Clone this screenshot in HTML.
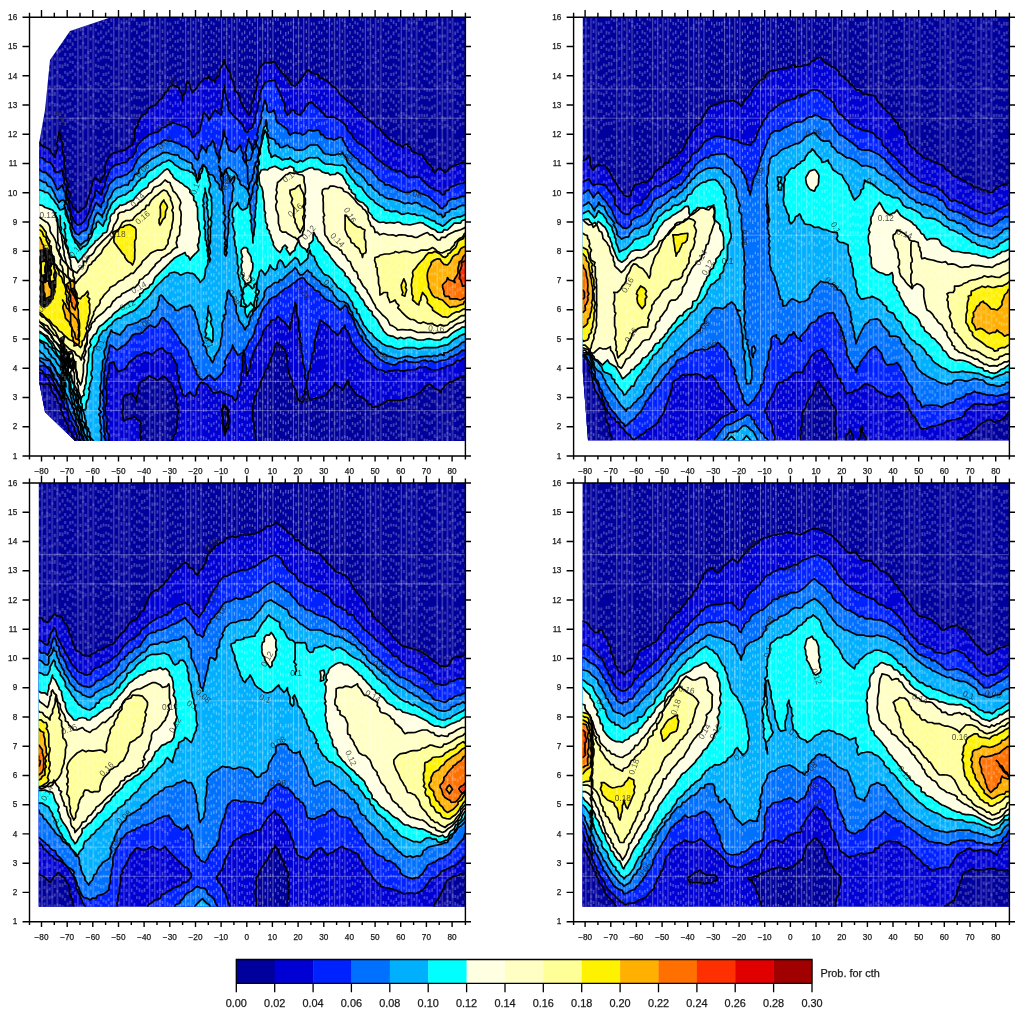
<!DOCTYPE html>
<html lang="en"><head><meta charset="utf-8"><title>Prob. for cth</title>
<style>html,body{margin:0;padding:0;background:#fff}body{width:1024px;height:1017px;overflow:hidden}svg{display:block}text{font-family:"Liberation Sans",sans-serif;fill:#1a1a1a;stroke:#1a1a1a;stroke-width:.25px}.tk text{font-size:8.2px}.cb text{font-size:10.9px}.cl text{font-size:8.3px;fill:#222;stroke:none;opacity:.78}</style></head><body>
<svg width="1024" height="1017" viewBox="0 0 1024 1017">
<defs><pattern id="tex" width="143.696" height="117.0" patternUnits="userSpaceOnUse" x="41.5" y="17"><path d="M0.50 0V117.0M5.63 0V117.0M10.76 0V117.0M15.90 0V117.0M36.42 0V117.0M41.55 0V117.0M46.68 0V117.0M51.82 0V117.0M72.35 0V117.0M77.48 0V117.0M82.61 0V117.0M87.75 0V117.0M108.27 0V117.0M113.40 0V117.0M118.53 0V117.0M123.67 0V117.0" stroke="#fff" stroke-opacity=".34" stroke-width="1"/><path d="M0.50 27.1v2.6M0.50 62.0v2.6M0.50 42.2v2.6M0.50 68.8v2.6M0.50 71.3v2.6M0.50 7.5v2.6M0.50 1.5v2.6M5.63 95.5v2.6M5.63 29.6v2.6M5.63 26.7v2.6M5.63 113.5v2.6M5.63 53.6v2.6M5.63 95.4v2.6M5.63 54.3v2.6M10.76 72.9v2.6M10.76 17.2v2.6M10.76 72.4v2.6M10.76 99.0v2.6M10.76 59.6v2.6M10.76 84.5v2.6M10.76 76.5v2.6M15.90 7.3v2.6M15.90 86.4v2.6M15.90 67.4v2.6M15.90 34.3v2.6M15.90 3.5v2.6M15.90 98.7v2.6M15.90 53.9v2.6M36.42 81.9v2.6M36.42 100.2v2.6M36.42 81.4v2.6M36.42 105.0v2.6M36.42 45.0v2.6M36.42 91.3v2.6M36.42 50.7v2.6M41.55 106.7v2.6M41.55 100.2v2.6M41.55 11.1v2.6M41.55 15.5v2.6M41.55 24.7v2.6M41.55 110.1v2.6M41.55 49.7v2.6M46.68 71.4v2.6M46.68 34.3v2.6M46.68 57.8v2.6M46.68 44.0v2.6M46.68 40.0v2.6M46.68 66.7v2.6M46.68 66.6v2.6M51.82 103.1v2.6M51.82 77.7v2.6M51.82 105.9v2.6M51.82 97.6v2.6M51.82 113.0v2.6M51.82 76.5v2.6M51.82 18.6v2.6M72.35 98.1v2.6M72.35 110.0v2.6M72.35 103.1v2.6M72.35 64.9v2.6M72.35 81.4v2.6M72.35 24.1v2.6M72.35 94.8v2.6M77.48 65.4v2.6M77.48 32.5v2.6M77.48 7.2v2.6M77.48 97.3v2.6M77.48 112.8v2.6M77.48 10.1v2.6M77.48 91.3v2.6M82.61 46.8v2.6M82.61 17.2v2.6M82.61 33.5v2.6M82.61 87.6v2.6M82.61 99.5v2.6M82.61 5.0v2.6M82.61 70.1v2.6M87.75 5.1v2.6M87.75 81.9v2.6M87.75 37.7v2.6M87.75 100.4v2.6M87.75 111.8v2.6M87.75 57.6v2.6M87.75 113.8v2.6M108.27 35.3v2.6M108.27 8.8v2.6M108.27 68.4v2.6M108.27 3.6v2.6M108.27 22.5v2.6M108.27 46.5v2.6M108.27 69.6v2.6M113.40 17.8v2.6M113.40 4.8v2.6M113.40 98.9v2.6M113.40 35.8v2.6M113.40 109.3v2.6M113.40 102.2v2.6M113.40 43.1v2.6M118.53 52.5v2.6M118.53 59.3v2.6M118.53 73.4v2.6M118.53 67.9v2.6M118.53 63.8v2.6M118.53 70.7v2.6M118.53 107.2v2.6M123.67 57.8v2.6M123.67 49.2v2.6M123.67 82.1v2.6M123.67 27.1v2.6M123.67 34.3v2.6M123.67 111.5v2.6M123.67 59.4v2.6" stroke="#fff" stroke-opacity=".2" stroke-width="2"/><path d="M3.07 5.5v2.6M3.07 14.1v3.3M3.07 20.7v3.3M3.07 30.3v2.7M3.07 40.0v3.2M3.07 49.9v3.0M3.07 59.9v3.5M3.07 66.5v2.7M3.07 76.4v3.8M3.07 84.1v3.1M3.07 93.6v3.0M3.07 101.9v3.0M3.07 110.3v3.3M8.20 3.8v3.5M8.20 10.4v3.3M8.20 20.6v3.0M8.20 28.2v3.6M8.20 35.9v2.8M8.20 44.6v3.4M8.20 51.6v3.0M8.20 59.7v3.6M8.20 68.4v3.6M8.20 75.8v3.0M8.20 85.5v3.7M8.20 94.3v2.9M8.20 101.4v3.2M8.20 108.8v3.6M13.33 1.8v2.9M13.33 12.4v3.4M13.33 22.9v3.0M13.33 30.1v3.0M13.33 40.5v2.9M13.33 48.8v3.1M13.33 57.4v3.1M13.33 68.5v2.8M13.33 75.0v3.7M13.33 85.9v3.8M13.33 94.5v3.7M13.33 105.7v2.9M18.46 8.4v3.4M18.46 17.5v2.9M18.46 25.7v2.9M18.46 32.5v3.3M18.46 40.4v3.6M18.46 47.2v3.7M18.46 57.1v3.7M18.46 68.1v3.7M18.46 77.5v2.6M18.46 87.7v2.8M18.46 95.7v3.4M18.46 104.9v3.1M21.03 6.1v3.0M21.03 13.9v3.6M21.03 22.8v3.5M21.03 31.0v2.8M21.03 40.2v3.6M21.03 47.6v3.6M21.03 58.7v3.6M21.03 69.3v2.6M21.03 78.9v3.6M21.03 85.7v2.9M21.03 93.5v3.2M21.03 102.1v3.2M21.03 112.5v2.6M23.60 1.3v2.7M23.60 8.1v3.8M23.60 18.9v2.7M23.60 27.9v3.0M23.60 36.0v3.0M23.60 45.7v3.3M23.60 54.0v2.8M23.60 62.1v2.7M23.60 71.4v3.5M23.60 79.8v2.7M23.60 87.2v3.0M23.60 96.7v3.5M23.60 105.1v3.6M26.16 4.3v3.0M26.16 13.3v3.4M26.16 21.9v3.4M26.16 30.7v2.9M26.16 39.9v3.4M26.16 46.7v3.1M26.16 55.4v3.7M26.16 66.6v3.0M26.16 77.5v3.5M26.16 85.4v3.2M26.16 92.5v3.6M26.16 102.3v3.7M26.16 112.7v3.4M28.73 5.6v2.7M28.73 15.1v2.6M28.73 22.3v3.5M28.73 29.0v2.7M28.73 36.0v3.7M28.73 43.4v2.6M28.73 54.1v2.7M28.73 64.8v3.4M28.73 75.5v3.7M28.73 84.9v3.6M28.73 91.6v3.5M28.73 100.7v3.5M28.73 107.7v3.5M31.30 0.6v3.0M31.30 9.9v3.6M31.30 17.6v2.8M31.30 25.4v3.3M31.30 35.7v3.1M31.30 44.0v3.1M31.30 52.2v3.1M31.30 59.2v3.2M31.30 70.5v3.1M31.30 80.8v2.8M31.30 90.7v3.5M31.30 100.6v3.2M31.30 109.5v3.4M33.86 1.5v2.7M33.86 11.7v3.7M33.86 20.8v3.1M33.86 30.9v2.8M33.86 38.8v2.8M33.86 48.2v3.0M33.86 55.8v3.4M33.86 67.1v3.0M33.86 77.1v3.1M33.86 87.9v3.3M33.86 95.7v2.9M33.86 102.4v3.2M33.86 110.8v2.8M38.99 3.2v3.5M38.99 10.4v3.8M38.99 19.3v3.3M38.99 28.2v3.6M38.99 38.8v3.3M38.99 47.7v3.5M38.99 58.5v3.1M38.99 68.6v3.8M38.99 77.5v2.9M38.99 85.2v3.5M38.99 95.0v3.8M38.99 105.8v2.9M38.99 113.2v2.9M44.12 7.0v3.6M44.12 18.0v2.9M44.12 28.9v3.0M44.12 37.5v3.5M44.12 44.4v2.7M44.12 55.1v3.0M44.12 63.4v3.3M44.12 73.2v2.6M44.12 81.4v3.1M44.12 90.4v2.9M44.12 99.8v3.7M44.12 108.2v3.3M49.25 2.7v3.4M49.25 9.8v3.7M49.25 20.9v2.7M49.25 32.1v3.0M49.25 42.4v3.5M49.25 50.4v3.4M49.25 60.2v3.6M49.25 68.0v3.5M49.25 79.3v3.4M49.25 88.5v2.7M49.25 97.5v3.0M49.25 107.5v3.4M54.38 1.8v3.4M54.38 11.5v2.8M54.38 22.4v3.4M54.38 29.5v3.7M54.38 36.7v3.0M54.38 46.8v3.3M54.38 56.1v3.4M54.38 64.9v3.0M54.38 72.3v2.7M54.38 82.4v3.5M54.38 91.6v3.5M54.38 99.9v2.9M54.38 108.3v3.6M56.95 5.0v2.9M56.95 15.4v3.0M56.95 23.6v3.1M56.95 32.8v3.5M56.95 41.0v3.6M56.95 48.1v2.9M56.95 55.1v2.7M56.95 65.5v3.5M56.95 72.9v2.8M56.95 81.5v3.5M56.95 92.1v3.5M56.95 101.5v2.8M56.95 110.0v2.8M59.52 5.7v2.8M59.52 13.4v3.5M59.52 20.1v3.6M59.52 31.0v3.7M59.52 39.5v3.3M59.52 48.9v3.4M59.52 60.3v3.4M59.52 68.3v3.6M59.52 77.2v3.3M59.52 87.3v2.6M59.52 97.7v3.4M59.52 106.6v3.2M62.08 1.9v3.2M62.08 8.6v3.2M62.08 18.3v3.1M62.08 27.7v3.8M62.08 38.6v2.8M62.08 49.1v3.3M62.08 55.9v3.0M62.08 63.5v2.7M62.08 72.7v3.7M62.08 80.8v3.6M62.08 90.8v2.8M62.08 101.6v3.3M62.08 112.7v3.5M64.65 3.4v3.6M64.65 14.6v3.6M64.65 23.3v3.5M64.65 32.2v2.7M64.65 38.9v2.7M64.65 46.4v2.8M64.65 55.4v3.4M64.65 64.6v3.1M64.65 74.3v3.0M64.65 83.2v3.5M64.65 91.7v2.8M64.65 102.7v3.5M64.65 111.0v3.0M67.22 6.0v2.9M67.22 12.5v2.9M67.22 22.9v2.8M67.22 31.7v2.8M67.22 39.2v2.8M67.22 47.8v2.8M67.22 54.4v2.7M67.22 61.7v3.2M67.22 68.5v2.6M67.22 77.3v3.1M67.22 87.3v2.7M67.22 95.8v3.1M67.22 102.4v3.8M67.22 110.0v2.7M69.78 1.6v3.3M69.78 9.9v2.7M69.78 16.6v3.5M69.78 24.5v3.5M69.78 33.3v3.7M69.78 41.3v2.9M69.78 49.2v3.6M69.78 58.8v3.0M69.78 65.8v3.4M69.78 77.1v3.3M69.78 83.7v2.6M69.78 90.6v2.8M69.78 97.3v2.7M69.78 107.1v3.7M74.92 9.7v3.2M74.92 20.3v3.7M74.92 31.5v2.6M74.92 39.5v3.3M74.92 50.7v2.7M74.92 58.7v3.6M74.92 65.8v3.1M74.92 73.9v3.4M74.92 85.1v2.8M74.92 95.3v3.5M74.92 105.9v3.3M80.05 3.6v3.1M80.05 11.3v3.5M80.05 20.2v2.9M80.05 27.5v3.5M80.05 37.1v3.5M80.05 45.5v3.2M80.05 52.8v3.5M80.05 59.4v3.2M80.05 69.7v3.4M80.05 76.7v2.9M80.05 87.4v3.4M80.05 98.3v3.6M80.05 107.0v3.7M85.18 3.3v3.0M85.18 10.2v3.1M85.18 21.5v2.7M85.18 30.8v2.7M85.18 37.7v3.4M85.18 45.4v2.7M85.18 52.7v3.4M85.18 62.1v2.6M85.18 69.8v3.8M85.18 77.4v3.3M85.18 86.0v3.5M85.18 95.5v3.5M85.18 104.7v2.8M85.18 112.1v2.7M90.31 1.1v2.6M90.31 12.5v2.8M90.31 23.4v2.7M90.31 32.2v2.9M90.31 42.9v3.3M90.31 52.6v3.5M90.31 63.5v3.0M90.31 73.0v3.1M90.31 80.0v3.6M90.31 89.5v3.6M90.31 97.0v3.2M90.31 105.9v3.5M90.31 112.7v3.0M92.88 0.7v3.3M92.88 10.9v3.1M92.88 20.6v3.3M92.88 28.2v3.0M92.88 39.7v3.0M92.88 48.3v2.7M92.88 55.9v2.8M92.88 67.1v3.5M92.88 78.0v3.8M92.88 87.5v3.7M92.88 96.7v3.1M92.88 107.9v3.7M95.45 4.8v3.5M95.45 13.4v3.8M95.45 24.5v3.0M95.45 35.6v2.8M95.45 42.6v3.5M95.45 50.6v3.2M95.45 60.3v2.6M95.45 70.5v2.9M95.45 79.2v3.0M95.45 89.4v3.5M95.45 97.3v2.7M95.45 105.3v3.1M95.45 112.2v2.8M98.01 7.0v3.8M98.01 18.4v3.7M98.01 26.8v2.8M98.01 34.8v3.2M98.01 44.0v3.3M98.01 52.3v3.6M98.01 60.2v3.2M98.01 71.1v3.6M98.01 79.1v2.9M98.01 89.6v2.6M98.01 96.8v3.2M98.01 106.0v2.8M98.01 112.7v2.8M100.58 4.7v3.8M100.58 15.1v3.8M100.58 21.8v2.8M100.58 28.3v3.1M100.58 36.5v2.7M100.58 45.7v2.7M100.58 53.8v2.9M100.58 64.3v3.1M100.58 72.1v2.7M100.58 80.8v3.4M100.58 90.6v3.7M100.58 101.2v2.9M100.58 108.4v3.5M103.15 5.1v3.6M103.15 14.3v2.9M103.15 21.7v2.6M103.15 31.4v3.7M103.15 42.4v3.2M103.15 52.3v3.7M103.15 62.8v3.3M103.15 71.4v3.2M103.15 78.8v2.8M103.15 88.7v3.8M103.15 97.9v3.1M103.15 106.2v3.1M105.71 4.5v3.8M105.71 11.8v3.0M105.71 20.9v3.1M105.71 31.7v3.6M105.71 42.8v3.3M105.71 49.5v3.3M105.71 58.7v3.2M105.71 66.6v3.5M105.71 77.7v2.7M105.71 87.5v3.0M105.71 96.6v3.7M105.71 107.9v3.4M110.84 9.2v2.8M110.84 17.6v3.6M110.84 25.7v2.9M110.84 37.0v3.7M110.84 45.0v3.1M110.84 53.0v2.8M110.84 60.7v3.8M110.84 67.6v2.9M110.84 75.1v2.7M110.84 84.2v3.5M110.84 94.9v3.4M110.84 105.5v2.6M115.97 9.6v2.7M115.97 17.4v3.2M115.97 25.3v3.3M115.97 32.0v2.9M115.97 43.3v2.8M115.97 54.3v2.8M115.97 65.8v3.4M115.97 75.5v2.8M115.97 82.3v3.5M115.97 89.7v2.8M115.97 100.3v3.6M115.97 107.0v3.8M121.10 3.8v2.7M121.10 12.3v3.8M121.10 20.2v2.8M121.10 27.4v2.8M121.10 35.7v3.7M121.10 42.6v2.8M121.10 53.7v3.8M121.10 65.1v2.9M121.10 73.4v3.7M121.10 82.3v3.4M121.10 90.4v2.6M121.10 98.6v3.5M121.10 109.0v3.3M126.23 5.4v3.1M126.23 14.6v3.6M126.23 22.1v3.3M126.23 33.2v3.6M126.23 40.6v3.8M126.23 51.3v2.8M126.23 59.1v2.8M126.23 65.9v3.8M126.23 74.5v3.6M126.23 81.5v2.6M126.23 92.4v3.6M126.23 103.8v3.4M126.23 113.0v3.5M128.80 5.4v3.1M128.80 12.6v3.3M128.80 20.8v3.2M128.80 29.1v3.0M128.80 37.4v3.3M128.80 48.8v3.7M128.80 59.6v3.6M128.80 67.6v3.8M128.80 75.4v2.7M128.80 84.4v3.5M128.80 92.6v3.4M128.80 100.5v3.8M128.80 109.3v3.2M131.37 8.7v3.8M131.37 17.9v3.1M131.37 27.5v2.7M131.37 36.1v3.6M131.37 46.5v2.7M131.37 57.3v3.1M131.37 68.7v3.0M131.37 76.2v3.3M131.37 87.2v3.1M131.37 98.0v3.5M131.37 106.3v3.0M133.93 4.0v3.0M133.93 13.7v3.7M133.93 23.2v2.8M133.93 30.8v3.0M133.93 40.3v2.8M133.93 47.3v3.0M133.93 55.2v2.6M133.93 64.4v3.7M133.93 73.5v3.5M133.93 84.2v3.6M133.93 95.2v3.1M133.93 105.2v2.7M136.50 3.8v3.2M136.50 14.7v2.9M136.50 22.2v3.6M136.50 31.7v2.7M136.50 38.3v3.0M136.50 44.9v3.6M136.50 52.3v2.9M136.50 60.7v3.2M136.50 69.4v3.4M136.50 79.2v3.1M136.50 86.2v3.8M136.50 96.1v2.7M136.50 104.8v3.5M139.07 0.7v2.6M139.07 9.6v3.1M139.07 20.5v3.6M139.07 28.7v3.1M139.07 38.1v3.7M139.07 45.6v3.1M139.07 52.6v3.4M139.07 59.2v3.7M139.07 68.3v3.3M139.07 75.2v2.9M139.07 84.1v3.6M139.07 93.3v2.9M139.07 104.7v3.4M141.63 2.0v3.0M141.63 13.0v2.8M141.63 22.2v3.3M141.63 30.5v3.5M141.63 41.5v3.6M141.63 51.7v2.8M141.63 58.5v3.1M141.63 66.6v2.8M141.63 77.4v2.9M141.63 88.0v3.7M141.63 95.1v3.7M141.63 103.6v2.9M141.63 111.0v2.6" stroke="#fff" stroke-opacity=".38" stroke-width="1.15"/></pattern></defs>
<rect width="1024" height="1017" fill="#fff"/>
<g id="panel1">
<defs><path id="p1_1" d="M25 142.5l3.2-.1 2.6-1.3 3.8 1.3 1.3 0 4.1 .1 1.1 2.5 3.9 2.5 1.2 0 3.8 2.5 1.3 2.7 1.3 1.3 2.4 3.5 .2-2.3 1.3-3.8 1.2-2.6 0-2.5-1.2-2.6 1.2-2.6 0-2.5 1.3-3.9 0-2.6 1-2.1-1 2.1 2.6 3.9-1.3 2.6 1.3 2.5 1.3 3.9-1.3 2.5 .9 2.5 .4 4 1.2 1.2 0 2.6 0 3.9 0 2.5 0 2.6 1.3 2.6 0 2.5 0 2.6 0 2.6 .8 2.9 1.8 3.5 0 2.5-1.3 2.6 2.6 3.8 1.3 1.3-1.3 3.9 0 2.5 1.9 2.4 .6 1.5 1.3 3.8 2.6 1.3 1.8 3.4 2-.8 2.6-2.6 2.9-1.6 1-2.2 1.2-2.6 0-2.6 1.3-2.5 1.3-3.9 0-1.3 1.4-2.4-.1-2.7 1.3-2.5 0-2.6 1.3-2.6 1.3-2.1 3.8 3.4 1.2 1.6 1.4-2.9 1.2-2.5 1.3-1.3 1.3-2.6-.2-3.2 .2-3.2 0-1.3 1.3-3.8 1.3-2.6 1-1.6 1.5-2.3 1.3-1.2 3.4-1.5 3-1.1 2.6 0 4.4-1.4 3.3-2.5 1.3-1.2 2.9-1.3 .9-3.9 1.3-1.3 0-3.8 0-3.9 0-2.5 1.5-2.1 2.4-3-1.3-1.3 2.5-3.9 1.3-2.5 1.4-1.8 2.5-.8 2.5-2.6 0-2.5 2.5-1.6 1.4-1 3.8-1.3 2.3-2.7 1.6-2.4 2.6-1.3 2.5-3.9 .8-2.4 3.1-1.4 0-2.6 2.5-2.5 1.9-1 2 1 4.3 1.5 .8 3.6 1.3 1.3 1.3 3.8 0 2.6 .3 2.4-.3-3.7 1.3-2.6 1.3-1.2 1.2-3.9 0-2.6 0-2.5 1.5-3.5 2.4 3.5 0 2.5 1.3 2.6 1.3 2.7 1.2-1.4 3.9-3.9 0-1.2 2.4-3.5 2.7-1.7 1.3-2.5 3.8 0 1-2.1 1.6 3.3 3.9 1.3 .7 1.7 .5-3 1.3-2.5 2.6-1.3 0-2.6 .6-3.1 .7-2 2.5-3.9 0-2.5 1-1.6 .3 2.9 1.3 2.5 1.3 2.6 1.3 2.6 1.6 1.9 .9 3.2 0 2.6 1.3 1.2 1.3 2.6 0 2.6 1.5 2.8-.2 3.6 2.6 1.3 1.2 2.5 1.4 2.6-.1 2.6 1.3 2.5 1.3 2.4 1.3 2.8 1.3 1.3 2.5 3.8 1.2 2.1 1.4-2.1 1.3-3.8 0-2.6 0-2.6 1.3-2.5 1.2-2.6 0-2.6 1-3.7 1.6-2.7 0-2.6 1.3-3.8-1.3-2.6 0-2.5 1.3-2.6 1.3-2.6 0-2.5 .8-3.1 3-3.4 2-1.6 4.4 .4 1.3 0 4.3-1.7 .8 2.9 2.6 3.9 1.3 1.3 1.5 3.2 2.3 1.9 1.3 1.3 2.6 2.6 1.3 2.5 1.3 1.7 1.2 2.2 3.8 1.5 2.7-2.8 1.2-1.3 2.3-3.3 1.6-1.8 1.3-2.6 1.3-1.3 2.1-3.1 1.7 .6 2.6 2.5 3.2 .7 3.2 .6 1.3 3.9 2.5 0 3 1.7 2.2 .8 2.5 2.6 2.6 2.6 2.7 1.5 2.4 2.3 1.3 2.6 1.3 2.5 2.6 1.3 2.4 2.6 2.7 2.6 1.3 0 2.5 2.5 1.3 1.3 2.2 2.3 1.7 1.6 2.5 2.5 2.6 1.3 1.3 2.6 1.9 2 1.9 .5 2.6 2.6 3.9 2.6 1.6 1.8 .9 2 3.9 1.3 1.3 2.6 2.5 2.5 1.4 1.6 2.5 2.3 2.5 2.5 2.6 1.3 2.4 1.4 2.7 2.5 2.6 0 2.2 2.5 1.6-2.5 3.4-1.2 .5 2.5 2.6 1.2 1.2 3.9 3.2 1.1 3.3 1.5 1.2 0 3 1 .9 2.8 2.6 2.6 1.2 2.5 2.8 2.1 2.4 3.1 0 2.5 2.6 1.9 2.5-3.1 2.5-1.9 1.4 1.9 3.6 3.1 2.8-1.9 1.2-2.5 3.5-1.9 1.7-.7 3.8-1.3 2.6-1.3 3.8 0 3.1 .1 3.4-.1 2.5 0 2.6 1.3 2-1.2-.7 2.5 1.3 2.6 0 2.5-1.3 3.9 1.3 1.3 0 3.8-1.3 1.3 1.3 3.9 0 2.5 0 2.6 0 2.5-1.3 1.3 0 2.6 0 3.8 1.3 2.6 0 2.6 0 1.3 0 3.8 0 2.6 0 1.3 0 2.5-1.3 2.6 1.3 2.6 0 3.8 0 2.6 0 2.5 0 2.6 0 1.3-1.3 3.8 1.3 2.6 0 1.3-1.3 3.8 1.3 2.6 0 2.6 0 2.5 0 2.6 0 2.6 0 3.8-1.3 1.3 1.3 3.8-1.3 1.3 0 3.9 0 1.3 0 2.5 1.3 2.6 0 2.6 0 3.8-1.3 2.6 1.3 1.3-1.3 2.5 0 2.6 0 2.6 0 3.8 0 2.6 1.3 1.3 0 3.8 0 1.3-1.3 3.8 1.3 2.6-1.3 2.6 0 1.3 0 3.8 0 3.8 0 1.3 1.3 2.6-1.3 3.8 1.3 1.3 0 3.9 0 1.3 0 1.2 0 3.9 0 2.6-1.3 2.5 1.3 2.6 0 2.6-1.3 3.8 1.3 1.3 0 2.6 0 2.5-1.3 2.6 0 3.8 1.3 1.3 0 3.9-1.3 1.3 0 2.5 0 2.6 0 2.5 1.3 3.9 0 2.6-1.3 2.5 0 1.3 0 2.6 1.3 2.5 0 3.9 0 1.3-1.3 3.8 0 2.6 1.3 2.6 0 1.2-1.3 3.9 1.3 2.6 0 1.2-1.3 5.2 1.3 2.5 0 1.3-1.3 2.6 1.3 2.6 0 3.8 0 2.6 0 1.2-.6 3-3.3 .9-2.6 0-1.2-1.3-3.9 0-1.3 1.3-3.8-1.3-2.6 0-2.6 0-2.5 0-2.6 0-1.3 1.3-2.5-1.3-3.9 0-1.3 1.3-3.8-1.3-2.6 1.3-2.5-1.3-2.6 1.3-2.6-1.3-2.5 0-2.6 0-2.6 1.3-2.5-1.3-1.3 0-3.9 0-3.8 1.3-2.6 0-1.3-1.3-3.8 0-1.3 1.3-3.9-1.3-2.5 1.3-2.6-1.3-2.6 0-1.2 1.3-2.6 0-2.6-1.3-3.8 1.3-1.3-1.3-2.6 0-3.8 0-2.6 0-2.5 0-1.3 0-2.6 0-3.8 1.3-1.3-1.3-3.9 0-2.5 1.3-2.6-1.3-1.3 0-3.8 1.3-2.6-1.3-3.9 0-3.8 1.3-2.6-1.3-1.3 0-3.8 1.3-2.6-1.3-3.8 1.3-1.3-1.3-2.6 0-3.8 0-1.3 1.3-3.8-1.3-1.3 0-2.6 0-2.6 1.3-2.5 0-2.6-1.3-3.8 0-1.3 0-3.9 1.3-2.5-1.3-2.6 0-2.6 1.3-1.3 0-3.8-1.3-2.6 0-2.5 0-2.6 0-2.6 1.3-2.5 0-2.6-1.3-1.3 0-3.8 0-2.6 0-2.6 0-3.8 1.3-1.3-1.3-2.6 1.3-2.5-1.3-2.6 1.3-2.6-1.3-2.5 1.3-2.6 0-3.8-1.3-2.6 0-1.3 0-2.6 0-2.5 0-3.9 1.3-1.3-1.3-2.5 0-3.9 0-2.5 0-2.6 0-1.3 0-3.8 0-1.3 0-3.9 0-1.2 0-3.9 0-2.6 0-2.5 0-2.6 1.3-2.6-1.3-2.5 1.3-2.6-1.3-2.6 0-1.2 1.3-3.9-1.3-2.6 0-3.8 1.3-1.3 0-2.6 0-2.5-1.3-3.9 0-1.3 1.3-3.8-1.3-1.3 0-3.8 0-1.3 1.3-3.9-1.3-1.2 1.3-3.9-1.3-1.3 1.3-3.8-1.3-1.3 0-2.6 0-2.5 0-2.6 0-3.9 1.3-1.2-1.3-3.9 0-2.6 0-2.5 0-1.3 1.3-3.9-1.3-1.2 0-2.6 0-3.9 0-2.5 0-2.6 0-2.6 1.3-2.5-1.3-3.9 0-1.3 0-2.5 1.3-2.6-1.3-2.5 0-3.9 0-2.6 0-1.2 0-2.6 0-2.6 1.3-2.5-1.3-2.6 0-2.6 0-2.5 1.3-2.6 0-3.9 0-1.9-.9-.6-1.7 1.3-3.8 0-1.3-1.3-3.8 1.3-2.6 0-2.6 0-2.5-1.3-1.3 0-3.9 0-2.5 0-2.6 0-1.3 1.3-2.6-1.3-3.8 0-2.6 1.3-2.5 0-2.6 0-2.6-1.3-2.5 1.3-2.6 0-3.9 0-1.2-1.3-2.6 0-3.9 1.3-2.5 0-2.6 0-1.3 0-2.5-1.3-3.9 0-2.5 1.3-2.6 0-1.3-1.3-3.8 1.3-2.6-1.3-2.6 0-2.5 0-2.6 1.3-2.6 0-2.5-1.3-1.3 0-3.9 0-2.5 1.3-1.3-1.3-3.9 0-2.5 1.3-2.6 0-2.6 0-2.5-1.3-1.3 0-3.9 0-2.5 0-2.6 0-2.6 1.3-3.8-1.3-1.3 0-2.6 1.3-3.8-1.3-2.6 0-1.3 1.3-2.5-1.3-2.6 1.3-2.6 0-2.5-1.3-3.9 0-2.5 0-1.3 1.3-2.6 0-3.8 0-2.6 0-2.6-1.3-1.3 1.3-3.8 0-2.6-1.3-2.5 1.3-1.3 0-3.9 0-2.5-1.3-1.3 1.3-3.9 0-1.2-1.3-2.6 1.3-2.6-1.3-3.8 1.3-2.6-1.3-2.6 0-1.2 0-5.2 0-5.1 0-2.6 1.3-1.3 0-2.5-1.3-2.6 0-2.6 1.3-2.5-1.3-2.6 1.3-2.6-1.3-3.8 0-2.6 1.3-1.3 0-2.5 0-3.9-1.3-2.5 1.3-2.6-1.3-2.6 0-2.5 0-1.3 0-3.9 1.3-2.5 0-2.6-1.3-2.6 0-1.2 0-2.6 1.3-3.9 0-2.5 0-2.6-1.3-2.6 1.3-1.2Z"/><path id="p1_2" d="M25 380l1.9-.2 5.2 1.3 2.9 .1 2.2 1.1 3.9 1.3 2.5 1.3 2.6-1.3 3.8 1.4 1.3 2.5 0 2.5 1.3 2.6 2.6 2.6 1.3 2.5 1 2.3 .2 2.9 2.6 1.2 1.3 2.6-1.3 2.6 2.6 3.8 0 2.6 1.2 1.3 .9 3 1.7 3.4 1.3 1.3 0 2.5 1.3 3.9 2.5 1.3 0 2.5 2.6 2.6 .6 2.5-.6 2.6 1.3 3.9-.7 3.5-3.2 .3-1.2 0-3.9 0-2.6 0-2.5 0-2.6 0-1.3 1.3-5.1 0-2.6-1.3 0 1.3-3.8 0-3.9 0-2.5-1.3-1.3 0-2.6 1.3-2.5 0-2.6 0-3.9 0-1.9 .4-.6-1.7 1.3-3.8 0-2.6-1.3-2.5 1.3-2.6 0-2.6 0-2.5 0-2.6-1.3-2.6 0-3.8 1.3-1.3 0-3.9-1.3-2.5 1.3-2.6 0-1.3-1.3-3.8 1.3-2.6-1.3-1.3 0-3.8 0-2.6 1.3-2.6-1.3-2.5 1.3-2.6 0-2.6 0-3.8-1.3-1.3Z"/><path id="p1_3" d="M122.6 414.5l-.7-2.7 1.3-2.5 0-2.6 0-3.8 0-2.6 0-2.6 1.5-2.5 2.3 0 2.6-1.3 2.6-.8 1.2 3.3 2.6 2.6 .5 2.7-.5-2.7 1.3-3.8 0-1.3 1.3-2.6 0-3.8 0-1.3 1.2-3.9 2.6-1.2 2.6-1.3 2.5-2.6 1.9-1.3 2 1.3 3.8 1.3 1.7 1.7 3.5-1.7 1.3-1.3 2.8-.3 2.3 1.6 1.3 2.6 2.8 1.2 1 2.6 1.3 2.6 1.3 2.5 .7 3.1 .6 2.1 1.3 3.8-1.3 3.9 2.5 2.5-1.2 2.6 1.3 2.2-.1 1.6-1.2 5.2 1.2 1.3-1.2 2.5 0 3.9 .3 2.7-1.6 2.4 0 3.9-2.6 2.5 0 2.6-1.2 1.5-.1 3.6 0 3.9 0 2.5 .1 2.9-2.6 1-2.6 0-2.6-1.3-3.8 0-2.6 0-2.6 0-2.5 0-3.9 1.3-3.8 0-1.3-1.3-2.9 .3 .3-2.9 0-3.8 0-3.9-.3-2.3 .3-2.8-1.3-2.6 1.3-2.5-1.3-2.6 0-3.8 1.3-2.6-1.3-2.4-2.5-1.5-2.9-2.8-3.5 1.6-3 .5-4.3 2.2-.4-2.7Z"/><path id="p1_4" d="M256.2 450l.4-2.2-1.3-5.2 .9-2.6-.9-2.5 0-3.8 0-2.6-1.3-2.6 0-1.3 0-3.8-1.2-3.9-.3-2 .3-3.1 0-2.6-.3-4.3 .3-2.1 1.2-2.5 0-3.9 0-2.6 2.6-1.2 0-2.6 .9-2.6 1.7-2.5 1.2-2.6 0-2.6 1.3-2.5 1.3-2.6 1.3-2.6 .7-2.1 .6-3 2.5-1.3 0-3.8 1.3-1.3 1.3-3.9 0-1.2 1.8-3 .8-2.2 1.3-2.5 0-2.6 1.2-3.9 1.7-1.3 2.2 2.6 2.6 1.3 0 1.3 2.7 2.3 1.1 4.1 1.3 1.3-1.3 2.6 1.3 2.5 0 2.6 0 3.8 1.3 3.9 0 2.6 1.3 1.6 0 2.2 2.5 2.6 0 2.5 0 2.6 2.6 3.8 1.3 3.9 0 2.6 1.1 2.3 1.4 2.8 3.6 2.2 1.6-3.5-1.3-2.6 2.6-3.8-1.3-1.3 1.3-2.6 .8-3.7 .4 2.5 1.3 3.8 0 2.6 1.3 3.8 .8 2.3 3.1-1 3.8-1.3 3.1-.2 2-1.1 3.9-1.2 1.6-2.7 2.2-2.5 1.3-1.3 2.6-2.5 1.4-3.7 1.1 2.4 3.9 2.6 1.3 0 1.2 2.5 1.3-1.3 1.3-3.8 1.3-1.3 1.1-3.6 1.5 2.3 0 2.6 2.5 2.6 2.6 3.8 .9 1.2 1.7 2.7 3.8 1.2 2 1.1 1.9 1.5 2.5 2.6 1.3 2.5 2.6 0 1.7 3.4 2.1-.8 2.6 0 2.8-1.7 3.6-2.1 1.3 0 2.6-2.6 2.5-.3 2.6 .3 5.1 0 2.3-.3 2.9 .3 3.8-2.6 3.3-.2 3.1-1.1 2.6-1.2 1.3-1.3 3-1.4 2.1-2.5 1.3-1.3 2.6-2.5 2.8-2.4 2.3 1.1 1.3 1.3 2.6 2.6 3.8 1.2 2.4 2.5 .2-2.5 2.5-2.5 1.1-2.5 2.8-1.4 2.5-2.5 1.3 1.2 3.4-2.3 3-1.5 2.6-1.3 2.6 0 2.5-1.3 1.8-.9 .8 3.5-1.3 1.3 0 2.5 0 2.6 0 3.8 0 2.6 1.3 1.3 0 3.8-1.3 3.9 0 1.3 1.3 3.8 0 1.3-1.3 2.6 1.3 3.8-1.3 1.3 0 2.6 1.3 3.8 0 1.3 0 3.9 0 3.8-1.3 1.3 1.3 3.8 0 1.3 0 3.9-1.3 1.3 0 2.5 0 2.6 .5 3.5-3.1-1-1.2 0-2.6 0-3.9 1.3-2.5 0-1.3 0-3.9 0-2.5 0-1.3 0-3.8 0-2.6 0-2.6-1.3-2.5 0-2.6 1.3-3.9 0-1.2 0-3.9-1.3-1.3 1.3-3.8 0-2.6 0-2.6 0-2.5 0-1.3-1.3-2.6 0-3.8 0-2.6 1.3-1.3 0-3.8-1.3-1.3 0-2.6 0-2.5 0-2.6 1.3-3.8-1.3-1.3 1.3-3.9 0-1.3-1.3-3.8 0-2.6 1.3-2.5-1.3-3.9 0-1.3 1.3-2.5-1.3-2.6 1.3-2.6 0-3.8-1.3-1.3 1.3-2.6-1.3-2.5 1.3-2.6 0-2.6-1.3-2.5 1.3-2.6-1.3-3.9 1.3-2.5-1.3-2.6 1.3-2.5 0-2.6 0-2.6 0-1.3 0-3.8 0-2.6 0-2.5 0-1.3 0-3.9 0-2.5-1.3-1.3 0-3.9 0-2.5 1.3-3.9-1.3-1.3 0-3.8 1.3-1.3 0-2.6-1.3-2.5 1.3-3.9-1.3-1.3 1.3-2.5-1.3-2.6 0-2.6 1.3-3.8 0Z"/><path id="p1_5" d="M221.4 410.2l1.8-3.5 1.4-1.8 2.5 3.1 1.8 2.2-.5 2.9 0 2.6 0 3.8-.6 1.5-.7 2.4-1.3 2.6 0 3.8-1.2 1.9-.1-1.9 0-2.6-2.5-3.8 .5-2.4 .7-1.5-1.2-3.8 0-2.6Z"/><path id="p1_6" d="M222.5 405l2 1.7 3 3.3-.4 3.1 0 2.6 2.6 3.8 0 2.6-.9 2.9-.4 3.5-1.3 0-1.3 3.9-.8 2.6-.5-3.9-1.3-1.3 0-3.8 0-2.6-1.2-3.4 1.2-3-1.2-2.6 0-3.8 1.2-2.6Z"/><path id="p1_7" d="M25 157.5l1.9 .3 3.9-1.3 2.6 0 3.8 1.3 2.8-.3 2.3 .3 2.7 2.2 1.2 1.7 3.8 .8 2.6 3 1.3 2.6 0 2.5 2.3 1.9 2.8-.6 3.5-1.9 .4 3.2 0 2.6 1.2 2.5 0 3.9 0 1.3 2.6 2.5-.5 4 .5 2.4 0 3.9 1.3 2.6 0 1.2 1.3 3.9 0 2.6 1.3 3.8 0 1.3 .6 3.3 1.9 3.1 0 1.3 2.6 3.8 1.8 1.8 3.3-.5 2.6-2.5 1.6-2 1-1.9 1.2-2.6 1.3-2.5 1.3-3.9 0-2.5 1.3-1.3 .1-2.8 1.2-1.1 1.3-3.8 1.2-1.3 0-3.9 1.3-2.4 2.6 2.4 2.4 2.6 1.4-2.6 0-2.5 1.3-2.6 1.3-1.3 0-3.8 1-2.2 .3-2.9 1.3-1.3 1.3-3.9 .9-1.9 2.9-3.2 2.1-1.8 4.3-.8 2.6-1.3 3.1-.4 2-.8 2.6-3.9 2.9-.3 .9-2.3 1.3-2.5 1.3-1.3 0-3.9 1.5-2.5 2.3-2.6 1.3-1.3 1.3-1.3 2.6-2.3 2.5-1.5 1.3-1.3 3.9-1.3 2.3-.9 2.8-.4 2.6-2.5 2.1-2.1 3-.5 2.6-2.5 2.5 0 1.9-2 2 .7 3.8 1.3 1.7 .5 2.2 .7 3.8 1.3 1.5 .5 2.4 3.4 1.3 1.2 0 2.6 1.3 2.8 2.5-1.5 1.3-2.6 2.6-1.3 1.1-2.1 .1-1.7 1.3-5.1 0-1.3 1.3-3.9 0-2.5 1.1-3 2.8 3 1.2 1.3 1 3.2 1.6-2 1.3-2.5 1.3-2.6 2-2.9 1.8 1.6 1.3 1.3 3.1 2.1 .8-3.4-1.3-2.5 1.3-1.3 0-2.6 0-5.1 1.2-1.3 0-2.6 0-3.8 0-1.3 1.3-3.9-.3-2.2 .3 2.2 0 3.9 1.3 2.6 0 2.5 0 1.3 2.6 5.1-1.3 2.6 1.3 1.3 .4 3.5 2.1 2.9 2.6 2.6 1.5 2 2.4 1.8 2.6 3.2 2.5 2 1.3 3.8 1.3 2.6 2.4 1.6 1.4-2.9 3.6-2.1 .3-3 2.5-2.6 0-2.6 0-2.5 0-2.6 1.3-1.3 .9-2.9 .4-3.5 0-2.6 1.3-3.8 1.2-1.3-1.2-2.6 1.2-3.8 .8-2.4 1.8-2.8 0-1.2 2-3.5 4.4-1.7 2.6 0 3-.8 .8 3.4 0 2.6 1.3 1.2 1.3 2.6 1.3 2.6 .3 2.6 2.3 2.5 0 2.6 1.2 1.3 1.3 2.5 0 3.9 0 2.5 1.3 2.6 1.4 2.1 2.5-2.1 1.2-2.6 2.6-.3 1.3 2.9 2.6 1.3 2.3 .8 1.5-2.1 2.6-2.6 1.3-3.8 2.1-1.5 1.7-2.4 3.3-.1 1.8 2.7 1.3 1.3 3.9 2.6 .5 .9 2 2.9 1.3 0 1.3 2.6 2.9 2 3.5-.7 4 .7 2.4 1.8 2.6 1.3 2.5 1.9 2.6 2 1.3 2.5 1.3 3.9 2.3 1.6 2.8 3.5 0 1.3 2.6 2.5 2.1 2.7 1.7 1.2 2.6 1.3 3.2 2.5 1.9 1.3 2.6 2.6 1.3 1.3 2.6 2.5 1.6 2.3 2.2 1.6 3.9 2.6 1.2 1.2 2.7 2.1 3.7 1.8 2.6 2.6 3.7 .6 1.4 1.9 3.9-1.3 2.2 1.9 2.9 2 2.6 2.6 2 .4 3.1-.4 3.9 0 3 .4 2.1 2.1 2.6 2.6 1.3 1.3 1.5 1.5 2.3 2.3 2.6 1.3 2.6 1.4 3.8 1.2 1.3 1.2 2.4 2.6 2.7-1.3 0-2.5 3.8-1.3 1-2.4 2.9-1.5 1.3 0 2.5-1.2 2.6-1.3 3.9 0 1.2-1.3 3.1-.2 2.1 .2 3.8 0 1.3 0 3.3-.2-.7 2.8 0 2.5 1.3 2.6-1.3 2.5 1.3 2.6 0 3.9-1.3 1.2 0 2.6 0 2.6 0 2.5 0 2.6 0 2.6 0 2.5 0 2.6 1.3 3.9-1.3 2.5 1.3 2.6-1.3 1.3 0 2.5 1.3 2.6 0 3.9 0 2.5 0 1.3-1.3 2.6 0 3.8 1.3 2.6-1.3 2.6 1.3 2.5-1.3 2.6 1.3 2.5-1.3 2.6 1.3 2.6-1.3 2.5 0 3.9 1.3 3.8 0 2.6 0 3.9 0 1.2-1.3 2.6 1.3 2.6 0 2.5-1.3 3.9 0 1.3 0 2.5 1.3 2.6 0 3.9 0 1.2-1.3 3.9 1.3 2.6-1.3 2.5 1.3 2.6 0 1.3-1.3 3.8 1.3 2.6-1.3 1.3 0 3.8 1.3 3.9 0 2.5 0 1.3 0 1.3 0 3.8-1.3 2.6 1.3 2.6 0 2.5-1.3 3.9 .7 1.6-3.3-.3-1.3 0-3.8 0-2.1 .3-3.1 1-2.5 1.2-1.3 1.3-3.9 0-1.7 2-2.1 1.9-3.9 1.3-2.5 0-1.5 1.8-3.6 .7-2.6 1.3-3.8 .5-3.9-.5-2.6-1.3-2.5-1.3-3.5 .6-3-.6-3.8 2.6-2.6 0-3.1 .5-2-.5-2.6 1.3-5.1 0-2.6-1.3-2.7 .5-2.4 .8-3.9 0-3.7 1.7-1.4-1.7-3.8-1.3-2.6 0-2.2-2-2.9-1.8-1.3-2.6-2.6-1.3-3.2-1.8-.6-2-2.6-2.6-2.6-2.6-1.7-2.8-2.1-2.3-1.3-2.6-2.6-2.5-.3-2.6-.9-1.3-1.3-5.1-1.3-1.3 0-1.3-2.6-2.6-.1-3.4-1.2 2.2-2.5 2.5-1.3 2.6-2.5 2.7-2.6-2.7-2.6-1.3-1.3-1.3-1.3-2.5-2.2-2.2-2.9-1.7-1.3-1.3-3.3-2-.5 3.3 0 1.3-1.3 3.8-1.3 3.9 0 1.3-1.3 3.8-.6 2.6-.7 2.6 0 2.5 0 2.6 0 3.8-2.5 2.6 0 3.9 0 1.2-.6 3.3-.7 1.9 0 3.8-1.3 2.6-1.3 2.6 0 1.2 0 5.2-1.3 1.3-.4 2.7 .4-2.7-1.2-2.6-1.3-2.6 1.3-1.3 0-5.1-1.3-1.3 0-2.5-1.3-2.6 0-2.6 0-2.5 0-2.6-1.3-2.6-.3-2.8 .3-2.3 0-3.9-1.3-2.5-1.3-2.6 1.3-1.3 0-3.8-1.3-2.6 0-3.8 0-1.3 0-3.9-.1-2-1.1-3.1-1.3-3.8 0-2.6 0-2.6 0-2.5-1.4-2.9 .1 2.9-1.3 2.5 0 3.9-1.3 2.5 0 2.6-1.3 2.6 1.3 1.3-2.5 2.5 0 3.9 0 2.8-1.3-2.8-2.6-2.6-1.1-2.1-2.7-1.7-2.6-2.6-2.2-2-1.7 3.3-3.3 .5-1.8 .8-1.3 3.8-2.5 1.3-1.5 2.7-2.4 2.4 0 2.6-1.3 2.5-1.3 3.9-1.4 1.5-1.1 2.3-1.3 2.6-1.3 2.6-1.3 2.5-1.2 2.6 0 1.3-1.3 3.3-1.3 1.8 0 3.9 0 2.5-1.3 3.9-1.3 1.3-.4 3.8-.9-3.8 0-2.6 0-1.3 0-2.5-1.2-2.6 0-2.6 0-2.5 0-2.6-1.3-2.6-.3-2.7 .3 4-1.3 1.3 0 3.8 0 3.9 0 2.6 0 2.5 0 2.6-1.3 2.6 0 2.5 0 2.6 0 2.6-.5 3.4-2.1 1.7 1.3 3.8-2.5 1.3 0 3.9 0 2.5-2 2.9-1.9-1.6-1.3-2.6-3.3-1.2-3.1-1.3-3.8-1.3-1.7-1.7-3.5 1.7-2.9 .5-2.2-1.8-1.3-2.6-1.3-1.2-1.7-3-2.1-.9-4.3-1.3-2.1 2.6-1.3 2.6-1.3 2.5 0 3.9-1.8 2.4-2.1-1.1-2.2-3.2-2.9 1.9-1.4 2.4-2.4-1.1-1.8-2.1 .5-3.1-1.3-1.3-1.3-3.8 0-1.3-1.3-2.5 1.3-3.9-1.3-1.3-1.2-2.5 0-2.6 .3-3.5-.3-2.9-1.3-1.3-2.6-5.1-1.3-1.3-1-3.4-4.1-.5-2.6-2.5-1.9-2.4-3.2 1.1-2.6 1.3-2.8 3-3.6 .8-1.3-1.3-3.7-.6-1.4 .6-3.9 2.6-2.5 0-2.6 2.6-2.5 1.8-2.6 2-2.6 3.9-1.3 2.5-2.1 1.2-3 1.4-2.3 .8-1.5-2.1-1.3-2.6-1.3-2.5-.2-2.5-4.3 1.1-.6 1.4 0 3.8 0 2.6-1.3 3.8 0 2.6-1.3 1.3 0 2.6-.1 3.4-1.2 3 1.3 2.5 0 2.6 0 3.8 0 2.6 0 2.6 0 2.5-1.3 2.6 0 3.9 .2 1.8-.2 2 1.3 2.6 1.3 2.5-1.3 5.2 0 1.3 0 2.5 0 2.6 2.6 3.8 0 1.3-.5 4.1 .5 2.3 0 3.9-.5 2.4-3.4 .1-2.6 0-1.2 0-2.6 0-3.9 0-1.2-1.2-2.6 0-3.9 0-1.2 0-3.5-.3-.4-2.3-2.6-2.6-.7-2.6-1.8-1.2 0-3.9-1.3-2.5-1.3-2.6 0-2.6-2.6-2.5 0-2.6-2.5-1.3-.5-3.3-.8-1.8 0-2.6-1.3-3.8-2.6-1.3 0-3.9-1.2-2.5-1.3-1.3 0-2.6-1.6-2.7-1-3.7-1.3 0-1.2-3.8-1.3-2.6-1.3-2.6-1.3-2.5-1.3-2.6-1.3-2.2-3.8-.4-2.6-1.2-2.5 0-3.9-1.3-2.2 .4-2.9-.4-3.9 0-3.2-.1 .7-3.8 0-1.3-1.3-2.5 1.3-2.6-1.3-3.8 0-1.3 1.3-3.9-1.3-1.3 1.3-3.8-1.3-1.3 1.3-3.8 0-1.3-1.3-2.6 0-3.8 1.3-2.6 0-2.6 0-1.3-1.3-3.8 0-2.6 1.3-2.5-1.3-1.3 0-3.9 1.3-1.2 0-3.9-1.3-3.8 1.3-1.3 0-2.6-1.3-3.8 0-1.3 0-3.9 1.3-1.3-1.3-2.5 1.3-2.6-1.3-2.6 0-2.5 1.3-2.6 0-3.8-1.3-2.6 0-1.3 0-3.8 0-2.6 1.3-2.6 0-2.5-1.3-2.6 1.3-1.3 0-3.8-1.3-3.9 1.3-1.3-1.3-2.5 1.3-2.6 0-2.6 0-2.5-1.3-2.6 1.3-2.6 0-2.5-1.3-2.6 0-2.6 1.3-2.5-1.3-2.6 0-2.6 0-3.8 1.3-2.6 0-2.5 0-2.6 0-1.3 0-3.8 0-1.3-1.3-3.9 1.3-2.5 0-2.6-1.3-2.6 1.3-1.2-1.3-3.9 0-1.3 1.3-3.8-1.3-2.6 0-2.6 0-2.5 1.3-2.6 0-3.8 0-1.3Z"/><path id="p1_8" d="M25 170l3.2-.6 3.9 1.2 1.3-1.2 3.8 1.2 2.8-.6 2.3 1.9 3.9 .6 1.3 2 3.7 3 1.4 2.1 1.3 2.6 1.3 2.6 1.3 3.8 1 1.4 2.8-2.7 2.2-2.3 .4 2.3 1.2 3.9 1.3 1.2 0 5.2 1.3 1.3-1.3 2.5 2.1 3.6 .5 4.1 1.3 1.3 1.3 2.6 0 3.8 0 2.6 1.2 1.3 0 3.8 .7 3 1.9 3.4 1.3 2.6 3.1 1.5 2-2.8 2.6-1.3 2.8-.9 1-1.6 1.3-3.9 0-2.5 0-1.3 1.3-2.6 1.4-3.1 1.2-3.3 1.3-2.6 0-1.3 1.2-2.5 1.3-2.8 2.6 2.8 2.4 2.2 .2-3.5 2.5-2.6 0-1.3 0-2.5 1.3-2.6 1-2.5 1.6-2.6 0-2.6 1.3-2.5 2.1-2.3 1.7-1.6 3.3-3.4 3.1-.4 1.3 0 4.4-2.1 2-.5 2.6-2.6 2.9-1.9 .9-1.9 1.3-3.9 1.3-1.3 1.3-3.8 1.5-1.6 2.3-2.3 2.6-2.5 1.3 0 2.5-2.7 2.6-2.5 2.6 0 2.3-1.3 2.8-2.5 2.6 0 2.5-2.6 2.1-1.1 4.4 1.1 2.5 0 3.1 1.4 3.3 1.2 1.3 0 2.6 2.6 2.8-.1 2.3 1.3 2.6 2.6 2.6 2.4 1.2 1.5 1.3 3.8 2.5 2.2 1.4-2.2 0-3.8 1.2-2.6 1.3-2.6-.2-3.8 1.5 2.5 2.6 2.6 .9 2.4 .4-2.4 1.2-3.8 2.6-1.3 1.3-2.6 .8-2.4 1.8 3.7 0 2.6 1.2 2.5 0 2.6 1.3 2.6 1.3 2.5 1.3 3.9-.6 2.1 .6-3.4 1.3-1.3-1.3-2.6 0-3.8 1.3-2.6 0-1.3 1.3-3.8 0-2.6 1.2-2.5 0-2.6 0-3.9 .6-2.1 .7 3.4 0 2.6 2.6 2.6-1.3 2.5 1.3 2.6 1.3 3.8 .4 2.5 3.4 1.4 2.8 1.1 1.1-2.4 2.5-2.6 1.4-2.5 1.2 2.5 0 2.6 1.3 2.6 1.3 2.5-1.3 2.6 1.3 2.6 1.2 2.1 1.3-2.1 3.7-.4 1.5-2.2 0-2.6 1.3-2.5 0-2.6 2.5-2.6 1.3-2.5-.4-2.5 1.7-3.9 0-2.6-1.3-1.3 1.3-2.6 0-3.8 1.3-2.6 1.2-2.5 0-1.3 1.3-3.9-.5-3 .5-3.4 1.3-1.3 0-3.8 1.3-3.9 .7-2.6 .6 2.6 1.3 2.6 0 2.6 0 2.5 1.9 2.2 3.2-.9 1.8-1.6 .8 2.9 1.2 2.6 0 1.3 0 2.5 1.7 3.2 3.5 2 1.3 1.2 2.7 1.8 2.4 2.1 1.3 3.8 1.3 1.6 2.5-1.6 2.5-.9 2.7 .9 2.5 0 2.3 1.6 2.9-1.6 1.2-1.3 2.2-2.1 3 .9 2.5 0 3.2-.9 2 .9 1.3 3.8 2.5 0 1.7 2.8 2.2 1.1 3.8 0 2.8 1.4 3.6-1.4 1.3-1.3 3.8 .2 .1 2.3 2.5 3.9 0 1.3 2.6 2.5-.2 2.5 1.5 1.4 1.3 1.3 2.5 2.5 2.2 2.3 3 1.6 1.2 2.6 2.6 2.5 3.2 .8 1.9 3.1 1.3 0 3.9 2.5 1.3 2.6 1.6 1.8 2.2 2.1 1.3 2.5 2.6 1.3 2.5 1.3 1.4 2.8 3.7-.2 3.9 2.5 2.4 .2 2.7 2.4 1.3 0 2.6 1.3 3.4 1.3 4.3-.1 2.5-1.2 3.2-1.2 2 1.2 3.8 2.5 1.3 0 2.9 1.3 3.5 1.3 2.6 2.6 1.3 1.2 2.6 2.4 2.5 1.5 2.6 3.8 2.4 1 1.4-2.2 2.6-1.3 1.3-3.9 2.2-1.4 1.6-1.1 3.9 0 2.5-1.3 1.3 0 2.6-1.3 3.8 0 1.8-1.8 2.1 .5 3.8 0 2.6 0 2-.5 .6 3.1 0 2.5-1.3 2.6 1.3 2.6-1.3 1.3 1.3 3.8-1.3 1.3 0 2.6 1.3 5.1 0 1.3 0 1.3 0 3.8-1.3 2.6 0 2.5 0 2.6 1.3 3.9-1.3 2.5 0 1.3 1.3 2.6-1.3 2.5 0 3.9 0 2.6 1.3 2.5-1.3 2.6 0 2.5 0 1.3 1.3 3.9 0 2.5 0 2.6-1.3 2.6 1.3 2.5 0 2.6 0 1.3 0 2.6-1.3 3.8 1.3 2.6-1.3 2.5 0 2.6 0 2.6 1.3 2.5-1.3 2.6 0 2.6 1.3 3.8 0 2.6 0 2.6 0 2.5-1.3 1.3 0 3.9 1.3 2.5-1.3 1.3 0 3.8 1.3 1.3-1.3 2.6 0 3.8 1.3 2.6-1.3 1.3 0 3.8 1.3 2.6-.6 2.4-2 .2-3.9 0-2.5-1.3-2.1 1.1-1.8 1.5-3.8 0-2.6 2.5-1.3 1.3-3 .9-2.1 1.7-2.6 0-2.5 2.5-2.8 .8-3.6 .5-3.9 1.3-2.5 .7-3.9-2-2.6 1.3-3.5-1.8-2.9 .5-2.6 1.3-4.5 .7-4.4-.7-2.6 0-3-1.8-2.1 1.8-3.9 0-1.3 1.3-2.7 1.9-3.7-.6-3.8-1.3-2.5-.6-2.7-2-2.5-1.3-2.6-2.5-2.2-1.7-1.6-3.5-1.3-1.2-1.3-1.3-2.6-2.6-1.3-1.3-1.9-2.6-1.9-1.2-1.3-5.2-1.3 0-2.5-3.8-.5-2.3-.8-1.6-1.3-2.5-1.3-3.9 0-1.2-2.6-3.9-.3-1.9-2.2-1.9-1.3-2.6 0-2.6-2.7-2.9-1.2 1.6-3.8 3.4-2.6-3.4-2.4-1.6-1.4-2.2-2.6-1.3-3.5-1.5-2.9-1.1-1.3-2.5-2.5-1.3-.8-2.6-1.8-1.3-3.9-1.2-1.2-2.6-3.1-2.4-2.1-1.5-1.3-1.2-2.5-3.9-1.6-.9-2.3 .9-2.5 1.3-2.7 2.8-2.5 1-2.5 2.6-2.5 1.4-2.7 1.2-2.5 2.5-2.6 1.3-2.2 2.5-1.7 1.4-3.8 1.3-3.2 2.3-.7 2.8-1.2 1.3-2.6 2.5-1.8 3.4-.8 1.8-1.3 3.8 0 1.3-2.5 2.6 0 3.8-1.3 1.3-1.3 2.6-.3 2.8-1 3.6-1.2 2.5-1.3 2.6-1.5 1.3-1.1 1.3-1.3 3.8-1.3 2.6-1.3 2.3-2.5 2.8-2.6 1.3-2.4 .9-1.4-3.5-1.3-1.2-1.3-2.6-1-2.7-.3 2.7-1.3 2.6-1.2 2.5-2.2 2.2-.4 1.7-1.3 2.5-1.3 2.6 1.3 3.9-2.6 2.5 0 2.6-.7 1.7-1.8 2.1-2.6 2.6-1.3 1.3-1.8 1.5-3.3-2.8-1.7-2.2-2.2 .9-2.5 2.6-2.8 1.5-2.4-1.5-2.6-3.5-1.2-1.6 0-2.6-2.6-3.9 0-1.2-1.2-3.2-1.3-3.3 0-1.2-2.6-2.6 0-2.6-1.1-2.8-1.5-2.3-2.5-2.6-2.6-2.5-.9-2.6-1.7-2.6-1.2-2.5-2.1-2.4-1.8-2.8-1.3-1.3-1.9-3.4-1.9-3-2.6-1.2-1.3-2.6-1.7-.7-2.1 2-1.3 3.8-2.6 2.6-1.5 1.6-3.6-1.6-1.4-.9-2.5 2.2-1.2 1.2-1.3 1.3-2.5 2.8-2.7 1.1-3.8 0-3.5 1.4-1.6 2.4-1.3 2.6-2.6 2.6-2 2.4-3.1 1.4-1.3 1.3-3.1 2.3-2-1-2.6-2.6-2.9-1.4-.9 2.7 0 3.8-1.6 3.5 .3 3-1.3 2.5-1.3 3.9 0 2.5 0 2.6-1.3 2.6 .6 2.9-.6 2.2 0 2.6 0 3.8 0 2.6 0 2.5-1.3 2.6 0 2.6 1.3 3.8-.9 2.3 .9 1.6 0 5.1-1.3 1.3 1.3 2.6 0 3.8-1.3 2.6 1.2 3 .1 2.1 0 3.9 0 1.2 0 3.9 1.3 3.8-1.3 1.3 1.6 3.8-.3 3.9-.2 3.6-2.4 .3-2.5-1.3-2.6 1.3-5.1-1.3-1.3 0-3.6 1-1.5-2.3 0-2.6-2.2-2.6-.4-3.8-2.6-1.3-1.3-2.5-1.2-2.6 0-2.6-2.6-2.5 0-2.6-2.6-2.6-.6-2-.7-1.8-1.2-2.6-1.3-2.5-1.3-2.6 0-2.6-1.3-2.5 0-3.9-2.6-1.3 0-3.8-1.6-1.4-2.2-3.8 0-1.2-2.6-2.6 0-1.3-1.2-3.8-2.6-1.3 0-3.9-1.3-1.2-1.3-2.6-1.3-3.3-2.5-.6-2.6-1.2-2.6 0-5.1 1.2-2.2-1.9-4.2-.6-2.6 1.3-3.2-.7-.6-3.2 0-1.3 0-2.5 0-3.9 1.3-1.3-1.3-3.8 0-1.3 0-3.9 1.3-2.5 0-2.6-1.3-2.6 1.3-2.5-1.3-1.3 1.3-2.6 0-3.8 0-2.6-1.3-1.3 0-5.1 0-1.3 1.3-2.5-1.3-2.6 1.3-2.6 0-2.5-1.3-3.9 1.3-1.3 0-2.5 0-3.9-1.3-1.3 1.3-3.8 0-2.6-1.3-2.6 1.3-1.2-1.3-2.6 1.3-2.6 0-2.5-1.3-2.6 1.3-2.6 0-3.8 0-1.3-1.3-3.9 1.3-2.5-1.3-1.3 1.3-3.8 0-2.6 0-1.3-1.3-3.8 0-2.6 0-2.6 0-2.5 0-2.6 1.3-2.6-1.3-2.5 0-2.6 0-3.9 1.3-1.2-1.3-1.3 1.3-3.9 0-2.5 0-1.3-1.3-3.9 0-2.5 1.3-2.6 0-2.6 0-3.8-1.3-1.3 1.3-3.9-1.3-2.5 0-1.3 0-3.8 0-1.3 1.3-3.9-1.3-1.3 1.3-3.8-1.3-1.3Z"/><path id="p1_9" d="M25 180l3.2-.4 2.6 0 2.6 0 2.5 0 4.1 .4 3.6 2.2 2.6 .3 1.3 3.5 3.8 1.3 1.2 2.7 1.4 2.4 1.3 2.6 0 1.3 2.5 3.8 1.1 2.4 2.8-2.4 2.2-.1 1.6 4-1.3 1.3 1.3 3.8 1.3 2.6 0 1.3 1.3 3.8 .8 3.2 .5 2 1.3 2.5 0 2.6 0 2.6 1.2 3.8 0 1.3 2 2.7 1.9 2.4 2.6 2.6 1.7 2.5 2.1-1.2 2.6-2.6 2.8-1.2 1-2.6 0-2.6 2.6-1.3 0-2.6 1.3-3.8 .1-2.1 1.2-1.8 0-2.5 1.2-3.9 1.3-2.5 1.3-1.8 3.9 3 1.1 2 .1-3.2 1.3-1.3 1.3-3.9 1.3-1.3 1.3-3.8-.3-1.5 .3-2.4 2.5-2.5 1.3-2.6 .9-2.5 1.7-2.6 3.3-2.4 3.1-.2 1.3-1.3 3.1-1 3.3-.2 1.3-3.9 2.9-.9 .9-1.7 1.3-3.8 3.9-1.3 .2-3.2 1-1.9 3.9-2.6 1.3-1.3 2.5-1.7 2.6-2.1 1.3-1.3 3.6-1.6 1.5-1 2.6-1.3 3.8-2.5 2.1-.2 3.1 .2 2.5 1.3 4.4 1 3.3 .2 1.3 2.6 2.6 1.3 2.8 .9 2.3 1.7 3.9 1.2 1.3 2.1-.1 3.1 2.6 2.5 0 2.6 1.3 1.3 0 3.8 1.2 1.7 1.4-2.9 0-1.3 0-2.6 1.2-3.8 1.3-1.3 1.1-3.1 2.8 1.8 1.3 2.6 .9 3.1 1.6 2 3.4 .5 1.8 2.1 1.2 3.8 2 1.6 1.9 2.3 0 3.8 1.8 1.4 .8-2.7 1.2-3.8 0-1.3 0-3.9 0-2.5 1.3-3.9 .5-1.9 3.8-2.5 2.1 1.9 1.3 1.2 2.8 1.9 2.4 3.3 0 2.5 2.5 2.6 0 2.6 1.3 1.5 2.6 1 2.5 2.6 1.2 1.4 1.4-2.7 0-2.5 1.3-2.6 1.3-1.3 1.3-3.8-.3-2.1 1.5-1.8 0-2.6 0-2.5 1.3-2.6 0-2.6 2.6-2.5-.4-2.9 .4-2.3 1.3-3.8 0-2.6 1.2-1.3 .8-2.5 .5-3.9 1.3-2.5 0-2.6 1.3-2.6 .7-3.4 .6 2.1 2.5 2.6 .7 2.8 3.2 1.1 3 1.4 .8 3.7 2.6 0 1.6 3.8 2.3 0 2.5-1.2 2.7-1.3 2.5 2.5 2.5 0 2.5 2.5 3.9 .1 3.6-.1 2.9-1.2 1.2-1.3 3.4-2.5 3.1 0 4.4 0 2 2.5 1.3 1.3 2.5 3.9 1.7 1.1 3.4 .2 2.6 1.2 4-.2 2.4-1 3.9 0 1.2-1.5 1.3 2.7 2.6 2.6 0 1.3 1.3 3.8 2.3 2.1 1.5 1.8 2.6 2.6 1.3 2.5 2.1 .6 3 2 1.3 1.3 2.6 2.5 .6 1.7 1.9 2.2 1.3 2.6 2.6 0 2.6 3.8 1.6 1.4 3.5 2.4 1.3 2.6 2.5 0 2.7 2.5 3.7 1.4 2.6 0 3.7 1.1 1.4 .1 3.9 1.3 2.6 1.3 2.1 1.1 3-1.1 3.8 1.3 3.2-1.5 2 .2 2.5 1.3 2.6 2.6 2.9-.4 2.2 1.6 2.6 1.3 2.6 1.3 2.6 .8 2.5 3.1 3.9 0 1.1 3.2 2.7-2 0-2.5 3.8-1.3 1-1.7 1.6-.9 3.9 0 1.2-1.3 2.6-1.2 2.6-1.3 3.8 0 1.8-.8 2.1-.5 2.5 0 2.6 0 3.3 .5-.7 2.1 0 3.8 1.3 2.6 0 1.3 0 2.5-1.3 2.6 1.3 3.8-1.3 2.6 0 2.6 1.3 2.5-1.3 3.9 1.3 0 0 5.1-1.3 1.3 1.3 2.6-1.3 2.5 1.3 3.9 0 2.6-1.3 1.2 1.3 3.9 0 2.5-1.3 2.6 1.3 2.6-1.3 1.3 1.3 3.8-1.3 2.6 1.3 2.5-1.3 3.9 0 1.3 1.3 2.5 0 2.6-1.3 3.9 1.3 1.2-1.3 2.6 0 3.9 1.3 1.2-1.3 3.9 0 2.6 0 1.2 0 3.9 0 2.6 0 2.5 1.3 2.6 0 3.8 0 2.6-1.3 2.6 0 1.2 1.3 3.9-1.3 1.3 1.3 3.8-.6 2.1-2 .5-3.9-1.3-2.5 0-2.1 .8-1.8 1.8-3.8 1.3-2.6 2.5-1.3 1.3-3 1.1-3.4 2.8-1.3 0-2.8 2.2-3.6 .3 0 2.6-3.8-1.3-2.6 2.1-3.8-.8-2.6 1.3-3.6-.5-4.1 .5-2.6 0-3.3 .8-3.1 .5-3.8-1.3-3.1-.5-2.1 .5-5.1 1.3-2.8 .8-2.3-.8-3.9-1.3-3.8-.5-2.6-2.1-2.6 0-3.8-2.6-1-1.5-1.6-2.3-3.8-1.3-1.3-2.6-1.3-1.2-2-2.6-1.8-1.3 0-2.6-2.6-3.8-1.3-2.6-1.8-2.2-.8-1.6-1.2-2.6-1.3-2.5-2.6-2.6-1.3-2.6-.3-3.1-2.2-2-1.3-3.9-1.3-2.5-2.7-1.6-1.2-1-3.8 0-2.5-1.5-1.4-2.3-2.5-2.6-1.3-3.9-2.3-1.2-1.6-2.6-3.8-1.3-2.1-1.1-1.7-1.5-1.3-2.5-2.6-1.3-1.9-2.2-3.2-1.7 0-2.5-2.6-1.3-1.7-2-2.1 2-2.6 2.6-2.8 .4-2.3-3 0-1.3-2.7-3.2-2.5 3.2-2.5 1.8-2.6 2.1-1.3 1.2-1.3 1.3-2.3 2.9-2.8-.3-1.3 2.6-3.4 .2-1.7 1-2.6 2.6-3.2 1.4-1.9 2.5-1.3 2.5 0 2.6 0 1.3-1.8 3.6-2.1 2.8-1.2 2.6-2.6 2.5-1.6 2.1-2.2 1.8 0 2.5-2.6 2.6-.2 3.1-1.1 2 0 2.6-2.6 2.6-1.3 2.8-1.2-2.8-1.3-2.6-1.3-1.3-2.4-3.3-.2-3.1-1.2-2.6-1.3-2.5 0-2.6 0-3.8-1.3-1.3-1-4.1-.3-2.3-2.6-2.6-1.2-2.6-.9-2.5-1.7 2.5 0 3.9 0 2.5-1.3 2.6 0 2.6-.8 3.4 .8 3 0 3.8-2.6 1.3 1.3 2.6-1.3 2.6-1.2 2.5 0 3.9 .5 2.8-.5 3.6 0 2.5-1.3 3.9 0 1.3 0 3.8-1.3 2.6-.6 2.3-2 2.8-1.3 2.6-1.2 1.3 0 2.5-1.8 3.3-2.1-3.3 0-1.2-2.9-3-.9-2.2 0-2.5-1.3-3.9-2.6-1.3 1.3-2.5-1.5-2.6-1.1-3.9 0-1.2-1.3-2.6-1.2-3.9 0-2.5-1.3-2.6-.1-3.3-1.2-1.8-1.3-3.9 0-2.5-2.6-2.6 0-1.3-2.4-2.9-2.7 1.6-2.5 0-2.3 .9-2.9 1.7-1.3 1.3-3.3-.5-.5-2.1-2.6-2.5-2.5-1.3-1.9-1.6-2-2.3-2.6-3.8-1.7-1.4-2.1 1.4 0 3.8-1.3 2.6 0 2.6-1.3 2.5-1.5 2.1-2.3 .5-1.3 2.6-1.3 2.5-2.6 1.9-2.5 .7-3.9 1.3-1.3 1.3-2.3 1.7-2.8 .8-3.8 1.3-3.4 .4-1.8 2.2-1.2 2.5-2.6 2.6-1.9 2.7-3.2-1.4-3.9-1.3-1.7-2.3-.9 2.3-1.2 3.8-1.3 1.3-.3 2.6-1 2.6 0 3.8-1.3 2.6-1.3 2.5 .6 3.5 .7 3-2.6 2.5 0 2.6 0 2.6 0 3.8-1.2 2.6-.2 2.9 .2 2.2 0 2.6 0 2.5-1.3 3.9 0 2.5 1.3 3.9-1.3 1.3 0 2.5-.1 3.6 .1 2.9 0 2.5-1.3 3.9 2.6 2.5-2.6 2.6 1.3 2.6-.1 3 .1 3.4 1.3 2.6 0 2.5-1.3 2.6 1.3 2.6 0 3.8-.2 2.5 .2 5.2-.2 2.3-3.7 .3-1.3-1.3-3.8 0-2.4 1-.2-2.3-1.3-2.6-1-3.8-1.5-2.6-1.3-1.3-1.3-3.8-1.3-1.3 0-2.6-2.6-2.5 0-3.9-2.5-1.3-1.3-2.5-.7-2-1.9-1.9 1.3-3.8-1.3-1.3-1.3-2.6-1.2-2.5-1.3-2.6-1.3-2.6-1.3-2.5-1.3-2.6-.4-2.6-.9-2.5-2.5-2.6 0-2.6-1.3-2.5-1.3-2.6-1.3-1.3-1.2-3.8-1.3-1.3-1.3-3.9-1.3-2.5-1.3-1.3-1.3-3.1-2.5 .5-3.9-1.3-2.5-1.2-3.9 0-2.2-.5-2.9-.8-3.9 1.3-3.2-1 .7-2.9 0-2.6-1.3-2.5 0-3.9 1.3-1.3 0-1.2 0-3.9-1.3-3.8 1.3-1.3-1.3-2.6 0-2.6 1.3-2.5 0-2.6-1.3-2.5 0-2.6 0-3.9 0-1.2 1.3-3.9 0-1.3-1.3-3.8 1.3-2.6-1.3-1.3 0-3.8 1.3-2.6-1.3-2.6 0-2.5 0-1.3 0-2.6 1.3-3.8-1.3-1.3 1.3-3.9-1.3-1.2 1.3-3.9 0-2.6-1.3-2.5 0-2.6 1.3-2.6-1.3-2.5 0-2.6 0-1.3 0-2.5 0-2.6 0-3.8 0-3.9 1.3-1.3-1.3-2.5 0-1.3 0-3.9 0-2.5 1.3-2.6 0-2.6 0-3.8-1.3-1.3 0-2.6 0-2.5 0-3.9 0-2.6 0-2.5 0-2.6 1.3-1.3 0-3.8 0-2.6-1.3-1.3 0-2.5 0-3.9 1.3-2.5-1.3-2.6Z"/><path id="p1_10" d="M35 191.2l5-1.2 3.6 1.2 1.3 1.2 2.6 .1 2.5 2.5 1.3 2.6 2.5 2.4 1.4 2.7 2.5 2.6 0 1.3 2.3 3.4 2.9-.9 2.1-1.6 .4 2.9 0 3.9 1.3 2.5 1.3 2.6 0 1.3 2.6 3.8-.6 3 .6 2.2 1.2 2.5 0 2.6 1.3 2.6 1.3 2.5 .6 2.6 2 1.3 1.3 2.5 2.2 3.2 2.9-3.2 1.3 0 2.8-2.5 1-2.6 1.3-2.6 1.3-1.2 1.3-3.9 .6-2.3 .7-1.5 2.5-2.6 0-3.9 1.8-2 3.4 3.3 1.6 1.7 .9-3 1.3-2.5 1.3-1.3 0-3.9 1.3-2.5 .2-1.8 2.3-3.4 0-1.2 2.2-4.1 3-2.4 2-2.6 3.1-1.2 2.6-1.3 1.8 0 3.3-2.6 1.3-1.2 2.9-1.2 .9-2.7 2.6-2.5 1.3-2.6 2.7-2.2 1.1-1.7 3.9-1.2 1.3-2.6 1.2-2 2.6-1.9 2.6-1.2 2.3-1.9 2.8-2 1.3 0 3.4-3 3-.8 3.3-1.7 3.1 1.7 1.3 1.2 1.8 2.1 3.3 1.8 1.3 1.3 2.6 1.3 2.8 .6 3.6 .6 1.3 1.3 2.6 .6 1.2 2 2.6 2.6 0 2.5 1.2 2.9 .1-1.6 2.5-2.6 0-3.8 1.3-1.3 1.3-3.8 0-2.6 1.1-1.8 2.8 3.1 0 2.5 2.2 1.9-1 3.3 1.3 2.5 0 2.6 1.3 2.6 0 2.5-1.3 2.6 0 3.8 1.3 2.6 1.3 2.6-.5 2.4 .5 2.7 0 2.6 0 3.8 0 2.6 0 2.6 0 1.2-1.3 3.9 1.3 2.6-.5 3-.8 3.4 0 1.3 0 3.8 0 2.6 0 2.5 0 3.9-1.3 2.6 0 1.2 .9 3.7 .4 2.8-1.3 2.5 0 2.6-1.3 2.5 0 3.9-1.2 2.6-1.3 2.5 0 2.6-.3 3-1 3.4-2.6 2.6-1.4 1.5-1.1-2.8-2.6-2.6-1.3-2.1-2.6-1.7-2.5 0-2.4-.8-2.7 .8-2.6 1.3-2.2 .4-1.7-1.7-3.8-1.3-2 .5-3.1 .8-1.3 2.5-3.1 1.7-.8 .9-3.8 3.9-1.3 1.2-1.6 1.5-2.3 2.4-2.5 3.8-1.3 1.3-1.4 2.5-2.5 2.7-1.2 1.2-2.6 1.3-1.2 2.3-1.4 1.6-2.5 2.5-1.3 1.3-2.3 2.1-2.9 1.8-1.2 0-3.9 2.5-2 .7-1.8 .6-2.6 2.6-2.6 0-3 1.8-2.1 2-1.3 2.6-2.5 1.3-1.6 1.6-1 2.2-3.9 1.3-1.2 2.6-1.4 1.4-1.2 2.4 0 2.6-1.3 2.6-1.3 2.5-2.5 2.6 .1 2.3-1.4 4.1 0 1.3 0 2.6 0 2.5 0 2.6 0 3.8 0 2.6-1.3 2.6 .1 2.9 1.2 2.2-1.3 3.9-1.3 2.5 0 2.6-1.3 2.5 1.3 2.6-1 3.7-.3 4-1.3 1.3-1.2 3.8 0 3.9-1 2-4.2-.7-2-1.8-.5-3.4-1.3-1.2-1.3-2.6 0-3.9-1.3-2.5-1.3-1.3-.6-2.6-1.9-2.5 0-2.6-1.3-2.6-1.3-2.5-1.3-2.6 0-2.6-.5-2.1-.8-3-2.5-2.6 0-2.5-1.3-2.6-1.6-1.8-1-2-2.5-2.6-2.6-3.9-1.4-1.5-1.2-2.3-2.5-1.3-1.3-2.6-2.5-1.3-2.7-1.2-2.5-1.3-2.6-1.3-2.2-1.2-.4-2.6 0-2.6 0-2.6 0-2.5 0-2.6 1.3-2.6 0-2.5 0-2.6-1.3-2.6 0-3.8 1.3-1.3 0-2.6-1.3-2.5 0-3.9 0-2.5 0-1.3 0-2.6 0-3.8 0-1.3 0-3.9 1.3-2.5-1.3-2.6 1.3-1.3-1.3-3.8 0-2.6 0-1.3 1.3-3.8 0-2.6 0-2.6 0-2.5 0-2.6 0-2.6 0-2.5-1.3-2.6 1.3-2.6 0-2.5-1.3-3.9 0-2.5 0-2.6 0-1.3 0-2.6 0-2.5 0-3.9 0-2.5 0-2.6 0-1.3 0-3.8 1.3-2.6-1.3-2.6 0-1.3 0-3.8 0-2.6 1.3-2.5 0-1.3-1.3-2.6Z"/><path id="p1_11" d="M232.5 210l1-2.2 2.6-2.5 1.4-2.8 1.1 2.8 1.3 2.5 2.6 2.2 2.6-.9 2.4-1.6 .1-2.2 1.3-2.6 1.3-2.6 1.3-2.5 0-2.6 1.3-2.6-.3-2.4 .3-2.7 1.2-2.5 1.3-2.6 1.3-2.6 0-3.8 1.3-3.9-.4-1.9-.9-3.2 2.6-2.6 0-2.5-1.3-3.9 1.3-2.6 1.2-1.2-.4-4 .4-2.5 1.3-3.8 0-2.6 0-2.5 0-2.6 1.3-2.6 0-2.5 .8-3.4 1.8-1.8 0-3.8 .6-1.9 .7 3.2 0 2.5 0 2.6 1.2 2.6-1.2 1.2 0 3.9 1.2 3.8 0 2.6 1.3 2.6-1.3 1.3 .7 3.7 .6 2.7 1.3 1.3 .5 3.5 3.8-2.5 2.1 1.5 2.6 1.3 2.8 2.2 2.3-.9 3.9 0 1.3-1.6 1.2 1.6 3.9 2.6 2.4 .8 2.7-2.1 2.6 1.3 2.2-1.7 1.6-.9 3.4-1.6 4.3 .3 3.2-.3 2 1.6 2.5 2.6 3 2.1 3.4 .4 2.6 0 4 .8 5 .5 2.5-.5 2.6 1.8 1.3 1.3 0 3.8 2.6 2.6 1 1.7 1.5 2.1 2.6 2.6 1.3 2.6 2.1 1.5 .5 1 3.8 1.3 1.3 2.6 1.9 2.6 1.9 2.5 1.3 1.3 2.6 2.6 2.6 1.2 1.6 2.4 2.2 1.5 3.9 2.6 2.5 1.2 1.4 2.2 3.7 .4 2.6 1.3 3.7-.5 2.7 .5 3.9 2.6 3.4-.5 3-.8 3.8 1.3 3.2-.5 2 1.7 2.5 0 3.9 0 1.6 2 2.2 .6 2.6 1.3 2.6 1.3 2.6 .5 1.2 2 3.9 1.3 2.4 1.7 2.7-1.7 1.3-1.3 3.5-3.2 2.9-1.9 1.3 0 3.8-1.3 2.6 0 2.6-1.3 2.5-1.2 1.8-1.3 3.4 1.3 1.2-1.3 3.9 1.3 2-1.3 .6 2.5-1.3 2.6 0 3.9 1.3 1.2 0 3.9-1.3 2.6 1.3 1.2-1.3 2.6 1.3 2.6 0 2.5-1.3 2.6 1.3 2.6-1.3 3.8 0 2.6 0 1.3 1.3 3.8-1.3 2.6 0 2.5 0 2.6 1.3 2.6 0 2.5-1.3 2.6 0 2.6 1.3 2.5-1.3 2.6 1.3 2.6 0 2.5 0 3.9-1.3 2.6 1.3 1.2-1.3 2.6 1.3 3.9-1.3 2.5 1.3 2.6-1.3 2.6 1.3 2.5-1.3 2.6 1.3 2.6 0 2.5 0 2.6-1.3 2.6 1.3 3.8 0 1.3 0 2.5-.6 2.8-2-.2-2.6 0-2.5 0-3.4 .2-1.8 2.4-3.8 1.3-2.6 1.2-1.3 1.3-3 1.4-3.4 2.5-1.3 1.3-2.8 2.4-2.3 .1-5.1 1.3-2.6 1.1-2.6 .2-3.8 0-3.6-.2-4.1 .2-3.9 1.3-2-.2-3.1-1.1-2.6 0-4.3-.2-3.4 .2-3.8 1.3-2.8-.2-3.6-1.1-2.6-1.3-3.8-.2-2.6-1.1-2.6-1.3-2.5-2.5-2.3-1.3-2.9-2.6-1.2-1.3-1.3-2.5-2.6-1.3-2-2.3-1.8-2.8-2.6-2.6 0-1.3-1.3-2.5-1.8-3.3-.8-3.2-2.5-1.2 0-3.9-2.6-1.3-1.3-2.5-.3-2.9-2.2-2.3-1.3-2.5-2.6-3.9-1.4-1.3-2.4-1.3-2.6-2.5-2.5-1.2-1.4-2.7-2.5-2.5-1.3-2.6-2.3-2.2-1.6-1.7-3.8-1.2-2.1-2.1-1.7-3.1-1.3-1.3-2.6-3.8 0-1.3-1.9-3-.7-3.4-2.5-1.3-1.3-2.5-.5-2.8-.8 2.8-1.3 2.5 0 2.6-1.7 2.1-.8 .4-2.6 2.6-2.8 2-1.1-3.3-1.2-2.5-2.7-1.7-2.5 2.9-2.5 2.1-2.6 3.1-2.4 1.9-1.5-3.2-1.2-2.6-2.3-1.7-1.6 1.7-1.3 3.9 0 2.5-2.1 1.9-3-1.9-2-3.1-.6 1.9-1.3 3.8-1.2 1.3-1.9 3-2-3-1.8-2-2 2 0 2.6-1.3 3.8-.4 1.6-.9 3.5 0 1.3 0 3.9-1.3 3.8 1.3 1.3-1.3 3.9-.3 2.3-1 2.8 0 5.1-1.5 2.1-2.3 1.8-1.3 2.5-1.4 3.2-1.2-1.9-1.2-2.5 0-5.2 1.2-2.5-2.5-2.6 0-2.6-1.3-2.5 0-2.7 0-2.5-1.3-2.5 0-2.6-1.3-2.6 0-3.8-1.3-3.9 .2-2.1-1.4-1.7 1.2-5.2 0-1.2-1.2-2.6 0-2.6 0-3.8 0-2.6-1.3-2.5 .1-2.8-.1-2.4-1.3-2.5 0-3.9-1.3-3.8 1.3-2.6 0-2.6-1-2.2-.3-1.6-1.3-5.2 1.3-1.2 0-3.9-1.3-1.3 0-2.5 .3-4.3Z"/><path id="p1_12" d="M205.1 337.3l1.5-3.7-1.3-1.3 0-2.6 1.3-2.5 0-3.9 1.2-2.5-1.2-2.3 1.2-2.9 0-2.5 0-3.9 .7-3.3-.7 3.3 1.3 2.6 1.3 2.5 .6 2.6 .7 2.6-1.3 2.5 1.3 3.9 1.3 2.5-.1 2.6 .1 3.9 0 1.2 0 3.9-.9 2.1-1.7-2.1-2.6-1.3Z"/><path id="p1_13" d="M240.5 305.9l.7-1.8 0-3.9 1.3-2.5-1.3-2.6 2.6-1.3-1-3.7 1-2.7 2.5-1.3 1.2-2.3 2.7 2.3 2.1 2.5 1.7-1.2 0-2.6 3-2.5-.4 3.8 0 2.6 2.6 2.5-.6 2.1-2 3.1 1.3 2.5-1.3 2.6 0 1.3 0 3.8-1.2 2.4-1.4-2.4-1.2-1.2-2.1-2.7-1.8 2.7-2.9 2-2.2-.8Z"/><path id="p1_14" d="M35 205l3.8 0 3.5 .3 2.7 2.2 1.2 .3 3.8 1.3 2.5 .9 1.4 1.7 1.3 3.8 1.3 2.6 0 2.6 1 1.8 .2 3.3 1.3 1.3 1.3 3.8 0 1.3 2.2 2.8 1.6 3.6 1.3 1.3-1.3 1.3 1.3 3.9 .8 2.4 1.8 2.7 0 2.6 1.3 2.5 .7 2.2 5-.5 2 3.4 1 2.1 1.5-2.1 2.6-2.5 1.3-2.6 1.6-1.5 2.2-2.3 1.3-2.6 2.6-2.6 1.4-1.3 2.4-2.5 0-1.3 2.6-1.3 2.5-2.4 2.6-2.7 0-1.3 3.9-1.3 1-2.2 .3-2.9 1.3-3.9 1.2-2.5-.3-3.2 1.6-3.2 2.6-1.3 .8-3 3-2.2 2-2.8 1.9 .3 3.8-1.3 1.8-1.5 2.1-1.1 3.8-1.3 1.6-2.6 2.3-2.5 1.3-1.3 1.2-1.3 2.7-2.4 2.5-1.4 2.5-1.3 1.3-3.8 1.2-1 2.7-1.6 1.3-1.3 3.5-2.1 2.9-3 2.1-2 1.7-1.9 3.3-1.8 1.9 1.8 1.2 2.6 1.9 1.8 .7 2.1 2.6 2.5 2.5 1.3 1.7 1.6 2.2 1 2.6 2.5 2.7 1.5 2.4 2.4 0 2.5 2.6 2.6 1.2 1.3 0 3.8 2.6 2.6 0 2.6 1.2 2.2 .1 2.9 0 2.6 0 3.8 0 2.6 1.2 3.1 .1 2 0 3.9 1.2 3.8-.1 2.8-1.1 3.6 0 3.9-1.4 2.5 1.3 5-2.5 2.8-1.3 1-2.6 2.8-1.2 1.3-1.2 2.1-1.4-3.4-2.6-1.3-1-2.8-2.8 1.5-2.2 1-2.9 1.6-2.6 1.3-2 2.1-1.9 1.7-1.2 1.3-2.6 2.6-1.8 1.9-2.1 1.9-2.5 2.6-1.3 1.3-1.6 1.7-2.3 2.1-1.2 2.6-1.3 3.8-2.7 1.5-1.2 2.4-2.5 1.3-2.6 1.3-1.2 2.5-2.7 1.3 0 2.6-2.5 1.3-2.3 2.3-1.6 1.5-3.8 0-1.3 1.3-3.3 2.2-1.8 1.6-2.6 1.3-2.6 2.6-3 2-2.1 1.8-1.3 2.6-2.5 1.3-1.6 1.8-2.3 2-2.6 2.6-2.5 1.3-1.3 1.3-1.3 2.8-1.3 3.6-2.5 1.3-1.3 2.5-1.9 2.6-.7 2.6 1.3 2.5-2.6 3.9 0 2.5 .3 3.5-.3 3 0 2.5-1.3 3.9 0 1.3 0 3.8 0 2.6-.4 2.9-.8 3.5 0 1.3 0 3.8-1.3 2.6 0 2.5-1.3 2.6 .8 3.7-2.1 1.4-1.6 3.6-1-2.3-1.2-2.5-1.3-3.9-2-1.3-.6-1.3 0-2.5-1.3-3.9-1.3-2.5-1.2-2.6-.6-2.2-2-1.6 0-3.9 0-2.6-1.3-1.2 0-2.6-1.7-3.1-2.1-3.3-1.3-1.3-1.6-2.9-2.3-2.2-2.5-2.6-1.3-2.6-1.4-2.6-2.5-2.5-1.2-1.3-1.3-2.6-2.5-1.1-2.7-1.4-1.2 0-3.9-2.6-2.2-1-.4-1.6 1.3-3.8-1.3-2.6 1.3-3.8 0-1.3-1.3-2.6 0-2.5 0-1.3 0-5.1 1.3-1.3 0-2.6 0-3.8-1.3-2.6 1.3-2.6-1.3-1.3 0-2.5 1.3-2.6-1.3-2.6 0-2.5 1.3-2.6-1.3-2.6 0-2.5 0-2.6 1.3-3.8-1.3-1.3 0-2.6 0-2.6 1.3-3.8 0-2.6-1.3-1.2 1.3-3.9 0-2.6-1.3-2.5 0-2.6 0-2.6 0-2.5 1.3-1.3-1.3-3.9 0-2.5 0-1.3 1.3-3.9 0-3.8-1.3-1.3 0-2.6 1.3-2.5 0-3.9-1.3-2.5Z"/><path id="p1_15" d="M263.8 200l-.8-3.7 0-3.9-.5-2.4-.8-2.7-1.7-2.3-.8-4.1 0-2.6-.4-3.3 1.6-3.1 .8-1.9 3.1-.6 3.2 .6 1.9-1.9 3.9-1.3 1.7-.6 3.4 1.9 2.6 1.3 1.5 .6 2.3-1.9 2.6 0 2.6-1.9 3.8 1.9 0 2.5 3.7 1.9 2.7-.6 1.3 0 3.5-1.9 1.6-.6 2.6-1.3 3.3-.6 1.8 1.9 3.9 0 1.8 .6 2 1.9 3.9 1.3 2.5 0 1.6 1.8 2.3-.5 2.6 0 2.6-2 1.2 .7 3.9 2.6 1.2 2.5 1.2 1.7 1.4 3.5 2.6 2.5 0 2.6 2.2 1.4 .3 2.4 3.9 2.6 0 2.6 2.1 2.4 1.7 1.4 3.9 1.3 1.9 2.3 1.9 1.6 1.3 2.5 0 2.6 3.9 3.8 .4 2 2.1 1.9 3.9 2.6 1.5 .5 3.6-.5 2.6 1.2 3.8-.7 3.9 .7 3.8-1.2 2.3 .5 2.9 2 3.8 0 3.3 .5 1.8-.5 5.2-1.3 3-.7 3.4 .7 1.3 1.3 2.5 1.3 2.8 1.7 1.1 .9 3.8 1.3 2.6 2.5 2.5 .3 2.6-.3 1.3-2.5 3.6 .3 2.8-2.9 2.2-2.1 1.7-1.8 2.5 0 3.9 0 1.3-2.5 3.8-1.3 1.8 .1 2.1-.1 3.8 0 1.3 0 3.3 .1-.7 2.5 1.3 2.5 0 2.6-1.3 2.6 0 3.8 0 2.6 1.3 1.3-1.3 3.8 1.3 2.6 0 2.5 0 2.6-1.3 2.6 1.3 2.5 0 2.6-1.3 2.6 1.3 2.5-1.3 2.6 1.3 2.6 0 2.5 0 3.9-1.3 1.3 1.3 2.5-1.3 2.6 1.3 3.8 0 2.6-1.3 1.3 0 2.6 0 3.8 1.3 1.3 0 3.8 0 2.6 0 2.6-1.3 2.5 0 2.6 0 3.9 1.3 0-1.3 3.8 1.3 2.6 0 2.5-.6 3-2-.4-3.9 1.3-1.2 0-3.4-.9-1.8 2.2-3.8 0-1.3 1.2-2.6 1.3-3 1.5-3.4 2.4-1.3 1.3-2.8 2.6-3.6-.1-3.8 2.6-2.6 0-2.6 0-5.1-1.3-2.3 .1-4.1 1.2-2.6 0-3.3 0-3.1-1.3-3.8-1.3-3.1 .1-3.4 1.2-3.8-1.3-2.8 1.4-2.3-1.4-2.6-1.3-1.3 0-3.8-1.1-1.3-1.4-2.6-2.6-1.3-2.6-2.3-3.4-1.5-3-1.3-2.5-2.6-2.6-2.1-1.9-.4-3.2-3.9-2.6 0-1.3-3.2-2.9-.6-2.2-1.3-2.6-2.6-2.5-1.3-2.6-1.7-2.6-2.1-1.3 0-3.8-2.6-2.6-2.5-2.5-.3-2.3-2.3-2.9-2.6-1.3 0-2.5-2.6-3.3-2.5-1.9-1.3-1.2-2.6-2.6-1.1-1.8-2.7-3.3-1.3-1.3-1.3-2.6-2.2-2.8-2.9-2.3-1.3-3.9-1.3-1.2-2-2.6-1.8-1.3-1.3-3.8-1.3-1.3-1.8-3.6-.7 2.3 0 5.1-1.9 2.6-2 1.3 0 3.8-1.3 1.3-.4 3.6-2.1-3.6-2.9-1.4-2.3-2.4-1.3-3.9-.1-1.2-1.1 2.5-1.3 2.6-1.3 2.5-.1 2.4-3.8 2.8-1.2 2.2-1.3-2.2-2.6-3.9 1.3-1.3-2.4-2.6-2.7 2.6 0 1.3-2.3 3.6-2.9-2.3-2.1-2.7-1.7-2.4 0-2.6-1.3-2.6-.8-2.4-.5-2.7-1.3-1.3 0-2.6-2.5-2.5 .6-3.4-1.9-3 0-2.6-.6-4.4 .6-2-1.3-2.6 0-3.8 0-3.9Z"/><path id="p1_16" d="M241.2 250l2.6-2.4 2.4-.1 1.4 1.4 0 2.6 2.6 3.8 1 2.2 .3 4.2 1.3 1.3 0 3.9-.3 3.1-1 2-1.3 3.8 1.3 3.9-1.5 2.8-3.7 1-1.3 1.5 .1-2.7-2.6-3.9 1.3-2.6-2.6-2.5 .8-3.3-.8-3.1 0-2.6 1.3-2.6-1.3-2.5 1.3-2.6-1.3-3.8Z"/><path id="p1_17" d="M35 217.5l5 0 2.3 1.9 3.9 2.6 1.3 .5 1.3 2 1.2 2.6 0 3.8 1.3 2.6 1.2 1.5 1.4 2.4 1.3 2.5 1.3 3.9 0 1.3 0 2.5 1 2.4 1.5 2.8 1.3 1.2 1.3 3.9 .9 2.1 1.6 1.7 2.6 2.6 2.1 3.2 1.8 1.9 3.2 1.8 3.2 1.8 1.3-2.3 2.9-3.2 2.2-1.9 0-3.9 2.6 0 1.5-2.9 1-2.2 2.6-1.3 2.6-2.5 1.3-2.8 1.2-2.4 2.6-2.5 1.3-1.3 2.4-2.6 2.7-2.6 1.3-1.2 2.6-2.6 2.1-2.3 1.7-2.8 0-1.3 1.3-3.9 1.3-1.3 1.3-2.5 1.2-2.6 0-3.8 2-1.8 4.5-.8 1.2-1.3 4.3-.4 3.4-2.2 1.3-1.2 2.8-1.6 1.1-2.3 2.5-1.3 2.6-2.5 1.3-1.4 2.5-2.5 1.3-1.3 2.6-1.3 1.1-2.4 1.5-2.7 3.8-1.3 2.2-1 1.7-1.5 3.3-3.5 3.1 2.2 1.9 .3 .6 2.3 1.3 2.5 1.3 3.9 1.8 1.3 2.1 2.5 1.2 2.6 1.7 2.4 .9 2.7-1.3 3.9 0 2.5 1.3 2.6 .3 3.3-.3 3.1 0 2.6 0 3.8-1.3 2.6 .4 2.9-.4 3.5 0 1.3-2.5 2.6 0 2.5-.9 2.6 1.3 5-1.7 .1-3.3 2.4-1.9 2.8-2.5 1.2-3.1 2.2-3.3 1.7-1.3 2.5-2.9 2.1-2.3 1.8 0 1.3-2.5 2.5-2.7 3.1-1.2 2.1-1.3 1.3-2.5 1.2-2.5 3-2.7 .9-1.2 3.8-1.3 1.3-2.3 2.7-1.6-.1-3.8 2.6-2.6 1.2-2 1.3-3.1 1.3-1.3 2.6-3.8 1.3-1.8 2.3-2.1 1.5-1.3 2.6-1.3 2.5-2.8 .9-2.3 3-1.3 1.3-1.3 1.3-2.6 1.9-2.5 1.9-2.6 2.6 0 1.3-2.4 1.7-1.4 2.1 0 2.6-2.6 3.8-1.3 2.6 .3 1.4-.3 2.4 0 2.6 0 3.8-1.2 2.6-1.3 2.6 1.3 2.5-1 3.5-1.6 3 1.3 2.5-1.3 3.9 0 1.3 0 3.8 0 2.6-.4 2.9-.9 4.8 0 1.3-1.6 3.9-1-2.7-1.2-2.5-1.3-2.6 0-2.6-.8-2.1-.5-3-1.3-2.6-1.3-1.2-1.3-3.9-.6-1.8-1.9-2-2.6-3.9-1.7-1.6-.9-2.2-2.5-3.9-2.8-1.4-2.3-2.4-2.6-1.3-1.4-3.8-1.2-2.6-2.5-1.3-2.6-2.6-1.2-1-1.4-1.6-3.8-2.5-2.6-1.3-2.2-.8-.4-3 0-1.3 0-2.6 0-3.8 0-2.6 1.3-2.6-1.3-2.5 0-2.6 0-2.6 1.3-2.5-1.3-3.9 1.3-1.3-1.3-3.8 0-2.6 1.3-2.6-1.3-2.5 1.3-2.6-1.3-2.6 1.3-1.2-1.3-3.9 0-2.6 1.3-2.5-1.3-2.6 1.3-3.8-1.3-1.3 1.3-2.6 0-3.8-1.3-2.6 0-2.6 0-2.5 0-2.6 1.3-2.6-1.3-1.2 0-2.6 0-5.1 1.3-2.6 0-1.3 0-2.6-1.3-2.5Z"/><path id="p1_18" d="M276.2 190l.9-4 .4-3.5 2.2-1.6 2.6-2.6 1.2-1.2 2.6-2.6 1.3 0 2.6-2 2.5 .7 3.9 0 2.5 1.3 3.6 .5 1.6 2.1 0 5.1 .9 2.8 .4 3.6 0 1.3 0 2.5-1.3 3.9 1.3 2.6 0 2.5 0 2.6-1.3 2.6 .9 3.4-.9 4.3 1.3 1.2-1.3 3.9 0 2.6 0 2.5 0 1.3 0 3.9-1.3 2.5-.3 2.8-3.6 2.4-1.4 2.6-2.4-2.6-1.3 0-3.8-2.4-2.6-1.5-1.3-1.3-3.8 0-2.3-2.2-.3-2.9-1.3-3.9 0-2.5 0-1.3 0-3.9-1.3-3.8-.9-1.7-.4-3.4 0-1.3 1.3-3.9-1.3-2.5 0-2.6 1.3-3.9Z"/><path id="p1_19" d="M323 200l.3-3.7-1.3-2.6 .5-3.7 2.1-1.4 3.8 0 1.6-2.4 3.6-.2 3.8 1.3 2.6 .2 2.6 1.1 1.2 2.6 3.7 1.3 1.5 1.2 2.5 2.6 1.3 1.3 2.2 2.4 1.7 2.7 1.3 1.3 3.8 2.6 1.3 2.5 1.9 .9 1.9 3 1.3 2.5 0 2.6 0 1.3 1.8 3.1 .8 3.3 2.6 1.3 1.2 2.6 .4 2.8 2.2-.3 2.6 2.6 3.8-1.3 3.9 1.3 2.5 .2 2.6-.2 3.8 1.3 2.6-1.3 2.6 0 3.4 .2 3 1.1 3.8 0 3.2 1.4 2-.1 2.5-1.3 2.6-1.3 2.6-1.3 2.8-1 2.3 2.3 2.6 0 2.5 2.6 2.6 2.5 2.5 .1 1.4-2.6 3.8 0 2.6-2.6 2.5-1.3 2.2-1 3-1.6 1.2 0 3.9-1.2 2.6-1.3 2.5-1.3 1.8-.1 2.1 .1 3.8 0 1.3-1.3 3.3 1.2-.7 2.7 0 2.5 1.3 2.6 0 2.6-1.3 2.5 0 3.9 1.3 1.3 0 3.8-1.3 2.6 1.3 2.5-1.3 2.6 1.3 2.6 0 1.2 0 3.9-1.3 2.6 1.3 2.5-1.3 2.6 1.3 2.6 0 3.8 0 2.6 0 1.3-1.3 3.8 1.3 2.6 0 2.5-1.3 1.3 1.3 2.6-1.3 3.8 1.3 2.6-1.3 2.6 0 3.8 0 1.3 1.3 2.6-1.3 2.5 1.3 3.9-.6 1.8-3.3-.5-2.6 1.3-2.5 0-2.1-.8-3.1 .8-1.2 1.2-3.9 1.3-1.3 0-3 1.7-2.1 2.2-2.6 1.2-2.8 2.8-2.3 1.1-5.1 0-2.6 .2-3.8 1.1-2.6-1.3-3.6 .2-2.8-.2-3.9 0-3.3 .2-3.1-1.5-3.8-1.3-3.1 .3-4.6-.3-1.3 0-4.1 .3-1.1-1.6-3.8-2.5-2.6-.9-1.3-3-1.2-2.5-2.6-2.6-2.4-1.9-2.7-3.2-1.3-1.3-2.6-2.6-.9-2.9-1.6-2.2-1.3-2.6-1.3-2.5-1.3-2.6-2-2.6-.6-2.5-2.5-2.6-1.3-1.3-1.3-2.6-1.8-3.5-2-1.6 0-2.6-1.3-3.8-2.6-1.3-1.6-3.2-1-1.9-1.2-3.9-2.6-1.3-1.3-2.5-1.4-2.9-2.4-1-1.3-3.8-1.3 0-2.5-2.7-2.6-1.2-2.6-1.2-2.3-2.6-1.6-2.6-1.2-2.5-2.2-2.4-.4-4.1 0-1.2 0-3.9-1.3-3.8 .5-2-.5-3.2 1.3-1.3-1.3-3.8 0-2.6 0-3.8 0-2.6Z"/><path id="p1_20" d="M35 230l5 0 2.3 2.2 1.3 3.9 2.6 1.4 0 2.4 1.3 2.6 1.3 2.6 1.2 2.5 0 2.4 0 2.8 1.3 2.5 2.6 1.3-1.3 2.6 1.3 3.8 1.1 2 1.5 .6 1.2 2.5 2.6 2.6 2.2 1.8 2.9 2.1 1.3 2.5 3.3 1.7 1.8 2.2 4.2 1.5 2.3-2.8 1.2-1.3 1.7-2.2 2.2-1.6 2.6-2.6 1.5-3.2 1-3.2 2.6-1.3 1.3-2.6 2.6-1.7 1.2-2.1 2.6-2.6 2.6-2.5 1.1-2.8 1.4-2.4 2.6-2.5 2.3-2.6 1.5-2.6 2.2-2.4 1.7-1.4 1.3-3.9 2.5-1.3 1.3-2.5 1.3-2.6 1.9-3.3 3.2-1.8 3.9 0 2.9-.7 2.2-3.2 1.3-1.3 1.3-1.2 2.5-1.3 2.7-3 2.5-.9 1.3-3.8 2.5 0 1.2-2.8 1.4-2.4 1.3-1.2 2.5-2.6 2.3-1.3 2.9-2.6 1.3-1.2 2.1-1.2 3 1.2 2 3.8 1.8 2.6 0 2.5 1.3 2.6 .6 2.3 .7 2.8-1.3 2.6 1.3 2.6 0 3.8 0 2.6-.7 3.1-.6 3.3 0 2.6-1.3 2.5-.6 4.1-.6 2.4-1.3 2.5 0 3.9-1.9 2.4-1.2 2.6-3.3 1.4-4.2-.2-3.5 1.5-2.6 1.3-1.4 1-1.2 1.5-2.5 2.6-1.3 1.3-2.5 2-1.4 3.1-2.5 2.6-1.3 1.2-2.3 3.1-1.6 2.1-2.5 0-2.6 2.5-3.3 1.7-1.8 2.2-3.9 1.3-1.8 1.5-2 2.3-2.6 1.3-2.9 1.4-.9 2.5-2.6 2.5-2.6 2.6-1.4 2.4-2.4 2.7 0 2.6-1.3 2.6-2.6 2.1-1.3 3-1.2 1.3 0 2.5-1.3 2.6-1.2 3.1-1.4 3.3-1.3 3.9 1.3 2.5-2.6 2.6 .3 2.7-.3 2.4 0 3.9-1.2 2.5-1.3 2.6-.2 3.6-1.1 2.8-1.3 2.6 0 1.3-.9 3.3-1.7-3.3-3.3-1.7-1.8-3.5-3.2-1.5-1.9-1-2.6-2.6-1.7-1.4-2.1-2.4-2.6-1.3-1.5-2.5-2.3-2.7-2.6-1.2-1.4-2.4-2.5-2.8-1.2-1.3-1.3-2.5-2.5-.9-2.7-1.7-2.5-1.3-1.3-2.5-3.5-1.5-.4-2.4 0-2.5 0-2.6 0-2.6 1.3-2.5-1.3-2.6 1.3-3.9 0-2.5-1.3-1.3 1.3-3.9-1.3-2.5 0-2.6 0-2.6 0-2.5 1.3-3.9-1.3-2.5 0-1.3 1.3-3.9-1.3-1.3 1.3-2.5 0-3.9-1.3-2.5 0-3.9 0-1.3 1.3-3.8-1.3-1.3 0-3.8 0-1.3 1.3-3.9 0-1.3-1.3-3.8 1.3-2.6Z"/><path id="p1_21" d="M290 190l1.2-.1 3.9-1.3 2.6-2.6 2.3-1 .2 2.3 1.3 2.6 1.3 2.5 1 2.6 .3 2.6 0 2.5 0 3.9-1.3 2.6 1.3 2.5 0 2.6 0 2.6-1.3 2.5 0 1.3 1.3 5.1-.3 1.8-1 2.1-1.3 2.6-1.5 2.8-1.1-2.8-1.2-1.3-1.3-3.9-1.4-2 .1-3.1-1.3-2.6 0-3.8 0-2.6 0-2.6-1.3-2.8-1.3-2.3 1.3-3.8-1.3-2.6-1.2-2.6Z"/><path id="p1_22" d="M345 215l2.7 1.8 1.3 2.6 1.3 1.3 2.5 2.5 2.2 1.8 3 2.1 2.5 0 1.3 1.3 3.2 1.6-.6 2.2 0 3.9 0 2.5 1.3 2.6 0 2.6 0 3.8 .5 2.4-.5 2.8-2.6 1.2-.6 3.5-.7-3.5-1.3-1.2-1.3-3.9-1.7-1.4-2.1-1.2-1.3-2.5-2.9-1.3-.9-3.9-1.3-1.2-1.3-1.3-1.5-3.6-1.1-2.8 0-2.6 0-3.9 0-1.2 0-3.9Z"/><path id="p1_23" d="M375 257.5l3.5-.9 1.3-1.3 5.1-1.3 2.6 0 2.5-.2 3.9-1 1.3-1.3 3.8 1.3 3.9-1.3 2.1-.3 3 .3 3.8 1.3 3.2-.3 3.3-1 2.5-1.3 4.2-.2 2.2 .2 2.6-1.3 2.7-1.4 2.4 1.4 2.6 2.6 2.5 1 2.6 .3 5.2-2.6 2.2-.2 1.6-2.4 2.6-2.5 .8-2.6 1.7-1.3 2.6-2.6 2.6-1.2 1.3-1.3 1.2-2.6 3.1-1 .8 3.6-1.3 2.5 0 1.3 1.3 3.9-1.3 1.3 1.3 3.8 0 1.3-1.3 3.8 0 2.6 1.3 2.6-1.3 2.5 0 2.6 0 2.6 0 1.2 1.3 3.9 0 2.6-1.3 2.5 1.3 3.9-1.3 1.3 0 2.5 0 2.6 0 2.6 1.3 2.5-1.3 3.9 0 2.5 1.3 1.3-1.3 2.6 0 2.6 1.3 3.8-1.3 2.6 .5 2-3.1 1.8-2.5 0-2.6 1.3-1.3 1.3-3 1.8-3.4 2-1.3 0-2.8 3-3.6 .9-3.8-1.3-2.6 1.6-3.8-1.6-1.3-1.3-4.9 .5-4.1-1.8-2.6 1.3-3.3-.8-1.8-1.7-2.6-1.3-2.5 0-3.1-2-2.1-1.9-1.3-1.3-2.5-2.5-1.6-1.8-2.3-2.1 1.3-2.5-2.6-2.6-1.4-2.8-2.4 1.5-2.6 1-1.3-3.6-1.2-2.5 0-3.9-3.9 0-1.3 1.3-2.3 1.2-.2-3.8 0-2.5 0-1.3-1.3-3.9 0-2.5 0-3.9-1-2.1-.3-3 0-3.9-1.3-1.2 0-2.6-1.3-3.9Z"/><path id="p1_24" d="M112.5 232.5l3-1.6 2.5-1.2 2-2.2 3.2-.4 1.3-1.3 3-.8 2.1-.5 2.5 1.3 2.9 1.7 1 2.2 0 3.8 0 2.6 0 2.5-1.3 2.6 0 3.9 0 2.5 .3 2.4-.3 2.8 0 3.8 0 2.6-1.3 3.8-.9 2-1.6-2-2.6-1.3-1.3-1.3-2-2.9-.5-2.2-2.6-2.5-1.9-2.8-2-2.4-1.8-2.6-2-2.5-.4-2.5 .4-3.9Z"/><path id="p1_25" d="M160 207.5l.4-2.2 1.3-2.6 2.1-2.7 .4 1.4 2.6 3.9 .7 2.2-2 4.2 0 2.6-.5 3.2-2.1 1.9-1.2 2.6-1.7 3-.9-1.8 0-3.8 1.3-2.6 0-3.8 0-3.9Z"/><path id="p1_26" d="M35 227.5l2.2-1.7 2.8-.8 2.3 2.1 2.6 3.8 1.3 1.6 0 2.3 1.3 2.6 1.3 2.5 1.2 1.3-1.2 3.9 2.5 1.2-.1 3.7 .1 2.8 1.3 2.5 0 1.3 1.3 3.8 0 2.6 2.6 2.6-.3 1.9 1.5 1.9 1.3 2.6 0 2.6 2.6 2.5 .9 2.9 .4 2.3 2.5 2.5 2.6 1.3 .8 2.7 3 2.4 0 1.3 3.2 2.5 2 2.7 3.5 1.1 1.6-2.4 2.4-1.4 3-3.8 1 2.6-1.3 2.6 2.6 2.5-1.3 2.6 1.3 2.6-.3 3.4 .3 3 0 2.6-1.3 3.8 0 2.6-1.3 3.8 .3 1.7-1.5 3.4 1.2 2.6-1.2 2.6-1.3 3.8-.9 2.6-1.7 1.3 0 3.8-1.6 2.4-2.2-2.4-2.1-1.3-3.1-2.5-3.1-1.3-2-1.3-1.3-1.3-2.9-2.4-2.2-2.7-2.6-1.3-1.5-2.2-1-1.6-3.9-2.6-1.4-2.1-2.4-3-1.3 0-2.5-2-2.7-.6-2.5-2.6-1.3 0-3.5-1.3-.4-2.5 0-3.9 0-1.2 0-3.9 0-1.3 1.3-2.5-1.3-2.6 0-3.9 0-2.5 0-2.6 0-3.8 1.3-5.2-1.3-1.3 0-2.5 0-2.6 1.3-2.6-1.3-2.5 0-2.6 1.3-2.6 0-3.8-1.3-1.3 0-3.8 0-2.6 0-2.6 1.3-2.5 0-2.6-1.3-2.6 0-2.5 0-3.9 0-1.3Z"/><path id="p1_27" d="M412.5 272.5l.6-1.8 2.6-2.6 2.6-3.8 1.7-1.8 2.1-2.1 1.3-1.2 2.6-3.9 1.5-1.5 1-1 3.9 0 2.6-1.6 2.5 1.6 2.6 1.2 2.5 2.6 2.4 .9 2.8-2.2 0-1.3 2.5-1.2 2.2-2.8 3-2.4 1.2-2.5 1.3-3.9 2-1.2 3.2-1.4 1.2-2.5 3.1-1.1-.5 2.4 1.3 3.8-1.3 1.3 1.3 2.6-1.3 3.8 0 2.6 1.3 1.3-1.3 2.5 0 3.9 1.3 3.8-1.3 1.3 0 2.6 0 2.5 0 3.9 1.3 2.5-1.3 2.6 0 2.6 1.3 2.5-1.3 1.3 1.3 3.9 0 2.5 0 2.6 0 3.9-1.3 1.2 1.3 3.9 0 1.3-.8 3.4-3.1 1.7-1.2 0-3.9 2.6-2.6 0-1.7 .7-3.4 1.8-1.3 1.3-2.8 1.9-2.3-.6-2.6 0-2.6-1.9-1.2-.7-3.9-2.5-2.4-1.8-.1-2.1-2.6-2.5-2.6-2.6 .3-2.8-1.5-3.6-1.3-1.3-2.2-2.6-.4 1.3-1.3 3.9 0 2.5-1.3 1.3-.7 3.5-1.8-.9-2.6-2.6-1.9-1.5 .6-3.6-1.3-2.6 0-2.6 0-2.5-.6-3.7 .6-2.7 0-2.6 1.3-3.9Z"/><path id="p1_28" d="M401.2 285l1.7-4 .9-2.2 1.6 3.5 .8 2.7-.8 2.4 1.3 2.6-1.3 3.8-.4 2.4-3-1.2 .9-2.5-1.3-3.8Z"/><path id="p1_29" d="M35 237.5l5 0 1.1 2.4 1.2 3.9 1.3 1.3 0 2.5 1.4 2.4-.1 2.8 1.3 3.8 0 3.8 1.3 1.3 0 3.3 0 3.1 0 2.6-1.3 2.6 0 2.5 0 3.9-1.2 2.8-2.7-.2-3.8-2.6-3.5 .3 .9-2.9-1.3-1.3 1.3-3.8 0-2.6 0-2.5-1.3-2.6 0-2.6 0-2.5 0-2.6 1.3-2.6-1.3-3.8 1.3-1.3-1.3-3.8 0-2.6 1.3-2.6Z"/><path id="p1_30" d="M62.5 300l1.6 2.8 1.3 1.3 1.3 3.8 2.1 2.1 1.8 3.1 2.5 1.2 1.9 3.2 2 2 1.3 3.8 .5 1.7-.5 2.2 1.2 3.8-1.2 3.9 0 2.5 .5 2.6-3.1-1.3-.7-3.7-.6-2.7-1.3-1.3-1.3-3.8-1.8-2.2-.7-3-1.3-1.2-2.6-2.6-.4-3.2-.9-3.2-1.2-3.9 0-1.3 1.2-3.8Z"/><path id="p1_31" d="M427.5 272.5l1-3.1 1.3-2.5 1.3-2.6 .1-1.8 2.5-2.1 3.8-1.6 2.6 .4 1.3 2.5 2.5 2.6 3.6 .7 2.8-3.3 1.3-2.5 1.3-2.6 2.1-1.6 3-1 1.3-2.5 1.3-2.6 1.9-1.4 3.2-1.2 1.8-1.3-.5 2.6 0 2.6 1.3 3.8-1.3 1.3 0 2.6 0 3.8 0 1.3 0 2.6 1.3 2.5-1.3 2.6 1.3 3.9-1.3 1.2 0 2.6 1.3 3.9 0 1.2-1.3 2.6 0 3.9 0 2.5 0 2.6 0 2.6 .5 2.3-3.1 1.5-1.2 2.6-3.2 .9-3.3 1.6-3.8 0-2.9 .9-2.2-2.1-1.3-1.3-2.6-2.6-1.4-1.5-3.7-1.1-1.3-1.2-2.5-.2-2.6-2.4-1.3-2.6-1.1-2.5-1.5-2.6 0-3.9-1-3.5-.3-4.2Z"/><path id="p1_32" d="M442.5 285l1.4-1.5 2.6-2.5 1-3.5 1.5 2.2 3.9 1.3 2.1 1.5-.8-2.8 2.5-3.9 1.3-2.5 0-2.6 0-2.6 .8-3.1 .5-3.3 2.6-1.3 1.3-3.8 1.8-1.6 2.5-2.5-.5 1.5 0 3.9 0 2.5 0 2.6 0 2.6 0 2.5 0 3.9 0 2.6 1.3 2.5-1.3 3.9 0 1.3 1.3 2.5 0 2.6 0 3.8 0 2.6-.8 2.4-3.1 1.5-1.2 1.2-3.2 1.1-3.3-1.1-3.8 0-2.9-.1-1-2.4-3.8 0-1.4-2.6 .1-2.6-1.3-3.8Z"/><path id="p1_33" d="M461.2 262.5l2-.8 2.5-1.3 1.8-2.9-.5 1.7 1.3 2.5 0 3.9-1.3 3.8 0 2.6 0 2.6 1.3 2.5 0 2.6 0 1.3-.8 4-5 1.2-.6-2.7-1.3-3.8-1.3-1.3 .7-3.4-.7-3 1.3-2.6 1.3-3.8Z"/><path id="p1_34" d="M67 284l2.3-1.7 3.7-2.3 1.4 3.5 0 1.3 0 3.9 1.3 2.5 1.3 2.6 0 2.2 0 2.9 0 2.6 1.3 1.3-1.3 3.8 1.3 3.9 0 1.3 0 3.8 0 2.6 .7 1.8 .5 3.3 0 2.6 0 2.5-1.2 1.3 1.2 2.6 0 3.8-1.2 2.6 1.2 2.6-.5 2.7-2 1.1-3 .9 .4-2.2-1.3-3.8 0-2.6-1.3-1.3 0-2.5 0-3.9 0-1.3-.8-3.4-.4-1.7 0-3.8 0-2.6 0-3.8-1.3-2.6 0-3.9-.3-1.6 .3-3.5-1.3-2.6 1.3-2.5 0-2.6-1.3-1.3-1.3-2.5 0-2.6Z"/><path id="p1_35" d="M70 290l4-2 .4 3.2 1.3 2.6-1.3 2.6 1.6 3.6 1 2.8-1.3 3.8-.7 3.4-3-4-.2-3.2-1.2-1.3 0-3.8 0-2.6-1.3-1.3Z"/><path id="p1_36" d="M41 262l4-1 1.2 2-1.3 3.9 0 2.5 0 2.6 1.1 2-4 2-.9-2.7 0-3.9 0-1.3 0-3.8Z"/><path id="p1_37" d="M43 283l4.5-2 1.5 0-.2 2.5 1.2 3.9 1.3 1.3 0 5.1-.3 2.2-3.5 1.7-2.5 1.3-.1-1.3 0-3.9-1.3-2.6 0-2.5 0-2.6Z"/><path id="p1_38" d="M50 263l4 2-.1 3.1 1.3 2.6-1.3 3.9 0 2.5 1.1 2.9-4 2-1-2.3 0-3.9 1.3-1.2 0-3.9-1.3-2.6 1.3-2.5Z"/><path id="p1_39" d="M68 355l4-2 1.1 2.4 0 2.6 .9 4-.9 2.4-3.1 1.6 .6-2.9-1.3-2.6 0-2.5Z"/><path id="p1_40" d="M218.7 166l.7 2.1 1.3 3.8 0 2.6 0 3.8 .3 1.7 1 2.2 0 2.6 0 2.5 0 2.6 1.2 3.8 .4 2.3-.4 2.9 0 2.5 0 2.6 1.3 1.3 0 3.8 0 2.6-1.3 1.3 2.6 3.8-1.3 3.9-1.3 1.3 1.3 2.5 1.3 3.9-.8 1.6-.5 2.2 0 2.6 0 3.8 1.3 1.3-1.3 3.9 1.3 1.3-1.3 2.5 0 3.9 0 2.5 1.3 2 1.3-3.2-1.3-2.6 1.3-2.6 0-2.5 0-2.6 0-2.6 .4-3.9 .9-2.5 0-2.6 0-2.5 0-2.6 0-2.6 1.3-2.5-1.3-3.9 .6-1.8-.6-3.3 1.3-2.6 0-2.5 1.2-3.9 1.3-1.3-.2-3.4 .2-3 0-2.6 1.3-2.5 0-2.6-1.3-3.8 1.3-1.3 1.3-3.9-.4-2.3-2.2 2.3-2.2 3.7-.3-2.4-1.3-3.8-1.3-2.6-1.1-3.2-1.5 3.2-2.5 2.8 0-2.8-2.6-2.6 1.3-1.2Z"/><path id="p1_41" d="M246.2 150l-1.1 2.7 1.2 2.5 0 3.9 0 1.3 0 3.8 1.3 2.6 0 2.6 0 1.2 0 3.9 0 2.6 .4 2.9-.4 3.5 1.3 1.3 0 3.8-1.3 2.6 1.3 2.5 1.3 3.9-1.3 1.3 0 2.5 1.3 3.9 0 2.5-.2 2.2 .2 3 1.3 2.5 0 3.9-1.3 1.3 1.3 2.5 0 2.6 0 3.9 .5 2.3 .8 2.8 0 2.6 0 2.5 .2 3.1-.2-3.1 0-2.5 1.2-2.6 0-3.9 .5-2.9 .8-2.2 0-2.6-1.3-3.8 1.3-2.6 0-2.5 0-3.9 .7-2.4-.7-2.7 1.3-2.6 0-2.6 0-3.8 0-1.3 0-3.8 1.3-2.6 0-2.6-1.3-2.5 .9-3.5 .4-1.7 0-5.1 0-2.6 0-1.2 0-3.9 1.3-1.3-1.3-2.5 0-2.6 0-2.6 1.3-2.5-.7-4-.6-2.5-1.3-2.5-1.3-2.6-.3-2.4 .3 3.7-1.3 1.3-1.2 2.5-.8 2.5-.5-2.5 0-2.5-2.6-3.9 .1-3.1-1.4 3.1 0 2.6-1.3 3.8Z"/><path id="p1_42" d="M203 200l1-3.7 0-1.3 1.3-3.8-.3-3.2 .3 3.2 1.3 3.8 0 1.3 1.2 3.8-1.2 2.6 .9 2.3-.9 2.8 1.2 2.6 0 2.6 0 2.5 1.3 3.9-1.3 2.6 0 2.5 1.3 2.6-1.3 2.6 0 3.8 .7 2.5-.7 2.6 1.3 2.6 0 2.6-1.3 2.5 1.3 2.6-1.3 2.6 1.3 2.5 0 2.6 1.3 2.6-.9 2.8-.4-4.1-1.3-1.3 0-3.8-.8-2.8 .8-2.4-1.2-2.5 0-3.9-1.3-1.3 0-3.8 0-3.9 0-2.5-1.3-1.3 1-3.4 .3-3-1.3-2.6 0-1.3 0-5.1 0-1.3 0-3.9-1.3-2.5 1.3-1.3Z"/></defs>
<clipPath id="c1"><path d="M111 17.3l354.4 0 0 423.7-390.4 0-30-29-5.7-29 0-241 5.7-32 5-50 20-29Z"/></clipPath>
<g clip-path="url(#c1)">
<path d="M25 5l453 0 0 447-453 0Z" fill="#00009c"/>
<use href="#p1_1" fill="#0000d4"/>
<use href="#p1_2" fill="#00009c"/>
<use href="#p1_3" fill="#00009c"/>
<use href="#p1_4" fill="#00009c"/>
<use href="#p1_5" fill="#00009c"/>
<use href="#p1_6" fill="#00009c"/>
<use href="#p1_7" fill="#0022ff"/>
<use href="#p1_8" fill="#0070ff"/>
<use href="#p1_9" fill="#00b0ff"/>
<use href="#p1_10" fill="#00ffff"/>
<use href="#p1_11" fill="#00ffff"/>
<use href="#p1_12" fill="#00ffff"/>
<use href="#p1_13" fill="#00ffff"/>
<use href="#p1_14" fill="#ffffe2"/>
<use href="#p1_15" fill="#ffffe2"/>
<use href="#p1_16" fill="#ffffe2"/>
<use href="#p1_17" fill="#ffffc4"/>
<use href="#p1_18" fill="#ffffc4"/>
<use href="#p1_19" fill="#ffffc4"/>
<use href="#p1_20" fill="#ffff98"/>
<use href="#p1_21" fill="#ffff98"/>
<use href="#p1_22" fill="#ffff98"/>
<use href="#p1_23" fill="#ffff98"/>
<use href="#p1_24" fill="#fff200"/>
<use href="#p1_25" fill="#fff200"/>
<use href="#p1_26" fill="#fff200"/>
<use href="#p1_27" fill="#fff200"/>
<use href="#p1_28" fill="#fff200"/>
<use href="#p1_29" fill="#ffb000"/>
<use href="#p1_30" fill="#ffb000"/>
<use href="#p1_31" fill="#ffb000"/>
<use href="#p1_32" fill="#ff7000"/>
<use href="#p1_33" fill="#ff3000"/>
<use href="#p1_34" fill="#ffb000"/>
<use href="#p1_35" fill="#ff7000"/>
<path d="M39 250l3.3-1.1 2.6-1.3 3.1 .4 2 2.2 1.3 2.6 2.6 3.8 1.1 1.4 .2 2.4 0 3.9 0 3.8 0 1.3 2.5 3.9-.7 2.7-.5 2.4 0 2.6 0 3.8 0 2.6-1.3 1.3 .8 3.3-.8 1.8-1.3 2.6 0 2.5-2.6 2.6-1.3 2.5-2.5 2.6-3.5 1.4-2.9-1.4-2.1-2.6-.5-2.5 1.3-2.6-1.3-2.5 1.3-2.6 0-2.6-1.3-2.5 1.3-3.9 0-2.5 0-2.6 0-2.6 0-2.5-1.3-2.6 1.3-3.9 0-2.5-1.3-2.6 0-2.6 0-2.5 1.3-2.6 0-2.5Z" fill="#000"/>
<path d="M59.5 338l3.4-1.9 2.1-.1 .4 1.4-1.3 5.2 0 1.2 1.3 2.6 1.3 3.9 0 2.5-1.3 2.6 1.3 1.3-1.3 3.8 1.3 1.3 0 3.9-.2 2.3 .2 2.8 0 2.6 0 2.5 0 3.9-1.3 1.3 1.3 2.5 0 3.9-1.3 1.2 0 3.9 0 1.3 .6 4.1-1.9 3.6-1.6 2.4 .4-3.7-1.3-1.3 0-3.8 0-1.3-1.3-3.9 1.3-2.5-1.3-2.6 0-2.6 .2-2.3-.2-2.8 0-2.6 1.3-3.8 0-2.6-1.3-1.3 0-2.5 0-2.6-1.3-3.8 1.3-1.3 0-2.6-1.3-2.6 1.3-2.5-1.3-3.9 1.3-1.3-1.3-2.5Z" fill="#000"/>
<path d="M66 352l2-.5 4-1.5 1.1 2.8 0 2.6 1.3 3.8 1.6 2.8-.3 3.7-1.3 2.5-.4 3.8-2.2-2.5-3.8-1.5 0-2.3-1.3-3.9 0-1.3 0-2.5 0-3.9Z" fill="#000"/>
<use href="#p1_36" fill="#fff200"/>
<use href="#p1_37" fill="#ffb000"/>
<use href="#p1_38" fill="#fff200"/>
<use href="#p1_39" fill="#ffffc4"/>
<use href="#p1_40" fill="#0070ff"/>
<use href="#p1_41" fill="#0070ff"/>
<use href="#p1_42" fill="#00b0ff"/>
<rect x="29.5" y="17.3" width="435.9" height="438.7" fill="url(#tex)"/>
<path d="M29.5 89H465.4M29.5 118.2H465.4M29.5 235.2H465.4M29.5 381.4H465.4M29.5 410.6H465.4" stroke="#fff" stroke-opacity=".3" stroke-width="1" fill="none"/>
<g fill="none" stroke="#000" stroke-width="1.7" stroke-linejoin="round"><use href="#p1_1"/><use href="#p1_2"/><use href="#p1_3"/><use href="#p1_4"/><use href="#p1_5"/><use href="#p1_6"/><use href="#p1_7"/><use href="#p1_8"/><use href="#p1_9"/><use href="#p1_10"/><use href="#p1_11"/><use href="#p1_12"/><use href="#p1_13"/><use href="#p1_14"/><use href="#p1_15"/><use href="#p1_16"/><use href="#p1_17"/><use href="#p1_18"/><use href="#p1_19"/><use href="#p1_20"/><use href="#p1_21"/><use href="#p1_22"/><use href="#p1_23"/><use href="#p1_24"/><use href="#p1_25"/><use href="#p1_26"/><use href="#p1_27"/><use href="#p1_28"/><use href="#p1_29"/><use href="#p1_30"/><use href="#p1_31"/><use href="#p1_32"/><use href="#p1_33"/><use href="#p1_34"/><use href="#p1_35"/><use href="#p1_36"/><use href="#p1_37"/><use href="#p1_38"/><use href="#p1_39"/><use href="#p1_40"/><use href="#p1_41"/><use href="#p1_42"/><path d="M39 312l3.3 2.3 1.3 1.3 2.6 3.9 1.8 1.5 2 2.3 1.3 2.6 1.3 2.5 2.6 2.6 .8 2 1.7 3.1 1.3 3.9 2 2M39 321.5l3.3 3.1 1.3 1.3 1.3 2.5 3.1 2.1 2 3.1 1.3 2.5 0 1.3 2.6 2.6 2.1 2.5 1.7 2.6 2.6 3.9 .7 2.5M39 331l2.1 1.3 2.5 2.6 2.6 2.5 1.8 2.6 .8 1.3 2.5 2.5 1.3 3.9 2.6 1.3 .8 3 1.7 3.4 2.6 1.3 .7 4.3M39 340.5l2.1 2.1 2.5 1.2 1.3 3.9 3.1 1.8 .8 3.3 2.5 2.6 0 1.3 3.9 2.5 .8 2.3 1.7 2.9 2.6 2.5 .7 3.6M39 350l2.1 2.8 2.5 1.3 2.6 3.9 1.8 1 2 1.5 1.3 3.9 1.3 1.3 2.6 2.5 .8 2.8 1.7 2.4 2.6 2.5 .7 4.1M39 359.5l2.1 2.3 2.5 1.3 2.6 3.8 1.8 1.6 2 2.3 1.3 2.6 1.3 2.5 1.3 2.6 2.1 2 1.7 3.1 2.6 2.6 .7 3.3M39 369l3.3 1.8 1.3 2.6 1.3 2.5 3.1 2.1 .8 1.8 1.2 3.8 2.6 1.3 1.3 1.3 2.1 3.8 1.7 2.6 2.6 3.8 .7 2.6M63 345l1.1 2.7 0 3.8 0 1.3-1.2 3.9 2.5 2.5 0 1.3 0 2.6-1.3 3.8 2.6 2.6-.7 2.5 2 2.6-1.3 2.6 1.3 2.6 1.3 2.5 0 2.6 0 3.8 0 2.6 1.3 2.6 0 2.5 1.2 3.9 .2 1.7 1.1 2.1-1.3 2.6 2.6 2.6 0 3.8 1.3 1.3 0 2.6 0 3.8 0 1.3 1.3 3.9 1.3 1.2-.3 2.8 .3 2.4 1.2 2.5 0 3.9 1.5 2.2M66.2 349l.5 2.5 1.3 2.6-1.3 3.9 0 2.5 1.3 2.6 0 2.6 0 3.8 0 1.3 1.3 2.6-.1 3.6 .1 2.8 1.3 2.5 0 1.3 0 3.9 0 3.8 1.2 2.6 1.3 1.3 0 2.5 1.3 2.6 0 3.8 .8 1.9 .5 2 1.3 2.6 0 2.5 1.3 3.9 0 2.5 0 2.6 1.2 1.3 1.3 2.6 0 2.5 .4 3.5 .9 2.9 0 3.9 2.1 2.2M69.4 353l-.1 2.4 0 2.6 1.3 2.5-1.3 2.6 1.3 2.6 1.2 3.8-1.2 2.6 0 2.5 1.2 1.3 0 2.6 .6 3.5 2 2.9 0 2.6-1.3 2.5 1.3 2.6 1.3 2.6 0 1.2 1.3 3.9 0 2.6 1.3 1.2-1.3 2.6 1.4 3.3 1.1 1.8 0 3.9 0 2.6 1.3 2.5 0 2.6 1.3 1.3 1.3 3.8 0 3.9 1 1.6 1.6 3.5 1.4 3.5M72.6 357l-.8 2.2 2.6 3.9 0 2.6-1.3 1.2 0 3.9 1.3 2.6 0 2.5 0 2.6 0 3.8 0 2.6 1.2 2.1 1.4 3 0 1.3 0 3.9 1.3 2.5 0 2.6 0 3.8 1.2 1.3 1.3 2.6 0 2.6 .8 3.4 .5 3 0 3.8 2.6 2.6 0 1.3 0 2.5 2.5 2.6 0 3.9 .4 2.3 2.2 1.5 .8 3.5M75.8 361l-.1 3.4 0 1.3 0 3.8 1.3 2.6 0 3.8 0 2.6 1.3 2.6-1.3 2.5 1.3 2.6 0 2.5 .5 3.3 .7 1.9 1.3 3.8 0 2.6 0 2.6 1.3 1.2 0 3.9 0 1.3 1.3 2.5 1.3 3.9 .1 2.3 1.2 2.8 0 2.6 0 2.6 2.5 2.5 0 2.6 1.3 1.3 0 3.8 1 1.8 3 3M60 215l.3 3.1 0 3.9 0 3.8 1.3 2.6-1.3 3.8 1.3 2.6 0 1.3 .4 3.9 .9 3.8 0 2.5 0 1.3 1.2 3.9 0 2.5 0 1.3 1.3 3.9 .6 2.8 .7 2.3 1.3 2.6 0 3.8 0 3.9 0 1.2 1.3 3.9 .7 2.3 .6 2.8 0 2.6 1.2 2.6 1.3 1.2 0 3.9 2.6 1.3 .3 3.6M56 212l-.8 2.3 1.3 2.5 1.2 2.6 0 2.6 0 5.1 0 2.6 0 2.5 0 1.3 0 3.9 .3 2.6-.3 2.5 1.3 2.6 1.3 2.5-1.3 2.6 0 3.8 1.3 2.6 1.3 1.3-1.3 2.5 0 3.9 1.7 1.7 .9 3.4 0 2.6 0 1.3 1.2 3.8 0 1.3 0 2.6 0 2.5 1.3 3.9 .6 2.6-.6 3.8 1.3 1.3 0 3.8 0 2.6 1.3 2.6 1.3 2.5 0 3.9 .7 1.5M64 222l1.4 3.8 0 2.6-1.3 1.3 1.3 3.8 0 1.3 0 3.8 1.3 1.3-1.3 3.9 1.6 2.2 1 1.6 0 3.9 1.3 2.5 0 3.9 1.3 2.5 0 2.6 .4 3 .8 3.4 1.3 1.3 0 2.6 0 2.5 1.3 2.6 0 2.6 1.6 3"/></g>
<g class="cl"><text transform="translate(171 85) rotate(-50)" text-anchor="middle" dy="2.9">0.02</text><text transform="translate(163.8 125) rotate(-40)" text-anchor="middle" dy="2.9">0.04</text><text transform="translate(165 142.5) rotate(-40)" text-anchor="middle" dy="2.9">0.06</text><text transform="translate(142.5 170) rotate(-45)" text-anchor="middle" dy="2.9">0.08</text><text transform="translate(137.5 200) rotate(-45)" text-anchor="middle" dy="2.9">0.14</text><text transform="translate(142.5 217.5) rotate(-40)" text-anchor="middle" dy="2.9">0.16</text><text transform="translate(117.5 234) rotate(0)" text-anchor="middle" dy="2.9">0.18</text><text transform="translate(47.5 215) rotate(0)" text-anchor="middle" dy="2.9">0.12</text><text transform="translate(60 118.8) rotate(70)" text-anchor="middle" dy="2.9">0.02</text><text transform="translate(195 188.8) rotate(-70)" text-anchor="middle" dy="2.9">0.1</text><text transform="translate(227.5 182.5) rotate(-60)" text-anchor="middle" dy="2.9">0.08</text><text transform="translate(287.5 77.5) rotate(50)" text-anchor="middle" dy="2.9">0.02</text><text transform="translate(345 156) rotate(25)" text-anchor="middle" dy="2.9">0.08</text><text transform="translate(382.5 165) rotate(25)" text-anchor="middle" dy="2.9">0.04</text><text transform="translate(413.8 193.8) rotate(15)" text-anchor="middle" dy="2.9">0.06</text><text transform="translate(290 176) rotate(-35)" text-anchor="middle" dy="2.9">0.14</text><text transform="translate(295 210) rotate(-40)" text-anchor="middle" dy="2.9">0.16</text><text transform="translate(350 215) rotate(60)" text-anchor="middle" dy="2.9">0.16</text><text transform="translate(308.8 232.5) rotate(-50)" text-anchor="middle" dy="2.9">0.12</text><text transform="translate(337.5 240) rotate(45)" text-anchor="middle" dy="2.9">0.14</text><text transform="translate(225 182.5) rotate(-60)" text-anchor="middle" dy="2.9">0.08</text><text transform="translate(328.8 285) rotate(50)" text-anchor="middle" dy="2.9">0.1</text><text transform="translate(303.8 292.5) rotate(60)" text-anchor="middle" dy="2.9">0.06</text><text transform="translate(301.3 345) rotate(80)" text-anchor="middle" dy="2.9">0.04</text><text transform="translate(381.3 353.8) rotate(30)" text-anchor="middle" dy="2.9">0.08</text><text transform="translate(436.3 328.5) rotate(5)" text-anchor="middle" dy="2.9">0.16</text><text transform="translate(301 398) rotate(0)" text-anchor="middle" dy="2.9">0.02</text><text transform="translate(127.5 305) rotate(-25)" text-anchor="middle" dy="2.9">0.12</text><text transform="translate(138.8 287.5) rotate(-30)" text-anchor="middle" dy="2.9">0.14</text><text transform="translate(143.8 325) rotate(-45)" text-anchor="middle" dy="2.9">0.08</text><text transform="translate(100 345) rotate(-70)" text-anchor="middle" dy="2.9">0.1</text><text transform="translate(208.8 342.5) rotate(70)" text-anchor="middle" dy="2.9">0.1</text><text transform="translate(197.5 372.5) rotate(70)" text-anchor="middle" dy="2.9">0.06</text><text transform="translate(221.3 390) rotate(20)" text-anchor="middle" dy="2.9">0.04</text><text transform="translate(233.8 297.5) rotate(60)" text-anchor="middle" dy="2.9">0.08</text><text transform="translate(247.5 277.5) rotate(30)" text-anchor="middle" dy="2.9">0.12</text><text transform="translate(76 250) rotate(-50)" text-anchor="middle" dy="2.9">0.14</text><text transform="translate(84 262) rotate(-60)" text-anchor="middle" dy="2.9">0.16</text><text transform="translate(45 305) rotate(-45)" text-anchor="middle" dy="2.9">0.18</text><text transform="translate(48 250) rotate(60)" text-anchor="middle" dy="2.9">0.2</text></g>

</g>
<path d="M29.5 17.3H465.4V456H29.5ZM29.5 17.3v-4.6M29.5 456v3.4M41.5 17.3v-7.3M41.5 456v5.4M54.3 17.3v-4.6M54.3 456v3.4M67.2 17.3v-7.3M67.2 456v5.4M80 17.3v-4.6M80 456v3.4M92.8 17.3v-7.3M92.8 456v5.4M105.6 17.3v-4.6M105.6 456v3.4M118.5 17.3v-7.3M118.5 456v5.4M131.3 17.3v-4.6M131.3 456v3.4M144.1 17.3v-7.3M144.1 456v5.4M157 17.3v-4.6M157 456v3.4M169.8 17.3v-7.3M169.8 456v5.4M182.6 17.3v-4.6M182.6 456v3.4M195.5 17.3v-7.3M195.5 456v5.4M208.3 17.3v-4.6M208.3 456v3.4M221.1 17.3v-7.3M221.1 456v5.4M233.9 17.3v-4.6M233.9 456v3.4M246.8 17.3v-7.3M246.8 456v5.4M259.6 17.3v-4.6M259.6 456v3.4M272.4 17.3v-7.3M272.4 456v5.4M285.3 17.3v-4.6M285.3 456v3.4M298.1 17.3v-7.3M298.1 456v5.4M310.9 17.3v-4.6M310.9 456v3.4M323.8 17.3v-7.3M323.8 456v5.4M336.6 17.3v-4.6M336.6 456v3.4M349.4 17.3v-7.3M349.4 456v5.4M362.2 17.3v-4.6M362.2 456v3.4M375.1 17.3v-7.3M375.1 456v5.4M387.9 17.3v-4.6M387.9 456v3.4M400.7 17.3v-7.3M400.7 456v5.4M413.6 17.3v-4.6M413.6 456v3.4M426.4 17.3v-7.3M426.4 456v5.4M439.2 17.3v-4.6M439.2 456v3.4M452.1 17.3v-7.3M452.1 456v5.4M465.4 17.3v-4.6M465.4 456v3.4M29.5 456h-7M465.4 456h5.6M29.5 426.7h-7M465.4 426.7h5.6M29.5 397.5h-7M465.4 397.5h5.6M29.5 368.2h-7M465.4 368.2h5.6M29.5 339h-7M465.4 339h5.6M29.5 309.8h-7M465.4 309.8h5.6M29.5 280.5h-7M465.4 280.5h5.6M29.5 251.3h-7M465.4 251.3h5.6M29.5 222h-7M465.4 222h5.6M29.5 192.8h-7M465.4 192.8h5.6M29.5 163.5h-7M465.4 163.5h5.6M29.5 134.3h-7M465.4 134.3h5.6M29.5 105h-7M465.4 105h5.6M29.5 75.8h-7M465.4 75.8h5.6M29.5 46.5h-7M465.4 46.5h5.6M29.5 17.3h-7M465.4 17.3h5.6" fill="none" stroke="#000" stroke-width="1.4"/>
<g class="tk"><text x="17.2" y="458.7" text-anchor="end">1</text><text x="17.2" y="429.4" text-anchor="end">2</text><text x="17.2" y="400.2" text-anchor="end">3</text><text x="17.2" y="370.9" text-anchor="end">4</text><text x="17.2" y="341.7" text-anchor="end">5</text><text x="17.2" y="312.4" text-anchor="end">6</text><text x="17.2" y="283.2" text-anchor="end">7</text><text x="17.2" y="254" text-anchor="end">8</text><text x="17.2" y="224.7" text-anchor="end">9</text><text x="17.2" y="195.5" text-anchor="end">10</text><text x="17.2" y="166.2" text-anchor="end">11</text><text x="17.2" y="137" text-anchor="end">12</text><text x="17.2" y="107.7" text-anchor="end">13</text><text x="17.2" y="78.5" text-anchor="end">14</text><text x="17.2" y="49.2" text-anchor="end">15</text><text x="17.2" y="20" text-anchor="end">16</text><text x="41.5" y="474" text-anchor="middle">−80</text><text x="67.2" y="474" text-anchor="middle">−70</text><text x="92.8" y="474" text-anchor="middle">−60</text><text x="118.5" y="474" text-anchor="middle">−50</text><text x="144.1" y="474" text-anchor="middle">−40</text><text x="169.8" y="474" text-anchor="middle">−30</text><text x="195.5" y="474" text-anchor="middle">−20</text><text x="221.1" y="474" text-anchor="middle">−10</text><text x="246.8" y="474" text-anchor="middle">0</text><text x="272.4" y="474" text-anchor="middle">10</text><text x="298.1" y="474" text-anchor="middle">20</text><text x="323.8" y="474" text-anchor="middle">30</text><text x="349.4" y="474" text-anchor="middle">40</text><text x="375.1" y="474" text-anchor="middle">50</text><text x="400.7" y="474" text-anchor="middle">60</text><text x="426.4" y="474" text-anchor="middle">70</text><text x="452.1" y="474" text-anchor="middle">80</text></g>
</g>
<g id="panel2">
<defs><path id="p2_1" d="M570 160.7l2.2-.3 3.9 0 3.8 0 2.8 .3 3.6-1.6 2.3-3.2 1.6 1.9 0 3.9 0 2.5 1.3 3.9 1.8 2 2-3.3 2.8-2 3.6 .7 3.4-.1 1.8 2.7 1.2 1.3 1.3 2.5 1.6 2.3 1 2.9 1.3 2.5 1.3 1.3 2.5 3.9 1 2.4 1.6 2.7 2.6 2.5 1.7 3.1 4.7 1.2 2.5-1.7 0-3.8 1.3-1.3 1-2.7 1.6-2.4 4.3-1.1 3.4-1.5 3.8 0 2.2-2.1 3-1.8 1.2-2.5 1.7-3.9 2.2-1.3 2.6-2.5 3.5-1.5 1.6-3.7 3.8 0 1.3-3.8 2.7-1.4 2.6-.2 2.4-2.3 0-1.2 3.9-2.6 1.2-1.4 1.3-2.5 1.3-2.5 1.3-2.6 0-2.6 2.6-2.5 1-2.3 1.5-2.9 2.6-2.5 1.3-2.6 1.3-1.3 3.3-1.9 1.8-1.9 0-2.6 1.3-2.5 1.3-2.6 1.2-1.3 1.3-2.6 1.9-2.8 2-1 2.5-1.3 3.9-1.3 2.8-1.4 3.6-1.1 2.6 0 2.5 0 3.8-.9 2.7 .9 2.5 1.2 1.3 1.3 2.2 2.3 1.7-2.3 1.2-2.5 1.3-2.6 2.1-1.3 1.8-2.6 1.3-1.2 1.2-2.6 1.3-2.6 2.6-2.5 1.8-2.2 2-3 2.6-1.3 2.6-1.2 1.3-3.9 1.2-1.3 2.8-1.9 2.4-.6 2.5 0 3.9-1.3 3.7-.5 2.7-.8 2.6 0 2.5-1.3 1.3-1.3 3.4-.4-.5 2.5 2.2-.8 3.9 0 2.6-1.3 3.8-.4 2.6-.9 1.3-2.5 3.8-1.3 1.3-1.3 2.2-1.5 2.9 .2 2.6 3.9 3.3 2.2 3.1 1.6 1.3 1.3 3.1 .8 2 1.8 2.6 2.5 0 2.6 2.9 1.8 2.2 .8 1.3 2.5 2.6 1.3 2.5 3.9 1.4 .3 1.2 1 2.6 3.8 2.5 0 2.6 1.3 1.1 2.7 2.7-.1 3.9 1.2 3.4 .1 3 1.2 1.3 2.6 1.3 2.6 2.5 2.5 1.9 1.1 .7 2.8 2.6 1.3 1.3 2.5 2.5 1.3 2.6 2.6 .3 2 2.3 1.8 1.2 2.6 2.6 1.3 0 3.8 1.3 1.3 2.6 1.7 2.5 2.1 0 2.6 2.6 2.6 0 2.5 1.3 3.9 2.5 2.6 1.1 1.2 2.8 1.3 1.3 2.6 1.2 1.3 2.6 1.3 2.1 2.2 1.8 1.6 2.5 1.3 2.6 0 3.1 2.1 2 .5 2.6 1.2 2.6 1.3 2.8 .8 2.3 1.8 1.3 2.6 2.5 1.2 2.6 1.3 1.3 3.1 1.3 .8 3.8 1.3 2.6 1.2 2.3 1.7 2.8 .9 2.6 2.6 2.5 0 2.1 1.5 1.8 2.3 3.8 0 2.6 1.3 1.8 1.4 3.3-.1 3.9 2.5 2.8 .1 2.3-2.6 1.3-1.3 3.9-2.4 3.8-1.4 1.3 0 2.6-1.3 2.5-1.3 2.3-1 2.9-.3 2.5 1.3 2.6-1 0 3.6 0 1.2 0 3.9-1.3 1.3 1.3 2.5 0 3.9 0 1.3 1.3 3.8 0 2.6-1.3 2.5 0 2.6-1.3 1.3 1.3 3.8 0 1.3 0 3.9 0 1.3 0 2.5 0 2.6 1.3 3.8-1.3 2.6 0 2.6-1.3 2.5 1.3 1.3 0 5.2 1.3 1.2 0 3.9 0 1.3-1.3 2.5 0 2.6 1.3 2.6 0 3.8-1.3 2.6 0 1.3 0 3.8 0 2.6 0 2.5 0 2.6 1.3 2.6-1.3 2.5 0 2.6 0 1.3 1.3 3.8-2.6 1.3 1.3 3.9 0 2.5 0 1.3 1.3 2.6-1.3 2.6 0 2.5 0 2.6 1.3 3.8-1.3 1.3 1.3 3.9 0 2.5-2.6 2.6 1.3 1.3 1.3 3.8-1.3 1.3 0 2.6 0 2.5 0 3.9 0 3.8 0 2.6 0 1.3 0 2.6 0 3.8 0 1.3-1.3 2.6 2.6 2.5-1.3 2.6-1.3 3.8 1.3 1.3-1.3 3.9 1.3 2.5 0 2.6 0 1.3 1.3 3.8-1.3 2.6 0 2.6-1.3 1.2 1.3 2.6 0 2.6 0 2.5 0 3.9 0 2.6 1.3 1.2-1.3 3.9 0 2.6 0 2.5 0 2.6 0 2.6 0 2.5 0 2.6 0 2.6 0 2.5 0 2.6 0 1.3 0 3.8 0 3.9 0 1.3 0 2.5 0 2.6-1.3 2.5 1.3 3-2.6 .9-2.5 0-2.6 0-2.6-1.3-2.5 0-3.9 0-2.6 0-1.2 0-2.6 0-2.6 1.3-3.8-1.3-2.6 0-2.6 0-2.5 0-1.3 1.3-2.6-1.3-3.8 1.3-2.6-1.3-1.3 0-3.8 0-2.6 1.3-1.3-1.3-3.8 0-2.6 0-2.5 0-2.6 0-1.3 0-3.8 1.3-2.6-1.3-1.3 1.3-2.6-1.3-3.8 0-1.3 0-3.8 0-1.3 0-3.9 0-2.5 0-1.3 0-3.9 0-2.5 0-2.6 0-2.6 1.3-2.5 0-2.6-1.3-2.6 0-3.8 0-2.6 0-1.3 0-2.5 0-3.9 1.3-1.3 0-2.5-1.3-2.6 1.3-2.6-1.3-2.5 0-3.9 1.3-2.5-1.3-2.6 1.3-1.3 0-2.6-1.3-3.8 0-2.6 0-1.3 0-3.8 0-1.3 0-2.6 0-3.8 0-2.6 0-2.5 1.3-2.6-1.3-2.6 0-2.5 0-2.6 0-2.6 0-2.5 0-2.6 0-2.6 0-2.5 0-2.6 1.3-2.6 0-3.8-1.3-2.6 0-2.5 0-1.3 0-2.6 0-2.6 0-2.5 0-3.9 1.3-1.3 0-2.5 0-2.6 0-2.6-1.3-3.8 1.3-1.3 0-3.8-1.3-1.3 0-3.9 0-2.5 0-2.6 0-2.6 0-2.5 0-2.6 1.3-2.6 0-1.2-1.3-5.2 0-1.3 1.3-2.5-1.3-2.6 0-2.6 0-2.5 0-2.6 1.3-3.8 0-1.3-1.3-2.6 1.3-2.6-1.3-2.5 0-3.9 0-1.3 0-3.8 0-1.3 0-2.6 0-2.5 1.3-3.9-1.3-2.5 1.3-1.3-1.3-3.9 0-1.2 0-2.6 0-3.9 0-1.2 1.3-3.9-1.3-2.6 0-2.5 0-2.6 1.3-2.6-1.3-2.5 0-2.6 0-2.6 1.3-2.5-1.3-1.3 0-3.9 0-2.5 0-3.9 0-1.3 0-2.5 0-2.6 0-2.5 1.3-2.6 0-2.6-1.3-3.8 0-1.3 0-2.6 0-3.8 1.3-1.3 0-2.6-1.3-3.8 1.3-2.6-1.3-1.3 0-2.5 1.3-2.6 0-2.6-1.3-3.8 0-1.3 0-2.6 1.3-3.8 0-2.6-1.3-2.6 1.3-1.2-1.3-3.9 1.3-1.3 0-3.8-1.3-2.6 1.3-2.2-.9-.3-1.7 0-3.8 1.2-2.6 0-1.3-1.2-3.8 1.2-2.6-1.2-1.3 1.2-2.5-1.2-3.9 0-1.3 0-3.8 0-2.6 1.2-3.8-1.2-2.6 0-1.3 0-3.8 0-1.3 0-3.9 0-2.5 1.2-1.3 0-2.6-1.2-3.8 1.2-1.3 0-3.9-1.2-2.5 0-2.6 1.2-1.3-1.2-3.8 0-2.6 0-1.3 0-3.8 0-1.3 0-2.6 0-3.8 1.2-2.6-1.2-1.3 0-3.8 0-1.3 0-3.8 0-2.6 0-2.6 1.2-2.5-1.2-2.6 1.2-2.6 0-2.5 0-2.6 0-2.6-1.2-2.5 1.2-2.6-1.2-1.3 1.2-3.8-1.2-2.6 0-3.8 0-1.3 0-2.6 0-2.6 0-2.5 0-3.9 0-1.3 1.2-2.5-1.2-2.6 1.2-3.8-1.2-2.6 0-1.3 1.2-2.6-1.2-2.5 1.2-3.9-1.2-1.3 1.2-3.8-1.2-1.3 0-3.8 0-2.6 0-2.6 1.2-2.5-1.2-2.6 0-2.6 0-1.2 0-3.9 0-2.6 1.2-1.2-1.2-2.6 0-3.9 0-1.2 0-3.9 0-2.6 0-1.2 0-3.9 0-3.8 0-1.3 0-2.6 1.2-2.6 0-2.5-1.2-2.6 0-2.6 0-2.5 0-3.9 0-2.5 0-1.3 1.2-3.9-1.2-2.5 0-2.6 0-2.6 1.2-1.2 0-3.9-1.2-2.6 0-1.2 0-3.9 0-2.6 0-2.5 0-1.3 1.2-3.9Z"/><path id="p2_2" d="M570 345l2.2 .1 3.9 1.3 2.5 0 2.6 1.3 1.3 0 3.8 1.3 2.5 1 .1 1.5 1.3 3.9 0 2.6 1.3 3.8 1.2 1.3 0 3.8 1.3 2.6 1.3 2.6-.3 2.9 .3 3.5 1.3 1.3 1.3 1.3 1.3 3.8 0 2.6 0 2.5 0 1.3 2.5 2.6 0 2.5 .8 3.6 1.8 2.9 0 2.5 0 2.6 1.3 2.6 0 2.5 0 3.9 0 1.3 1.3 3.8 1.2 1.3 1.3 2.6 0 3.8 0 2.6 1.3 2.5 1.3 2.6-.8 2.5 .8 2.6 0 3.9 1.3 2.5-.8 3.5-3.1 .4-2.5 0-2.6-1.3-2.6 0-1.3 0-3.8 1.3-3.9 0-1.2 0-3.9-1.3-2.6 0-2.5 0-2.6 1.3-2.6-1.3-2.5 1.3-2.6-1.3-2.2 .4-.3-3 0-1.2 0-3.9 1.2-2.5-1.2-1.3 1.2-3.9-1.2-2.5 0-2.6 1.2-2.6-1.2-2.5 1.2-3.9 0-2.6 0-1.2-1.2-2.6 0-3.9 0-2.5 0-1.3 0-3.9 0-1.2 0-2.6 0-2.6 0-3.8 0-2.6 0-2.6 0-2.5 1.2-2.6-1.2-2.5 0-2.6 0-2.6 0-2.5 1.2-2.6-1.2-2.6 0-2.5 0-2.6 0-2.6 0-2.5 0-2.6 0-3.9 1.2-1.2 0-1.3Z"/><path id="p2_3" d="M800.8 450l-.2-3.5 0-2.6 .2-3.9-.2-2.5 0-2.6 1.3-2.5-1.3-3.9 1.3-2.5 0-1.3 0-3.9 0-2.5 0-2.6 .1-3.2 1.2-1.9 2.5-2.6 0-2.6 1.3-2.5 1.3-2.6 1.3-2.6 2.5-2.5 1.3-2.6 0-1.3 1.3-2.6 1.3-3.8 1.3-2.6 1.7-1.1 .8 2.4 1.3 2.6 2.6 2.5 1.3 1.3 1.3 2.6 1.2 2.6 2.6 2.5 1.3 3.9 0 2.5 1.3 1.3 2.5 2.6 .6 2 .7 3.1-1.3 2.6 0 1.3 0 3.8 0 2.6 0 2.6 1.3 2.5-1.3 2.6 1.3 2.6 0 3.8-.7 2.5 .7 2.6 0 3.9-.7 3.5-1.9 .3-3.8-1.3-2.6 1.3-1.2 0-3.9 0-3.8 0-1.3-1.3-2.6 1.3-2.6 0-2.5-1.3-3.9 1.3-2.5 0Z"/><path id="p2_4" d="M845.8 450l-.3-3.5 0-3.9 .3-2.6-.3-3.8 1.3-1.3 2.5-2.5 .2-3.6 1.1 2.3 1.3 2.6 1.3 2.5 0 3.8 0 3.9 0 2.6 0 3.5-3.9 .3Z"/><path id="p2_5" d="M858.2 450l1.4-3.5-1.3-2.6-.1-3.9 1.4-2.5 1.3-2.6 0-3.8 0-2.6 1.1-2.3 .2 2.3 0 2.6 1.3 2.6 2.5 3.8-.2 2.5-1.1 3.9 1.3 2.6-.2 3.5-3.6 .3Z"/><path id="p2_6" d="M957 450l.1-3.5-1.3-2.6 1.2-3.9 2.7-1.2 2.5 0 2.6-2.6 2.6-1.3 2.1-1.1 1.7-1.4 2.6-2.6 2.6-1.3 1.2-2.5 1.9-1 2-1.6 2.6-1.3 2.9-2.1 3.5-.5 3.8 2.6 2.7-.9 2.5-.4 2.5-1.3 2.5-2 2.7-3.1 1-1.9 2.8-1.9 3.5-.6 .4 3.1 0 2.6 0 2.6 0 1.2 0 3.9 0 2.6 0 3.8-1.3 1.3 1.3 2.6-1.3 3.8 1.3 1.3 0 2.6-1.3 2.5 1.3 3.9-.4 2.2-3.5-1-1.3 1.3-3.8 0-1.3 0-3.9 0-2.5 0-2.6 0-2.6 0-2.5 0-1.3 0-3.9 0-2.5-1.3-2.6 0-2.6 1.3-3.8 0-1.3-1.3-2.6 0-2.5 0-1.3 0-5.1 0-1.3 0Z"/><path id="p2_7" d="M570 181.9l2.2 .3 3.9 0 3.8-1.3 2.8 1 2.3-1 3.6-2 1.6 2 1.3 2.6 1.8 1.9 4.8-1.7 4.9 1.1 2.1 .6 1.8 1.9 1.2 2.6 2.9 3.2 1 1.9 2.6 2.6 0 3.8 0 2.6 2.3 2.1 2.8 3 0 1.3 3.1 2.8 3.3 1.1 2.6 .1 1.3-1.4 1.2-3.9 2.3-1.8 2.9-2 3.8 0 1.5-1.6 1.1-3.6 2.5-1.2 2.3-2.2 1.6-3 1.3-2.5 3-2.8 2.1-2.4 2.6 0 2.5 0 2.3-2.3 2.9-1.5 2.5-1.3 1.3-1.3 2.7-1.8 2.6-1.6 2.4-1.7 2.6-1.3 1.3-2.6 1.3-3.8 2.4-1.8 1.4-2.1 2.6-1.2 1.3-2.6 1.2-3.9 1.3-1.2 2.2-1.5 3-1.1 1.2-2.6 2.6-2.5 1.3-2.6 1.9-2.5 3.2-1.4 2.6-1.2 2.5-1.3 1.7-1.1 3.5-.2 3.8 1.3 2.7-.3 2.5 1.6 3.8 0 1.3 1.2 2.4 .2 2.7-.2 1.3 2.6 3.9 1.3 2.1 .1 3 1.2 3.2 0 .6-2.6 2.6-1.3 1.8-3.6 .8-2.8 0-1.3 1.3-2.5 1.7-3.4 2.1-3 0-1.3 1.3-2.6 1.3-1.3 2.5-2.5 .3-3 2.3-2.2 2.6-1.3 2.5-2.5 2.6-1.6 2.6-2.3 2.5-1.3 2.6-1.2 2.6-1.3 2.2-.1 2.9-1.2 2.6 0 1.2-2.6 2.6-1.3 3.2-1.1-3 3.7 2.4-1.3 1.3-1.3 3.8-1.2 2.6-2.6 2.4-1.1 4-.2 3.5 1.4 2.9 1.2 1.3 2.5 3.3 2.6 3.1 1.3 1.3 2.6 2.5 1.2 .6 3.6 2 2.9 1.3 2.5 1.3 2.6 2.9 .8 2.2 3 1.3 1.3 2.6 1.3 1.2 2.6 2.7 1.8 2.5 2 3.8 1.3 1.3 0 2.4 1.7 4 .9 1.3 0 4.7 1.6 1.7 .9 2.6 3.9 2.6 1.3 2.5 1.2 .6 2.7 .7 2.5 2.6 2.5 2.5 1.3 0 2.6 2.6 1.3 1.6 2.3 2.3 1.5 2.5 2.6 1.3 1.3 1.3 2.5 2.6 2.1 2.5 1.8 2.6 2.6 0 1.2 2.5 2.6 2.4 1.8 2.8 2.1 2.5 1.2 1.3 2.6 3.4 1.6 3 1 2.6 1.3 2.6 0 1.8 1.4 2-.2 3.9 1.3 1.3 2.6 2.8 .1 1 2.4 2.6 2.6 2.5 2.6 1.4 2.4 2.5 1.4 2.6-1.3 5.1 2.6 2.3-.2 2.8 2.8 2.6 0 2.5 2.5 2.1 1 3.1 1.6 1.3 0 2.5 1.3 3.1 .8 3.3 1.8 3.9-1.3 2.8 .8 2.3-2.1 2.6-1.3 2.6-1.6 2.5-1 1.3-1.2 3.9-1.3 1.2-1.3 3.6-1.5 2.9 .2 2.5 0 2.6-.2 0 2.8 0 2.5 0 2.6 0 2.6 0 2.5 0 2.6 0 3.9 0 1.2-1.3 2.6 1.3 3.9 0 2.5 0 1.3 0 3.9 0 2.5 0 1.3-1.3 2.6 1.3 3.8-1.3 1.3 2.6 2.6-1.3 3.8 1.3 2.6-2.6 2.5 1.3 1.3 1.3 3.9-1.3 2.5 0 2.6-1.3 3.9 1.3 1.2 0 2.6 0 3.9 0 1.2 0 3.9 0 1.3 0 2.5-1.3 3.9 0 1.3 1.3 3.8-1.3 2.6 1.3 1.3-1.3 2.5 1.3 5.2-1.3 1.3 0 2.5 1.3 2.6 0 2.6 0 2.5 0 2.6 0 3.8 0 1.3 0 3.9 0 1.2 0 3.9 0 1.3 0 2.5 0 3.9 1.3 2.6-1.3 2.5 0 2.6-1.3 3.8 1.3 0 0 2.6 1.3 3.9-1.3 3.8 0 1.3 0 2.6 0 2.5 0 2.6 0 3.8 0 1.3 0 2.6-1.3 2.5 1.3 3.9 0 2.6 0 1.2 0 3.6-2.6 .3-2.5 0-2.9-.3-3.6 1.6-3.8 0-2.6 0-2.5 1.3-2.5 .9-4 1.6-2.5-1.3-3.5 .9-4.2-.9-1.3 0-2.6 0-4.4-.3-2 1.6-2.6 2.6-2.9 2-2.2 1.8 0 2.6-2.8 3.1-3.6 .8-2.6 1.2-3.8 .5-2.6 .8-2.5 0-2.6 2.6-2.3 .4-2.8 .9-3.9 1.3-3.3 .2-3.1 1-2.6 1.3-4.3 .3-2.1-1.6-1.3-3.8-1.3-1.3-1.2-2.6-1.3-2.5-2.8-2-1.1-3.2-1.3-1.2-1.2-2.6 0-2.6-2.6-3.8-1.3-1.6-1.3-2.3-2.5-2.5-2.5-2.7-1.4 1.4-3.8 2.5-1 1.1-1.6-1.1-3.8 0-2.1-1.4-3.1-2.4-1.3 0-3.8-2.6-1.8-2.5-2.1-1.3-3.8-1.3-1.3-1.3-2.8 .2-2.3 2.4-2.6 2.5-2.6 1.3-2.5 0-2.6 2.6-2.6 0-2.3 1.2-1.5-2.5-1.3-1.3 0-2.5-1.3-3.9-2.5-1.3 0-3.8-2.6 0-.8-3.5-1.8-2.9 0-2.6-1.3-1.3-1.2-3.8-1.3-1.3-1.9-3.1-2-2-1.2-3.9-1.3-1.3-1.3-1.3-1.7-2.7-2.2 1.5-3.8 1.2-1.3 1.3-2.7 2.2-1.1 1.7-1.3 2.5-1.3 2.6-2.6 3.9-1.3 1.2-1.2 3.9-1.2 1.7-4-.4-3.5 .4-1.6 .9-2.6 3.8-1.3 0-2 2.8-3.1-.2-1.3 2.5-3.8 0-1.8 1.5-.8 2.4-1.3 3.8-1.3 2.6-1.6 2.4-.9 2.7-1.3 2.6-2.6 2.6 0 3.8-1.2 1.3-1.5 3.2 1.5 1.9 1.2 1.3 0 3.9 2.6 2.5 1.3 2.6 .9 1.6 .4 2.2 0 3.9 1.2 2.6 1.3 2.5-.4 3.8-.9 2.6 1.3 3.9-.4 3.5-3.4 .3-2.6 0-2.5 0-2.6-1.3-1.3 1.3-2.6 0-3.8 0-2.6 0-2.5 0-2.6-1.3-2.6 1.3-3.8 0-1.3 0-2.6 1.3-3.8-1.3-1.3 0-2.6 0-3.8 0-2.6 0-2.6 0-1.2 1.3-3.9 0-1.3-1.3-3.8 1.3-2.6-1.3-2.6 1.3-1.2 0-2.6 0-3.8-1.3-2.6 1 0-3.5 0-3.9 .8-2.8 1.8-2.3 2.5-1.3 1.3-2.6 3.8-2.5 1.6-1.5 2.3-2.4 1.3 0 3.8-3.8 1.3-1.3 2.6-2.6 1.3-.9 1.2-1.6 3.9-2.6 1.3 0 3-2.1 2.1-1.8 3.9 0 1.9-1.4-3.2-1.1 0-2.6-3.1-2.6-.8-2.5-2.5-3.9-1.3-1.3-1.3-2.5-2-2.4-1.9-1.5-2.5-3.8 0-2.6-2.6-1.3 0-2.5-2.6-2.6-1.4-2.2-2.4 .9-3.9 3.1-2.5-1.8-1.3-1.3-2.6-1.3-3-1.1-2.1 1.1-2.6 0-3.8 0-2.6 1.3-1.3-1.3-3.3 1.2-1.8 2.7-2.6 1.3-3.5 2.3-.3 2.8 0 2.6-1.3 2.5 0 1.3-1 3.7-1.6 2.7 0 1.3-1.2 3.9-1.3 2.5-1.3 2.6 0 2.6-1.3 2.5-.8 1.9-1.8 2-2.5 2.5 0 2.6-3.2 2.9-3.2 2.2-1.3 1.3-3.9 1.3-1.6 2.7-3.5 2.4-1.3 0-2.5 2.6-2.6 1.3-1.3 1.2-2.6-2.5-1.2-2.6-2.6-1.2-2.6-2.6-1.3-2.6-2.5-1.3-1-2.2-1.6-2.9-2.6 0-1.2-3.8-3.9-1.3 0-2.6-3.2-1.9-.6-3.2-2.6-2.6-1.3-2.6-1.3-1.2 0-2.6-2.5-2.6-1.3-3.8-1.3-1.3-1.6-2.6-1-2.5 0-2.6-1.3-2.6 0-3.8-1.2-2.6 0-2.5-2.6-2.6 1.3-2.6 0-2.5-2.6-2.6-.1-3.1-1.2-.8-2.5-2.5-3.9 0-1.3-2.6-2.5-1.3-2.6-1.3-3.5-1.5 .9-2.3-1.2-2.6 1.2-2.5-1.2-3.9 0-1.3 0-2.5 0-3.9 0-2.6 1.2-1.2-1.2-3.9 1.2-2.5 0-1.3-1.2-3.9 0-2.5 0-1.3 1.2-3.9 0-1.3-1.2-3.8 1.2-2.6-1.2-2.5 1.2-2.6-1.2-3.9 0-1.2 0-2.6 0-2.6 0-3.8 1.2-2.6-1.2-2.6 0-1.2 1.2-3.9-1.2-2.6 0-2.5 0-1.3 0-3.9 1.2-1.2-1.2-3.9 0-2.5 0-2.6 1.2-2.6-1.2-2.5 0-2.6 0-2.6 1.2-3.8-1.2-1.3 0-3.9 0-2.5 0-2.6 1.2-1.3-1.2-2.5 0-3.9 0-1.3 0-2.5 0-3.9 1.2-2.6-1.2-2.5 0-2.6 0-1.3 0-5.1 0-5.1 0-1.3 0-2.6 1.2-2.5Z"/><path id="p2_8" d="M570 193.7l2.2-1.3 5.1 2.6 2.6-1.3 2.8 0 3.6-2.5 2.3-1.6 1.6 2.8 2.5 3.9 .6 1.5 2-2.8 2.8-3.1 2.3 3.1 1.3 1.3 1.3 2.6 2.1 1.3 1.8 2.5 1.2 2.6 2.6 2.5 1.5 3 1.1 3.5 1.3 2.5 1.2 2.6 1.1 3.2 2.8 1.9 1.3 1.3 1.8 2.1 3.3 .5 2.6-1.1 2.5-2.8 0-3.8 2.3-1.6 1.6-1 2.6-1.3 4-1.3 2.4-2.5 3.5-2.2 .3-1.7 3.9-3.8 0-1.3 1.2-2.6 1.7-2.4 3.5-1.4 2.5-1.3 2.3-.8 2.9-1.8 2.5-2.5 2.6-1.3 1.4-2.7 2.6 1.6 2.4-1.5 1.3-2.5 2.6 0 2.5-3.9 1.2-.9 1.4-2.9 2.6-1.3 0-2.6 2.5-2.6 2.6-2.5 .9-3.1 3-2.1 2.5-2.5 1.3 0 3.2-2.9 3.2 .3 2.6-2.6 2.5 0 1.7-.7 4.8-.5 2.7-.2 3.7 .2 1.3 2.5 2.5 1.3 2.5 1 1.4 2.9 1.3 2.5 2.5 1.3 2.3 2 1.6 1.9 0 2.5 2.5 2.6 .9 3 1.7 2.1 0 3.9 1.3 2.7 0 3.7 1.3 1.3 .7 3.8 .6-2.6 1.2-3.8 0-2.6 1.2-3.5 .1-2.9 1.3-2.5 1.3-2.6 1.3-2.6 .5-1.9 .8-3.2 1.2-1.3 0-2.6 1.3-2.5 0-2.6 1.7-2.8 .9-2.3 0-2.6 1.3-1.3 1.3-3.8 1.2-2.6 .3-2.4 2.3-2.7 0-2.6 2.7-2.2 2.4-1.6 3.9 0 1.3 0 2.4-2.1 2.7-1.8 1.3 0 2.5-1.3 3.9-2.5 2.1-.7 3-.6 3.9 0 2.6-1.9 2.5-2 2.6-1.2 2.5 0 2.4-1.8 2.8 .5 2.5 1.3 2.2 2 3 .5 4.5 .7 .6 1.9 2.6 3.8 1.2 1.3 1.9 3 2 2.1 1.3 2.6 3.8 1.3 1.6 1.5 3.6 2.3 1.2 1.3 2.6 1.3 2.6 2.6 2.5 1.3 1.3 2.5 3.7 1.2 4 .1 2.6 0 3.4 1.1 3 1.5 2.6 1.3 2.5 1.2 1.9 2.3 3.3 1.6 0 1.3 2.5 2.5 2.6 2.6 1.6 2 1 1.9 2.5 1.2 2.6 2.6 1.3 1.3 2.6 3 2.5 2.1 1.3 1.3 1.3 1.3 2.5 2.6 2.4 1.4 2.8 1.1 1.3 1.3 3.8 2.6 2.1 1.3 4.3-.1 1.3 1.3 4.4 1.3 3.3 1.3 2.6 1.3 1.3 2.5 2.8-.1 2.3 2.7 1.3 2.6 1.3 2.5 2.6 2.2 2.5 .4 1.3 1.3 3.8 0 2.6 1.3 2.3 .8 2.8 1.7 2.6 1.3 2.5 1.3 2.1 1.9 1.8 .7 3.8 1.3 1.3 1.2 3.1 .6 3.3 .7 2.6 1.3 4.1 .4 2.3-1.7 2.6-1.3 2.6-3.2 2.5-.6 2.6-2.6 2.6 0 1.2 0 3.6-1.8 1.6-.7 2.5 1.2 3.9-.5 1.3 1.8-1.3 3.9 0 1.3 1.3 3.8-1.3 2.6 0 2.5-1.3 2.6 1.3 3.9 0 1.2 0 2.6-1.3 3.9 2.6 1.2-2.6 2.6 1.3 3.9 1.3 1.2 0 2.6-1.3 2.6 0 2.5 1.3 3.9-1.3 1.3 0 2.5 0 3.9 1.3 1.3-1.3 3.8 1.3 2.6-1.3 2.5 0 2.6 0 2.6 1.3 2.5 0 2.6 0 2.6-1.3 3.8-1.3 1.3 1.3 3.9 0 2.5-1.3 1.3 1.3 3.9 0 2.5 0 1.3 0 2.6 1.3 2.5-1.3 2.6 0 3.8 0 1.3 0 3.9 1.3 2.5 0 1.3 0 3.9 0 1.3-1.3 5.1 0 1.3 0 2.5 1.3 3.9-1.3 1.3 0 2.5 0 3.9-1.3 2.6 1.3 1.2 1.3 3.9-1.3 1.3 0 3.8-1.3 1.3 1.3 3.9 0 2.5-1.3 2.6 1.3 2.5 0 2.5-2.6 .1-2.5 0-2.9-.1-2.3 .1-2.5 2.6-2.6 0-2.6 1.3-2.5 0-2.5 1-4-1-2.5 0-3.5-.2-2.9-1.1-1.3 0-3.9-1.3-2.5 0-1.9-1.4-2 1.4-2.6 1.3-3.8 0-1.3 2.5-2.8 1.1-3.6 1.5-2.6 0-1.2 2.6-2.6 .9-1.3 .4-3.8 1.2-2.6 1.3-2.3 2.1-4.1-2.1-2.6 0-3.3-.4-3.1 .4-3.9 0-3 2.1-.8-2.1-1.3-3.8-2.6-1.3-1.2-2.6-1.3-3.8-1.3 0-1.5-3.9 .2-2.5-2.6-2.6-2.5-3.8-1.3-3.9-1.3-2.2-1.3-2.9-2.5-2.6 0-2.6-1.3-1.2-2.4-3.2-4 1.9-2.6 0-3.4 .6-1.7-1.9-1.3-2.6-1.3-2.5-.7-3-.6-2.2-2.5-2.5-1.3-1.3-1.8-2.8-3.4 1.5-2.9 2.3-2.2 2.8-1.3 2.6-2.5 2.6-1.5 2-2.4 3.1 0 2.6-2.6 1.2 0 3.9-1.2 1.7 0-3-2.6-2.6-1.3-2.5-1.3-1.3-1.1-3.1-1.4-3.3-1.3-1.3 0-3.9 0-2.5-1.3-3.9 0-2.5-1-2.6-.3-2.6-1.3-2.5 0-2.6-2.5-2.6 1.2-1.3-2.1-3.4-1.7-3-1.3-2.5-1.3-1.3 0-2.6-2-3.1-1.8 .6-3.9 0-3 .7-2.1 1.8-3.8 1.3-1.3 2.6-2.6 2.5-2.7 .5-2.4 2.1-1.3 2.6-1.3 2.5-2.6 2.6-2.5 2.6-1.3 1.2-1.1 2.7 2.1 2.4-2.3-2.5-2.6-1.3-1.2-2.5-1.8-3.1-2.1 3.1-2.6 0-1.2 2.5-1.9 2.2-2 3-2.8 1.7-1-1.7-1.3-3.9-2.6-1.3 .2-2.5-3.9 1.6-1.4 2.2 0 2.6 0 2.5 0 2.6-1.3 3.9-1.3 1.2 0 3.9 .1 1.5-.1 2.3-1.3 2.6 0 3.9-1.2 1.2-1.3 3.9 0 1.3-1.3 2.5 1.3 2.6-1.3 3.9 0 2.5-2.6 1.3-.1 3.5-1.2 2.9-1.2 1.3-2.6 3.8-1.3 3-2.6 2.2-1.2 1.3-2.5 2.8-3.1-3.1-2.1-3.6 0-2.6 0-1.2-2.6-3.9 0-1.3-1.3-2.5 0-2.6-1.9-2.8-.7-2.3 0-3.9-2.5-2.5 1.3-2.6-1.3-2.6-2.6-2.5 0-2.6-.5-3-2.1-2.1-1.2-2.6 0-2.6-2.5-2.8-1.4-2.3-2.6-1.3-1.2-2.6-2.3-1.3-1.6 2.6-2.6 1.3-3.8 1.3-1.3 1.3-3.2 1-3.2-1-3.8 1.3-3-.3-2.2 2.8-2.5 0-3.9 3.9-1.4 .8-2.4 .5-2.6 1.2-2.5 .8-1.4 1.8-1.2 3.9-3.9 2.5-1 1.8-1.6 3.4-2.5 1.2-1.3 2.6-2.1 2.8-1.8 2.3-2.5 3.9-2.6 1.3-.6 2.5-2 2.6-2.5 2.6-1.3 2.5-1.7 2.3-2.2 1.6 0 2.5-2.5 3.9-1.3 2.6-1.5 1.9-2.3 1.9-1.3 1.3-1.3 2.6-2.6 1.7-2.5 2.1-2.6 2.6-2.4 1.5-1.5-2.8-2.5-1.3-1.3-2.6-2.2-2-1.7-3.1-2.5-2.6-1.3-1.2-2-3.1-1.9-2.1 0-2.5-2.5-2.6 0-1.3-2.6-3.8-.5-2.7-.8-2.5-1.3-1.3-2.5-3.8-1.3-2.6-1.6-2.3-1-1.5 0-3.9-1.3-1.2-1.2-2.6 0-2.6 0-3.8-1.5-1.9-2.4-3.3-1.4-3-3.7-.8-1.3-1.3-2.6 0-3.8 0-2.6-2.6-2.2 .5-.3-3 0-2.6 0-2.6 1.2-2.5-1.2-2.6 1.2-3.8 0-1.3-1.2-2.6 0-2.6 1.2-2.5 0-2.6 0-3.8-1.2-1.3 0-3.9 0-2.5 0-2.6 1.2-2.6 0-1.2-1.2-2.6 0-2.6 0-2.5 1.2-5.2 0-2.5-1.2-2.6 1.2-1.3-1.2-2.6 0-2.5 0-2.6 0-2.6 0-2.5 0-3.9 0-2.5 0-1.3 0-3.9 1.2-1.3-1.2-2.5 1.2-3.9 0-2.5-1.2-3.9 0-1.3 0-1.2 0-5.2 0-1.3 1.2-2.5-1.2-2.6 0-3.8 0-2.6 0-2.6 0-1.3 0-2.5 0-3.9 0-2.5 0-2.6 1.2-2.6 0-2.5-1.2-2.6 1.2-1.3-1.2-2.6 0-3.8Z"/><path id="p2_9" d="M714.3 451.3l.3-2.3 0-3.8-.3-4.1 .3-2.3 2.6-2.6 1.3-2.5 1.3-1.3 2.5-3.9 2.6-2.5 1.2-1.4 2.6 .1 3.9-1.3 2.9-2 3.5-1.9 1.3 0 3.8-2.5 2.4-1.9 4.1 .6 1.2 3.8 2.6 .4 0 3.5 2.6 2.6 0 1.2 2.5 2.6 1.2 2.7 2.7 1.2 1.3 3.8 2.5 1.3 1.4 2.3-.1 2.8 0 5.1 .1 2.3-2.6 .3-2.6-1.3-3.9 1.3-2.5 0-2.6 0-2.6 0-2.5 0-2.6 0-2.6-1.3-1.2 0-5.2 0-2.5 1.3-2.6 0-1.3 0-2.6-1.3-3.8 1.3-2.6 0-2.5 0-2.6 0Z"/><path id="p2_10" d="M570 206.1l2.2 .5 5.1-1.3 1.3 0 4.1 .8 3.6-2.1 2.3-2 1.6 2 1.3 1.3 1.2 2.5 1.8 3 .8-3 2.6-2.5 .8-3.3 1.7 3.3 3.9 1.3 .8 3 1.8 3.4 1.2 2.5 2.6 2.6 1.5 2.2 2.4 2.9-1.3 1.3 2.5 3.9 1.3 3.8-.2 2.2 1.5 1.7 3.3 3 3.1-1.7 3.9-.6 1.3-3.3 1.2-1.3 2.3-2.5 1.6-1.3 3.8 0 2.8-2.2 2.4-.4 2.5-1.3 2.2-1.9 1.7-1.9 1.3-3.9 1.2-2.5 1.7-2.3 2.2-2.9 1.3-1.3 2.5 0 2.3-2.9 1.6-.9 3.8-2.6 1.3-2.5 2.7-2.2 2.6 .8 2.4-2.5 2.6-2.6 2.5-1.2 1.3-2.6 2.6-1.3 1.3-3.8 2.3-1 1.5-2.9 2.6-1.3 1.3-2.5 2.1-2 3-1.9 2.6-1.3 3.1-1.8 2-.7 3.9 0 2.9-.6 2.2 .6 2.6 0 2.7 1.9 1.1 3.2 2.6 1.3 1.3 1.3 2.5 1.7 1.3 2.1 0 2.6 2.6 2.6 1.1 2.7 1.4 2.4 0 2.5 0 3.9 1.3 2.6 1.1 3.6 1.5 2.8-1.3 2.5 0 3.9 2.6 2.6 0 3.8-.4 1.9 .4 3.2 0 2.6 0 3.9 1.3 2.5-.4 2.8 .4 2.4 0 3.8 0 2.6 0 2.5 .9 3.7 .3 2.8 0 2.5 0 3.9 0 1.2 1.3 3.9-1.3 2.6 0 2.5 .4 3.1-.4 3.3 0 1.3 0 3.9 0 1.3 1.3 3.8 0 2.6-1.3 2.5 0 2.6 0 3.9 0 1.2 0 3.9 0 1.3 0 3.8 .4 2.1 .9 1.8-1.3 3.8 0 2.6 0 2.6 1.3 2.5-1.3 3.9 1.3 3.8 .3 2.3-.3 2.8 0 2.6 2.6 1.3-1.3 3.8 1.3 1.3 .1 4 1.2 2.4 0 2.6 0 2.6 1.3 2.5 0 2.6 0 2.6 1.2 2.5 .2 2.6-.2 2.6 0 2.5 0 3.9-1.2 2.6-.1 2.6-4.3 0 .5-3.9-1.3-1.3 0-2.6 0-3.8 0-1.3 0-3.9 0-2.5-.4-2.7-.9-2.5 0-2.5 1.3-5.2-1.3-1.2-1.2-2.6 0-3.9-.3-2.6 .3-2.5 0-3.8-1.3-2.6 0-2.6 0-3.8-.6-2-.7-1.9 0-3.8-1.3-2.6-1.3-2.5-.6-3.4 3.2 .9-2.9 0-1-1.4-1.2-3.8-1.3-1.3-2.4-2.3-2.8 2.3-1.2 0-1.3 2.5-3.6 2.1-2.8-.8-1.3 0-3.8-.2-2.6 1.5-1.3 2.6-1.3 1.3-2.6 2.4-1.3 2.7-1.2 1.3 0 3.8-2.6 1.3-1.3 3.8-.5 1.6-3.3 2.3-1.3 1.3-2.9 2.6-3.5 2.5-1.3 1.3-2.7 2.5-1.2 1.3-2.5 2.6-1.3 1.3-2.5 2.3-2.6 1.5 0 2.6-3.9 2.6-1 .8-1.6 1.7-1.2 2.6-2.6 1.3-2.1 1.9-3 3.2-1.3 2.6-1.3 2.6-1.9 1.6-2 3.5-1.2 2.6-1.3 2.5-3 1.4-2.2 3.7-1.2 1.3 0 2.6-1.3 2.6-2.8 2.3-2.3 1.5-1.3 2.6-2.6 1.3-1.3 2.1-2.5 3-2.6 0-1.2 3.2-1.4-1.9-2.5-2.6-1.3-1.3-2.6-3.8-.9-1.6-1.7-2.3-1.2-2.5-2.6-2.6-2-2.6-.6-1.3-2.5-3.8-1.3-1.3 0-2.5-2.6-3.9-.5-2.2-2.1-2.9-2.5-1.3-1.3-1.3-1.6-2-1-1.8 0-2.6-1.3-2.6-1.2-3.8-1.5-1.7-2.4-2.2-2.6-2.8-2.5 .3-3.9 1.2-1.3 1.3-3.8 0-3.5 1.2-.3-2.5 0-2.5 0-2.6 0-2.6 0-3.8 0-1.3 0-2.6 0-2.5 0-3.9 0-2.5 0-2.6 0-2.6 1.2-2.5-1.2-2.6 0-2.6 1.2-2.5 0-2.6-1.2-2.6 0-2.5 0-2.6 0-2.6 1.2-3.8-1.2-1.3 1.2-3.8-1.2-1.3 0-3.9 0-2.5 1.2-2.6-1.2-2.6 1.2-1.3-1.2-3.8 0-2.6 1.2-2.5 0-2.6 0-2.6 0-3.8 0-2.6-1.2-2.5 1.2-1.3-1.2-2.6 0-2.6 0-2.5 1.2-3.9-1.2-2.5 0-1.3 0-3.9 1.2-1.3-1.2-3.8 1.2-2.6 0-3.8 0-1.3-1.2-2.6 1.2-2.5-1.2-3.9 0-2.6Z"/><path id="p2_11" d="M783.2 306.2l-.6-2.1 0-3.9-2.5-1.3 0-2.5-1.3-2.6 0-2.6-1.3-3.8-.5-2.4-.8-2.7-1.3-2.6 0-2.6-1.3-2.5-1.2-2.6-1.6-2 .3-1.9-1.3-2.5 0-3.9 0-3.8 0-2.6-1.3-2.5 1-2.8 .3-2.4-1.3-2.5 1.3-3.9-1.3-2.6 1.3-2.5-1.3-2.6 0-2.6-1.3-2.5 1-3.4-1-3 0-1.3 1.3-3.9-1.3-3.8 0-1.3 0-3.9 1.3-1.2-1.3-5.2-.2-1.4 .2 2.7-1.2 2.6 1.2 2.5 1.3 3.9-1.3 1.3 1.3 3.8 0 2.6 .3 3.1 1-3.1-1.3-2.6 0-3.8 0-2.6 0-2.6 0-1.2-1.3-5.2 .3-1.4-.3-3.7 0-1.3 0-2.6 0-5.1-1.2-1.3 1.2-3.8-.2-2.2 .2-2.9 1.3-3.9 0-2.6 0-3.8 .3-1.8 1-2.1 0-3.8 2.7-2.9 3.7-1 1.3-1.2 2.5-2.8 1.3-1.1 2.6-1.3 3.9-1.3 2.2-1.3 2.9-1.2 2.6-1.3 2.5 0 2-1.2 3.2-2.7 1.3-2.3 2.5-1.5 2.6-1.3 2.5-1.3 2.4-.9 2.8 3.5 1.3 1.3 2.2 2.7 2.9 1.1 3.8 0 2 .1 1.9 2.5 0 2.6 2.5 1.2 1.9 2.5 2 2.7 1.3 0 2.5 1.3 2.9 2.2 2.3 1.6 2.5 0 2.6 1.3 2.6 .9 2.5 1.7 2.6 2.5 2.4 2 4-.7 3.9 1.3 2.1 .7 3 .6 2.6 3.8 1.3 1.3 3.1 1.8 3.3 .8 1.3 2.5 2.5 1.3 2.9 1.6 2.3 2.3 2.5 1.3 1.3 1.2 1.3 2.6 2.6 1.4 1.2 2.4 2.6 1.3 1.3 1.3 2.5 2.6 2.4 1.2 2.8 1.3 1.3 2.6 3.8 0 2.1 2.3 3-1 5.2 2.6 1.8-.4 2 1.6 3.9 2.6 2.5 1.3 1.6 .8 1 1.8 2.6 1.2 1.3 2.6 2.6 1.9 3.8 .7 1.3 0 2.5 2.5 2.6 0 2.3 .6 2.8 2 1.3 0 1.3 2.6 2.5 2.5 2.1 1.6 1.8 1 3.8 1.3 1.3 1.3 3.1 .1 3.3 1.2 2.6 0 4.1 1.4 2.3-1.4 2.6-1.3 2.6-2.3 2.5-1.6 1.3-2.5 3.9-1.3 2.5 0 2.3-2.2 1.6-.4 3.8 0 2.6 .4 0 3.5 1.3 1.2-1.3 3.9 0 1.3 0 2.5-1.3 2.6 1.3 2.6 0 2.5 0 3.9 0 2.6 0 2.5 0 1.3 0 2.6 0 3.8 1.3 2.6-1.3 3.8 0 1.3 1.3 3.9-1.3 1.2 0 3.9 0 2.6 0 2.5 0 1.3 0 3.9 0 1.2 0 3.9 0 1.3 0 2.5 0 2.6 1.3 3.9-1.3 2.5-1.3 2.6 2.6 1.3-1.3 3.8 0 3.9 1.3 2.5-1.3 2.6 1.3 1.3 0 2.5-1.3 2.6 0 3.9 0 1.2 0 2.6 0 2.6 0 3.8 0 2.6 0 2.6 0 2.5 1.3 2.6-1.3 1.3 0 3.8 0 2.6 1.3 2.6-1.3 1.2 0 3.9 0 3.8 0 2.6 1.3 2.6-1.3 1.4-1.3 1.1-5.1-1.2-1.6 .1-2.3 1.1-3.8 0-1.3 2.6-2.6 0-1.3 1.3-3.7 0-4-1.3-2.5 0-3.5-1.1-1.7-1.5-2.5-2.5-3.9 0-1.9-1-3.2-.3-2.6 1.3-4.2 1.4-2.2-.1-3.8-1.3-4 .2-3.7 1.1-1.3 2.5-3.9 0-1.1 1.4-2.7-1.4-1.3 0-3.8-1.3-2.2-1.1-1.7-1.4-3.8-1.3-2.6-1.3-1.9-1-2-1.6-2.5-1.2-2.6-2.6-1.3-1.3-1.6-2-.9-1.8-1.3-3.9-2.6-1.3 0-3.8-1.3-1.3-1.3-2.6-2.6-2.8-2.5-2.3 0-2.6-2.6-1.3-1.2-3.8-1.2-2.5-4-1.4-2.5 0-3.5 .1-.4-3.9-2.5-2.6-2.1-2.2-1.8-1.6-1.3-2.6-1.3-2.5-3.1-2-4.6 .7-2.9 .5-.9 2-3.9 2.6-1.2 2.6-1.5 2.8-1.1 2.3-1.3 2.6-1.3 2.5-1.3 3.9-1.2 2.5 0-3.8-1.3-2.6 0-2.5 0-2.6-1.3-2.3 0-2.8-1.3-3.9-1.3-1.3 1.3-2.5-1.3-3.9 0-3.8-1.3-1.3 .2-3-1.4-2.1-1.3-2.6-1.3-3.9 0-1.2-1.3-2.6-2.2-2.6-1.6-2.5-2.6 0-1.3-2.6-2.6-2.6-1.9-1-3.2-.3-1.3-1.2-3.8 0-2.9-1.1-2.2 2.3-2.6 2.6-1.5 1.4-2.4 2.5 0 2.5-2.5 2.6 0 2.6-2.6 2.3-2.6 1.5-2.5 0-2.4 1-1.5-1-2.5-1.3-3.5-1.4-1.7 1.4-2.5 2.6-1.3 2.6Z"/><path id="p2_12" d="M722.9 451.3l.7-3.5-1.3-3.9 .6-2.8 2-2.3 2.6-2.6 0-1.3 1.7-2.4 3.4-.1 2.6-1.3 1.9 .6 1.9-1.9 2.6-2.6 1.3-1.2 2.8-.6 2.3 1.8 2.6 2.6 2.2 1.1 1.6 2.8 1.3 2.5 1.3 2.6 1.3 2.3 0 4.1 0 2.6 0 3.5-2.6 .3-3.9 0-2.5-1.3-1.3 1.3-3.9 0-2.5-1.3-2.6 0-2.6 1.3-2.5 0-2.6 0-2.6 0-2.5 0Z"/><path id="p2_13" d="M752 347.5l2.1-1.6 1.6 4.4-1 1.9-1.6 1.9 0 3.6-1.4-3.9 .1-3.5Z"/><path id="p2_14" d="M570 213.8l3.5 .5 2.6-1.3 3.8 1.3 2.8-.5 3.6-2.1 2.3-.9 1.6 2.2 2.5 2.5 1.8 2.4 2.1-2.4 0-1.2 2.1-3.5 1.7 2.2 2.6 1.3 1.3 2.5 2 2.3 .6 2.9 2.5 2.5 2.6 2.6 .2 2.6 1.1 2.5 1.3 2.6 0 2.6 1.2 1.2 0 4.1 1.3 2.4 1.3 3.8 .9 3.2 3-1.9 3.8-1.3 1.5-1.5 1.1-1.1 3.8-3.8 1-2.2 2.9-1.7 2.5 0 2.8-1.8 3.6-.7 3.5-1.7 .4-2.2 1.3-2.5 2.5-2.6 0-2.6 1.7-1.9 2.2-1.9 1.3-3.9 2.5-1.3 2.3-2.3 2.9-2.8 2.5 0 2.6-1.3 1.4-3 2.6-1.1 2.4 .3 2.6-1.3 2.6-2.6 2.4-.2 1.4-2.3 1.3-3.9 3.8-1.3 1-2.5 1.6-2.6 1.3-1.3 3.8-2.5 .8-1 3.1-1.6 2.5 0 1.9-1.7 4.6-.9 2.9-.1 3.5 2.7 1.5 2.8 1 1 2.6 3.9 0 3.8 1.4 1.3 1.2 2.6-1.3 3.8 1.3 2.6 0 3.8 1.3 2.2 0 1.7 0 5.1 1.2 1.3 1.3 5.1 0 1.8 0 2.1 0 3.8 1.3 3.9-.1 2.7-1.2 2.4-1.3 3.9-1.2 1.2 0 2.6 0 2.6 0 2.6 0 3.8 0 2.2-1.3 2.9-1.3 2.6-1.3 2.6 0 3.8-1.1 1.8-2.7 2.1 0 3.8-3.9 2.6-.9 1.5-1.7 1-2.5 1.3-1.3 2.6-2 2.6-.6 3.8-1.3 1.3-1.2 2.6-1.9 2.3-2 2.8-2.5 1.3-1.3 3.8-1.7 2.1-2.2 1.8-2.5 1.3-1.3 2.5-1.5 1.9-1.1 2-2.6 1.3-1.2 2.5-2.6 1.7-1.3 .9-2.6 2.5-1.2 2.6-2.4 1.5-2.8 3.6-1.3 1.3-1.2 2.6-2.2 2.5-1.7 1.3-1.3 3.9-2.5 1.3-2 3.5-1.9 1.6-2.6 1.3-1.2 3.8-1.8 .8-.8 3.1-2.6 2.6-1.3 2.5-2.8 1.8-1 3.4-2.6 2.5-1.2 1.3-1.3 2.6-1.4 2.7-1.2 3.7-2.6 0-1.2 2.5-2.5 2.5-1.4 2.7-2.3 1.1-1.5-3.7-1.3-1.3-2.6-2.5-.9-2.5-2.9-2.7 0-2.5-2.6-1.3-.8-3.5-3.1-1.6-3.1-.9-2-1.7-1.3-3.9-1.7-1.9-2.1-3.2-2.9-1.8-1-3.3-1.3-1.3-2.5-3.9-.2-1.5-2.4-2.3-2.6-2.7-2.5 .1-2.6 1.3-3.8 0-1.3 1.3-2.6 1.3-2.2 1-.3-2.3 1.2-2.6 0-2.5 0-2.6-1.2-3.9 0-1.2 0-3.9 0-1.3 0-3.8 0-2.6 0-1.3 0-3.8 1.2-2.6 0-1.3-1.2-2.5 0-3.9 1.2-2.5-1.2-2.6 0-2.6 0-2.5 0-2.6 0-2.6 0-2.5 1.2-3.9-1.2-1.3 1.2-2.5-1.2-2.6 0-2.6 0-2.5 1.2-3.9-1.2-2.6 0-1.2 0-3.9 0-1.3 1.2-3.8-1.2-2.6 0-2.5 0-1.3 0-3.9 0-2.5 0-2.6 0-2.6 0-2.5 0-2.6 0-3.9 0-1.2 0-2.6 0-2.6 1.2-3.8-1.2-1.3 1.2-3.9Z"/><path id="p2_15" d="M784 195l-.1-3.8 0-1.3 0-3.9 0-2.5 1.3-3.9-.7-2.1 .7-1.7 2.6-2.6 1.7-3.2 2.1-1.9 2.6 0 2.8-3.1 3.6-2.1 0-1.2 3.9-1.7 1.2-3.5 1.3-1.3 1.3-2.5 2.6-1.3 1.1-2.6 2.7 2.6 1.3 2.6 2.2 2.2 2.9 2.9 .9 3.4 3-.8 3.2-1.7 .6 2.9 2.6 2.6 0 1.3 1.8 3.2 3.3 1.9 1.3 1.3 4.2 1.8 .9 2.1 1.3 2.5 2.6 3.9 1.4 1.5 1.1 3.6 0 1.3 1.3 1.3 1.3 3.8 1.3 2.6 1.3 2.4 2.5-2.4 2.6-2.6 1.2-2.5 .1-2.6 2.6-1.3 0-3.8 1.2-2.6-.2-2.2 2.8 2.2 1.3 0 3.4 1.6 3 2.2 1.3 1.3 3.2 2.7 3.2 2.4 1.3 1.3 3 1.3 2.1 0 3.9 2.6 4-.1 2.4 1.4 2.5 3.8 1.3 2.6 1.3 .9 2.6 1.6 3.8 0 1.3 1.3 2.3 .9 2.8 1.7 2.6 1.3 2.6 3.8 2 .7 3.1 .6 2.6 0 4.3 .7 3.4 1.9 2.5 1.3 1.6 1.8 2.3 2 3.8 1.3 1.3 2.6 2.6 .3 2.6 .9 2.5 1.3 1.3 1.3 3.6 .3 1.5 2.3 2.6 1.3 1.3 1.2 2.5 1.3 2.1 2.6 3.1 0 2.5 2.6 1.3 0 3.1 1.1 3.3 .1 2.6 1.3 4.1 1.2 3.6-1.2 2.6-1.3 1.3-2.5 2.5-1.3 2.6-1.3 1.3-1.3 3.8-1.3 2.3-2.4 4.1-.1 1.3 1.3 2.6-1.2 0 3.7 1.3 1.3 0 2.6-1.3 2.5 0 3.9 0 2.6 0 1.2 0 3.9 0 2.5-1.3 2.6 2.6 1.3-2.6 3.8 1.3 2.6 1.3 2.6-1.3 1.3 1.3 5.1-1.3 2.6 0 2.5 0 2.6-1.3 1.3 1.3 3.8 0 2.6 0 2.6 0 1.2 1.3 3.9-1.3 1.3 0 3.8 0 2.6 0 2.6 0 1.2 1.3 3.9-1.3 3.8 0 1.3 0 3.9 0 2.5-1.3 1.3 1.3 3.9 0 2.5 0 1.3 0 2.6 0 3.8 0 1.3 0 3.9 0 1.2 0 2.6 0 3.9 0 3.8 1.3 1.3-1.3 3.8 0 2.6 0 1.7-2.6 .9-2.5-1.3-2.9 .4-2.3 .9-3.8 0-1.3 1.3-2.6 1.2-2.5 .4-1.3 .9-3.9 1.3-2.3 1.6-2.8-1.6-2.6 0-2.5-1.3-2.1-.9-3.1-1.6-2.5 0-4.4-.9-4.6-.4-1.3 0-4.1-.9-3.6 .9-2.6 0-3.8 .4-3.9-1.7-1.2-1.3-2.6-1.3-2.3-.7-2.8-1.8-1.3-1.3-2.6-1.3-3.3-3.1-.5-2-2.6-2.6-2.6-1.3 0-1.3-2.5-3.8-1.8-1.5-2.1-2.4-3.8-1.3-1.3-2.5-2.8-1.3-2.4-2.6-1.2-2.5-2.6-2.6-1.3-2.6-1.3-1.3-1.2-3.4-1.3-3-2.6-1.2-2.6-2.6-1-3.2-1.5-1.9-3.9-1.3-2.1-1.8-.4-3.4-3.9-2.5 0-1.3-3.2-2.8-1.9-1.1-2.6-1.2-3-1.5-2.1 1.5-2.6 0-3.8 1.2-2.7-.1-2.5-3.7-1.3-2.6 0-3.8-1.2-2.6 0-2.6 0-2.5-1.3-2.6-1.3-2.6 0-3.3 0-3.1-1.3-3.8 0-2.6-1.3-1.3 .2-4.2-1.5-2.2-1.2-3.8 0-2.6 0-3.8-2.3-1.3-2.9-1.3-2.5 0-2.2-1.3-1.7-2.6 1.3-2.5-.8-3.6-4.3-.3-3.2-1-3.2-1.5-2.6 0-2.6-1.3-2.5-1.3-4.1 .4-2.4-1.7-2.5-1.3-2.6 0-2.5-.7-1.3-3.1-1.3-1.3-1.3-3.9-1.1-1.7-1.5 1.7-2.5 1.3-1 3.2-1.6 2-2.1 1.8-1.8-3.1 0-2.6 0-2.6-2-3-.5-2.1-1.3-3.8-1.3-1.3 0-2.6-.7-2.7Z"/><path id="p2_16" d="M777.5 177l4 0-.2 2.6-1.2 2.6 2.5 2.6-1.3 2.5 .2 2.7-3.3 0 .6-2.7-1.3-1.3 1.3-2.5-1.3-3.9Z"/><path id="p2_17" d="M727.7 451.3l-.2-2.3 0-3.8 .2-4.1 1-2.3 2.9-2.4 2.3 2.4 1.6 2.3-.3 2.8 1.2 3.9-.9 3.5-2.9 .3-2.6 0Z"/><path id="p2_18" d="M741.8 451.3l-.2-2.3 0-3.8 .2-4.1 2.3-2.3 2.4-3.2 2.8 3.2 2 2.3-.7 2.8 0 3.9 .7 3.5-2 .3-5.2 0Z"/><path id="p2_19" d="M570 220.3l3.5 .4 2.6-1.3 2.5 1.3 4.1-.4 2.3-.9 3.6-.3 1.6 2.9 1.3 1.2 1.8 4.1 3.3-2.8 1.5-3.1 2.3 1.8 2.6 2.6 2.1 1.5 1.8 3.6 1.2 2.6 0 2.6 1.8 1.9 .8 3.2 1.3 2.6 0 2.5 1.3 2.6 1.3 3.2 1.2 3.2 1.3 2.6 1 2.1 3.6 2.2 3.5-2.2 2.2-2.1 0-1.3 2.5-3.3 1.3-1.8 3.9-1.3 1.9-.4 3.2 .4 3.9-1 2.5-1.6 2.6-2.5 2-1.2 1.8-2.7 1.3-2.6 0-2.5 1.3-1.3 1.5-2.7 1.1-2.4 1.3-2.6 2.5-2.6 1-1.9 1.6-1.9 2.6-1.3 2.5-1.3 2.7-2.6 2.5-1.2 3.8-2.6 2-.9 1.9-1.7 2.5-2.5 2.9-.5 1 3 0 3.9 1 2 1.5-.7 2.6-3.9 1.3 0 2.1-2.9 3 .3 2.6 0 3.1 1 2-2.2 2.6 0 3-1.6-.5 2.8 1.3 2.6 0 2.6-1.3 3.8 1.2 3.2 4 3.2 1.5 1.8-.2 3.4 1.2 2.5 1.3 1.3 .7 2.8 .6 2.4 0 3.8 0 3.9 .2 2.4-.2 1.4-2.6 2.6-1 3.5-1.5 1.6-2.6 2.6 0 2.5-2.1 3.3-.5 3.1-2.5 1.3-1.3 2.6 0 2.6-2.6 2.5-.7 2.9-1.8 2.3-1.3 3.8-1.3 1.3-1.3 3.8-.5 1.3-.8 2.6-1.2 2.6-1.3 2.5-3.9 1.3-.3 3.5-1 2.9-3.8 1.3-1.3 1.3-2.6 2-1.2 3.1-2.6 0-2.6 2.6-1.3 2.6-1.1 1.7-2.7 2.1-1.3 2.6-2.6 2.5-.9 2.8-2.9 2.4 0 1.2-2.6 2.6-2 1.3-.5 2.6-3.9 1.2-2.6 3.9-.5 2.3-2 1.5-1.3 1.3-1.3 2.6-2.9 2.1-2.2 .5-1.3 2.5-1.3 2.6-2.7 1.9-2.4 1.9-1.3 2.6-2.6 0-1.2 3-2.6 2.1-2.6 2.6-2.3 1.6-1.5-2.9-1.3-2.5-2.2-3.4-1.7-3.1-3.3-1.9-3.1-1.9-1.9-3.1-3.2 3.1-1.8 1.9-3.3-3.2-1.7-1.8-3.5-.8-1.5-1.7-2.3-3.4-2.7-1.6-3.7 .3-1.3-1.3-3.9 0-2.5 0-3.9 0-2.2-1.5 .9-2.3-1.2-3.9 0-1.2 0-3.9 0-1.3 1.2-3.8-1.2-2.6 0-2.6 1.2-1.2-1.2-2.6 0-3.8 0-2.6 0-2.6 0-2.5 0-2.6 0-2.6 0-2.5 1.2-2.6 0-3.9 0-2.5-1.2-2.6 1.2-1.3-1.2-3.8 0-1.3 0-2.6 0-3.8 1.2-2.6 0-1.3-1.2-3.8 1.2-2.6-1.2-2.6 0-2.5 1.2-2.6-1.2-2.6 0-3.8 0-2.6 1.2-2.5-1.2-1.3 0-2.6 1.2-3.8-1.2-2.6 1.2-2.6-1.2-2.5 0-2.6 1.2-1.3-1.2-3.8 1.2-2.6-1.2-2.6Z"/><path id="p2_20" d="M879.5 202.5l1.9 2.8 1.3 2.5 1.8 3.4 2.1 1.8 2.9 2 3.5-2 1.3 0 2.7-3 1.1 1.7 2.6 3.8 1.3 .7 2.5 1.9 2.6 1.3 2.5 1.3 2.4 1.8 1.5 2 2.6 1.3 1.2 2.6 2.2 1.6 1.7 3.5 2.6 1.3 1.2 2.6 2 2.6 3.2-1.4 3.8 0 3 .2 2.2 1.1 1.2 2.6 1.6 2.5 2.3 1.3 2.6 1.3 2.5 1.3 2.6 2.3 2.6 .3 3.8 0 3.6 1 2.8 .3 3.9 0 3.3 1 4.4 .2 2.5 1.3 3.1 .9 3.3 .4 2.6 1.3 4.1-.4 2.3-.9 3.9-2.6 1.3-.2 2.5-2.3 2.6 0 2.6-1.3 2.5-1.3 2.3-1.4 2.9 .1 2.5 0 2.6-.1 0 2.7-1.3 2.6 0 2.5 1.3 2.6 1.3 2.5-1.3 2.6 0 3.9 0 1.2 0 3.9 0 2.6 0 2.5 0 1.3 0 2.6 0 3.8 0 1.3 1.3 3.9-1.3 1.2 0 3.9-1.3 2.6 1.3 3.8 0 2.6 0 1.3 0 2.5 1.3 3.9-2.6 1.3 1.3 3.8 0 2.6 0 1.3 0 3.8 0 2.6 0 2.5 0 2.6 1.3 2.6-1.3 3.8 1.3 2.6-1.3 1.3 0 2.5 0 3.9 0 1.3 0 2.5 0 2.6 0 2.6 0 3.8 0 2-2.6-.7-3.8 0-1.6 .7-2.3 .6-3.8 2.5-1.3 1.3-3.9 1.3-1.2 1.3-2.5 1.7-2.7 .9-4.8-.9-1.6-1.7-3.8 0-1.3-2.6-3.3-.7-3.1-.6-1.3-1.2-2.6-1.3-3-1.9-2.1-.7-3.9-1.3-4-.5-3.7 .5-2.5-1.3-3.8-1.7-1.4-2.1-2.5-3.9-2.6-1.2-1-2.8-1.6-2.4-2.5-2.5-1.3-1.3-2.1-2.5-3-1.4-1.3-2.5-1.3-1.3-3.9-2.6-.5-1-.7-2.8-2.6-1.3-1.3-3.9-1.3-2.5-1.6-2-2.2-1.9-3.9-2.5-1.4-.6-1.1-2-1.3-2.6-2.6-2.5-1.3-3.9-1.2-1.5-1.3-2.3-1.3-2.6 0-2.6-2.6-2.5 0-2.6-2.3-2.4-1.5-2.7 0-2.6 0-3.9-1-3.3-2.9 2.1-3.3 .4-3.1-1.7-3.2-.8-3.2-1.8-1.3-1.3-3-1.9-.8-4.5 0-2.6 0-2.5-1.7-2.9 .4-2.2 0-3.9 0-2.6-1.3-3.8 0-1.3-.4-3.7 .4-2.7 1.3-2.6-1.3-2.5 1.3-3.9 1.3-2.6-.4-3.2 .4-3.2 1.2-1.3 1.3-3.8 0-1.3 2.1-2.9 1.8-2.2Z"/><path id="p2_21" d="M805.8 177.5l2.5-4.3 1.2-2 1.4-.6 3.6-1.1 1.5 1.1 2.6 3.9 .4 1.7-.4 3.4 0 2.6-.4 2.8-2.2 2.3-1.5 3.9-3.6-1.3-1.4-1.1-1.2-1.5-1.8-3.5-.8-4.2Z"/><path id="p2_22" d="M577.5 220l2.4 .7 3.1-.7 2 2 3.8 3 2.7-.5 3.5-2 1.6 2 1.3 2.6 1.3 3.8 2.5 1.3 .8 2.8 .5 3.6 1.3 1.3 2.6 2.6 1.2 2.6 1.3 1.2 .6 3.7 .7 2.8 1.3 2.5 1.3 1.3 0 3.8 1.3 2.6 0 2.6 1.6 1.9 2.2 1.9 2.8 3.1 2.3-1.8 1.3-1.3 1.3-2.5 2.6-2.6 1.3-1.8 2.5-2.1 1.3 0 3.7-2.9 4 .4 3.5-1.7 2.9-2.2 1.3-2.5 3.3-1.5 3.1-2.4 1.3-1.3 1.3-2.5 1.3-2.6 3-1.2 2.1-1.4 1.3-2.5 2.5-1.3 1.6-2.3 2.3-2.8 2.6-2.6 0-2.6 2.6-2 2.5-.5 2.6 0 2.5-2.6 2.4-.6 2.8-3.3 2.5-1.2 2.2-1.8 3-2.1 2.5-2.6 2-.3 3.1 1.6 3.2 .9 2-2.2 2.2-1.6 1.6 1.6 0 3.9 0 3.8 0 1.3-.1 3.2 .1 3.2-1.3 2.6-1.2 3.9-.9 2.8-1.7 3.6 0 1.3 0 1.2-1.3 5.2-2 1.2-.6 3.9-1.2 2.6 0 2.5-2.6 1.3-.6 3.5-2 1.6-2.8 2-1 1.9-1.3 1.3-2.4 3.1-1.4 3.3-1.3 2.6-1.3 1.2-.7 3.9-.6 2.6-2.6 3.8-1.2 1.3-.3 3.3-1 3.1-2.6 2.6-1.2 2.2-2.6 1.6-3.6-.1-1.6 1.4-1.3 2.6-1.2 3.8-.7 1.7-1.9 2.2-2.6 3.8-1.8 1.8-.7 3.4-2.6 1.2-1.4 3.3 .1 3.1-1.3 2.6-1.9 2.2-1.9 4.2-1.3 2.1-3.9 .5-2.4 1-1.4 1.6-1.3 2.5-2 2.2-3.1 2.7 0-.1-1.3 2.9-2.6 2.6-1.3 2.1-3.8 1.7-1.6 3.7-2.2 4-1.1 1.4-3.2-2.1-.9-3.1-1.3-2.6-1.2-3.8-.9-2.4-1.7-2.8-1.3-1.2-.3-3.6-4.3 2.2-3.1 .1-3.4-1.2-3 2.5-2.6 2.5-3 .4-3.4-.4-1.3 1.3-4 .2-3.7-.2-1.3-1.3-2.5-1.3-2.6-1.2-2.2-.3-.3-2.3 1.2-2.6-1.2-2.5 1.2-2.6-1.2-2.6 1.2-3.8 0-2.6 1.3-1.3 0-2.5-1.3-2.6 1.3-2.6 0-3.8 0-1.3 0-3.8 0-2.6 0-1.3 0-3.8 1.3-2.6-1.3-2.6 1.3-2.5 0-1.3-1.3-2.6 1.3-3.8 1.3-2.6-1.3-1.3 0-3.8 1.3-2.6-1.3-2.6 0-1.3 1.3-3.8-1.3-2.6 1.3-2.5 0-2.6 0-2.6 1.3-3.8 0-1.3 0-2.6 0-2.5-1.3-2.6 1.3-3.8 0-1.3 0-2.6 0-3.8 1.2-2.6 0-2.6 0-2.5 0-1.3 0-2.6 0-3.8Z"/><path id="p2_23" d="M893.2 235l2.3-1.5 1.5-3.5 2.4 .9 2.5 1.3 2.6 1.6 2.6 2.3 1.3 1.3 1.2 2.5 2.4 1.3 2.8 0 3.4 1.3 .4 3.8 1.3 1.3 0 2.6 1.3 2.6 0 3.8 .8 2.2 3-.9 2.6 1.3 4.4 .8 2 .4 3.9 1.3 4.1 .8 3.6-.8 2.5 2.6 3.9-.5 2.6 .5 2.5 1.3 2.6 1.3 2.3 .6 2.8-.6 3.9 0 3.3-1.9 4.4 .6 2.5 0 3.1 .6 3.3 .7 3.9 0 2.8 .6 1-.6 3.9-2.6 2.6-.5 3.8-2.1 1.3 0 3.8-2.5 1.3-1.3 2.3-.4 2.9-.9 2.5 1.3 2.6-.4-1.3 2.9 1.3 2.6 1.3 2.6-1.3 2.5 0 2.6-1.3 3.9 2.6 2.5-1.3 2.6 0 1.3 0 3.8 0 2.6 0 1.3 0 2.5 0 3.9 0 2.6 0 2.5 0 2.6 0 3.8-1.3 1.3 1.3 3.9 0 1.3 0 3.8 0 1.3 0 3.8 1.3 2.6-1.3 2.6 0 2.5 0 1.3 0 3.9 0 1.2 0 3.9 0 3.8 1.3 1.3-1.3 2.6-1.3 2.6 1.3 3.8-1.3 1.3 1.3 3.4-2.6 .4-2.5 0-2.9-.4-2.3 1.7-2.5 1.3-2.6 0-3.9 2.6-1.2 0-2.5 1.8-2.7-.5-4.8 .5-2.9-1.8-2.5 0-1.3-1.3-3.3-1.9-1.9-2-2.5 0-3.9-2.5-1.7-.5-2.1-.8-2.6-1.3-2.6-1.3-2.7-.3-2.4-2.2-2.5-1.3 0-2.6-2.6-1.4 0-2.4-2.6-3.9-1.3-1.3-1.1-2.4-.1-2.7-2.6-2.6-1.3-2.5-1-2.2-2.8-1.7-1.3-1.3-1.3-2.5-2.1-2-1.8-3.2-1.2-1.2-1.3-1.3-3.2-1.8-.7-2.1-1.3-5.1-.5-2.8-.7-3.6 0-2.6 0-2.6 0-2.5-1.8-2.5-2.1-1.4-2.9-1-3.5 2.3-1.5 2.7-2.4-2.7-1.4-1.1-2.4-2.7-1.3-2.3-2.6-2.9-1.2-1.3-1.2-3.3-.1-3.1-1.3-2.5 1.3-2.6 0-3.9-1.3-2.5 .1-2.9-.1-2.2-1.3-3.9-1.3-1.3-1-2.6-.2-3.8-1.3-2.6Z"/><path id="p2_24" d="M613.8 292.3l3.3 .2 2.2-1.8 1.7-2 1.3-2.6 1.8-1.7 2-3.4 0-2.6 1.1-3.4 1.5-1.7 1.3-2.6 1.2-3.8 2.3-3 2.9 .4 2.5 2.6 2.6 1.2 1.4 .6 2.4 3.3 1.3 1.3 1.3 2.5 1.3 2.3 1.3-3.5 0-2.6 .3-3.3 1-3.1 1.2-2.6 .9-3.8 1.7-3.9 1.3-1.3 1.8-2.6 .8-2.5 1.2-2.6 1.3-3.8 1.3-2.6 1.7-2.7 2.2-2.4 2.5-3.9 1.6-1.6 2.3-2.2 1.3-1.3 3.8-1.3 2-1.5 3.1-1 1.3-1.3 3.5-2.4 4.7 1.6 2.1 2.1-1.3 3.8 1.3 2.6 1 2.5-1 3.9 0 1.3-1.3 2.5 .8 3.3-.8 3.2-1.3 3.8-1.3 1.3-1.2 2.6-.2 3.3-1.1 1.8 0 5.1-2 2.5-.6 2.6-2.6 2.6-1.2 2.6 0 2.5-1.9 2.3-3.3 1.6-2.5 0-3.6 1.6-1.6 3.5-1.6 2.7-2.2 1.2-2.6 1.3-1.5 2.3-1.1 1.5-1.2 2.6-2.6 2.5-2.6 2.6-.4 1.8-2.1 2.1 0 3.8-1.3 2.6-1.3 2.5-1.3 3.9 1.3 1.3-1.3 3.8-.2 3.6-3.6 .3-2.6 0-3.3 1.3-3.1 2.5-1.6 .6-1 2-1.3 3.8-1.2 2.6-1.2 1-1.4 4.1-1.3 2.6-.5 2.3-.1-.1-2 2.9-2.3 1.5-3.2 3.6-.9-3.8 0-2.6-1.3-1.2 .7-3.6-.7-2.9 0-2.5-1.2-2.6 1.2-3.8 0-2.6 0-2.6-.6-2.4-.6-1.4 0-3.9 0-2.5 0-2.6 1.2-3.8-1.2-1.3 0-2.6-.3-3.6-1-1.5 1.3-3.9 0-2.5 0-3.9Z"/><path id="p2_25" d="M570 232l2.2 .2 3.9 1.3 3.8 0 2.8-.3 2.3 1.6 2.4 .8 .2 3 1.3 1.3 .9 4-.9 2.4 2.6 3.9-1.3 2.6 0 1.2 0 2.6 .8 3.4 4 2.5-1 3.1 1.3 1.3 0 3.8 0 2.6 0 3.8 1.3 2.6-.4 2.8 .4 2.3 0 2.6 0 3.8 0 1.3 0 3.9 0 3.8 0 2.6 .4 2.2-.4 2.9 0 2.6 0 3.8 0 2.6-.4 3.1 .4 3.3 0 2.6-1.3 3.8 0 2.6-1.5 2.7 .2 3.7-1.3 2.6-1.2 3.8-.3 2.4-1 1.5-1.3 3.8-.1 2.2-2.5-.9-2.5 1.3-2.6 0-2.6 0-2.5 0-3.9 1.3-2.2-.7-.3-3.2 0-2.5 0-1.3 1.2-3.9-1.2-2.5 0-1.3 0-3.9 0-2.5 0-2.6 1.2-2.6 0-2.5-1.2-3.9 1.2-1.3 0-2.5-1.2-3.9 0-2.5 0-1.3 0-2.6 1.2-2.6 0-3.8 0-2.6-1.2-2.5 0-1.3 1.2-2.6 0-5.1-1.2-1.3 1.2-2.6-1.2-2.5 0-2.6 0-2.6 0-3.8 0-1.3 0-2.6 0-2.5 0-2.6 0-2.6 0-3.8 0-2.6 0-2.5 1.2-2.6-1.2-2.6 0-1.3 1.2-3.8 0-2.6-1.2-3.8 1.2-1.3Z"/><path id="p2_26" d="M1012 271.2l-2.3 .8-2.5 1.3-2.6 1.3-2.6 1.2-2.5 1.7-3.9-.4-3.6-.9-4.1 .9-3.8-1.3-2.1 1.7-3.1 .9-3.8 1.3-3.1 .3-3.3 1-1.3 1.3-3.9 1.2-1.5 1.5-3.6 1.1-3.9 .1 .1 3.8-1.4 2.5-3.8 0-2.4 1.3 1.1 2.6-1.2 3.8 1.2 1.3 0 3.9 .1 2.1 1.2 3 1.3 2.6-1.3 3.8 1.4 3.1 1.2 3.3 0 1.3 0 2.6 2.6 2.5-.1 2.8 2.6 1.1 1.3 2.5 2.6 2.6 1 1.3 1.5 2.6 2.6 2.5 .9 2.4 2.9 1.5 1.3 1.3 3.9 0 1.9 .9 3.2 1.6 1.3 1.3 2.6 1.3 2.9 2.1 3.5 .5 2.5 1.2 1.5 .8 3.7-.8 1.3-2.5 2.5-.5 1.3-.8 2.6-1.3 2.5 0 3.6-1.6 .3-3.5 0-1.3-1.3-3.9 1.3-1.2 0-2.6 0-2.6 0-2.5-1.3-2.6 1.3-3.9 0-2.5 0-2.6 0-2.5-1.3-2.6 1.3-2.6 0-1.3 0-3.8 0-3.9-1.3-2.5 1.3-1.3 0-2.6 0-3.8 0-1.3-1.3-2.6 0-2.5 0-3.9 0-1.3 1.3-3.8 0-2.6 0-2.6 0-1.2Z"/><path id="p2_27" d="M672.8 234.8l2.1 0 3.8 0 2-.7 4.4-.6 2.7-.2-.1 2.8-.7 4.2-1.9 2.2-2.8 1-1 2.8-1.3 2.6-.9 2.5-1.7 1.4-1.4 3.3 .1-2.1-1.2-3.8 0-1.3-.5-3.8-.8-3.9 0-2.6Z"/><path id="p2_28" d="M637.4 290.7l1.5-2 1.7-2.7 3.9 2.3 2.1 2.9-1.3 2.6 1.6 3.2-1.6 1.9 0 2.6 0 3.4-3.2 3.9-3.1-3.9-1.3-2.1-.7-4.2 .7-3.5-1.3-1.3Z"/><path id="p2_29" d="M570 246l3.5 .3 2.6 0 1.2 1.3 2.6-1.3 3.1 1.2 4.5 2.5 .1 1.5 1.3 3.8 0 2.6 1.3 2.5 1 2.1 1.5 1.8-1.2 2.6 1.2 5.1-1.2 1.3 1.2 3.8 1.3 2.6-.2 2.8 .2 3.6 1.3 1.3-2.6 3.8 1.3 2.6 0 3.9 0 2.5 1.3 2.6-.3 2.2-1 2.9 1.3 2.6-1.3 2.6 0 3.8-.2 3.1-1.1 3.3 0 3.9-1.5 2.8 .3 2.3-2.6 2.6 0 2.5-1.4 2.6-3.7 1.3-1.3-1.3-2.6 0-5.1 1.3-1.3 1.3-3.5-.6 .9-2-1.2-2.6 0-3.8 0-2.6 0-2.6 0-2.5 1.2-2.6 0-2.5-1.2-2.6 0-2.6 1.2-2.5-1.2-3.9 0-2.6 0-2.5 0-1.3 0-2.6 1.2-3.8 0-2.6-1.2-2.6 0-1.2 0-3.9 1.2-2.6-1.2-2.5 1.2-2.6-1.2-3.8 0-1.3 1.2-3.9-1.2-2.5 0-1.3 0-3.9 1.2-2.5-1.2-2.6 1.2-2.6-1.2-2.5 1.2-2.6Z"/><path id="p2_30" d="M1012 280l-2.3 1-2.5 2.5-2.6 1.3-2.6 1.4-3.8-.1-3.9 1.3-2.3 .1-4.1-1.4-2.6 1.3-3.3-1.2-1.8 1.2-3.8 1.3-1.9 1.3-3.3 1.2 0 3.9-3 1.1 .5 2.7-1.3 3.9 0 1.3-.4 3.4 .4 3-1.3 3.8 0 2.6 0 2.6-.3 3 1.6 2.1 1.3 2.6 .8 2.8 3 2.3 0 2.6 2 2.6 1.9 1.2 3.8 2.6 1.8 1.2 3.3 2.6 1.3 1.3 2.9 1.1 3.5 1.5 1.5 2.2 3.7-.9 0-1.3 3.8-1.5 2.6 .2 3.8-2.6 1.3 0 2.3-1.3-1-2.5 1.3-2.6 0-2.6 0-3.8 0-2.6 0-2.5-1.3-1.3 1.3-3.9 0-1.2 0-3.9 0-1.3 0-3.8-1.3-2.6 1.3-2.6 0-3.8 0-2.6 0-1.3 0-3.8 0-2.6-1.3-2.5 1.3-2.6 0-2.6-1.3-2.5Z"/><path id="p2_31" d="M570 252l2.2 .8 2.6 0 2.5 0 2.6 1.2 3.1-.2 3.2 3.7 .1 2.9 2.6 2.6 0 3.9 .6 3.1 .7 3.3 0 2.5 1.3 3.9 0 2.6 .5 2.7 .7 2.4 0 3.8 0 1.3 0 5.2 0 1.2-1.2 3.9 1 2.2-1 2.9 0 2.6-1.3 3.8-.2 3.2-2.4 2 0 3.8-1.4 1.7-3.2 2.5-3.1-.3-2.6 1.2-2.5-1.2-2.6 0-2.2 .8-.3-2.1 0-3.9 1.2-2.5-1.2-2.6 0-2.6 1.2-2.5-1.2-1.3 1.2-3.9-1.2-2.5 0-2.6 0-1.3 1.2-3.8-1.2-2.6 1.2-2.6 0-2.5-1.2-2.6 0-3.8 1.2-1.3-1.2-2.6 1.2-2.6-1.2-2.5 1.2-3.9-1.2-1.3 1.2-2.5-1.2-3.9 1.2-2.5-1.2-1.3 0-3.9Z"/><path id="p2_32" d="M1012 287.5l-3.8 2.5-1 2.5-2.7 2.5-1.2 3.9-1.3 2.6 0 3.5-2.5 2.9-2.5 2.1-2.7-.8-3.5-.4-1.6-2.2-2.6-2.5-2.5-1.3-.9-1.6-3 1.6-1.3 2.6-1.9 .8-1.9 4.3-1.9 2 .6 4.4-1.3 1.3-.5 4.3 1.8 2.1 1.3 2.6 .7 2.8 4.4-1.6 1.8 .4 3.3 2.2 1.3 1.3 2.9 1.5 3.5-1.5 2.6 0 1.4-2.3 2.5 2.3 2.5 1.3 2.5 2.6 2.7-1.3 1.2 0 3.6-1.1-1-2.8 1.3-2.6 0-3.8 0-1.3 0-2.5 0-3.9-1.3-2.6 0-1.2 0-3.9 1.3-2.6 0-3.8 0-1.3 0-2.6 0-2.5 0-3.9 0-2.5Z"/><path id="p2_33" d="M570 264l2.2 1.6 3.9-1.3 2.5 0 1.3 1.3 3.1-.6 .8 3.1 1.7 1.9 .8 3.3 0 2.5 1.3 3.9 0 2.6 .4 2.7-.4 3.7 0 2.5 1.3 2.6-1.3 2.6 .4 3.6-1.7 4.1-1.3 1.3 .5 4.6-2.5 2.5-3.1-.7-2.6 1.3-2.5-1.3-2.6 2.5-2.2-1.3 .9-3.8 0-2.6 0-2.5-1.2-1.3 0-3.9 0-2.5 1.2-2.6-1.2-2.6 0-3.8 0-2.6 1.2-1.3-1.2-3.8 0-1.3 0-3.8 1.2-2.6 0-2.6-1.2-2.5Z"/><path id="p2_34" d="M570 289l3.5 1 1.3 0 2.5 0 3.9 0 1.8 0 1.5 2.5 0 5-1.5 1.3-3.1 .1-2.6 0-1.2 0-3.9 1.3-2.2-1.2-.3-3.9 1.2-3.9Z"/></defs>
<clipPath id="c2"><path d="M582.8 17.3l426.6 0 0 423-421.4 0-5.2-68.3Z"/></clipPath>
<g clip-path="url(#c2)">
<path d="M570 5l450 0 0 447-450 0Z" fill="#00009c"/>
<use href="#p2_1" fill="#0000d4"/>
<use href="#p2_2" fill="#00009c"/>
<use href="#p2_3" fill="#00009c"/>
<use href="#p2_4" fill="#00009c"/>
<use href="#p2_5" fill="#00009c"/>
<use href="#p2_6" fill="#00009c"/>
<use href="#p2_7" fill="#0022ff"/>
<use href="#p2_8" fill="#0070ff"/>
<use href="#p2_9" fill="#0070ff"/>
<use href="#p2_10" fill="#00b0ff"/>
<use href="#p2_11" fill="#00b0ff"/>
<use href="#p2_12" fill="#00b0ff"/>
<use href="#p2_13" fill="#00b0ff"/>
<use href="#p2_14" fill="#00ffff"/>
<use href="#p2_15" fill="#00ffff"/>
<use href="#p2_16" fill="#00ffff"/>
<use href="#p2_17" fill="#00ffff"/>
<use href="#p2_18" fill="#00ffff"/>
<use href="#p2_19" fill="#ffffe2"/>
<use href="#p2_20" fill="#ffffe2"/>
<use href="#p2_21" fill="#ffffe2"/>
<use href="#p2_22" fill="#ffffc4"/>
<use href="#p2_23" fill="#ffffc4"/>
<use href="#p2_24" fill="#ffff98"/>
<use href="#p2_25" fill="#ffff98"/>
<use href="#p2_26" fill="#ffff98"/>
<use href="#p2_27" fill="#fff200"/>
<use href="#p2_28" fill="#fff200"/>
<use href="#p2_29" fill="#fff200"/>
<use href="#p2_30" fill="#fff200"/>
<use href="#p2_31" fill="#ffb000"/>
<use href="#p2_32" fill="#ffb000"/>
<use href="#p2_33" fill="#ff7000"/>
<use href="#p2_34" fill="#ff3000"/>
<rect x="573.6" y="17.3" width="435.8" height="438.7" fill="url(#tex)"/>
<path d="M573.6 89H1009.4M573.6 118.2H1009.4M573.6 235.2H1009.4M573.6 381.4H1009.4M573.6 410.6H1009.4" stroke="#fff" stroke-opacity=".3" stroke-width="1" fill="none"/>
<g fill="none" stroke="#000" stroke-width="1.7" stroke-linejoin="round"><use href="#p2_1"/><use href="#p2_2"/><use href="#p2_3"/><use href="#p2_4"/><use href="#p2_5"/><use href="#p2_6"/><use href="#p2_7"/><use href="#p2_8"/><use href="#p2_9"/><use href="#p2_10"/><use href="#p2_11"/><use href="#p2_12"/><use href="#p2_13"/><use href="#p2_14"/><use href="#p2_15"/><use href="#p2_16"/><use href="#p2_17"/><use href="#p2_18"/><use href="#p2_19"/><use href="#p2_20"/><use href="#p2_21"/><use href="#p2_22"/><use href="#p2_23"/><use href="#p2_24"/><use href="#p2_25"/><use href="#p2_26"/><use href="#p2_27"/><use href="#p2_28"/><use href="#p2_29"/><use href="#p2_30"/><use href="#p2_31"/><use href="#p2_32"/><use href="#p2_33"/><use href="#p2_34"/><path d="M911.2 242l-.3 3.1 0 2.5 0 2.6 0 2.6 0 2.5 1.3 3.9 0 2.5-1.3 1.3 0 2.6 0 2.5 1.3 3.9-1.3 2.6 0 2.5 0 3.9 0 1.3 1.3 2.5-1 3.2"/></g>
<g class="cl"><text transform="translate(763.8 77.5) rotate(-50)" text-anchor="middle" dy="2.9">0.02</text><text transform="translate(778.8 103.8) rotate(-20)" text-anchor="middle" dy="2.9">0.04</text><text transform="translate(813.8 132.5) rotate(-10)" text-anchor="middle" dy="2.9">0.06</text><text transform="translate(758.8 175) rotate(-75)" text-anchor="middle" dy="2.9">0.06</text><text transform="translate(743.8 237.5) rotate(90)" text-anchor="middle" dy="2.9">0.08</text><text transform="translate(727.5 261) rotate(0)" text-anchor="middle" dy="2.9">0.1</text><text transform="translate(701 257.5) rotate(-60)" text-anchor="middle" dy="2.9">0.14</text><text transform="translate(707.5 267.5) rotate(-60)" text-anchor="middle" dy="2.9">0.12</text><text transform="translate(627.5 285) rotate(-60)" text-anchor="middle" dy="2.9">0.16</text><text transform="translate(631 335) rotate(-55)" text-anchor="middle" dy="2.9">0.16</text><text transform="translate(702.5 327.5) rotate(-45)" text-anchor="middle" dy="2.9">0.08</text><text transform="translate(708.8 346) rotate(-30)" text-anchor="middle" dy="2.9">0.06</text><text transform="translate(872 182.5) rotate(30)" text-anchor="middle" dy="2.9">0.1</text><text transform="translate(885.8 218) rotate(0)" text-anchor="middle" dy="2.9">0.12</text><text transform="translate(904.5 233.8) rotate(20)" text-anchor="middle" dy="2.9">0.14</text><text transform="translate(835.8 227.5) rotate(60)" text-anchor="middle" dy="2.9">0.1</text><text transform="translate(979.5 190) rotate(25)" text-anchor="middle" dy="2.9">0.02</text><text transform="translate(969.5 217.5) rotate(25)" text-anchor="middle" dy="2.9">0.06</text><text transform="translate(832 283.8) rotate(45)" text-anchor="middle" dy="2.9">0.08</text><text transform="translate(842 336) rotate(70)" text-anchor="middle" dy="2.9">0.06</text><text transform="translate(912 415) rotate(55)" text-anchor="middle" dy="2.9">0.04</text></g>

</g>
<path d="M573.6 17.3H1009.4V456H573.6ZM573.6 17.3v-4.6M573.6 456v3.4M585.1 17.3v-7.3M585.1 456v5.4M597.9 17.3v-4.6M597.9 456v3.4M610.8 17.3v-7.3M610.8 456v5.4M623.6 17.3v-4.6M623.6 456v3.4M636.4 17.3v-7.3M636.4 456v5.4M649.2 17.3v-4.6M649.2 456v3.4M662.1 17.3v-7.3M662.1 456v5.4M674.9 17.3v-4.6M674.9 456v3.4M687.7 17.3v-7.3M687.7 456v5.4M700.6 17.3v-4.6M700.6 456v3.4M713.4 17.3v-7.3M713.4 456v5.4M726.2 17.3v-4.6M726.2 456v3.4M739.1 17.3v-7.3M739.1 456v5.4M751.9 17.3v-4.6M751.9 456v3.4M764.7 17.3v-7.3M764.7 456v5.4M777.5 17.3v-4.6M777.5 456v3.4M790.4 17.3v-7.3M790.4 456v5.4M803.2 17.3v-4.6M803.2 456v3.4M816 17.3v-7.3M816 456v5.4M828.9 17.3v-4.6M828.9 456v3.4M841.7 17.3v-7.3M841.7 456v5.4M854.5 17.3v-4.6M854.5 456v3.4M867.4 17.3v-7.3M867.4 456v5.4M880.2 17.3v-4.6M880.2 456v3.4M893 17.3v-7.3M893 456v5.4M905.9 17.3v-4.6M905.9 456v3.4M918.7 17.3v-7.3M918.7 456v5.4M931.5 17.3v-4.6M931.5 456v3.4M944.3 17.3v-7.3M944.3 456v5.4M957.2 17.3v-4.6M957.2 456v3.4M970 17.3v-7.3M970 456v5.4M982.8 17.3v-4.6M982.8 456v3.4M995.7 17.3v-7.3M995.7 456v5.4M1009.4 17.3v-4.6M1009.4 456v3.4M573.6 456h-7M1009.4 456h5.6M573.6 426.7h-7M1009.4 426.7h5.6M573.6 397.5h-7M1009.4 397.5h5.6M573.6 368.2h-7M1009.4 368.2h5.6M573.6 339h-7M1009.4 339h5.6M573.6 309.8h-7M1009.4 309.8h5.6M573.6 280.5h-7M1009.4 280.5h5.6M573.6 251.3h-7M1009.4 251.3h5.6M573.6 222h-7M1009.4 222h5.6M573.6 192.8h-7M1009.4 192.8h5.6M573.6 163.5h-7M1009.4 163.5h5.6M573.6 134.3h-7M1009.4 134.3h5.6M573.6 105h-7M1009.4 105h5.6M573.6 75.8h-7M1009.4 75.8h5.6M573.6 46.5h-7M1009.4 46.5h5.6M573.6 17.3h-7M1009.4 17.3h5.6" fill="none" stroke="#000" stroke-width="1.4"/>
<g class="tk"><text x="561.3" y="458.7" text-anchor="end">1</text><text x="561.3" y="429.4" text-anchor="end">2</text><text x="561.3" y="400.2" text-anchor="end">3</text><text x="561.3" y="370.9" text-anchor="end">4</text><text x="561.3" y="341.7" text-anchor="end">5</text><text x="561.3" y="312.4" text-anchor="end">6</text><text x="561.3" y="283.2" text-anchor="end">7</text><text x="561.3" y="254" text-anchor="end">8</text><text x="561.3" y="224.7" text-anchor="end">9</text><text x="561.3" y="195.5" text-anchor="end">10</text><text x="561.3" y="166.2" text-anchor="end">11</text><text x="561.3" y="137" text-anchor="end">12</text><text x="561.3" y="107.7" text-anchor="end">13</text><text x="561.3" y="78.5" text-anchor="end">14</text><text x="561.3" y="49.2" text-anchor="end">15</text><text x="561.3" y="20" text-anchor="end">16</text><text x="585.1" y="474" text-anchor="middle">−80</text><text x="610.8" y="474" text-anchor="middle">−70</text><text x="636.4" y="474" text-anchor="middle">−60</text><text x="662.1" y="474" text-anchor="middle">−50</text><text x="687.7" y="474" text-anchor="middle">−40</text><text x="713.4" y="474" text-anchor="middle">−30</text><text x="739.1" y="474" text-anchor="middle">−20</text><text x="764.7" y="474" text-anchor="middle">−10</text><text x="790.4" y="474" text-anchor="middle">0</text><text x="816" y="474" text-anchor="middle">10</text><text x="841.7" y="474" text-anchor="middle">20</text><text x="867.4" y="474" text-anchor="middle">30</text><text x="893" y="474" text-anchor="middle">40</text><text x="918.7" y="474" text-anchor="middle">50</text><text x="944.3" y="474" text-anchor="middle">60</text><text x="970" y="474" text-anchor="middle">70</text><text x="995.7" y="474" text-anchor="middle">80</text></g>
</g>
<g id="panel3">
<defs><path id="p3_1" d="M25 617.5l3.2-.4 1.3 1.3 3.9-1.3 2.5 1.3 2.9-.9 3.5 .9 1.3 2.6 3.9 1.5 2.5-2.8 1.3-1.3 1.3-2.6 2.4-2 1.5 2 3.8 0 2.2 1.7 .4 2.2 1.2 2.6 2.6 2.5 1.3 2.6 .8 2.6 .5 3.8 1.3 1.3 1.2 2.6 0 2.5 1.3 2.6 0 1.3 1.9 3.4 .7 3 3.8 1.3 1.3 1.2 1.7 2 3.5 .6 4 .6 1.1-1.9 3.8-1.3 2.6-2.5 2.5-.5 2.6-.8 1.3-1.3 2.6-1.3 3.5-1.6 2.9-.9 2.6-2.6 0-2.6 2.5-1.2 2-2.7 .6-1.2 3.9-2.6 1.2-2.5 1.3-1.3 1.3-2.6 1.7-2.3 2.1-1.5 3.9-1.3 1.5-2.2 2.3-2.9 0-2.6 3.9-1.3 1.3-3.2 0-1.9 1.3-2.6 1.2-2.6 1.3-2.5 1.2-2.9 1.4-2.3 3.8-2.5 2.6 0 2.2-2.7 1.7-1.2 2.5-2.5 1.3-2.6 2-1.2 1.9-2.7 1.2-2.5 2.6-2.6 1.8-2.2 3.3-1.6 1.3-1.3 2.6-2.6 2.8-2 3.6 2 0 2.6 3.9 1.7 1.2 .9 1.3 3.8 2.5 1.5 1.4-2.8 1.2-2.5 2.6-1.3 1.1-3.4 1.5-1.8 1.3-3.8 0-1.3 1.2-3.8 2.2-1.8 1.7-2.1 2.6-2.6 1.2-2.5 2.6 0 1.9-2.8 3.2 .2 1.3-2.6 2.6-2.5 2.9-.1 2.2-1.2 3.9 1.3 3.8-2.6 2.6 0 3.8 0 1.3 0 3.9-1.3 3.5 .1 2.5-1.3 2.9-1.3 2.6-1.3 2.6-2.6 1.9-1.1 3.2-.2 2.6-1.3 2.9-2.7 2.2 2.7 4.1 1.5 1 2.4 2.6 1.3 1.3 2.5 2.6 1.4 2.5 1.2 1.3 2.6 1.3 2.5 3.8 0 1.1 2.4 1.5 1.5 2.6 1.3 2.5 2.5 3.4 2.2 3.1 .4 1.2 1.3 2.6 1.3 3.1 .8 2 3 2.6 2.6 1.3 1.3 1.6 3.1 2.2 .7 2.6 3.9 1.3 0 1.4 2.8 2.4 1 3.9 1.3 1.3 1.3 2.4 .2 1.4 2.3 2.6 1.3 1.3 3.9 1.2 1.3 1 2.4 1.6 2.7 1.3 1.3 2.6 3.8 2 2.2 1.8 1.7 1.3 2.5 1.3 1.3 1.3 2.6 1.8 3.2 2 3.2 2.6 1.3 0 3.8 2.9 1.7 .9 2.2 2.6 1.3 2.6 2.5 1.2 1.3 2.7 2.7 2.5 2.5 1.2 1.2 2.6 2.6 1.3 2.6 2.4 2.4 1.4 1.4 2.6 2.6 1.3 1.3 2.2 2.1 2.9 .4 3.9 1.3 3.2 .9 1.9 .4 3.9 1.3 2.5 1.3 1.7 .7 2.2 1.8 2.5 1.3 2.6 2.6 2.7 1.8 2.4 2 2.6 1.3 2.5 2.9 3.9-.3 3.6 .3 1.5-1.6 1.3-2.6 2.6-3.8 2.1-.7 1.7-.6 3.9 0 2.6-1.3 2.5-1.3 1.8-.5 2.1 .5 3.8 0 1.3-1.3 3.3 .8 .6 1.8-1.3 2.6 1.3 3.8 0 2.6 0 2.6-1.3 2.5 0 1.3 1.3 3.9-1.3 2.5 1.3 1.3 0 2.6 0 3.8 0 2.6-1.3 2.6 1.3 2.5 0 2.6 0 2.6 0 2.5-1.3 2.6 0 2.5 1.3 3.9 0 2.6 0 1.2-1.3 3.9 0 2.6 0 1.2 1.3 3.9-1.3 2.6 0 2.5 1.3 1.3 0 3.9-1.3 2.5 1.3 2.6-1.3 2.6 0 3.8 1.3 1.3-1.3 2.6 0 2.5 1.3 2.6 0 2.6-1.3 3.8 1.3 1.3-1.3 3.8 0 1.3 1.3 2.6-1.3 2.5 1.3 3.9 0 2.6-1.3 2.5 0 1.3 1.3 3.9 0 2.5-1.3 2.6 0 2.6 0 1.2 0 2.6 1.3 3.9 0 2.5-1.3 1.3 1.3 5.1 0 2.6 0 5.1-1.3 1.3 0 2.6 0 2.6 0 3.8 0 1.3 1.3 2.5-1.3 2.6 0 2.6 1.3 3.8 0 2.6-1.3 2.6 1.3 1.2-1.3 3.9 1.3 2.6 0 1.2-1.3 3.9 1.3 1.3-1.3 3.8 1.3 1.3-1.3 3.9 0 2.5 0 2.6 1.3 1.3-1.3 5.1 1.3 1.3 0 2.6-1.3 1.2 1.3 2.6-1.3 3.9 1.3 2.5 0 2.6 0 3.8 0 1.3-1.3 2.6 1.3 3.8 0 2.6-1.3 2.6 .7 1.9-2 .6-3.9-1.3-2.5 0-2.6 1.3-2.6-1.3-2.5 1.3-2.6 0-2.6 0-1.2 0-3.9-1.3-2.6 1.3-1.2-1.3-2.6 0-3.8 1.3-1.3 0-2.6 0-3.8 0-2.6 0-2.6-1.3-2.5 1.3-2.6-1.3-2.6 1.3-2.5 0-1.3-1.3-5.2 1.3-1.2-1.3-2.6 1.3-2.6 0-2.5 0-2.6-1.3-3.9 0-1.2 1.3-2.6 0-2.6-1.3-2.5 1.3-2.6 0-3.8 0-1.3 0-3.9 0-1.3-1.3-3.8 1.3-1.3-1.3-2.6 1.3-3.8-1.3-2.6 0-2.5 1.3-2.6-1.3-2.6 0-2.5 0-2.6 0-2.6 0-1.3 0-3.8 1.3-2.6-1.3-2.5 1.3-2.6 0-2.6-1.3-3.8 1.3-1.3-1.3-2.6 1.3-3.8-1.3-1.3 0-3.8 1.3-2.6 0-1.3-1.3-3.8 0-1.3 1.3-2.6-1.3-3.8 1.3-1.3-1.3-2.6 1.3-2.6-1.3-2.5 0-2.6 0-3.8 1.3-2.6-1.3-1.3 1.3-3.8 0-2.6 0-2.6 0-2.5 0-2.6-1.3-2.6 1.3-2.5-1.3-2.6 1.3-2.6-1.3-2.5 0-3.9 0-1.3 1.3-2.5 0-2.6-1.3-1.3 1.3-5.1-1.3-1.3 0-3.8 0-1.3 1.3-2.6 0-2.6 0-3.8-1.3-1.3 1.3-2.6 0-2.5-1.3-2.6 1.3-2.6-1.3-3.8 0-2.6 1.3-2.5 0-2.6 0-1.3-1.3-2.6 1.3-2.5 0-3.9-1.3-2.5 0-2.6 1.3-2.6 0-2.5 0-1.3-1.3-3.9 0-1.2 0-3.9 0-2.6 0-3.8 1.3-2.6-1.3-1.3 1.3-2.5 0-2.6 0-3.8-1.3-1.3 0-2.6 1.3-2.6-1.3-2.5 0-2.6 1.3-3.8 0-1.3-1.3-2.6 0-2.5 0-3.9 1.3-2.6 0-1.2-1.3-3.9 1.3-1.3-1.3-3.8 0-2.6 0-2.6 1.3-1.2-1.3-3.9 0-2.6 0-2.5 0-1.3 1.3-2.6-1.3-3.8 1.3-2.6 0-2.6-1.3-2.5 1.3-2.6-1.3-2.6 1.3-2.5 0-2.6-1.3-3.8 0-1.3 0-2.6 1.3-2.5-1.3-2.6 0-3.9 0-2.5 1.3-1.3-1.3-2.6 0-3.8 0-1.3 0-3.9 0-1.2 1.3-2.6-1.3-2.6 0-3.2 .7 .7-1.9-1.3-2.6 0-2.6 0-2.5 1.3-3.9-1.3-1.3 1.3-3.8-1.3-2.6 0-2.5 1.3-1.3 0-3.9 0-1.3-1.3-3.8 1.3-3.9-1.3 0 1.3-3.8-1.3-1.3 0-3.8 0-2.6 1.3-2.6-1.3-2.5 1.3-2.6 0-3.9-1.3-2.5 0-2.6 1.3-1.3-1.3-2.5 1.3-3.9 0-2.6-1.3-2.5 0-1.3 1.3-3.9 0-1.2 0-3.9-1.3-1.3 1.3-3.8-1.3-2.6 1.3-2.5-1.3-2.6 0-2.6 1.3-1.3-1.3-3.8 0-2.6 0-2.5 0-2.6 1.3-2.6 0-3.8 0-1.3-1.3-2.6 0-3.8 0-2.6 0-1.3 1.3-2.5-1.3-3.9 1.3-2.6 0-1.2-1.3-3.9 1.3-2.5 0-2.6 0-1.3-1.3-3.8 0-2.6 0-2.6 0-2.5 0-3.9 1.3-1.3-1.3-2.5 0-2.6 1.3-2.6 0-2.5 0-2.6 0-2.6-1.3-2.5 1.3-2.6-1.3-3.9 0-1.2 0-2.6 1.3-2.6-1.3-3.8 0-1.3 1.3-3.9 0-1.2 0-3.9-1.3-1.3 0-2.5 1.3-2.6-1.3-3.8 1.3-2.6 0-1.3 0-3.8-1.3-2.6 1.3-2.6-1.3-2.5 1.3-2.6 0-2.6-1.3-2.5 0-2.6 1.3-2.6-1.3-2.5 1.3-3.9-1.3-1.3 1.3-3.8-1.3-2.6 1.3-1.3-1.3-3.8 0-1.3 0-2.6 1.3-2.5 0-3.9 0-2.5 0-2.6-1.3-2.6 0-1.3 0-3.8Z"/><path id="p3_2" d="M25 870l3.2-.1 2.6 0 4.2 .1 2.2 2.4 2.8 2.6 3.6 1.3 2.6 2.6 1.3 1.2 2.5 2.4 2.6-3.6 1.3-2.6 2.6-1.3 1-2.5 2.8 1.2 1.3 2.6 3.4 1.2 .4 2.6 1.3 2.6 1.3 1.3 1.3 2.6 .7 3.4-.7 1.7 1.3 3.8 1.2 2.6 1.3 2.6 0 3.8 .7 1.7-.7 3.4 0 2.6 0 2.6 1.3 3.8-.6 1.4-2-.1-3.8 0-1.3 0-3.8-1.3-2.6 1.3-3.8 0-2.6 0-2.6-1.3-1.3 1.3-3.8-1.3-2.6 1.3-2.5-1.3-2.6 0-2.6 0-2.5 0-3.9-1.3-1.3 1.3-3.2-.6-.6-3.2 1.3-2.6-1.3-2.6 0-2.5 1.3-3.9-1.3-1.3 0-3.8 1.3-1.3-1.3-2.5 1.3-2.6-1.3-2.6 1.3-2.5-1.3-3.9 0-1.3 0-3.8 1.3-2.6-1.3-1.3Z"/><path id="p3_3" d="M256.2 920l.4-2.7 0-2.5 0-2.6 0-2.6-.4-3.4 .4-1.7 0-3.8 0-2.6-1.3-1.3 0-3.8 0-2.6 1.3-2.6 0-2.5-1.3-2.6 1.3-2.6-.4-2.6 1.7-1.2 1.3-5.1 1.2-1.3 1.3-2.6 1.3-1.3 2-3.5 1.9-1.6 1.2-2.6 1.3-3.8 2.6-2.6 0-2.6 2.6-1.2 .4-3.1 .8 1.8 2.6 2.5 0 2.6 1.3 2.6 1.3 2.5 1.5 3 2.3 2.2-1.3 2.5 2.6 2.6 0 3.9 1.3 0 1.4 3.8-1.4 2.6 0 2.5 1.3 2.6 0 3.9-1.3 1.2 1.3 2.6 0 2.6-1.3 2.5 1.3 2.6-1.3 2.6 0 2.5 .1 3-.1 3.4 0 2.6 0 1.3 0 3.8 .1 2.7-2.7 1.2-3.8-1.3-1.3 0-3.9 0-3.8 1.3-2.6-1.3-2.5 0-2.6 0-3.9 0-1.2 1.3Z"/><path id="p3_4" d="M433.8 920l-.1-2.7 0-3.8 0-2.6 0-2.5 .1-2.2 1.1-3 2.6-3.8 1.3-1.3 1.2-3.1 1.4-2 1.2-2.6 1.3-2.6 1.3-3.8 1.3-2.6 1-1.4 2.8-1.1 2.6-2.6 2.1-.1 4.3-1.2 1.3-1.3 3.8 0 3.1-.7-.5 2 0 2.6 0 3.8 0 2.6 1.3 1.3 0 3.8 0 1.3-1.3 3.9 1.3 2.5-1.3 2.6 0 1.3 0 3.8 0 2.6 1.3 2.5-1.3 1.3 0 3.9 0 2.5 .5 2.7-3.1-.1-2.5 0-2.6 1.3-3.8-1.3-1.3-1.3-3.9 1.3-2.5-1.3-3.9 1.3-1.3 1.3-2.5-1.3-3.9 0Z"/><path id="p3_5" d="M25 640l3.2-1.1 2.6 1.3 2.6 0 2.5 0 2.9-.2 3.5 1.5 2.6 2.6 2.6 .9 1.3-2.2 0-3.9 1.2-1.2 0-2.6 1.3-2.6 1.3-1.3 1.2-3.7 1.4 1.2 1.3 3.8 0 2.6 1.2 2.6 1.1 2.3 1.5 2.8 1.3 2.5 1.3 2.6 1.2 1.3 .9 3.3 1.7 1.8 1.3 2.6 1.3 2.6 1.3 2.5 1.9 3 1.9 2.2 2.6 2.5 0 1.3 3 1.5 3.4 1.1 1.3 1.3 2.8 .1 3.6-1.4 0-1.3 3.8-3.9 2.6-.9 2.6-.3 2.5-2.6 2.6-1.3 2.3-.8 2.8-1.8 2.6-2.5 1.3-1.3 3.3-1.9 1.8-2 1.3-2.5 1.3-1.3 1.3-2.6 2.5-2.5 1.8-1.6 2.1-2.3 3.8-1.3 1.3-1.2 2.8-2.7 2.3-1.2 1.3-3.8 1.3-1.3 2.6-1.3 2.5-2.4 1.3-1.5 3.9-2.5 2.5-1.3 2.3-2.2 4.2-.4 2.5-2.5 3.3 .4 .6-3 2.5 0 2.6-3.9 1.8-.6 3.3-1.9 2.6-1.3 1.3 0 2.8-1.8 2.3 1.8 2.6 1.3 0 2.5 2.6 1.9 1.2 3.3 2.6 1.3 2.5 2.9 1.3-1.7 2.6-3.8 1.3-1.3 1-3.2 .3-1.9 2.5-2.6 1.3-2.6 0-2.5 2.6-3.9 .8-1.5 1.8-3.6 2.5-2.6 1.3-2.5 0-1.3 2.6-2.6 1.8-2.4 2-1.4 2.6 0 2.6-1.3 2.8-2.3 3.6-.3 2.5-1.3 3.9-1.2 2.5 .3 2.6-.3 2.6-1.3 2.6-1.3 1.2 0 3.5-2.1 1.7-1.8 3.8-2.5 2-.7 1.9-.6 2.5-2.6 3.9-1.3 1.7-.5 3.4 1.8 2.8 2 1.1 1.9 1.2 3.8 2.6 2.6 1.3 2.6 2.6 1.5 2.5 2.3 2.6 1.3 1.3 2.5 1.1 1.5 1.4 2.4 3.9 1.3 1.3 1.3 3.4 2.4 1.7 .1 2.6 1.3 2.5 2.6 3.2 1 3.3 .3 2.5 2.5 1.3 0 2.9 2.2 2.2 1.7 1.3 2.5 1.3 2.6 2.7 2 2.4 1.9 2.6 0 2.6 2.5 2.4 .6 1.4 .7 1.3 3.9 3.8 0 2.6 1.2 .9 3 1.7 2.2 2.5 2.5 2.6 2.6 1.3 2.6 1.9 1.3 1.9 1.2 2.6 2.6 1.3 1.3 2.6 1.3 1.6 2.4 2.2 2.7 2.6 0 1.3 2.6 2.5 1.2 1.4 2.2 1.2 .4 2.5 2.6 2.6 2.5 1.3 2.6 2.4 .6 2.7 .7 2.6 3.8 1.3 1.3 3.4 1.8 1.7 2.1 3.9 1.3 1.2 0 3.2 2.8 2 1 2.5 1.3 3.9 1.3 1.6 1.4 2.2 1.1 2.6 3.9 1.3 0 2.6 2.6 1.3 1.2 3.8 0 2.6 1.3 3.6-.1 2.8-1.2 1.2-2.5 3.9 0 2.1-1.3 3-1.3 1.3 0 3.9 0 2.5-1.3 1.8-1.2 2.1 1.2 2.5 0 2.6-1.3 3.3 .1 .6 2.5-1.3 1.3 0 3.8 0 2.6 0 2.6 1.3 2.5 0 2.6 0 3.9 0 1.2-1.3 2.6 1.3 2.6-1.3 3.8 0 1.3 0 3.8 1.3 2.6 0 1.3-1.3 3.8 1.3 2.6 0 2.6-1.3 1.3 1.3 2.5 0 3.9 0 2.5-1.3 1.3 1.3 3.9-1.3 2.5 0 2.6 1.3 3.9-1.3 1.2 1.3 3.9 0 2.6-1.3 2.5 1.3 1.3-1.3 2.6 0 2.5 0 2.6 0 2.6 0 2.5 1.3 2.6-1.3 3.8 1.3 1.3 0 3.9 0 1.3 0 2.5-1.3 2.6 1.3 3.8-1.3 1.3 1.3 3.9 0 2.5-1.3 2.6 1.3 2.6-1.3 2.5 0 2.6 1.3 2.6-1.3 2.5 0 2.6 0 2.6 1.3 2.5 0 3.9 0 1.3-1.3 2.5 1.3 3.9-1.3 1.3 0 2.5 1.3 2.6 0 2.6 0 3.8-.6 1.9-2 .7-2.6 0-2.5 0-3.4-.7-1.8 2-2.5 1.2-1.3 2.6-3.9 2.6-.5 1.6-3.3 2.2-1.3 0-2.9 1.5-2.2 1.1-2.6 1.3-3.8 1.3-1.4 2.6-2.5 2.5-2.6 1.3-2.5 0-2.4 2.4-1.5 2.7-2.5 2.6-1.3 2.5-2.2 2.2-3 1.7-2.5 1.3-2 .8-3.2-.8-3.8 0-3 .8-3.4-.8-1.3-1.3-1.3 0-4-1.7-2.4-.9-5.1-1.3-2.5-.3-3.9-.9-1.3-2.6-2.6-1.3-2.2-2.7-1.6-1.1-1.3-2.6-2.6-3.9-1.3-1.2-1.3-1.3-1.9-2.4-.6-1.5-2.6-3.8 0-1.3-2.6-2.6-.4-3.3-2.1-1.8-3.9-1.3-2.8-1.9-2.3-.7-3.9-1.2-1.3-1.9-3.8 1.9-1.3 1.2-2.4 .7-1.4 1.9-3.9 1.3-2.2 1.8-1.6-1.8-2.6-2.6-2.1-3.1-4.3 1.8-1.9 1.9-1.9 .7-1.3 2.6-2.6 2.5-1.7 1.8-2.1-.5-2.6-1.3-1.3 0-4-2-1.1-3.1 0-2.6-2.6-1.2 0-3.9 0-1.3-1.3-3.8-1.3-1.3-1.2-2.8 0-2.3-2.6-2.6 0-2.6-2.6-3.8-1.3-1.3-1-2.4-1.5-2.7-2.6-2.6-2.6-1.3-.8-3.4-1.7 2.1-1.3 1.3-2.6 2.6-1.9 1.5-1.9 3.6-1.3 1.3-1.3 2.6-1.3 2.5-1.7 2.5-3.4 .1-2.6 1.3-1.5 1.1-3.6 1.4-2.6 0-3.8 1.1-2.6 2.8-1.3 0-3.8 2.6-2.3 2.1-.3 3-2.5 1.3 0 3.8-1.3 2.6-.9 1.8-1.7 3.3-1.3 1.3 0 3.9-1.3 1.2-.7 2.8-.5 2.4-2.6 2.5-1.3 2.6-1.9 2.5 1.9 3.9 1.3 1.3 1.3 1.3 1.8 3.5 .7 2.9 2.6 2.6 0 2.5 1.3 2.6 .4 1.9 .9 3.2 1.6 3-.3 3.4 0 2.6 0 2.6 1.2 2.5-.9 2.7-2.9 1.2-1.3-1.3-3.8 0-2.6-1.3-2.6 1.3-2.5 0-3.9 0-2.6 0-1.2 0-3.9 0-2.6-1.3-1.2 0-3.9 2.6-2.6 0-2.5 0-2.6-1.3-2.5 0-3.9 0-1.3-1.3-2.5 1.3-2.6 0-3.9 0-2.5 0-1.3 1.3-3.9-1.3-2.5 0-2.6-1.3-2.6 2.6-2.5-1.3-1.3 0-3.9 .1 1.3-2.7-1.3-2.5 0-2.6 0-2.6 0-3.4 1.3-1.7 3.9-2.6 2.3-1.9 2.8-.6 2.6-1.3 1.3-3.8 3.3-.5 1.8-2.1 3.8-1.3 2.6-2.6 1.8-.3 2.1-.9 3.8-1.3 1.3-2.6 2.8-.2 2.3-1.1 1.3-1.3 2.6-2.6 0-3.8-1.3-1.3-1.1-2.4-1.5-2.7-2.5 0-3.9-3.8-.9-1-1.7-1.6-1.2-1.3-2.6-2.6-2-2-1.9-1.8-2.5-2.6-1.3-1.3-1.8-3.1-2.1 1.9-2.9 1.9-2.2-.7-2.6-1.2-2.7-1.9-3.7 1.9-1.3 1.2-2.5 .7-3.9-.7-3.6-1.8-2.8 1.8-1.3 2.6-1.3 1.3-2.1 1.8-.4 2-1.3 2.6-1.3 2.6-1.3 2.5-1.9 2.8-1.9 3.7 1.3 1.2-2.6 2.6 0 3.9 0 3.8-.6 2.3-.7 2.8 0 3.9 0 1.3-1.3 2.5 0 2.6 0 2.6-1.2 2.5 .7 3 .5 3.4 0 2.6 0 2.6-1.2 3.8 .7 1.4-3.3-1.4-1.3 1.3-2.6 0-3.8 0-2.6 0-1.3 0-2.5 1.3-2.6-2.6-3.8 1.3-2.6 0-2.6 0-2.3 .1 1-2.7-2.5-2.5 0-2.6 1.3-2.6-1-3.4-2.5-3.7-.4-1.8-1.3-2.6-1.3-3.8-1.2-1.3-.8-3-1.8-2.2 0-3.8 0-2.6-1.3-2.5-1.3-3.9 1.3-2.6-1.9-2.4-1.9-1.4-2.6-1.3-3.9-3.8-1.6-1-2.2-1.6-3.8-1.3-2.6-1.3-1.3-2.5-2.6-.8-1.2-1.8-3.9-3.9-1.3 0-1.3-3.8-1.2-1.3-2.3-1.7-3.8-2.5-.4-3.5 0-1.3 0-2.5 0-2.6 0-2.6-1.2-2.5 0-2.6 0-2.6 1.2-2.5-1.2-3.9 0-2.5 0-2.6 0-2.6-1.3-2.5 0-1.3 1.3-2.6-1.3-3.8 0-1.3 0-3.9 1.3-2.5-1.3-2.6 0-2.6 1.3-1.3-2.6-3.8 1.3-2.6-1.3-2.5 0-2.6 0-2.6 1.3-2.5 0-2.6-1.3-2.6-1.3-2.5 0-2.6 0-2.6 0-2.5 1.3-2.6 0-2.6 0-3.8-1.3-2.6 0-1.3 1.3-3.8-1.3-2.6-1.3-2.5 1.3-1.3 0-3.9 0-1.3-1.3-2.5 0-2.6 0-2.6 0-2.5 0-3.9 0-2.5 1.3-1.3-2.6-3.9 1.3-1.2 0-3.9 0-2.6-1.3-2.5 0-1.3 1.3-3.9 0-1.2-1.3-3.9 0-2.6-1.2-2.5 1.2-2.6-1.2-2.6 0-3.8 0-1.3 1.2-2.6-1.2-1.2 0-3.9 0-2.6 0-2.5 0-3.9 0-1.3 0-2.5Z"/><path id="p3_6" d="M25 650l3.2-.8 2.6 0 2.6 1.3 1.2-1.3 4.2 .8 2.3 3 3.8 0 2.6 2 1.3-2 1.2-3.8 1.3-1.3 0-3.8 1.3-2.6 0-1.3 1.2-2.7 1.4 1.4 1.3 3.9 0 2.5 2.5 1.3 0 3.9 1 2 .3 3.1 2.6 1.3 1.2 3.8 1.3 1.3 .8 3 .5 2.2 1.3 2.5 2.6 2.6 1.2 3.8 2 1.4 1.9 2.5 1.3 1.3 1.3 2.5 2.9 1.2 2.2 1.4 2.6 0 2.8 1.1 2.3-1.1 2.6-1.3 2.5-3.8 2.6-1.3 2.6 0 2.5-2.6 1.3-1.3 3.6-1.1 1.5-1.4 2.6-2.6 2.6-1.3 1.3-2.5 2-2.2 .5-3 2.6-2.5 2.6 0 0-2.6 2.5-1.3 1.8-3.1 3.3-.7 2.6-3.9 2.8-.4 2.3-.9 1.3-2.5 1.3-2.6 2.6-2.6 1.3-2.5 1.2-1.4 1.3-1.2 3.9-1.3 2.5 0 2.3-2.5 4.2 0 2.5-1.3 3.3-1.2 1.9-1.4 2.5-1.3 3.9-1.3 1.7-1 2.1-1.5 2.6-1.3 2.8-2.2 2.3 3.5 2.6 2.5 1.3 1.5 2.5 3.7 1.3 1.3 0 2.5 2.5 2.5 2.6 .1 2.4 2.4 1.5-2.4 0-2.6 1.3-2.5 1.3-2.6 .9-2.4 2.9-2.7 0-2.6 3.9-2.6 .7-2.1 1.8-1.7 2.6-2.6 1.3-2.6 1.8-3.1 2-2 2.6-1.3 2.6 0 2.8-1.7 3.6-2.1 2.5 1.3 3.9 0 2.5-1.7 2.6-.9 2.6 0 2.6-2.6 1.2-1.3 3.5-.2 2.9-2.3 1.3-1.3 3.3-2.7 3.1-2.4 2.6-1.3 3.1-1.3 2 2.6 2.6 0 1.6 2.4 2.3 1.4 2.5 2.6 2.6 1.3 2.6 1 1.2 2.8 2.6 2.6 2.6 2.5 1.1 2.1 2.7 3.1 2.6 0 2.6 3.8 2.1 .6 3 .7 2.6 1.3 1.2 1.3 3.2 1.7 3.3 .8 3.8 1.3 2.9 .4 2.2 2.2 2.6 1.3 3.8 2.5 1.4 1.5 1.2 1.1 2.6 2.6 3.8 0 2.4 1.3 2.8 2.5 2.5 1.3 0 1.3 3.9 2.6 .8 1.1 1.7 2.7 1.3 1.3 3.9 2.5 2.5 2.6 .6 2.1 3.3 1.8 1.3 2.5 3.8 2.6 1.6 .6 2.3 3.2 1.3 0 1.2 2.6 3.9 2.6 1.3 1.6 2.5 .9 2.6 2.6 2.6 2.6 2.3 1.4 2.8 2.4 2.6 0 2.5 1.3 2.1 1.3 3.1 1.3 1.2 1.3 2.6 2.5 3.1 1.1 2 1.5 3.9 1.3 1.3 2.5 2.8 1 1 1.6 2.6 1.3 1.3 2.6 2.6 2 3.8 .5 3.8 1.3 2.4 .7 2.8-2 1.2-1.3 2.6 0 3.4-3 3-.8 2.6 0 1.3-1.3 3.8-1.3 1.8-.8 2.1-.5 3.8 0 2.6 1.3 2-.8 .6 3.4 0 2.6-1.3 2.5 1.3 1.3 0 3.8-1.3 2.6 0 2.6 1.3 2.5-1.3 1.3 1.3 3.9-1.3 2.5 1.3 2.6 0 2.6 0 2.5 0 2.6-1.3 3.9 1.3 1.2-1.3 2.6 1.3 2.6-1.3 2.5 0 2.6 0 2.6 0 2.5 1.3 3.9-1.3 2.6 1.3 2.5 0 1.3-1.3 3.9 1.3 2.5-1.3 2.6 0 1.3 1.3 3.8 0 1.3 0 2.6-1.3 2.5 0 3.9 1.3 3.8 0 2.6-1.3 1.3 0 3.8 0 2.6 1.3 2.6 0 1.2 0 3.9 0 2.6 0 1.2 0 3.9-1.3 2.6 0 2.5 0 1.3 1.3 3.9-1.3 2.5 .7 2.4-3.3 .2-2.6 0-1.2 0-3.4-.2-1.8 1.5-1.3 2.5-1.2 3.9-1.3 1.3-2.6 2.5-1.8 2.1-2 3.1-2.6 1.2-1.3 1.3-1.3 2.6-2.8 1.8-3.6 2-1.3 1.3-2.5 0-2.6 1.7-2.6 2.2-1.2 0-2.6 1.3-3.6 1.5-1.5 3.6-1.3 1.3-2.2 3.9-1.7 1.2-2.5 2.6-2.6 0-3.2 1.2-3.2-1.2-1.3 0-2.6-1.3-2.9-1.3-2.2-2.6 0-2.5-2.6-2.6-1.3-1.3-1.4-2.2-1.1-.3-3.9-2.6-2.5 0-2.5-.9-1.4-3-3.8-1.2-2.6-1.3-2.2-2-1.6-3.2-1.3-1.2-2.6-1.3-1.3-2.6-2.5-1.3-.7-2.9-1.9-2.2-1.3-3.9-2.6-1.2-1.7-2.7-.8-2.5-2.6-1.2-1.3-2.6-1.3-2.6-1.5-2.3-3.6-1.5-2.6 0-3.8-1.1-2.6-1.5-1.3-2.6-1.2-1.2-2.4-2.1-2.8 2.1-2.5 1.2-1.3 2.6-3.4 .3-1.7 1-3.9 1.3-1.9 1.5-4.5-.2-3-1.1-.9-2.8 0-1.3-1.2-3.8 0-2.6-1.3-1.3-1.6-3.2-2.3-.6-1.3-2.6-3.9-1.8-1.2-3.3-2.6-2.6-2.5-2.6-1.2-1.5-2.7 .3-2.5-1.3-2.6-2.6-2.2-.1-1.7 1.4-2.5 2.6-3.3 2.2-1.9 2.9 0 2.6-2.5 1.2 0 3.9-1.3 0-1.8 3.2-3.3-.6-4.2-.7-3.5-.6-2.6 0-3.9-.7-3.8 .7-2.6-1.3-3.6-.6-2.8 .6-1.3 1.3-3.4 3.1-.4 2-1.3 2.6 0 3.8-1.3 1.3 0 2.6-2 2.7-.5 2.4-1.3 3.9 0 1.2-1.3 3.9 0 3.8 0 2.6-.6 2.2-2 2.9 0 2.6-3.8 2.6-.5 1.9-2.1 1.9-1.3 2.6-1.3 3.8-1.2 1.3-1.6 2.9-3.6-1.6-1.4-.9-1.1-3-2.6-1.2-1.3-3.3-1.3-3.2 0-3.8 0-2.6 0-2.5-2.5-2.6 1.2-2.6-1.2-2.7-1.3-2.4-1.3-2.6-1.1-2.5-1.5 2.5-3.5 2.5-2.9-2.5-2.5-1.2-2.1-1.3-1.8-2.6-1.3-2.6-2.5-2.5-.6-2.3-2 1-2.6 0-3 1.5-3.4 1.1-3.8 2.5-1.5 1.4-3.7 1.2-2.5 1.3-3.8 0-2.7 2.5-2.5 0-2.6 2.6-2.2-.1-1.6 1.4-3.9 1.3-2 2.3-1.8 2.8-2.6 1.3 0 2.5-1.8 3.4-2 3.1-1.3 1.2 0 2.6-1.7 3.1-.9 3.3 0 2.6 0 2.6 0 2.5-1.7 4 .4 3.7-1.3 2.6 0 1.3 0 5.1-1.2 2.6 0 1.3-.3 3.4-3.6 3-2.6 1.3-2.6 .7-2.5 .5-1.3 2.6-3.8 0-2.4 1.9-2.8-1.9-3.4-.6-1.7-2-1.3-2.5-1.3-2.6-.7-2.9-1.8-2.2 0-2.6-1.3-2.6-.7-2.6-1.9-2.5-1.3-1.3-2.5-3.8-1.8-2.4-2.1-2.8-2.5-2.5 0-1.3-2.9-3.4-2.3-1.7-1.2-1.3-1.3-3.9-2.7-.6-2.5-1.9-1.2-2.6-2.6-1.3-1.2-1.7-1.4-.9-2.5-2.5-2.3-1.6-3.8-2.5-.4-2.3 1.3-2.6-1.3-2.6-1.2-3.8 0-1.3 0-3.8 0-1.3 0-3.9 1.2-2.5-1.2-2.6 0-2.6-1.3-2.5 1.3-2.6 0-1.3 0-3.8-1.3-1.3 0-3.9 1.3-2.5-1.3-2.6 1.3-2.6-1.3-2.5 0-2.6 0-2.6-1.3-2.5 1.3-2.6 0-2.6-1.3-2.5 0-3.9 0-1.3 0-1.2 0-5.2 0-1.3 0-2.5 0-2.6 0-2.6-1.3-2.5 1.3-3.9-1.3-2.5 0-1.3-1.3-3.9 1.3-1.3-1.3-3.8 0-2.6 1.3-2.5-1.3-2.6 1.3-1.3-1.3-3.8 0-1.3-1.3-3.9 0-2.5 1.3-2.6 0-2.6 0-2.5-1.3-2.6 0-2.6 0-2.5 0-1.3-1.2-3.9 1.2-2.5-1.2-3.9 1.2-1.3 0-2.5-1.2-3.9 0-1.3 1.2-2.5-1.2-2.6 0-2.6 0-2.5 0-2.6 0-2.6Z"/><path id="p3_7" d="M175 920l.8-2.7-1.3-2.5 0-2.6 0-3.8 .5-2.2 .8-1.7 3.8-1.3 1.3-2.5 2.6-2.6 1.5-3.1 2.3-2 2.6-1.3 2.5-1.3 2.6-2.6 2.5-1.6 2.6 1.6 2.6 0 2.3 1 1.6 1.6 1.2 3.9 2.6 1.2 2.1 2 1.8 1.9 1.2 3.8 2 3-.7 2.2 1.3 2.5-1.3 3.9 0 2.5 .7 2.7-3.2-.1-2.6 0-1.3 0-3.8-1.3-2.6 2.6-1.3-1.3-2.6 0-3.8 0-2.6 0-3.8 0-1.3 0-2.6 0-3.8 0-2.6 0-2.5 0Z"/><path id="p3_8" d="M25 660l3.2-.5 2.6 0 2.6 0 1.2 1.2 4.2-.7 2.3 .7 3.8 3.9 2.6 .4 1.3-1.7 0-3.8 0-2.6 2.5-2.6 1.3-2.5 0-1.3 1.2-3 .1 3 2.6 1.3 0 2.5 1.2 3.9 1.3 1.3 0 2.5 2.2 3 .4 2.2 2.5 3.8 0 2.6 1.3 1.3 2.1 2.6 1.8 3.8 0 1.3 2.5 2.5 2.6 2.6 .6 2.3 3.3 1.5 2.5 1.3 1.7 2.2 2.2 .4 2.5 1.3 2.8 .8 3.7-2.1 1.2-2.6 2.6-1.3 2.5-1.5 2.6-1 1.3-1.3 3.9-1.3 2.2-1.4 2.9-1.2 1.3-2.5 1.3-1.3 1.3-2.6 3.2-2.4 .6-1.4 3.9-2.6 1.2-1.3 1.3-2.5 1.3-2.6 1.7-2.1 2.1-.5 3.9-3.8 1.3-1.3 2.7-1.9 1.1-2 3.9-1.2 1.3-1.3 1.2-2.6 2.5-2.9 4-.9 3.8 0 2.2-1.6 2.9-1 3.9 1.3 3.2-1.6 3.2-1 4.3-.2 3.4-1.1 2.9-2.7 2.2 1.5 1.3 2.5 1.5 2.3-.2 4.1 2.6 2.6 0 2.6 0 3.8 0 2.6 1.3 1.8 1.2 2 1.3 3.9 1.3 2.5 0 1.3 1.2 2.8 1.4 2.4 0 2.5 0 2.6 1.2 3.8 0 2.6 2.6 2.6 .3 2.2-.3-2.2 1.3-3.9 0-1.3 1.3-3.8 0-2.6 .9-2.4 .4-2.7 1.2-2.6 0-2.5 1.3-5.2 0-1.3 .9-3.2 3 .7 2 1.8 1.8-3.1 0-2.6 0-2.5 0-2.6 2.6-2.6 0-3.8 .6-2.8 2-2.3 1.2-2.6-1.2-1.3 2.5-3.8 .5-2.5 2.1-1.4 2.6-2.6 2.8-1 3.6-.2 2.5-1.3 3.9-1 3.8-.3 3.7 .3 1.5-1.6 2.5-1.3 1.3-2.5 2.6-2.6 2.1-2 1.7-3.1 1.3-1.3 2-3.1 4.4-2.1 1.8-.4 2.1 1.7 2.5 1.3 3 2 3.5 1.9 1.2 1.2 4 1.9 1.2 3.3 1.3 2.5 2.5 1.7 2.6 .9 2.6 2.6 2.3 2.8 2.8 1 1.3 1.3 3.8 2.6 2.1 1.3 3.1 0 2.5 0 4.4 0 3.3 1.2 1.3 1.3 2.6 1.3 2.8 0 2.3 1.3 2.6 1.3 3.8 0 1.3 1.1 2.6 .2 2.5 2.5 2.6 1.3 2.3 1 1.5 1.6 3.9 1.2 2.6 3.9 2 .8 1.8 1.8 1.3 2.5 2.6 1.3 1.2 3.9 1.3 1.2 1.8 1.8 3.4 2.1 2.5 1.3 1.3 2.5 2.8 1.6 2.3 2.3 1.3 1.3 1.3 1.3 3.8 1.2 1.3 2.7 1.3 1.2 3.9 2.6 2.5 2.5 2.3 1.1 2.9 1.5 2.5 1.3 2.6 2.5 2 1 1.8 .3 2.6 2.6 3.9 1.3 1.7 2.1 2.1 1.7 2.6 1.3 2.5 1.3 2.8 .7 2.4 1.8 2.5 2.6 2.6 1.8 3.9 .8 3.6 .4 1.5-.4 3.8-1.3 1.3-2.6 3.4-.7 1.7-1.8 2.6 0 3.9-2.6 1.2 1.3 3.1-2.3 2.1 1 3.8-2.6 1.3 2.6 3.3-1-.7 3.6 1.3 1.2-1.3 2.6 0 3.9 1.3 1.2 0 2.6 0 3.9-1.3 1.2 0 2.6 1.3 3.9-1.3 2.5 1.3 2.6 0 2.6 0 1.2-1.3 3.9 1.3 1.3 0 3.8-1.3 2.6 1.3 1.3 0 3.8 0 2.6-1.3 2.6 1.3 2.5-1.3 2.6 0 2.6 0 2.5 1.3 2.6 0 2.5-1.3 3.9 0 1.3 0 3.8 1.3 1.3-1.3 3.9 1.3 2.5-1.3 2.6 1.3 2.6 0 2.5-1.3 3.9 1.3 2.5 0 1.3 0 2.6-1.3 2.6 0 2.5 1.3 2.6-.6 2.8-3.3 1-2.6 0-2.5 0-2.1-1-1.8 2.3-2.5 2.6-1.3 1.3-1.3 1.3-2.6 1.2-1.3 2.6-1.7 2.4-2.1 1.4-1.3 3.9-2.6 1.3-1.5 3.4-3.6 .4-2.5 1.3-3.9 .8-2.6 .5-5.1 1.3-2.3 .7-1.5 1.8-2.6 1.3-1.3 3.9-2.1 1.7-3-.4-4.5 1.7-1.9-1.7-3.9 1.2-4.2-2-2.2-3.1-1.3 0-2.6-2.6-2.5-2.5-1.4-1.8-2.5-2.1-1.3-2.5-2.5-1.3-2.6 0-1.1-2.9-2.7-3.5-1.3-1.3-2.6-2.6-1.3-2.5-2.1-1.3-1.7-1.3-2.6-2.6-2.5-2.5 0-2.6-3.2-1-2-1.6-1.3-3.8-1.2-2.6 0-2.6-3-1.9-.9-3.2-2.6 0-2.5-2.6-1.5-2.9-2.4-.9-1.3-2.6-3.8 0-2.5-2.8-2.6-2.3-2.6-1.3-2.3-2.7-4.1 .1-3.4 1.2-3 1.4-2.6 1.3-1.9 1-1.9-2.3 0-2.6-1.3-2.5-2.6-2.6-1.3-3.8-.4-2.4-.9-2.8-1.2-2.5-1.3-2.6-1.3-3.8-1.3-1.3-1.3-2.6-.2-3.2-3.6 1.9-3.9-.6-1.3-1.9-2.5-1.3-1.3-3.9-2.4-1.6-4 .3-3.5 .9-1.7 1.7 0 3.9 0 2.5-2.5 2.6-.8 1.8-1.8 3.3-1.3 1.3-1.3 3.9 0 2.5-1.2 2.6-1.9 1.4-3.3 1.1-1.3 2.6-2.9 1.3-2.2-1.3-2.5-3.8-1.3-1.3-1.5-1.1-2.4-1.5-2.5 0-2.6-1-3.9-.3-2.5 1.3-3.6 .3-2.8-1.6-3.9 0-3.3-1-3.1 2.3-1.3 1.3-2.6 1.3-3 1.4-2.1 2.4-2.9 2.6-.9 3.8 1.2 2.6-1.2 2.6 0 2.5 0 2.6-.4 3.4-.9 3 0 2.6 0 3.8 0 1.3 0 3.9 0 1.3-1.3 2.5-.2 4.1-2.4 2.3-1.4 2.7-1.1-3.9 0-1.3 0-3.9-1.4-3.4 .1-3 0-3.8-1.3-1.3 0-3.9-.1-3-1.2-2.1 0-2.6-1.3-2.5-1.2-2.8-1.3-2.4-3.9 0-2.3-2.6-2.8 1.3-2.6 1.3-2.5 0-2.1 2.4-3.1 1.5-2.5 0-4.4 1-2.1 2.8-3.8 1.3-1.3 2.6-2.8 .8-2.3 1.7-1.3 1.3-2.6 2.6-1.3 1.9-2.5 .7-3.9 2.5 0 2.6-3.6 1.7-2.8 2.1-2.6 1.3-2.1 1.6-3 1-1.3 3.8-1.2 1.3-2 1.4-1.9 2.5-1.3 3.8-1.8 1.2-.7 2.7-1.3 2.5-1.3 2.6 0 2.6-1.7 2.1-.9 3-1.3 2.6 1.3 3.8-1.3 2.6-.3 3-2.2 2.1-2.6 1.3-2.7 1.6-1.1 2.2-2.6 2.6-1.3 2.7-1.3 3.7-2.5 1.3 0 1.3-1.2 3.7-2.7 2.7-1 2.3-1.6-2.3-2.2-2.7-.3-3.7-1.3-1.3-1.3-2.6-.9-2.4-.4-4-1.3-1.3 0-3.8-.7-3.4-1.8-1.7-1.3-2.6-3.2-3.2-1.9-1.9-1.3-2.6-2.6-1.3-1.7-1.7-2.1-.9-1.3-2.5-1.3-2.6-2.8-1.5-2.3-2.3-1.3-2.6-2.6-2.6-1.3-2.5-2.5-2.6-1.3-2.6-2.6-1.2-1.1-3.6-2.7-1.6-1-3.4-3.8-2.5-.4-3.1 0-2.5 0-2.6 0-2.6-1.2-1.2 0-3.9 0-2.6 1.2-2.5-1.2-2.6 0-3.8 0-2.6 0-1.3-1.3-3.8 0-2.6 0-1.3-1.3-3.8 0-1.3 0-3.9 1.3-2.5 0-1.3 0-3.9 0-2.5-1.3-2.6 0-3.8 0-1.3 0-2.6 0-2.6 0-3.8 0-1.3 0-3.8-2.6-2.6 1.3-2.6 0-2.5-1.3-1.3 1.3-2.6-1.3-2.6 1.3-3.8 0-1.3-1.3-3.8 0-2.6-1.3-2.6 1.3-2.5-1.3-1.3 0-3.9-1.2-1.2 1.2-3.9 0-2.6 0-2.5 0-2.6-1.2-2.6 0-2.5 0-2.6 0-2.6 0-2.5 0-3.9Z"/><path id="p3_9" d="M195 920l0-2.7-1.3-3.8 1.3-1.3 0-2.6 0-3.4 1.3-1.7 2.6-2.6 2.5-2.5 1.1-.6 1.5 1.9 2.6 2.5 2.5 1.3 .9 1.7 .4 3.4 0 1.3 0 2.6 0 3.8-.4 2.7-3.4 1.2-2.6-1.3-3.9 0-2.5 0Z"/><path id="p3_10" d="M35 672.5l3.8 0 3.5 1.1 1.3 1.3 3.9 .1 1.3-2.7 1.2-2.6 0-2.5 1.3-2.6 1.3-2.6 1.2-2 1.4 2 0 3.9 1.3 1.3 1.2 2.5 2.6 2.6 0 2.6 2.2 2.6 1.6 2.5 1.3 2.6 0 3.8 1.3 1.3 2.1 2.3 1.8 2.8 1.2 2.6 2.6 2.6 .6 2 2 1.8 1.3 2.6 2.5 1.2 1.7 1.9 2.2 .7 2.5 1.3 2.8 .5 2.4-1.8 2.5-1.3 1.3-3.8 2.6 0 1.2-3.1 2.6-2 2.6-1.3 2.6-1.3 2.2-.4 1.6-.9 2.6-2.6 2.6-3.8 2.5 0 .7-2.7 .6-1.2 2.6-2.5 1.3-1.3 2.5-3.9 0-2.5 3-1.1 3.4-2.8 1.3-1.3 1.3-2.5 2.6-2.6 1.4-.8 2.4-1.8 2.6-1.2 1.3-2.6 3.7-1.9 2.7-.7 3.8 0 3.5-.5 4.2-.8 2.6 1.3 2 .7 1.8 3.2 1.3 2.5 1.3 2.6 1.8 1.7 3.3-1.7 1.3-2.6 2.9-.7 2.3 2 1.2 2.6 1.5 2.9-.2 3.5 1.3 2.6 0 2.5 0 3.9 1.4 2.5 1.2 2.6 0 2.6 0 2.6 1.2 5.1 0 1.3 1.4 3.3-.1 3.1 1.3 2.5 0 3.9 1.3 2.6 0 2.5-.1 2.9 .1 3.5 1.3 3.9-1.4 2.6 .1 2.5-1.3 2.6-1.3 2.6 0 1.2-1.3 3.9-1.2 2.2-2.6-2.2-1.3-1.3-2.3-1.5-1.5 2.8-2.6 1.3-2.1 .9-.5 2.9 0 2.6-2.5 1.3-.8 3.2-.5 1.9-1.3 3.9-.7 4.2-1.9-1.7-3.1-3.3-2 2-1.3 3.9-1.7 1.6-2.1 2.2-2.6 1.3-1.3 2.6-1.5 1.4-2.3 1.1-1.3 2.6-1.3 1.3-2.6 2.5-2.5 1.3-2.6 2.6-1.3 1.3-1.1 2.3-1.4 1.5-1.3 2.6-2.6 1.3-2.2 2.1-1.6 1.7-1.3 2.6-3.9 1.3-.7 1.9-.5 1.9-3.9 2.6-2.6 1.3-.5 1.7-2 2.1-2.6 1.3-1.3 2.6-1.6 1.5-2.2 2.3-2.6 1.3-1.3 1.3-1.4 2.6-2.4 2.5-1.3 1.3-2.6 1.3-1.2 2.4-1.3 1.4-2.6 1.3-1.3 2.6-2.3 2.2-2.8 1.6-1.3 3.9 0 2.6-2.2 1.9-1.7 1.9-1.2 2.6-2.1 1.7-1.8-3-1.9-3.2-1.9-1.9-1.3-3.9-3.1-1.7-.8-2.1-2.5-2.6-1.3-3.9-1.6-1.4-1-2.4-1.3-2.6-1.2-2.5 0-2.6-1.5-2.4-1.1-2.7-1.3-1.3 0-2.6-2.6-3.4-1.2-3-3.8-2-2.7-1.8-3.8 0-3.5-.7-.4-3.2 0-1.3 1.3-3.8-1.3-2.6 0-2.6 0-2.5 1.3-2.6-1.3-2.6 1.3-2.5-1.3-2.6 0-2.6 1.3-2.5 0-2.6 0-2.5-1.3-1.3 1.3-3.9-1.3-2.5 0-1.3 1.3-3.9 0-3.8-1.3-1.3 0-2.6 1.3-3.8-1.3-2.6 0-2.6 1.3-1.2-1.3-2.6 1.3-3.9-1.3-1.2 0-2.6 0-2.6 0-2.5 0-3.9 0-1.3 0-3.8 0-1.3 1.3-3.9 0-2.5 0-2.6-1.3-2.5 0-1.3 0-3.9 0-2.5 0-2.6 1.3-2.6-1.3-2.5 1.3-2.6-1.3-2.6 1.3-2.5Z"/><path id="p3_11" d="M231.2 643.8l3.6-1 1.3-2.6 3.9-.2 3.8-1.1 0-1.2 3.7-.2 4-1.1 3.5-.2 .3-2.4 2.6-2.6 1.3-2.5 2-3.7 1.8-2.7 2.6-2.6 1.3-2.6 1.9-2.1 1.9 2.1 2.6 1.3 1.3 1.3 2.9 1.5 2.2 1.1 0 3.8 1.3 2.6 2.5 1.3 1.5 2.5 1.1 2.6 1.3 2.6 2.6 2.3 2.5 .2 2.6 2.6 2.4-.3 4 .3 3.5-.3 1.6 2.8 0 2.6 1.3 2.6 2.1 2 3.1-.7 1.2-3.9 3.2-.4 2-.9 2.5 0 3-1.6 2.2 1.6 2.5 1.3 2.8 2.1 2.4-.8 1.2-1.3 3.9-.4 2.6 1.7 2.5 1.3 2.6 2.5 2.3 2 2.8 1.9 2.6 1.3 2.6 1.3 2 .5 1.8 2 2.6 1.3 1.3 2.6 2.5 1.3 1.8 2.8 2.1 1 1.3 2.6 2.5 2.5 1.3 2.6 2.8 1.3 2.3 2.6 2.6 1.2 1.3 1.3 2.5 3.9 1.3 1 1.3 1.5 2.6 2.6 2.5 1.3 1.3 1.3 2.3 2.1 2.9 1.7 2.5 1.3 2.6 0 2 2 3.1 1.8 1.3-1.2 3.9 2.5 1.7 .6 2.1 2 2.6 1.3 2.5 1.3 2.8 1.7 3.7 2.1 1.2 0 2.6 2.9 3.9 1 3.6 .2 2.8-1.5 2.5 0 2.6-2.6 2.1-.9 3-1.7 2.6-1.2 2.6-1.3 1.2-1.3 3.1 0 3.4 0 2.5 0 2.6-1.3 2 1.3-.7 2.6 1.3 2.5 0 2.6 0 2.6-1.3 2.5 1.3 2.6-1.3 3.8 0 1.3 0 2.6 1.3 3.8 0 1.3 0 3.9 0 1.3-1.3 2.5 0 3.9 0 1.3 0 3.8 1.3 1.3-1.3 3.8 1.3 2.6 0 1.3-1.3 3.8 1.3 1.3 0 2.6 0 3.8 0 2.6-1.3 2.6 0 2.5 0 1.3 0 5.1 0 2.6 0 1.3 0 1.3 1.3 3.8-1.3 2.6 1.3 2.6 0 2.5-1.3 2.6 0 3.8 .7 1.7-3.3 .9-2.6 0-1.2 0-3.4-.9-1.8 .9-1.3 3.9-2.5 2.5-2.6 2.6-1.3 1.3-1.3 3.8-1.7 1.2-.8 2.7-3.9 2.5-1.3 2.6-1.5 2.2-2.3 .4-2.6 1.2-2.6 .9-2.5-.9-1.3-2.5-3.8 0-2.4-1.6-2.8 .3-2.5 1.3-1.3 1.3-3.4 2.1-3-.9-3.9 0-3.1-1.6-2-.9-2.6-1.3-3.8-1.3-1.6-1.5-2.3-2.3-1.3-2.6-2.5 0-1.3-2.6-2.6-2.5-1.3-2.6-2.5-1.3-1.3-2.5-2.6-1.3-2.3-2.3-2.8-1.6-1.3-2.5-1.3-1.3-1.2-3.9-2.6-1.3-.8-1.9-.5-3.2-3.8-1.3-1.3-2.5-1.9-3-2-2.2-1.3-1.3-1.2-3.8-3.9-1.3-.3-1.4-2.3-1.2-1.2-3.8-1.3-1.3-1.3-1.3-2.7-2.4-2.4-2.7-2.6-2.6-2.5-1-2.6-1.5-2.6-2.6-2.6 0-2.2-2.1-1.6-3-2.6-1.3-2.5-3.9-.8-1.8-1.8-2 0-3.9-2.6-1.2 1.3-2.6-1.9-2.8-.7-2.3-1.2-2.6-3.9-2.6 0-2.5-1.7-2.5-.9-2.7 0-2.5-2.5-2.6 0-2.6-1.6-2.1-1-3-1.3-1.3-2.5-2.6-.2-3.1-1.1-3.3-1.3-2.5-.6-1.7-2 3 1.3 1.2 0 5.2-1.3 1.8-2.5-3.1 0-3.1 0-3.3-1.3-2.6-1.3-3.8 .1-2.8-1.4 2.8-2.3 2.2-1.5-2.2-2.6-2.6-.9-2.7-3 2.7-1.2 1.3-2.1 2.2-4.4 1.6-3.1-.3-2-1-2.6-2.5-2.5-1.3-2.9-2.7-1-2.4-1.2-2.6-1.3-2.6-1.5-2.4-1.1 2.4-2.6 2.6-1.3 2.5-2.5-2.5 0-1.3-2.5-3.7-.1-2.7-1.3-2.6-1.2-2.5 0-1.3-1.3-3.9-1.1-2-.2-3.1 0-1.3-2.6-5.1 0-1.3-1.3-3.9Z"/><path id="p3_12" d="M35 691.2l3.8 0 2.3 1.6 3.8 0 2.6 2.2 0-2.2 1.3-3.8 0-3.9 1.2-1.3 1.3-3.8 0-1.3 1.2-3.7 .1 2.4 2.6 2.6 1.3 2.6 1 2.4 1.5 2.7 0 1.3 2.6 2.5 0 2.6 .9 3.4 .4 3 2.5 2.6 0 1.3 0 2.5 1.3 3.9 .8 1.7 1.8 2.1 2.5 2.6 2 2.8 3.2-.2 1.3-1.3 4.2-1 3.5 1 1.2 1.3 2.8 .2 2.4-2.8 3.8-1.3 1.3-1.3 2.5-2.1 2.6-1.7 1.3-1.3 2.6-1.3 3.5-.7 1.6-3.1 1.3-1.3 1.3-2.6 2.6-1.3 1.2-2.5 2-1.7 .6-.9 2.6-2.6 1.3-2.5 2.5-2.6 1.3-2.6 1.7-1.3 2.1-1.2 2.6-2.6 2.6-1.3 2.7-2.4 2.4-.1 2.6-1.3 2.5-2.6 2.5 .2 2.7-1.5 2.5 0 1.3 0 3.5-2.2 2.9 2.2 2.6-1.3 2 1.6 1.9 2.3 0 2.6 2.5 2.5 .6 2.6 .7 2.6 0 2.5 0 2.6 1.3 3.8-1.3 3.9 1.8 2.1 .8 3 0 2.6-1.3 2.5 1.3 3.9 0 2.6 .4 2.9 .9 2.2-1.3 3.8-1.3 2.6 1.3 3.9-.8 2.5-.5 2.6-.7 4.9-1.9 2.8-1.3 1.3-3.1 .9-2 1.6-3.8 1.3-1.7 2.1-2.2 3.1-2.6 1.2-1.2 3.9-1.5 1.8-1.1 3.3-2.6 1.3-1.3 2.6-2.5 2.8-1.3 2.3-2.6 1.3-1.3 2.5-2.3 1.4-2.8 1.2-2.6 2.6-2.1 1.2-3 1.3-1.3 1.3-2.5 2.6-.7 2.3-1.9 1.5-2.6 2.6-2.5 1.3-.5 2.1-2.1 1.7-1.3 1.3-1.3 2.6-2.8 1.9-2.3 1.9-1.3 2.6-1.3 2.6-2.6 2.9-2.5 .9-1.3 2.6-1.3 1.3-2.4 2.7-1.4 2.4-2.6 1.3-2.5 2.6-1 1.2-2.9 1.3 0 3.9-1.3 2.5-2 2.3-1.8 4.1-2 2.2-1.9-3.4-1.3-1.3-1.8-4.1-.7-2.3-1.3-2.6-1.3-2.6-1.7-2.5-2.1-2.6-1.3-2.6-1.3-2.5-.3-2.3-1-2.9-1.3-1.2 1.3-3.9-1.3-2.6-1.5-1.9-1-1.9-1.3-3.9 0-1.2-1.4-3-2.5-.9-1.2 0-3.8-1.6-3.9 .3-3.9 0-2.2-.3-.4-2.2 1.3-3.9-1.3-2.6 1.3-2.5 0-1.3-1.3-3.9 1.3-2.5-1.3-2.6 0-1.3 0-3.8 1.3-3.9 0-1.2 0-2.6-1.3-3.9 1.3-2.5-1.3-2.6 0-2.6 1.3-2.5 0-2.6 0-2.6 0-2.5-1.3-2.6 1.3-2.6-1.3-3.8 0-1.3 0-3.8 1.3-2.6-1.3-1.3 0-3.8 0-1.3 0-3.9 0-2.5 1.3-3.9-1.3-2.5 1.3-1.3 0-2.6Z"/><path id="p3_13" d="M337.5 754l-.1-3.4-1.3-2.6-2.5-1.3-1.3-3.8 .2-2.9-1.5-2.3-1.3-2.5 0-2.6-2.2-2.6-.3-2.5 0-3.9-1.3-2.6 0-3.8-.9-2.2 .9-2.9 0-3.9 0-2.6-1.3-2.5 1.3-1.3-1.3-3.8 .4-3 .9-3.5 0-2.5 0-2.6-1.3-2.6 2.6-3.8-1.3-1.3 .3-3.7 2.2-2.7 0-1.3 1.3-2.6 2.8-2.2 2.4-1.6 2.5-1.3 2.6-.8 2.6 .8 1.2 1.3 3.9 0 2.3 1.6 2.8 2.2 2.6 2.6 2.1 1.5 1.7 2.4 2.6 1.2 1.3 2.6 1.9 1.3 1.9 2.6 1.3 1.2 2.6 2.6 1.3 2.6 2.9 1 .9 2.8 3.9 1.3 0 1.3 3.8 2.6 1.4 2 2.5 3.1 2.5 1.3 2.6 1.2 2.4 1.9 1.4 2 3.9 0 2.6 2.6 2.1 .4 3 .8 3.8 1.3 3.2 .4 2 .9 2.5 1.3 2.6 1.3 2.9 1.5 2.2 1 2.6 2.6 2.6 1.3 2.6 1.3 3.8 0 2.6 1.3 3.6 0 1.5-1.3 2.5-1.3 2.6-1.3 3.4-1.1 3-1.5 1.3 0 2.6-2.5 2.5-1.3 3.1-.2 2.1 .2 3.8-1.3 1.3 1.3 3.3-.2-.7 2.8 1.3 2.5-1.3 2.6 0 2.6 1.3 1.2-1.3 5.2 0 1.3 1.3 2.5 0 2.6 0 2.6 0 3.8-1.3 1.3 0 3.8 0 1.3 0 2.6 1.3 3.8-1.3 2.6 1.3 1.3-1.3 2.6 0 2.5 1.3 3.9 0 2.5 0 2.6-1.3 2.6 0 2.5 1.3 2.6 0 2.6-1.3 2.5 1.3 3.9-1.3 2.5 0 2.6 1.3 1.3 0 2.6 0 3.8-.6 1.8-3.3 .8-2.6-1.3-2.5 0-2.1 .5-1.8 2.1-1.3 1.2-2.5 3.9 0 1.3-1.3 2.5-2.6 1.3 0 2.6-2.5 1.3-1.3 3.8-1.7 1.2-2.2 1.4-1.3 2.5-1.2 2.6-2.8 1-2.4-2.3-3.8 1.3-3.8-1.5-3.9-1.1 0-1.2-3.9-1.3-2.2-1.4-2.9-1.2-3.8 0-3.3-1.3-3.2 0-3.8-2.5-3 0-2.1-1.3-2.6-2.6-2.6-2.5-2.7-1.1-2.4-1.5-2.6-2.6-2.5-2.5-2.5-.9-1.4-1.7-2.5-1.3-2.6-2.6-1.3-2.5-2.2-1.9-2.9-2 0-2.5-1.3-2.6-2.6-2.6-.7-2.8-1.8-2.3-1.3-3.9-2.6-2.5-1.8-1.3-2-2.6-1.3 0-2.6-3.8-1.6-1.1-2.2-1.5-2.6-2.5-1.3-1.3-1.4-2.2-2.4-1.7-2.6-3.8-1.3-1.3Z"/><path id="p3_14" d="M262.5 642.5l1.8-1 0-3.8 1.9-2.7 3.2 .1 1.8-2.6 2.1 2.6 1.3 2.6 1.6 2.3-.4 2.8 0 3.8 1.2 3.4-1.2 1.8 0 3.8-1.2 2.6-.8 1.8-1.8 2 0 3.9-2 1.6-1.9-2.9-1.2-1.3-1.9-3.3-.7-3.1-1.3-1.3-1.3-3.8 .3-1.8-.3-3.4Z"/><path id="p3_15" d="M320 671.2l3.8-1.2 .8 3.6-1.3 3.8 .5 2.6-3.3 1.2 .3-3.8 0-2.5Z"/><path id="p3_16" d="M35 700l3.8 0 1 1.8 3.8 2.6 1.3 1.2 2.6 1.9 1.3-3.1 0-1.3 1.2-3.9 0-2.5 1.3-1.3 0-3.9 1.2-1.5 1.4 2.8 2.6 2.6 0 2.6 1 2 .2 1.8 2.6 2.6 0 3.8 1.3 2.6 .9 1.7 1.6 2.1 1.3 3.9 0 2.5 2.6 1.3 .8 2.7 1.8 1.2 3.2 3.8 3.2 0 2.5-1.3 3-1.2 2.2 2.5 2.5 1.3 2.8 1.2 2.4-2.5 3.8-1.3 1.3-1.2 2.5-2.5 2.6-2.7 2.6 0 2.6-2.5 2.2-2.3 2.9-1.6 1.3-2.6 2.6-2.5 2.5-1.3 .7-2 1.9-1.9 1.3-3.8 2.5-2.6 1.8-1.7 2.1-2.1 1.3-2.6 1.2-1.3 2.9-1.5 2.3-1 2.5 0 2.6-1.3 2.6-1.5 2.5-1.1 2.6-1.3 2.6-1.2 2.3-.1 2.8 1.3 2.6 1.3 2.1 2.4 4.3-1.1 2-2.6 .6 2.6 0 2.6 0 3.8 0 2.6 0 2.6 .6 2 .6 3.1-2.5 2.5 1.3 3.9-1.3 2.6-.6 2.9-2 3.5 0 1.3-2.6 2.5-1.7 2.7-2.1 2.5-2.6 2.5-1.3 0-2.7 2.5-1.1 2.7 0 3.8-1.4 3.5-1.2 4.2 0 2.6-2.5 2.5-1.3 2.2-1.3 3 1.3 2.5-2.6 1.3 1.3 3.9-1.2 2.8-3.9 1-1.3 2.6-2.3 1.4-2.9 1.1-2.5 2.6-2.6 0-2 1.3-.5 2.6-3.9 1.2-1.3 3.9-1.8 2.3-2 1.5-2.6 2.6-1.3 2.6-1.6 .8-2.2 1.7-2.6 2.6-1.3 1.3-1.4 1.9-2.4 1.9-1.3 1.3-2.6 1.3-1.2 3-1.3 .9-2.6 3.8-2.6 1.3-1 1.5-1.5 3.6-3.9 1.3-.9 2.6-1.7 2.5-2.5 2.6-2 2.4-.6-3.7-2.6-2.5-.6-1.3-.6-2.6 0-3.8-1.3-1.3-1.3-2.6-.5-2.2-.8-2.9 0-2.6-2.6-1.3 0-2.5-1.6-3.2-.9-3.3-1.3-2.5 1.3-2.6-2.6-1.3-.2-2.8-2.3-2.3-1.3-2.6-1.4-2.6-1.2 2.6-2.6 0-2.5 2.6-2.5 2.3-3.9 1.5-2.6-1.2-3.5 1-.4-2.3 0-3.9 0-1.3 0-3.8 0-1.3 0-2.6 1.3-2.5-1.3-2.6 1.3-2.5-1.3-3.9 0-2.6 0-2.5 0-2.6 0-1.3 0-3.8 1.3-2.6-1.3-1.3 0-3.8 1.3-1.3 0-5.1-1.3-1.3 1.3-2.6-1.3-2.6 1.3-2.5-1.3-2.6 0-2.6 0-3.8 1.3-1.3 0-2.6-1.3-2.5 0-2.6 0-2.6 1.3-3.8Z"/><path id="p3_17" d="M357.5 750l-.8-2-2.6-3.9 0-1.2-1.6-2.9-2.2-2.3 0-2.5-2.6-1.3-.2-3.9 .2-3.8 0-2.6-1.3-2.6-1.4-3.5-2.4-1.6-2.6-1.3 0-3.8-2.5-.8-.1-3.1-2.5-2.5 .1-4.4 1.1-3.3 0-1.3 0-3.9 .1-2.7 2.5-1.1 3.9 0 2.4-1.5 2.7 .2 3.5 1.1 4.2-2.4 2.1-1.3 .5 2.6 2.5 2.6 2 3.5 1.9 2.9 2.5 0 3.1 2.1 2.1 1.7 2.5 1.3 2.9 2-.3 3.1 2.6 2.6 0 2.6 1.4 1.7 3.7 .8 2.6 1.3 2.5 1.6 1.3 2.3 2.6 1.3 1.3 3.8 2.3 1.4 2.8 2.5 1.3 1.2 1.3 2.6 2.1 2.5 3-1.2 3.8 0 3.2-.1 3.3-1.2 3.8-1.3 2.9 0 2.2 0 3.9 2.6 2.6 0 1.3 2.4 3.8 1.4 2.6-1.2 3.6 1 2.8 .2 1.2-2.5 3.9-1.3 2.1-1.4 1.7-1.2 2.6-1.3 2.6-1.2 3.8 0 1.8-2 3.4-.6 1.2 0 3.9 1.3 2-.7-.7 2 1.3 2.5 0 2.6 0 2.6 0 3.8 0 2.6 0 2.5 0 2.6-1.3 2.6 1.3 2.5 0 1.3 0 3.9-1.3 3.8 1.3 1.3 0 2.6-1.3 2.5 0 2.6 1.3 3.8 0 2.6 0 2.6-1.3 2.5 0 1.3 1.3 3.9-1.3 2.5 1.3 3.9-1.3 2.6 1.3 1.2 0 3.9 0 2.6-.6 1.8-3.3-.6-1.3 1.3-3.8-1.3-2.1 .6-1.8 3.3-2.5 1.3-1.3 2.5-1.3 2.6-1.3 2.6-1.8 2.7-2 2.4-1.3 1.3-2.6 2.6-1.6 1.2-2.2 1.3-2.6 2.6-2.7 1.1-2.4-1.1-3.9-1.3-1.3-2.6-2.4 0-2.7-1.2-2.6-2.6-1.2-1.3-3.5-2.4-3-.2-3.8-1.2-3.2-1.1-1.9-.2-3.9-2.6-1.7-2.2-2.1-1.6-1.3-2.6-2.6-1.3-1.3-2.6-2.7-1.9-2.4-1.9-1.3-2.6-1.3-3.8-2.5-1.7-1.3-2.2-1.3-3.8-1.3-1.3-2.5-2.6-1.1-2.6-1.5-3.8-1.3-1.3 0-2.5-2.2-2.4-1.6-1.5-1.3-2.5-1.3-3.9-.8-2.1-1.8-1.7-2.5-2.6-3.2-.7-3.3-1.9Z"/><path id="p3_18" d="M67.5 765l.5-1.6 2.6-3.9 1.9-2 1.9-1.8 2.6-2.6 2.5-1.3 3-1.8 3.5 1.8 2.5-1.2 4 .6 3.7-.6 3.8-.6 2.6 .6 2.4 1.9 1.5-1.9 0-3.9 0-2.6 1.3-3.8 0-1.3 1.3-3.8 1.2-2.6-.3-2.6 1.6-2.5 2.6-2.6 0-2.6 1.3-2.5 2-2.3 .5-2.9 1.3-2.5 2.6-2.6 0-2.6 0-2.5 2.6-2.6 .5-1.8 2-.8 3.9-1.2 1.6-3 3.5 .4 2.6 0 3.9 .8 2.5 3 1.3 1.3 1.2 2 0 3.1-1.2 3.9-1.3 2.6 1.3 2.5-1.3 2.9 0 3.5-1.3 2.6 0 2.6-1.3 2.5 .1 3.8-1.4 2.7-1.3 1.2-2.5 1.3-2.3 2.3-2.9 1.6-2.1 .9-.4 1.6-1.3 3.9 0 2.6-1.3 2.5-1.3 2.6-.7 1.8-1.8 3.3-2.6 1.3-1.3 1.3-1.8 2.8-3.3 1-1.3 1.3-2.9 1.5-.9 2.4-2.6 2.5-2.6 2.6-1.4 2.5-1.1 2.6-1.3 3.9-.1 3.5-1.2 1.6-5.1 0-1.2 .9-2.7-.9-1.3-1.3-3.5-.3-1.6 2.9 0 2.6-2.2 2-1.7 3.1 0 1.3-1.2 2.5 0 3.9-.8 1.7-1.8 3.4 0 1.3 0 2.6-1.9 2.7-.7-1.4-1.3-2.6-1.2-2.6-.6-3.4 .6-1.7-1.3-3.9 0-2.5 0-3.9-1.3-2.5-1.3-1.3 .8-4.2 .5-3.5-1.3-2.6 1.3-1.3 0-3.8-1.3-2.6 1.3-3.8 0-1.3-1.3-2.6Z"/><path id="p3_19" d="M35 710l3.5 .8 1.3 1.3 2.7 .4 1.1 2.1 2.6 2.6 1.3 0 2.5 2.8 0-2.8 1.3-2.6 1.3-1.3 0-3.8 1.2-2 1.4-4.4 0-1.3 0-2.6 1-4.2 .3 3 0 2.5 1.2 2.6 0 2.5 1.3 3.9-.2 3 1.5 2.1-1.3 3.9 2.6 2.5 0 2.6 0 2.6 1.3 2.5-.4 3.8 .4 2.7 0 2.5 2.5 2.6 .8 2.2 .5 2.9-1.3 3.9 0 1.3 0 2.5-.4 4.4-.9 3.3 0 2.6-1.6 4.1-.9 2.3 0 2.6-1.3 2.5-1.5 2.6-1.1 1.3-3.8 3.8-1.4 2.4-2.5 1.5-5-.3-3.9 .3-2.6 0-3.5 1 .9-2.3 0-3.9-1.3-1.2 1.3-3.9-1.3-2.6 0-1.2 1.3-3.9 0-2.5 0-2.6-1.3-1.3 0-3.8 1.3-2.6-1.3-2.6 0-3.8 0-1.3 1.3-2.6 0-2.5 0-3.9-1.3-2.6 1.3-2.5-1.3-2.6 1.3-2.6-1.3-3.8 1.3-1.3-1.3-2.6 0-2.5 1.3-3.9-1.3-2.5Z"/><path id="p3_20" d="M393.8 760l2.6-3 1.3-1.3 2.3-1.9 4.1-.7 1.3 0 4.6-1.9 3.1-.6 3.9 0 3-.6 2.1-2 2.6 0 2.5-1.3 2.8-1.7 2.4 .4 3.8 1.3 3.8 .8 2.6-.8 1.3-2.6 2.6 0 3.5-1.6 1.6-.9 3.9-2.6 2-1.5 3.1-1.1 2.6-1.2 1.2-1.3 3.1-2.1 .8 2.1-1.3 3.8 1.3 1.3-1.3 3.9 0 1.2 0 3.9 0 2.6 1.3 1.2 0 3.9-1.3 2.6 1.3 2.5-1.3 2.6 1.3 2.6 0 2.5-1.3 3.9 0 1.2 1.3 2.6-1.3 3.9 0 1.2 1.3 3.9-1.3 2.6 0 2.5 0 3.9 0 2.5 1.3 1.3-.8 3.2-1.8 3.2-1.3 1.3-2.5 2.6-1.3 1.3 0 3.8-1.8 1.6-2.1 2.3-2.5 3.8-1.7 1.4-2.2 1.2-2.5 1.3-2.8 2.5-2.4-1.2-2.5-1.3-2.6-2.6-2.5 .1-2.6-2.7-1.3 0-1.3-2.5-2.3-2.3-1.5-2.9-2.6-2.5-1.3-1.3-2.1-3.3-.5-3.1-1.2-2.6-1.3-1.3-2-3-1.9-.8-2.5-1.3-3.1-.4-.8-2.2-1.3-3.8-1.3-1.3-1.2-2.6-1.7-2.6-.9-1.2-1.3-3.9-1.3-2.5-1.5-2.4-1-2.8-1.3-3.8Z"/><path id="p3_21" d="M35 720l3.8 0 2.3-.2 2.5 2.5 2.6 .2 1.3 3.7-1.3 2.5 1.3 1.3 1.3 3.9 0 3.8 0 2.3 0 2.9 0 3.8 1.2 1.3 0 2.6-1.2 3.8 0 2.6 0 3.8 1.2 1.3 0 2.9-1.2 3.5 1.2 2.6-1.2 2.5-1.3 3.9 1.3 2.6-1.3 2.4-2.6 1.4-3.8 2.6-2.3 1-3.8 0-.4-2.3 0-3.9 0-1.2 0-2.6 1.3-3.9-1.3-2.5 0-2.6 0-1.3 1.3-5.1-1.3-1.3 0-3.8 1.3-1.3-1.3-3.9 0-2.5 0-1.3 0-3.9 1.3-2.5-1.3-2.6 1.3-2.6-1.3-2.5 0-2.6 1.3-2.6-1.3-2.5 0-3.9Z"/><path id="p3_22" d="M425 762.5l2.2-.4 3.9-2.6 1.4-2 3.7-.5 2.6 0 3.7-.8 2.7-3.1 2.6-1.3 2.2-1.8 2.9-.7 2.6-1.3 2-3 1.8-.9 3.9-2.5 1.2 1.3 3.1-2.4-.5 3.6 0 2.6 1.3 2.6-1.3 1.3 0 2.5 1.3 2.6 0 2.6 0 3.8-1.3 2.6 0 2.5 0 2.6 0 2.6 1.3 1.2-1.3 3.9 0 2.6 0 2.5 1.3 2.6-1.3 2.6 0 3.8 0 1.3 .5 3.3-.5 3.1-2.6 2.6-1.2 1.3-1.3 2.5-1.3 1.3-1.3 2.6-1.8 2.9-2 2.2-3.9 2.6-1.6 1.5-3.5-.2-4-1.1-1.1-1.5-1.3-2.6-3.9-1.3-1.2-2.1-1.3-3-2.6-1.3-1.1-3.2-.2-3.2-1.3-2.6-2.5-1.2-1-3 1-3.5-2.6-2.5 1.3-2.6-1.3-3.8 .4-2.6-.4-3.9 1.3-2.5 0-2.6 0-3.8Z"/><path id="p3_23" d="M35 728.8l3.8 0 2.3 2.5 2.7 1.2-.2 2.7 1.3 3.8 0 2.6 0 2.5 1.3 3.9 0 1.3 0 3.2 1.3 1.9-2.6 3.9 1.3 2.5-1.3 2.6 1.3 3.8-1.3 1.3 0 2.6 .1 3.9-2.7 1.2-1.2 2.6-2.3 1.2-3.8 0 .9-2.5-1.3-2.6 1.3-3.8-1.3-1.3 0-2.6 0-3.8 1.3-2.6 0-1.3 0-2.5 0-5.2-1.3-2.5 0-1.3 0-2.6 1.3-2.5-1.3-2.6 0-3.9 1.3-2.5 0-2.6Z"/><path id="p3_24" d="M428.8 785l1-2.4 1.3-1.3 0-3.8 1.4-2.5 1.2-2.6 2.5-1.3 2.6-1.3 1.2-2.3 1.4-1.5 2.5-1.3 1.3-2.6 2.3-2.1 2.8-1.7 1.3-1.3 3.4-2 3-1.9 1.3-1.3 2.6-2.5 2.5-1.3 3.1-1.5-.5 2.8 0 2.5 0 2.6 0 2.6 1.3 3.8-1.3 2.6 0 2.6 1.3 2.5-1.3 1.3 0 2.6 1.3 2.5 0 2.6-1.3 3.8 0 1.3 0 2.6 1.3 2.6-.8 3.4-1.8 1.7-2.5 3.8-1.3 2.6-1.3 1.3-2.6 1.3 0 2.5-3 3.1-2.1 2.1-2.6 1.3-2.8 1.6-2.3-1.6-1.3-1.3-1.3-2.6-2.6-2-1.2-3.1-2.6-1.3-1.3-3.9-1.1-1.7-.1-3.4-1.3-1.3-2.6-2.5Z"/><path id="p3_25" d="M35 745l3.8 0 2.3 3 1.4 2-.2 3.1 1.3 3.9 0 2.5 .2 3-.2 2.2 0 3.8-1.6 4-3.2 2.5-3.8 0 .9-3.9-1.3-1.3 0-2.6 1.3-2.5-1.3-3.9 0-1.3 1.3-3.8 0-2.6-1.3-2.5 0-2.6Z"/><path id="p3_26" d="M440 787.5l.1-2.3 2.5-2.6 1.3-2.5-.1-2.6 2.7-2.6 1.3-2.5 2.2-2.4 2.9-2.8 0-1.2 2.6-1.3 2-2.2 3.1-1.7 1.3-1.3 1.3-2.5 2.5-1.3 1.8-1.9-.5 1.9 0 3.8 1.3 2.6-1.3 2.6 0 2.5 1.3 3.9-1.3 2.5 0 2.6 0 2.6 0 2.5 0 3.9 .5 2.3-1.8 2.8-1.3 1.3-2.5 2.6-1.3 1.3-1.3 2.5-1.8 2-2 1.9-4.3 .6-.9-1.9-2.5-1.3-2.8-1.8-2.4-3.3 0-1.3-1.2-3.9Z"/><path id="p3_27" d="M35 756.2l3.8 0-.3 3.3 2 1.7-.7 3.5-1 1.5-3.8 0 .9-4.1-1.3-2.6Z"/><path id="p3_28" d="M458.8 788.8l1.8-2.3 2.6-1.3 2.5-2.6 1.8-.6 .8 1.9 0 2.6 0 2.5-1.3 3.9 .5 2.1-1.8-2.1-3.8 0-1.3-1.3Z"/><path id="p3_29" d="M446.2 789.5l1.6-3 1.7-1.5 2.1 2.8 .9 1.7-.9 .8-2.1 3.5-1.7-2.2Z"/></defs>
<clipPath id="c3"><path d="M38.8 483l426.6 0 0 423.5-426.6 0Z"/></clipPath>
<g clip-path="url(#c3)">
<path d="M25 470l453 0 0 448-453 0Z" fill="#00009c"/>
<use href="#p3_1" fill="#0000d4"/>
<use href="#p3_2" fill="#00009c"/>
<use href="#p3_3" fill="#00009c"/>
<use href="#p3_4" fill="#00009c"/>
<use href="#p3_5" fill="#0022ff"/>
<use href="#p3_6" fill="#0070ff"/>
<use href="#p3_7" fill="#0070ff"/>
<use href="#p3_8" fill="#00b0ff"/>
<use href="#p3_9" fill="#00b0ff"/>
<use href="#p3_10" fill="#00ffff"/>
<use href="#p3_11" fill="#00ffff"/>
<use href="#p3_12" fill="#ffffe2"/>
<use href="#p3_13" fill="#ffffe2"/>
<use href="#p3_14" fill="#ffffe2"/>
<use href="#p3_15" fill="#ffffe2"/>
<use href="#p3_16" fill="#ffffc4"/>
<use href="#p3_17" fill="#ffffc4"/>
<use href="#p3_18" fill="#ffff98"/>
<use href="#p3_19" fill="#ffff98"/>
<use href="#p3_20" fill="#ffff98"/>
<use href="#p3_21" fill="#fff200"/>
<use href="#p3_22" fill="#fff200"/>
<use href="#p3_23" fill="#ffb000"/>
<use href="#p3_24" fill="#ffb000"/>
<use href="#p3_25" fill="#ff7000"/>
<use href="#p3_26" fill="#ff7000"/>
<use href="#p3_27" fill="#ff3000"/>
<use href="#p3_28" fill="#ff3000"/>
<use href="#p3_29" fill="#ffb000"/>
<rect x="29.5" y="483" width="435.9" height="438.7" fill="url(#tex)"/>
<path d="M29.5 554.7H465.4M29.5 583.9H465.4M29.5 700.9H465.4M29.5 847.1H465.4M29.5 876.3H465.4" stroke="#fff" stroke-opacity=".3" stroke-width="1" fill="none"/>
<g fill="none" stroke="#000" stroke-width="1.7" stroke-linejoin="round"><use href="#p3_1"/><use href="#p3_2"/><use href="#p3_3"/><use href="#p3_4"/><use href="#p3_5"/><use href="#p3_6"/><use href="#p3_7"/><use href="#p3_8"/><use href="#p3_9"/><use href="#p3_10"/><use href="#p3_11"/><use href="#p3_12"/><use href="#p3_13"/><use href="#p3_14"/><use href="#p3_15"/><use href="#p3_16"/><use href="#p3_17"/><use href="#p3_18"/><use href="#p3_19"/><use href="#p3_20"/><use href="#p3_21"/><use href="#p3_22"/><use href="#p3_23"/><use href="#p3_24"/><use href="#p3_25"/><use href="#p3_26"/><use href="#p3_27"/><use href="#p3_28"/><use href="#p3_29"/><path d="M295.2 643l-.1 2.3 0 2.6 0 2.6 0 3.8 0 2.6 0 2.6-1.3 2.5 2.6 2.6-1.3 1.3 1.3 5.1-1.3 1.3 .1 2.7"/></g>
<g class="cl"><text transform="translate(212 544) rotate(-50)" text-anchor="middle" dy="2.9">0.02</text><text transform="translate(214.4 595) rotate(-70)" text-anchor="middle" dy="2.9">0.04</text><text transform="translate(221 612.5) rotate(-65)" text-anchor="middle" dy="2.9">0.06</text><text transform="translate(203.4 696) rotate(40)" text-anchor="middle" dy="2.9">0.08</text><text transform="translate(192.4 705) rotate(30)" text-anchor="middle" dy="2.9">0.1</text><text transform="translate(170 707) rotate(0)" text-anchor="middle" dy="2.9">0.14</text><text transform="translate(175 725) rotate(-60)" text-anchor="middle" dy="2.9">0.12</text><text transform="translate(69 729) rotate(-20)" text-anchor="middle" dy="2.9">0.16</text><text transform="translate(106.5 769) rotate(-45)" text-anchor="middle" dy="2.9">0.16</text><text transform="translate(267 659) rotate(-60)" text-anchor="middle" dy="2.9">0.12</text><text transform="translate(296 673) rotate(0)" text-anchor="middle" dy="2.9">0.1</text><text transform="translate(265 698.5) rotate(20)" text-anchor="middle" dy="2.9">0.1</text><text transform="translate(278 742.5) rotate(-30)" text-anchor="middle" dy="2.9">0.08</text><text transform="translate(278 783) rotate(0)" text-anchor="middle" dy="2.9">0.06</text><text transform="translate(373 696) rotate(30)" text-anchor="middle" dy="2.9">0.14</text><text transform="translate(351 758) rotate(65)" text-anchor="middle" dy="2.9">0.12</text><text transform="translate(379.6 667.6) rotate(45)" text-anchor="middle" dy="2.9">0.08</text><text transform="translate(366.4 866) rotate(60)" text-anchor="middle" dy="2.9">0.04</text><text transform="translate(124 817) rotate(-40)" text-anchor="middle" dy="2.9">0.08</text><text transform="translate(115 844) rotate(-60)" text-anchor="middle" dy="2.9">0.06</text><text transform="translate(47 793) rotate(-60)" text-anchor="middle" dy="2.9">0.14</text><text transform="translate(58 824) rotate(60)" text-anchor="middle" dy="2.9">0.1</text><text transform="translate(420 652) rotate(30)" text-anchor="middle" dy="2.9">0.02</text><text transform="translate(432 685) rotate(20)" text-anchor="middle" dy="2.9">0.06</text></g>

</g>
<path d="M29.5 483H465.4V921.7H29.5ZM29.5 483v-4.6M29.5 921.7v3.4M41.5 483v-7.3M41.5 921.7v5.4M54.3 483v-4.6M54.3 921.7v3.4M67.2 483v-7.3M67.2 921.7v5.4M80 483v-4.6M80 921.7v3.4M92.8 483v-7.3M92.8 921.7v5.4M105.6 483v-4.6M105.6 921.7v3.4M118.5 483v-7.3M118.5 921.7v5.4M131.3 483v-4.6M131.3 921.7v3.4M144.1 483v-7.3M144.1 921.7v5.4M157 483v-4.6M157 921.7v3.4M169.8 483v-7.3M169.8 921.7v5.4M182.6 483v-4.6M182.6 921.7v3.4M195.5 483v-7.3M195.5 921.7v5.4M208.3 483v-4.6M208.3 921.7v3.4M221.1 483v-7.3M221.1 921.7v5.4M233.9 483v-4.6M233.9 921.7v3.4M246.8 483v-7.3M246.8 921.7v5.4M259.6 483v-4.6M259.6 921.7v3.4M272.4 483v-7.3M272.4 921.7v5.4M285.3 483v-4.6M285.3 921.7v3.4M298.1 483v-7.3M298.1 921.7v5.4M310.9 483v-4.6M310.9 921.7v3.4M323.8 483v-7.3M323.8 921.7v5.4M336.6 483v-4.6M336.6 921.7v3.4M349.4 483v-7.3M349.4 921.7v5.4M362.2 483v-4.6M362.2 921.7v3.4M375.1 483v-7.3M375.1 921.7v5.4M387.9 483v-4.6M387.9 921.7v3.4M400.7 483v-7.3M400.7 921.7v5.4M413.6 483v-4.6M413.6 921.7v3.4M426.4 483v-7.3M426.4 921.7v5.4M439.2 483v-4.6M439.2 921.7v3.4M452.1 483v-7.3M452.1 921.7v5.4M465.4 483v-4.6M465.4 921.7v3.4M29.5 921.7h-7M465.4 921.7h5.6M29.5 892.4h-7M465.4 892.4h5.6M29.5 863.2h-7M465.4 863.2h5.6M29.5 833.9h-7M465.4 833.9h5.6M29.5 804.7h-7M465.4 804.7h5.6M29.5 775.5h-7M465.4 775.5h5.6M29.5 746.2h-7M465.4 746.2h5.6M29.5 717h-7M465.4 717h5.6M29.5 687.7h-7M465.4 687.7h5.6M29.5 658.5h-7M465.4 658.5h5.6M29.5 629.2h-7M465.4 629.2h5.6M29.5 600h-7M465.4 600h5.6M29.5 570.7h-7M465.4 570.7h5.6M29.5 541.5h-7M465.4 541.5h5.6M29.5 512.2h-7M465.4 512.2h5.6M29.5 483h-7M465.4 483h5.6" fill="none" stroke="#000" stroke-width="1.4"/>
<g class="tk"><text x="17.2" y="924.4" text-anchor="end">1</text><text x="17.2" y="895.1" text-anchor="end">2</text><text x="17.2" y="865.9" text-anchor="end">3</text><text x="17.2" y="836.6" text-anchor="end">4</text><text x="17.2" y="807.4" text-anchor="end">5</text><text x="17.2" y="778.2" text-anchor="end">6</text><text x="17.2" y="748.9" text-anchor="end">7</text><text x="17.2" y="719.7" text-anchor="end">8</text><text x="17.2" y="690.4" text-anchor="end">9</text><text x="17.2" y="661.2" text-anchor="end">10</text><text x="17.2" y="631.9" text-anchor="end">11</text><text x="17.2" y="602.7" text-anchor="end">12</text><text x="17.2" y="573.4" text-anchor="end">13</text><text x="17.2" y="544.2" text-anchor="end">14</text><text x="17.2" y="514.9" text-anchor="end">15</text><text x="17.2" y="485.7" text-anchor="end">16</text><text x="41.5" y="939.7" text-anchor="middle">−80</text><text x="67.2" y="939.7" text-anchor="middle">−70</text><text x="92.8" y="939.7" text-anchor="middle">−60</text><text x="118.5" y="939.7" text-anchor="middle">−50</text><text x="144.1" y="939.7" text-anchor="middle">−40</text><text x="169.8" y="939.7" text-anchor="middle">−30</text><text x="195.5" y="939.7" text-anchor="middle">−20</text><text x="221.1" y="939.7" text-anchor="middle">−10</text><text x="246.8" y="939.7" text-anchor="middle">0</text><text x="272.4" y="939.7" text-anchor="middle">10</text><text x="298.1" y="939.7" text-anchor="middle">20</text><text x="323.8" y="939.7" text-anchor="middle">30</text><text x="349.4" y="939.7" text-anchor="middle">40</text><text x="375.1" y="939.7" text-anchor="middle">50</text><text x="400.7" y="939.7" text-anchor="middle">60</text><text x="426.4" y="939.7" text-anchor="middle">70</text><text x="452.1" y="939.7" text-anchor="middle">80</text></g>
</g>
<g id="panel4">
<defs><path id="p4_1" d="M570 621.2l3.5 1.1 1.3-1.3 2.5 0 2.6 0 3.1 .2 3.3 1.1 2.6 2.5 1.1 2.7 2.7 2.5 2.3 2.5 2.9 0 1.3-2.5 3.3 0 .5 2.5 1.3 3.9 2.6 1.3 .6 2.3 .6 2.8 1.3 2.5 1.3 1.3 0 3.9 0 2.5 1.8 2 .8 3.2 1.3 2.5 0 2.6 1.2 2.6 1.3 1.3 .4 2.8 2.2 2.3 2.6 0 1.5 2.7 2.3-2.7 1.3-1.3 3.8-1 0-1.6 1.3-2.5 2.6-3.9 0-2.5 2.6-1.3-.2-3.2 1.4-3.2 1.3-1.3 2.6-1.3 2.2-1.7 1.6-.9 3.9-1.3 2.5-2.5 2-.3 3.2-3.6 0-1.2 2.5-3.9 1.8-1.3 2.1-2.5 0-2.6 1.3-2.6 2.5-2.5 1.6-2.3 1-1.6 2.6-1.3 1.3-3.8 3.8-1.3 1.3-2 1.3-1.9 1.3-2.5 2.5-1.3 1.3-2.6 1.3-2.5 2.3-1.7 2.8-2.2 0-2.6 2.6-2.5 2.6-2.6 0-2.6 2-2.5 .5-2.6 2.6-1.3 0-3.8 2.5-2.6 1.9-2.2 2-.3 3-2.2 2.1 3.4 2.9 1.6 2.3-1.6 1.2-1.2 2.6-3.9 1.4-.8 2.5-1.8 2.5-2.5 2.5-1.9 2.7 1.9 2.3 1.8 2.8-3.1 1.3-2.6 2.2-1.8 1.6-2 2.6-2.6 2-2.9 3.1-.9 2.6-2.6 2.6-1.3 1.7-2.7 2.1-1.1 2.6-1.3 2.5 0 2.8-1.4 3.6-1.2 2.6 0 3.8-1.2 3.9-.1 2.6-1.3 3.5 .1 4.2 1.2 2.5 0 3.3 1.3 2-1.2 3.7-1.4 1.3-1.2 2.6-1.3 3.6-1.1 4.1-.2 2.5 1.3 2.2 .1 3 2.4 2.5 1.3 3.3 1.3 1.9 1.3 2.5 2.6 2.6 2.5 1.7 2.4 .9 1.5 3.8 2.5 1.3 2.6 2.7 2.1 3.7 .5 3.9-1.8 1.2 3.1 1.3 1.2 1.3 2.6 2.4 1.9 2.7 .7 3.9 0 3.4 .5 1.7 3.3 2.6 1.3 1.3 1.3 1.9 2.9 1.9 .9 3.9 1.3 1.3 1.3 2.9 2.7 2.2 2.4 1.3 1.3 1.3 3.9 2.7 1.2 1.1 2.6 1.3 2.6 2.5 1.3 1.3 2.5 1.3 2.2 2.6 3 0 1.2 1.3 2.6 2.5 2.6 1.1 1.9 1.5 3.2 2.6 1.3 1.2 2.6 2.2 1.6 4.3 .9 1.2 0 4.5 1.7 2 .9 2.5 2.6 3 1.5 2.2 2.3 1.2 2.6 1.6 1.3 2.3 0 3.8-2.6 1.4 .1 2.5-1.4 2.6 0 2.4-1.1 1.4 2.4 3.8 1.3 2.3 1.3 1.6 2.5 2.6 2.6 1.2 1.3 2.1 3.6 1.8 1.5 1.3 2.6 1.3 1.2 3.1 2.2 2 3 2.6 1.3 1.2 1.2 1.7 2 2.2-.7 2.6-1.3 2.7-1.8 2.4-2 2.6-1.3 2.5-.4 2.6-.9 2.6-1.3 1.2 0 3.6-2.3 4.1 1.1 3.9 0 2-1.1-.7 2.3 0 2.6 1.3 3.9 0 2.5 0 2.6 0 2.6 0 1.2 0 2.6 0 3.9 0 1.2-1.3 2.6 1.3 3.9 0 2.5 0 2.6 0 2.6 0 2.5-1.3 2.6 1.3 2.6-1.3 3.8 1.3 1.3-1.3 1.3 1.3 3.8 0 2.6 0 2.5 0 2.6 0 2.6-1.3 2.5 0 3.9 1.3 1.3 0 3.8-1.3 2.6 0 1.3 0 2.5 1.3 3.9-1.3 2.6 1.3 1.2-1.3 3.9 1.3 2.6-1.3 2.5 0 1.3 0 3.9 0 2.5 1.3 1.3-1.3 2.6 1.3 5.1-1.3 1.3 0 2.6 0 2.5 1.3 2.6 0 3.8 0 1.3-1.3 2.6 1.3 2.5 0 2.6 0 3.9 0 1.2 0 2.6 0 3.9-1.3 2.5 1.3 1.3 0 2.6-1.3 2.5 0 3.9 0 2.6 0 2.5 0 2.6 1.3 1.3-1.3 3.8 0 2.6 1.3 2.6 0 3.8 0 1.3 0 2.5 0 2.6 0 2.6-1.3 2.5 0 2.6 0 2.6 1.3 3.8 0 2.6-1.3 2.6 0 2.5 1.3 1.3-1.3 3.9 0 2.5 1.3 2.6 0 1.3 0 3.8-1.3 2.6 1.3 2.6-1.3 2.5 1.3 2.6 0 2.6-1.3 3.8 1.3 1.3 0 2.6-1.3 3.8 0 2.6 1.3 2.5-1.3 2.6 0 2.6 0 1.2 1.3 2.6 0 2.6-.6 3.2-3.3-.7-2.6 1.3-2.5 0-2.6 0-2.6 0-2.5 0-2.6-1.3-1.3 0-2.5 0-3.9 0-2.6 1.3-1.2 0-3.9-1.3-3.8 0-1.3 0-2.6 1.3-3.8 0-1.3 0-2.6 0-2.6-1.3-2.5 1.3-3.9 0-2.5 0-1.3 0-3.9-1.3-1.2 0-3.9 0-1.3 0-2.5 1.3-3.9-1.3-1.3 1.3-3.8 0-2.6-1.3-2.6 1.3-2.5-1.3-1.3 0-3.9 0-2.5 0-2.6 0-2.6 0-2.5 1.3-2.6-1.3-2.6 0-2.5 0-3.9 1.3-1.3 0-3.8-1.3-1.3 1.3-2.5 0-3.9-1.3-2.6 1.3-1.2-1.3-3.9 1.3-1.3 0-3.8-1.3-2.6 0-1.3 0-3.8 0-2.6 1.3-1.3-1.3-3.8 1.3-2.6 0-1.3-1.3-3.8 1.3-2.6-1.3-2.6 1.3-2.5-1.3-2.6 0-2.6 0-2.5 1.3-2.6 0-3.8-1.3-1.3 1.3-3.9 0-3.8-1.3-3.9 0-1.2 0-3.9 1.3-1.3-1.3-2.5 1.3-2.6 0-2.6-1.3-3.8 1.3-2.6-1.3-1.3 1.3-3.8 0-2.6 0-1.3-1.3-3.8 1.3-2.6 0-1.3 0-3.8 0-2.6-1.3-2.6 0-2.5 1.3-2.6 0-2.5 0-2.6 0-2.6 0-2.5 0-2.6-1.3-2.6 0-3.8 1.3-2.6 0-1.3 0-2.5 0-3.9-1.3-1.3 1.3-3.8 0-1.3 0-2.6-1.3-3.8 0-2.6 1.3-2.6 0-2.5-1.3-2.6 0-1.3 1.3-3.8 0-2.6 0-2.6-1.3-3.8 1.3-2.6 0-2.5 0-2.6 0-1.3-1.3-3.8 1.3-1.3 0-2.6 0-2.5 0-3.9-1.3-1.3 1.3-2.5 0-3.9-1.3-2.6 1.3-2.5 0-1.3-1.3-2.6 1.3-3.8-1.3-2.6 0-2.6 1.3-1.2-1.3-3.9 0-2.6 0-2.5 0-1.3 1.3-2.6 0-3.8-1.3-2.6 1.3-2.5 0-2.6-1.3-2.6 0-2.5 1.3-3.9-1.3-1.3 0-3.8 1.3-1.3-1.3-2.6 0-3.8 1.3-1.3-1.3-2.6 1.3-3.8 0-1.3-1.3-3.9 0-1.2 1.3-3.9 0-1.3-1.3-3.8 1.3-1.3-1.3-2.6 1.3-2.5-1.3-3.9 0-2.2 .7 .9-3.2-1.2-1.3 0-2.6 0-2.5 1.2-3.9-1.2-2.6 1.2-2.5-1.2-2.6 1.2-1.3-1.2-3.8 0-2.6 0-2.5 0-3.9 1.2-1.3 0-1.3-1.2-3.8 0-2.6 0-2.5 1.2-3.9-1.2-1.3 1.2-3.8-1.2-2.6 0-2.6 1.2-1.2 0-3.9-1.2-2.6 0-1.2 1.2-2.6-1.2-2.6 1.2-2.5-1.2-2.6 0-2.6 1.2-3.8-1.2-1.3 0-2.6 0-3.8 0-2.6 0-2.5 0-1.3 1.2-2.6 0-3.8-1.2-2.6 1.2-2.6-1.2-2.5 1.2-2.6-1.2-2.6 0-2.5 0-1.3 0-3.9 0-2.5 1.2-1.3-1.2-2.6 0-3.8 0-2.6 0-2.6 0-2.5 0-2.6 0-2.6 0-2.5 0-2.6 0-2.6 0-2.5 0-2.6 0-2.6 0-2.5 0-3.9 0-2.5 1.2-2.6-1.2-1.3 0-3.8 0-1.3 0-3.9 1.2-2.5 0-1.3-1.2-3.9 1.2-1.3-1.2-2.5 0-3.9 0-2.5 0-2.6 0-1.3 0-3.8 0-2.6 0-3.8 0-1.3 1.2-3.9-1.2-1.3 0-2.5 1.2-2.6-1.2-2.6 1.2-3.8 0-1.3-1.2-2.6 0-2.5 0-3.9 0-2.5 1.2-1.3 0-3.9-1.2-2.5 0-1.3 0-2.6 1.2-3.8 0-1.3 0-3.9-1.2-1.3 1.2-3.8-1.2-2.6 0-2.5 1.2-1.3-1.2-3.9 0-1.2 0-3.9 0-1.3Z"/><path id="p4_2" d="M570 840l3.5 1.6 2.6 0 3.9 .9 3 2.5 .8 3.1 1.2 2.5 1.3 2.6 1.3 2.6 1.3 1.2 1.1 3 .2 3.5 2.5 2.5 0 1.3 1.3 3.9 2.6 1.2-1.3 2.6 2.2 2.5 1.7 3.9 0 1.3 2.5 2.6 1.3 1.3 1.3 3.8 .7 2.1 1.9 3 1.2 1.3 2.6 2.6 2.6 2.5 1.3 2.6 1.6 1.7 .9 2.2 0 3.8-1.3 2.6 1.3 2.5 .4 2.7-1.7-.1-3.8-1.3-2.6 1.3-2.5 0-2.6-1.3-2.6 0-2.5 0-2.6 0-2.6 1.3-3.8 0-2.6-1.3-1.3-1.3-2.5 2.6-2.6-1.3-2.6 0-3.8-1.3-2.6 1.3-2.2-.6-.3-3.2 0-1.3 1.2-2.6 0-2.5 0-2.6 0-3.9-1.2-1.2 0-3.9 0-1.3 1.2-3.8 0-2.6-1.2-2.5 0-2.6 0-2.6 1.2-1.3-1.2-3.8 1.2-2.6-1.2-2.5 1.2-2.6-1.2-2.6 0-2.5 0-2.6 0-2.6 1.2-2.5-1.2-3.9 1.2-1.3-1.2-3.8 0-1.3 0-2.6Z"/><path id="p4_3" d="M762.5 920l-.4-2.7 0-2.5-1.3-3.9 0-2.5 .4-2.2-.4-4.3-1.3-1.2 0-2.6-.7-3.1-1.8-2-1.3-2.6 0-2.6-.7-2.8-1.9-1-1.3-3.9-2.5 0-1.8-2.6 4.3 .1 3.2-1.4 3.3 .1 1.2-2.6 2.6 0 1.3-1.3 3.8-1.2 2.3-1.2 2.9-1.4 2.5 0 2.1-1.1 3.1-.2 3.8 1.3 3.1 .2 2-1.5 3.9 0 1.6-2.3 2.2-1.5 2.6-2.6 2.7-.9 1.2-3 0-1.2 1.2-3.9 1.3-2.6 0-1.2 1.3-3.1 2.6-2.1 1.3-1.3 2.5-2.5 2.4-1.6 1.5 1.6 2.5 3.8 2.2 2.1 .4 3.1 2.6 1.2 0 3.9 0 1.3 2 3 .5 3.4 2.6 2.6 1.3 1.2 1.3 2.6 1.8 2.7 .7 2.4 3.9 2.6 1.7 2.5-.4 2.6 0 3.9-1.3 2.6 0 2.5-.9 3.4 .9 1.8-2.6 3.8 0 2.6-1.3 2.5 .6 3 .7 2.2-1.3 2.5 0 3.9 0 2.5 .6 2.7-3.1-.1-2.6 0-2.6 1.3-1.2 0-3.9-1.3-2.6 0-1.2 0-3.9 0-2.6 0-2.5 0-3.9 0-1.3-1.3-2.5 2.6-3.9 0-1.3-1.3-3.8 0-1.3 0-2.6 0-3.8 1.3-1.3-1.3-2.6 1.3-3.8-1.3-1.3 0-2.6 0-2.5 0-3.9 0-1.2-1.3Z"/><path id="p4_4" d="M944.5 920l-.2-2.7 0-2.5 1.3-2.6-1.3-3.8 .2-2.2 3.6-1.7 1.3-1.3 3.9-2.5 1.2-.7 .1-1.9 2.5-3.8 0-1.3 0-2.6 1.3-2.6 1.3-2.5-.2-2.8 1.5-2.4 1.2-2.5 0-2.6 2.3-2.5 2.9-1.3 2.5-1.3 2.1-1.1 3.1 1.1 2.5 0 4.4 .1 2.1-.1 5.1-1.3 2.6 0 2.7 .2 2.4 1.1 3.8 0 2.6 0 3.9 0 1.2 1.3 3.6 .3-1 2.2 0 2.6 1.3 2.6 0 2.5 0 3.9 0 1.3 0 2.5 0 3.9 0 2.5 0 3.9-1.3 1.3 1.3 2.5 0 2.6 0 3.8 0 2.6 0 3.9 0 1.2-.3 2.7-2.3-.1-3.8 1.3-1.3-1.3-3.9 0-2.5 0-2.6 0-3.8 0-1.3 0-3.9 0-1.3 0-2.5 1.3-2.6-1.3-3.8 0-1.3 0-3.9 0-2.5-1.3-2.6 1.3-2.6 1.3-3.8-1.3-2.6 1.3-2.5-1.3-1.3 0-2.6 0-3.8 0Z"/><path id="p4_5" d="M687.5 877.5l2.8-1.2 1.2-1.3 3.5-2.5 3-1.3 2-1.2 1.8 2.4 2.6 1.3 1.8 1.3 3.3 0 2.6 0 2.9 0 2.2 2.6 .3 2.4-4.2 1.4-2.1 2.4-4.3-1.1-2.5 1.3-1.9-1.5-4.5 .2-3-.2-5 0-2.3-3.6Z"/><path id="p4_6" d="M570 645l2.2 .3 2.6 0 2.5 0 2.6 0 3.1-.3 3.3 .3 3.7 2.2 1.5 1.7 3.5 3.3 1.6 1.8 2.6 2.6 2.5 1.3 .8 1.8 1.8 3.3 0 1.3 1.3 2.6 2.5 3.8 0 2.6 1.9 1.4 2 2.4 0 2.6 1.3 2.6 1.3 2.5 1.6 2.4 2.2 1.5 4.1 2.2 3.6-.9 2.6-2.6 2.5-1.5 1.3-2.4 1.3-2.5 1.3-2.6 2.6-1.3 1.1-2.4 1.4-1.4 3.9-2.6 1.2-1.3 2.2-2.2 3-1.6 1.3-1.3 3.8-3.9 1.9-.7 2-3.1 1.2-1.3 2.6-3.8 1.7-1.8 3.4-.8 0-2.6 2.6-3.8 2.6 0 1.4-2.8 2.4-2.3 0-1.3 2.6-2.6 2.6-1.3 1.2-2.5 1.2-2.5 2.7-1.4 1.3-2.6 1.3-1.2 2.5-2.6 2.2-2.2 1.7-1.7 2.5-1.2 1.3-3.9 2.6 0 1.9-3.2 1.9-.6 2.6-1.3 3-.6 3.4-.7 3.9 0 2.7-.5 3.7-.8 3.8 0 2.5-.5 1.4 3.1 1.3 0 2.5 3.8 2.3 .6 2.9-3.1 1.2-2.6 .9-1.8 .4-3.3 2.6-2.6 0-1.3 2-2.8 3.1-2.3 2.6-1.3 1.3-2.6 3-1.3 .8-2.5 2.6-2.6 1.3-2.6 2.8-2.3 2.3-.2 2.6-2.6 3.8-1.3 1.3-.9 3.8-1.6 2.6 1.3 3.6-2.2 2.8-.4 3.9-2.6 3.3 .5 2-2.5 2.4-1.8 2.5-1.3 1.3 0 3.8-1.9 2.6-.7 3.9-1.3 2.2-.5 2.9 1.8 3.4 2 3 .6 2.6 3.8 1.9 1.8 1.9 3.4 2.6 2.5 .5 2.9 2.1 2.3 1.3 2.5 2.5 1.3 1.3 2.6 2.8 2.5 2.3 1.3 2.6 2.6 2.6 1.3 2.5 2.3 2.6 .2 1.3 1.3 3.6 1 1.5 1.6 3.9 1.3 2.1 .9 1.7 .4 2.6 2.5 2.6 2.6 3.1 .7 2 .6 2.6 2.5 2.5 0 2.9 1.9 2.3 2 1.2 1.3 2.6 2.5 1.3 1.3 2.6 2.9 1.2 2.3 1.3 2.5 2.6 2.6 1.3 2.6 1.2 3.8 2.4 1.2 1.5 2.7 2.6 1.2 1.2 2.6 2.2 2.3 3 .3 1.3 1.2 3.8 2.6 1.9-.4 3.2 1.7 1.3 2.6 3 .7 3.4 .5 4.1 .8 3.6-.8 2.6-1.2 1.3-1.3 2.5-.5 2.6 .5 2.6 1.3 2.5 1.2 2.3 .8 1.6 3.1 2.6 1.3 0 2.5 3.3 1.8 1.8 .8 1.3 3.9 2.5 2.5 1.9 1.5 2 2.4 3.8 1.3 1.7 1.3 3.5-1.3 4 .1 2.4-1.4 2.6-1.3 2.5-2.3 2.6-1.6 1.3-1.2 2.5-2.6 2.6-1.3 1-2.1 2.9-.5 3.8 0 3.3 .5 .6 2.1 0 3.9-1.3 1.2 0 2.6 1.3 3.9 0 1.2-1.3 2.6 1.3 2.6 0 2.5-1.3 3.9 1.3 1.3-1.3 2.5 1.3 2.6-1.3 3.9 1.3 2.5 0 2.6-1.3 2.5 0 3.9 1.3 2.6 0 1.2-1.3 2.6 1.3 3.9 0 1.2-1.3 2.6 1.3 3.9-1.3 1.2 1.3 3.9 0 2.6-1.3 1.2 0 2.6 1.3 3.9-1.3 1.2 1.3 3.9 0 2.6-1.3 2.5 1.3 2.6-1.3 2.6 0 2.5 0 1.3 0 3.9 0 2.5 1.3 2.6-1.3 1.3 1.3 2.5-1.3 2.6 1.3 3.8 0 2.6-1.3 3.9 1.3 1.2-1.3 2.6 0 2.6 0 2.5 1.3 2.6-1.3 2.6 0 2.5 0 3.9 1.3 2.6 0 2.5 0 2.6 0 2.6 0 2.5 0 1.3 0 3.9 0 1.2 0 3.9-1.3 2.5 0 2.6 .7 2.3-3.3-1-3.8 1.3-2.9-.3-2.3 1.6-2.5 1.2-2.6 1.3-2.6 2.1 0 1.8-2.5 2.5-1.3 2.6-1.2 3.1-2.7-1.8-2.5-1.3-2.3-1.9-4.2 .6-2.5-1.3-3.3 .7-1.9 .6-5.1 0-2.6-2.5-2.9 .7-2.2 1.8-2.6 1.3-2.5 1.3-2.7 1.8-1.2 2-2.5 3.9 0 1.3-2.6 2.5-1.2 2.8-2.6-.2-4.9 .2-4.1 1.1-3.9 1.3-2 .1-3.1-1.4-1.3-2.6-3.8-1.3-1.8-2.2-2.1-2.9-2.6-1.3-1.2-1.3-1.6-2-2.3-1.8-1.3-1.3-1.3-2.6-2.6-1.8-1.2-.7-3.9-1.3-2.4-3-4-.9-3.8 0-2.2-.4-2.9 .4-2.6 1.3-1.3 1.3-3.2 .8-.6 3.1-3.9 0-1.3 3.8-1.7 .6-3.4 .7-4.1 .6-3.6-.6-3.9 1.8-2.5 .8-2.6 0-2.4 1.7-2.7-1.7-2.6-2.6-2.6-1.3-2.1-1.9-.4-1.9-1.3-3.9 0-1.3-1.3-2.5-1.3-2.6 0-2.6-.7-2.7-1.8-2.4-1.3-1.3-1.3-3.8 0-1.3-.6-3.7-3.2-2.7-1.3-2.6-1.3-2.6-1.7-2.1-3.4-1.7-1.3-1.3-2.8 .5-2.4 3.4-1.2 1.2-1.3 2.6-2.6 2.8-1.3 2.3-1.3 2.6-1.2 2.6-2.6 2.5 1.3 3.9-2.4 1.1-4 .2-2.6 1.2-3.4 1.1-1.7 1.5-1.3 1.3-2.6 2.6-1.9 2.1-1.9-.9-2.6-1.2-3-.4-3.4 1.6-2.6 1.3-1.5 2.1-1 3.1-2.6 1.2-1.3 3.9-1.3 1.3-.8 3-1.7 2.1-3.9 0-2.6 1.3-1.8 1.6-3.3 2.2-1.3 0-2.5 1.3-2.9 1.5-3.6-.2-3.8-1.3-2.6 .2-1.3-1.5-2.5-2.5-1.3-2.6-2.4-2.1-1.5-1.7-2.5-2.6-1.3-1.3-2.2-1.9-1.7-.7-3.8-2.5-2-1.8-3.1-3.4-1.3-1.2-3.1-1.6-2 1.6-2.6 1.2-2.9 .9-2.2-.9-2.6 0-2.7-1.6-3.7 2.9-1.3 0-2.5 2.1-2.6 .5-1.3 2.6-3.6 1.9-.3 3.2-2.5 2.6-1.3 1.2-.9 3-.4 2.2-1.3 3.8 0 2.6-1.3 2.6-1.3 0-.7 3.8-1.8 2.6-1.3 1.3 0 2.5-2.6 3.9 0 2.5-1.8 2.2-2 1.7-2.6 2.6-1.3 2.5-1.6 .7-3.5 1.9-1.3 0-2.5 1.3-2.7 1.8-2.5 .7-3.8 0-3.7 1.8-1.5-1.8-2.5-1.3-2.6-2.5-2.2-1.9-1.6-2-2.6-2.5-1.3-1.3-1.9-1.7-1.9-2.2-1.3-2.5-1.3-3.9-1.3-1.3-1.8-2.6-2-2.5 0-2.6-2.6-2.5 0-2.6-1.6-2.3-1-2.8-1.3-2.6-1.2-1.3 0-2.5-1.3-3.9-1.4-1.9-1.2-3.2 0-2.6-1.3-2.6-1.3-1.2 0-2.6-1.2-2.6-.8-2.7-3-2.5-.1-2.5 0-2.5 0-2.6-1.3-2.6 0-3.8 1.3-1.3-1.3-3.8 1.3-1.3 0-3.9-2.6-1.3 1.3-2.5 0-2.6-1.3-2.6 0-2.5 0-2.6 0-2.6 0-2.5 0-3.9 0-2.5-1.2-1.3 0-2.6 0-3.8 0-2.6 0-1.3 1.2-2.5-1.2-3.9 0-1.3 0-3.8 0-2.6 0-3.8-1.3-1.3 1.3-3.9-1.3-1.3 0-3.8 0-2.6 0-1.3 1.3-3.8-1.3-1.3 0-2.6 0-3.8-1.3-2.6 0-2.5 1.3-1.3-1.3-3.9 0-2.5 0-1.3 0-2.6 0-3.8 0-2.6 0-2.6-1.3-2.5 0-2.6 0-2.6 1.3-2.5-1.3-2.6 0-2.6-1.3-1.2 0-2.6 1.3-2.6-1.3-3.8 0-2.6 0-3.8-1.2-2.6 2.5-1.3-1.3-2.6 0-3.8-1.2-1.3 0-3.8 0-1.3 0-2.6Z"/><path id="p4_7" d="M570 657.5l2.2 .7 2.6-1.3 2.5 1.3 2.6 0 3.1-.7 2 .7 2.6 2.5 2.4 1.8 1.5 .8 3.5 1.7 2.9 3.4 1.3 1.3 1.2 2.6 2.1 2.7 .5 2.4 2.6 2.6 0 2.6 2.5 1.2 1.3 2.6 .6 3.6 2 2.8 1.3 1.3 2.5 2.6 .4 3.3 2.2 1.8 4.1 2 1-2 3.9 0 1.3-2.6 3.8-.4 1.3-2.1 1.3-2.6 1.3-1.3 2.5-2.5 1.1-2.8 2.8-1.1 1.3-1.3 1.2-3.8 2.6-1.3 2.1-1.2 1.8-2.7 1.2 0 2.6-2.5 2.6-1.3 1.8-2.3 2-2.8 1.3-1.3 2.6-2.6 1.6-3.3 2.2-3.1 1.3 0 1.3-2.6 2.6-2.5 0-2.6 2.6-1.7 1.2-2.2 2.6-2.5 2.5-2.6 1.3-2.5 2.4-1.5 1.5-1.1 2.5-1.3 2.6-2.6 0-1.2 3.4-2.5 1.7-2.7 3.9 0 2.5-1.3 1.9-1 3.3-.2 3.8 0 2.9 .2 3.5-.2 3.9-1.3 2.6 .2 2.5 2.3 1.3 1.3 3.7 .2 2.7 2.4 1.3 3.8 2.2 1.3 .4-2.5 2.5-3.9 0-1.3 2.1-2.3 3.1-1.5 1.3-3.9 1.9-2.1 3.2-1.7 2.6-1.3 1.2-1.3 3-.7 2.2-1.9 1.3-1.2 2.5-2.6 2.6-1.3 1.4-3 2.4-.8 2.6 0 2.6-2.6 2.4-.4 2.7-.9 1.3 0 3.8-2.6 2.2-.2 3 .2 4-1.5 1.1-1 3.8-2.6 2.6-2.6 1.2-1.2 1.4-1.3 2.5-2.6 2.4-1.1 2.8 2.4 2.5 2.6 2.2 1.2 1.7 1.3 2.6 2.6 1.2 2.6 2 1 1.9 1.5 1.3 3.9 2.5 2.5 1.8 2.1 2.1 .5 3.8 3.9 1.3 1.2 2.8 1.9 3.6 .7 1.3 1.3 2.6 1.3 2.5 1.7 2.6 2.1 2.6-1.3 2.5 2.6 2.3 .4 4.2-.4 2.5 1.3 3.3 .3 3.1-.3 2.6 1.3 4.3 1.5 2.1 2.3 2.6 1.3 2.6 1.3 2.7 2.6 2.4 1.2 1.3 2.6 3.8 2.6 0 2.5 2.5 1.1 1.4 1.5 1.2 2.6 2.6 2.5 2.6 2.6 0 1.3 2.2 2 1.6 1.8 3.9 1.3 2.5 1.3 2 .6 3.2 .7 1.3 2.5 3.8 0 1.7 1.8 3.4 2.1 2.6 2.6 1.3 1.2 2.7 1.6 3.7-.3 2.6 0 3.7-.9 2.7 .9 2.5 1.3 2.6 1.3 2.2 .2 1.7 2.4 3.8 1.2 2 2.7 3.1 1.2 1.3 2.6 3.1 2.4 2.1 2.7 2.9-.2 2.2 .2 3.8-2.6 1.5-.1 2.4-2.4 3.8-1.3 1.3-1.3 2.6-1.3 1.3-1.3 2.5-1.3 3.6-1.9 4.1-.6 2.6 1.3 3.3-.7 .6 1.9 0 3.9 0 1.3-1.3 3.8 1.3 2.6 0 2.6 0 2.5 0 2.6-1.3 2.6 0 2.5 0 2.6 1.3 2.5 0 3.9 0 1.3 0 3.8-1.3 2.6 1.3 2.6-1.3 1.2 1.3 2.6-1.3 3.9 1.3 2.5 0 1.3 0 3.9-1.3 1.2 1.3 3.9 0 2.6-1.3 3.8 1.3 2.6 0 1.3 0 3.8-1.3 1.3 1.3 2.6-1.3 2.5 0 3.9 1.3 2.5 0 2.6 0 2.6 0 2.5 0 2.6-1.3 1.3 0 5.1 1.3 1.3-1.3 1.3 1.3 3.8-1.3 3.9 1.3 2.5 0 1.3-1.3 3.9 1.3 2.5 0 2.6 0 2.6 0 2.5-1.3 1.3 1.3 3.9 0 2.5-1.3 2.6 1.3 2.6-.6 2.5-4.6 0-1.3 0-4.1 0-2.3 2.6-1.3 1.3-1.2 2.5-1.3 2.6-2.6 1.3-1.3 3.8-2.5 .9-2.6 .4-2.6 0-2.3 2.1-2.8-.8-3.9 0-3.8-1.3-2-.4-3.1 .4-2.6-2.5-2.6 0-4.2-.4-2.2 .4-5.1 0-2.7 .8-1.2 .4-5.1 1.3 0 1.3-3.7 .8-2.7-.8-3.9-1.3-3.8 0-2.1-.4-3-.9-2.6 0-1.3-1.2-3.8-2.6-1.8-.3-2.1-2.3-2.6-1.3-2.5-2.5-2.8-1.4-2.4-2.5-3.8-1.2-1.3-2.6-2.5-1.2-1.3-1.4-3.9 0-1.3-2.5-3.5-1.1-2.9-2.8-2.5-1.3-2.1-2.2-1.8 2.2-2.6 2.6-3.1 1.5-3.3 2.3-2.5 0-1.7 2.7-2.2 2.5-1.3 1.3-1.3 2.5-2.7 1.2-2.4 .1-2.6 2.6-2.5 1.1-2.6-1.1-1.3 0-3.6-2.7-1.5-2.5 0-2.5-2.6-3.9 1.3-1.3-1.3-2.5-1.3-2.6-1.2-2.6-.9-2.1-1.7-1.7 0-3.9-1.3-3.8 0-1.3-1.3-3.8 0-3.9-.7-1.6-.6-2.2-2.5-1.3-1.3-2.6-3.1-2.7-2-2.4-3.9-1.3-1.6-1.3-3.5 1.3-1.3 1.3-2.7 1.2-1.1 3.9-1.3 1.3-1.3 1.3 0 3.8-1.3 1.3-1.3 3.9-1.2 2-3.9 1.8-1.3 1.3-2.3 1.9-2.8-1.9-1.3-1.3-3.4-1.8-3 1.8-2.6 0-1.9 1.9-3.2 .7-4.3 .6-2.1 .7-2.6 3.8-2.8 .5 .2 2.1-1.2 3.8-1.3 2.6 0 1.3 0 3.8 0 2.6 0 2.6 0 3.8-1.3 2.6 0 1.2 0 3.9-.9 2.2-3 1.6-1.2 0-3.3 .9-1.9 1.7-2.5 2.6-1.3 1.3-1.8 1.9-3.4 1.9-2.5 0-1.6 1.9-4.8 .7-2.7 .5-2.5-.5-3.8-1.3-1.2-2-1.4-1.9-1.3-2.5 0-2.6-2.5-3.8 .2-2.9-.2-2.3-2.6-2.5 0-2.6-1.3-1.3-.9-3.8-1.7-1.3 0-3.9-2.5-2.5-.8-2.3-1.8-1.6-3.2-2.2-3.2 .9-2.6 1.3-1.7 1.6-2.1 1-3.9 0-1.5 1.5-2.3-.2-2.7-2.3-2.4 2.3-1.3 2.5-2.6 1.3-1.2 1.4-2.6 1.2-1.3 2.6-2.6 1.2-1 2.5-1.6 2.7-1.2 2.5-1.3 2.6-1.3 2.6-2.1 2.1-.5 1.7-2.5 3.9-1.3 2.5 0 1.3-2.6 2.6-.6 3-2 2.1 0 3.9-1.2 2.5-1.3 2.6-2.6 2.6-.4 1.3-2.2 3.8-2.5 2.6 0 1.2-2.8 2.4-1.1 2.8-2.5 1.3-1.3 2.5-2.6 .9-3.8 1.7-1.3 1.3-3.6 .8-1.5-3.4-3.9-1.3-2.2-1.6-2.9-2.2-1.3-2.6-2.6-3.8-.6-1.4-.7-1.2-2.5-3.9-2.6-2.5 0-2.6-1.8-2.3-.8-2.8-1.2-2.6-1.3-2.6-1.3-2.5-1.6-2-1-3.2 0-2.5-1.3-2.6-2.5-1.3-1.3-2.5-.1-2.9-1.2-2.3-1.3-2.5 0-2.6-1.3-2.6 0-1.2-2-3.8-3-2.5-.1-2.7 0-2.6 0-1.3-1.3-2.5 0-3.9 1.3-2.6-1.3-2.5 1.3-2.6-1.3-3.8-1.3-1.3 0-2.6 1.3-2.6-1.3-2.5 0-2.6 1.3-3.8-1.3-2.6 0-2.6-1.2-2.5 0-2.6 0-2.6 0-1.2 1.2-3.9-1.2-2.6 0-2.5 0-2.6-1.3-2.6 0-3.8 1.3-2.6-1.3-1.3 0-2.5 0-2.6 0-2.6-1.3-3.8 0-2.6 0-1.3 1.3-2.5 0-2.6 0-2.6-1.3-3.8 0-2.6 0-2.5-1.3-2.6 1.3-2.6 0-2.5 0-1.3-1.3-3.9 1.3-1.2 0-3.9-1.3-2.6-1.3-2.5 1.3-2.6-1.3-2.6 0-2.5 1.3-2.6 0-2.6-1.3-2.5 0-2.6 0-3.8 0-1.3 0-2.6 0-3.8Z"/><path id="p4_8" d="M570 670l2.2 1 2.6-1.3 2.5 1.3 2.6-1.3 3.1 .3 4.6 1 2.4 1.5 1.5 2.4 3.5 2.6 2.9 2.5 0 2.6 1.3 2.5 2.5 2.6 .8 2.3 1.8 2.8 1.3 2.6 0 2.6 2.5 1.2 .7 3.3 1.9 1.9 1.3 3.8 1.3 2.6 2.9 1.7 3.5 .8 2.6 1.3 1.5 1.6 2.3-1.6 1.3-1.3 3.8-1.2 2.6-2.1 1.3-3.1 2.6-1.3 1.2-1.2 1.3-2.6 2.3-1.8 2.8-3.3 1.3-1.3 2.6-1.3 1.3-2.6 2-1.5 1.8-1 2.6-2.6 1.3-2.6 1.3-2.5 2.5-1.3 .5-2.5 2.1-2.6 1.3-2.6 1.3-1.3 2.8-3.5 1-2.9 2.6-1.3 1.3-1.3 2.5-2.5 0-1.3 2.6-3.2 2.6-2 2.5-1.2 2.6-2.6 2.3-1.7 2.8-2.2 2.6-2.5 2.6 0 2-2.8 3.1-1.1 1.3-1.2 3.1-2.7 3.3 .1 2.5 1.3 4.2 1.1 2.3 .2 3.8 1.2 1.3 1.3 2.6 1 2.5 .3 2.6 2.6 2.4 .9 .2 1.6 1.2 2.6 1.3 3.8 2.6 2.6 0 2.6 .9 1.8 .4-3.1 1.3-2.6 1.2-1.3 0-2.5 .9-3 1.7-2.2 3.3-2.8 3.1-1 2.6-1.3 2.6-1.3 1.7-1.4 2.1-1.1 1.3-3.9 2.6-2.5 0-3.9 1.5-1.1 2.3-1.5 3.8-2.5 1.4-1 2.5-.3 1.3-2.6 3.8-1.3 2.4-.8 2.8-1.7 2.5-2.6 1.3-1.3 3.4-1.9 4.3 .6 2.7-.6 2.4-3.2 2.6-1.3 2.5-1.8 1.4-.8 3.6-1.6 2.8 1.6 1.3 1.3 3.4 3.3 1.7 1.9 2.6 2.5 1.2 3.9 2 1.7 1.9 2.1 1.3 2.6 2.5 2.6 1.8 2.7 2.1 1.1 2.5 1.3 2.6 2.6 2.8 0 2.3 1.2 2.6 1.3 2.6 1.3 2.5 1.2 3.9 .1 2.6 0 3.5 1.1 2.9 .2 3.8 0 3.3-1.4 4.4 1.4 1.3 0 4.3 1.1 2.1 1.4 2.6 1.3 3.8 1.3 1.5 1 1.1 1.6 5.1 2.5 1.3 1.3 2.5 2.1 1.4 3 2.5 1.3 2.6 2.6 1.3 1.3 2.2 1.8 2.9 2 1.3 1.3 3.8 2.6 2 1.6 3.2 .9 2.5 2.6 1.3 0 3 1.5 2.2 1.1 2.5 1.3 2.6 1.2 2.7 1.4 3.7-.1 3.9 2.6 2.4 0 2.7 1.3 3.8 0 3.5 1.2 1.7 1.3 3.8 2.6 2 1.1 1.9 1.5 1.2 2.5 1.3 2.6 3.1 .9 2.1 .4 2.5 1.3 2.9 .8 2.3-.8 2.5-1.3 2.7-.4 3.7-.9 1.3-2.6 2.5-1.5 1.4-1 3.8 0 2.3-2.2 2.9-.4 3.8 0 3.3 .4-.7 2.2 1.3 2.5 0 3.9 0 1.3 0 3.8-1.3 2.6 0 2.5 0 2.6 0 2.6 0 1.3 1.3 3.8 0 2.6-1.3 1.3 1.3 3.8-1.3 1.3 0 3.8 0 2.6 0 2.6 1.3 3.8-1.3 0 0 3.9 1.3 1.3 0 3.8 0 3.9 0 1.2 0 3.9 0 1.3 0 2.5 0 2.6-1.3 2.6 1.3 3.8-1.3 1.3 1.3 3.8 0 1.3 0 2.6 0 2.6-1.3 2.5 1.3 3.9 0 2.5 0 2.6-1.3 1.3 1.3 3.8-1.3 1.3 0 2.6 1.3 2.6 0 5.1-1.3 1.3 1.3 2.5 0 2.6-1.3 2.6 .7 2.7-2-.2-5.1-1.2-2.9 1.4-1 1.1-1.3 2.6-3.8 2.6-1.3 1.2-2.6 3.9 0 1.3-2.5 2.3-2.6 .2-2.6 1.3-2.3 1-2.8-1-2.6-1.3-2.5 0-1.3-1.3-3.3-.1-1.9-1.1-2.5 0-3.9-1.3-1.3-1.3-2.9-.1-2.2 .1-3.8 0-4-.1-2.4 1.4-3.9 0-3.7 1.1-4-1.1-2.6 0-3.4-1.4-1.7 .1-3.8-1.3-2.6-2.5-1.9-.1-2-1.2-3.8-2.6-1.3-1.3-2.9-1.1-2.2-1.4-3.9-2.6-2.5-2.6-1.4-.9-2.5-1.6-1.3-1.3-1.3-2.6-2.4-2-1.4-3.1-1.3-2.6-2.5-1.3-2.3-3-1.6-2.1-2.6-2.6-1.2-2.5-2.1-2.8-3.1 .2-1.3-1.3-3.1-1.4-2 1.4-3.8 1.3-1.7 2.3-.9 4.1-1.3 2.6 0 1.3-2.6 2.5-.2 3.2-2.3-1.9-1.3 0-3.9-1.8-1.2-2-1.3-3.9 0-1.3 0-2.5-1.3-2.6-1.2-2.7-1.4-2.4 0-1.3-1.3-3.9-1.2-2.5-1.1-2.4-2.8-.2-2.6-1.3-2.5-1.3-2.1-1-1.8-2.8-2.5-1.3-2.6-2.6-.6-2-3.2-.5-1.3-2.6-2.6 1.3-2.9-1.9-3.5 1.9-1.3 2.6-2.7 1.7-1.1 2.1-2.6 2.6 0 3.8 0 2.6-2.6 1.3-1.2 2.6-2.6-2.6-1.3 0-3.6-2.4-1.5-1.5-3.9-2.5-2.1-1-4.3 1-1.3 0-4.4 1.5-2 1-2.6 2.6-2.5 0-2.9 1.4-2.3 2.4 0 2.6-1.2 2.6-1.3 2.5-1.5 2.4-1.1 2.8 0 2.5 0 2.6-1.3 2.6-1.3 3.8 1.3 2.6-.8 3.1 .8 2-2.5 3.9 1.2 1.2-1.2 3.9-1.3 2.6 .5 2.6-4.4-.1-3.1-1.1-2 1.1-3.9 2.6-1.6 1.3-2.2-2.6-1.3-1.3-2.6-2.5-1.4-1.1-1.1-2.8-1.3-2.6 0-1.2-2.6-2.6 0-3.3-2.5-1.8-1.3-2.6-1.2-1.8-2.7 1.8-2.3 1.9-1.5-1.9 0-3.9-2.6-1.2-.9-3-.4-2.2 0-3.8-2.1-2.7-4.3 .1-3.2 1.1-.6 2.8-3.9 0-1.3 2.5-1.7 2.2-3.4 3-2.6 0-1.5 2-2.3 1.8-2.6 2.6-2.6 .6-1.2 3.2-1.3 1.3-2.6 0-2.4 3-1.4 2.1-2.6 2.6-1.3 3.9-2.2 1.4-2.9 2.4 0 2.6-2.6 2.5-2 2.5-.5 1.4-2.6 3.8-1.3 1.3 0 3.9-1.3 1.2-1.8 3.4-.7 1.8-2.6 3.8 0 1.3-3.9 2.6-.3 3-2.2 2.1-1.3 2.6 0 2.5-1.3 3.9-2.7 1.4-1.1 3.7-2.6 1.3-1.3 2.6-1.3 2.5-1.2 2.4-2.6 1.5-3.6 2.2-1.5-2.2-2.6-1.3-2.2-2.7-1.7-2.4-2.5-2.6-1.3-1.3-2-3.7-1.9-2.7-1.2-2.6-1.3-2.5-2.6-2.6-.5-2.1-.8-1.7-1.3-2.6-2.5-2.6 0-3.8-1.7-1.8-.9-3.4-1.3-1.2 0-2.6-1.3-2.6-2.5-3.8-.2-1.4-1.1-1.2-1.3-3.8-1.3-2.6-1.3-2.6 0-2.5-2-2.3-3-2.5-1.4-2.9 0-2.6 0-2.6 1.3-2.5-1.3-1.3 0-3.9 1.3-2.5-1.3-2.6-1.3-2.6 1.3-3.8 0-1.3 0-2.6-1.3-3.8 1.3-1.3 0-3.8-1.3-2.6 0-2.6-1.2-2.5 0-2.6 1.2-2.6 0-2.5 0-3.9-1.2-1.3 0-3.8 0-1.3-1.3-3.8 0-1.3 0-3.9-1.3-1.3 1.3-2.5-1.3-2.6 1.3-3.8-1.3-2.6 1.3-1.3-1.3-3.8-1.3-2.6 1.3-2.6 0-1.3-1.3-3.8 1.3-2.6-1.3-2.5 0-2.6-1.3-2.6 1.3-2.5 0-2.6-1.3-2.6 1.3-3.8-1.3-1.3-1.2-2.6 1.2-3.8 0-1.3 0-3.8-1.2-2.6Z"/><path id="p4_9" d="M580 680l3 0 2 1.3 2.6 2.5 2.4 1.2 2.7 1.4 1.3 3.9 1 2.2 1.6 2.9 1.3 1.3 2.5 3.8 0 2.6 2.1 1.9 .5 3.2 2.6 1.3 0 2.6 1.3 3.8 .6 1.6 1.9 2.3 2.6 2.5 2.6 0 .4 2.7 3.4-.1 2.6 2.6 2.8 1.3 3.6-1.3 2.6-2.6 1.2-1.3 3.8-1.1 2.7-1.5 0-3.8 3.8 0 2.6-2.6 .9-2.1 1.6-3 1.3-1.3 1.3-1.3 3.8-2.5 1.3-1.3 .7-3.1 .6-2 2.6-2.6 2.5-2.6 0-1.3 2.6-2.5 1.7-1.5 .9-2.4 2.5-2.5 2.6-2.6 1.5-2.5 2.4-2.6 1.2-2.6 1.3-1.3 1.3-1.3 2.6-2.5 1.2-2.2 2.6-1.7 1.3-2.6 2.6-2.5 3.5-.7 1.6-1.9 2.6-2.6 1.3-1.2 2-1.8 3.1-2.1 3.1-1.7 3.3 3 3 .8 2.1 3 2.6 1.3 1.3 2.6 1.5 3.1 1 2 1.3 2.6 2.6 2.6 0 2.5 1.3 2.8 1.3 2.4 0 3.8 1.2 2.6 1.3 3.8 0 2.4 1.3 2.8 1.3 2.5 2.6 2.6 2.3 2.1 .2 1.7 2.6 3.9 1.3 2.5 .9 1.9 .4 2 1.2 3.8 1.3 1.3 0 2.6 .8 2.8 .5 2.3 0 3.9 1.3 2.5 0 3.9 .8 2.4 .5 4-1.3 2.6 0 2.5 0 2.6-.5 3.3-2.1 3.1-2.9 1.9-2.2-3.2-1.3-1.2-1.5-3.1-2.3 1.8-1.3 3.8-1.4 1.9-2.5 2-2.5 1.3 0 1.2-2.5 3-1.4-.4-3.8 2.6-2.3 .3-2.9-.3-2.5 2.5-2.1 .3-1.8 2.3-2.6 1.3-1.2 2.5-1.9 1.4-.7 2.5-2.6 2.6-2.5 1.2-1.7 1.2-2.2 2.7-1.3 0-2.5 3.8-1.5 1-2.4 1.6-1.3 2.6-1.2 1.3-2.6 2-2.6 1.8-1.3 3.9-1.2 1.2-2.4 3.1-1.5 3.4-1.3 1.2-3.8 2.6-.9 2.8-3 2.3 0 2.6-1.3 1.3-3.2 3.8-.6 2.6-2.6 2.6-1.3 1.2-1.2 3.9-1.8 2.2-2.1 2.9-1.3 2.6-2.5 2.6 0 2.5-1.6 1.9-1 3.3-2.6 1.2-1.2 2.6-1.3 2.6-1.4 2.8-1.2 3.6-1.3 1.3-2.5 3.8-1.2 1.3-2.7 1.3-2.3 2.5-.3-1.2-3.8-2.6-.9-2.5-3-2.6 0-2.6-2.5-1.3-2.1-3.5-1.8-2.9-1.3-2.6 0-2.5-1.2-2.6-1.9-1.9-2-1.9-1.3-2.6 0-3.9-1.3-1.2-1.6-2.9-.9-2.3-1.3-1.3-1.3-3.8-1.3-2.6-.2-2.5-2.3-2.6 1.2-3.8-2.5-1.3 0-2.6-1.4-2.2-1.2-1.6-2.6-3.9-2-2-3-1.2-.1-3.2 1.3-1.3 0-3.8-1.3-1.3 1.3-3.9-1.3-1.3 0-3.8-1.3-2.6 1.3-1.3-1.3-3.8 1.3-2.6 0-2.5 0-2.6 0-3.8 0-2.6 0-2.6-1.3-2.5 2.6-2.6 0-2.6-2.6-2.5 2.6-2.6-1.3-2.6-1.3-2.5 1.3-1.3 1.3-3.9-1.3-3.8 0-5.2 1.3-3.8-1.3-2.6 0-3.8 0-1.3 0-2.6 0-3.8 0-2.6 0-2.6 1.3-1.2 0-3.9-1.3-2.5 0-2.6 0-2.6 0-2.5-1.3-2.6 0-2.6 1.3-1.3Z"/><path id="p4_10" d="M767.5 754l-.3-3.4-1.2-1.3 0-2.6 0-3.8-1.3-3.9-1.3-1.3 .4-2.7-.4-3.7 1.3-2.6-1.3-1.2 0-3.9-1.3-2.6 1.3-2.5 0-3.9-.9-2.1-.4-3 0-1.3 2.6-5.1 0-2.6-1.3-1.3 1.3-2.5 0-5.2 .3-1.5-.3-2.3 0-2.6 1.3-3.8-1.3-2.6 2.5-2.6 0-2.5 0-2.6-1.2-3.8 1.2-1.3 .3-3.4-.3-3 1.3-3.9 1.3-2.6 0-2.5 0-2.6 .2-2.9 1.1-2.2 2.5-1.3 2.6-2.6 1.3-1.4 3.8 .2 2.6-2.6 3.6-.1 2.8-1.2 2.6-2.6 2.1-1.2 1.7-1.3 1.3-2.6 3.9-1.3 1.3-2.3 2.5-1.5 1.3-2.6 3.9-1.3 2.3-2.1 2.8 2.1 1.3 1.3 2.2 1.6 1.6 3.5 0 1.3 1.3 2.6 0 1.3 2.1 3.8 1.8 1.3 1.2 2.6 2.6 1.3 1.9 2.3 1.9 2.8 1.3 2.5 2.6 2.6 1.7 2.1 .9 3 1.2 1.3 1.3 3.9 1.3 1.3 2.8 3 2.3 2.1 1.3 1.3 3.9 2.9 1.3-4.2 2.5-1.3 1.2-3.3 2.7-1.8 2.5-2.6 2.3-1.8 2.9-.8 2.5-1.2 1.3-1.3 3.3-.5 3.1 .5 2.6 1.3 4.3 .7 2.1 1.8 2.6 1.3 2.6 2.6 2.7 1.8 1.1 3.3 3.8 1.3 1.3 2.6 2.6 0 1.2 2.8 2.6 2.3 1.3 1.3 1.3 2.5 2.6 1.3 2.2 2.6 2.9 2.6 2.6 0 2.5 2.5 2 1.1 3.2 .2 2.5 2.6 1.3 0 3 1 2.2 .3 2.5 1.2 2.6 1.3 2.7 1 2.4 1.6 2.6 0 3.8 1.3 1.2 .8 2.7 .5 3.8 1.2 3.5 .8 2.9 3.1 2.6 1.3 2.6 1.2 1.9 1.9 1.9 2 3.9 1.3 1.7 1.7 4.7-.4 2.8 1.7 2.3-1.7 2.6-2.6 2.6-.7 1.2-.6 3.9-2.6 1.3-1.2 2.5-1.3 3.6-1.3 4.1 0 2.6 0 3.3 0-.7 3.8 1.3 2.6 0 1.3 0 3.8-1.3 2.6 0 1.3 1.3 2.6 0 3.8 0 2.6 0 2.5-1.3 2.6 1.3 2.6 0 2.5-1.3 2.6 0 2.6 0 1.3 1.3 3.8 0 3.9 0 1.2 0 2.6 0 2.6-1.3 3.8 0 2.6 1.3 1.3 0 2.5 0 3.9 0 2.5-1.3 2.6 1.3 1.3 0 2.6 0 3.8 0 2.6-1.3 2.5 1.3 2.6 0 2.6 0 2.5 0 2.6 0 3.9 0 2.5 0 1.3 0 2.6 0 2.5-.6 2.9-4.6-.3-2.5 0-2.9 .3-2.3 2.3-1.3 2.5-3.8 0-1.3 2.6-2.6 2.6-1.2 2.5-2.6 1.3-2.6 1.3-2.3-.1-2.8-2.5-2.6 0-2.1-1.3-3-1.2-2.6-1.3-2.5 0-1.9-1.2-3.3-.1-3.8 0-2.9-1.2-2.3-1.4-3.8 0-3.9 .2-3.8-1.4-3.8 0-2.4-1.1-2.8-1.5-1.3-1.3-2.5-1.3-3.4-.9-3-1.6-2.6-1.3-2.6-1.3-1.8-2.1-2-1.8-3.9-2.5-1.6-1.9-2.2-2-1.3-1.3-2.6-2.5-1.4-1.7-2.4-2.2-1.3-1.3-2.6-2.5-1.2-1.5-1.3-2.4-2.6-2.5-1.3-2.6-2.3-2.5-1.5-1.4-2.6-1.2-1.3-3.9-2.1-1-3-2.8 0-2.6-2.6-2.6-1.9-2-1.9-1.8-3.9-1.3-1.7-1.9-4.7-.7-2.8 .7-3.6 .6-2.7 1.9-1.2-3.2 0-2.5 1.3-2.6-2.5-3.8 0-2.6 0-2.8-3.9 1.5-2.4 1-2.7-2.3-2.6-1.3-2.2-1.4-2.9-1.1-2.6 0-2.6-2.6-1.9-.1-3.2-1.2-2.5 1.3-4.3-.1-2.2 2.7-3.8 1.3-1.5 1-2.4 2.8-1.2 1.3-3.9 2.2-1.3-2.2-3.8-1.3-2.4-1.5-1.5-2.3-1.3-2.6-2.2-2.6-1.3 0-.3-3.8 0-1.3-1.3-3.9 0-3.8 1.3-1.3-1.4-3.4 .1-4.3-1.3-1.3-1.3-3.8 0-3.1-1.2 3.1-.8 1.9 .8 3.2 0 1.3 0 3.8-1.3 2.6 0 2.6-1.3 2.5 0 2.6 0 3.9 .6 2.5-5 1.2-2-2.5-1.3-3.8 0-1.3-1.7-3.6-.9-2.8 0-3.9 0-2.5-1.3-1.3 0-3.9-1.2-2.5-.4-3.1-.9-2 0-3.9 0-2.6-1.3-2.5 0-2.6-1.3-3.8-.3-2.6-2.2 1.3-.2 3.7 .2 4 0 2.5 0 2.6 0 1.3 1.2 2.6 0 2.5 0 3.9-1.2 2.5 1.2 3.9 0 1.3-.2 2.9 1.5 2.2 0 2.6 1.3 2.5 1.3 2.6 0 1.3 0 2.5 2.1 3.8-2.1 3.9-1.3 1.3-1.3 2.6-2.7 2.2 .2 2.9 1.2 2.6 0 3.8Z"/><path id="p4_11" d="M580 686.2l3 1.3 2 2.8 2.6 2.5 2.4 2.2 .2 3 1.3 1.2 2.5 3.9 0 2.5 1 1.9 1.6 2 1.3 2.6-1.3 2.5 2.6 2.6 .8 2.8 .4 3.6 1.3 0 1.3 2.6 0 3.8 2 2.5 1.9 2.7 1.2 1.2 1.3 1.3 3.1 2.3 3.3 1.6 3.9 0 2.8 .9 2.3-2.2 3.9-1.3 1.3-2.6 2.5-1.2 2.5-1.4 2.7-1.2 1.2-3.9 2.6-1.2 2.6-3.9 .9-1.1 2.9-2.7 0-2.6 2.6 0 1.3-2.6 2.5-2.5 .7-2.1 .6-1.8 2.6-2.6 1.3-1.2 2.5-2.6 2.6-1.3 .4-3 .9-2.1 1.3-2.6 2.5-2.5 1.3 0 2.6-2.6 1.4-2.7 2.4-2.4 1.3-3.9 1.3-2.6 2.5-1.1 2.6-1.4 2.6-1.3 2.6-1.3 2.2-2.2 1.6-1.6 3.9-1.3 2-.9 3.1-1.7 3.1-.8 2 2.1 1.8 2.9 2.1 .9 2.5 2.6 2.9 1.5-.3 3.6 1.3 2.6 1.3 3.9 .2 2.4-.2 4 0 1.3 1.2 3.8-1.2 3.9 .2 2 1 3.1-1.2 2.5-1.3 2.6 1.3 3.9-1 2.9-1.6 2.2 1.3 3.8 0 2.6-1.3 3.9 .3 2.5-.3 1.3-2.6 2.6-1.3 3.8-.8 2.3-2.5 2.5-1.8 2.9-1.3 2.6-3.8 2.6-.6 1.9-2 3.2-1.3 1.3-2.5 2.5-1.7 3-.9 .9-3.8 3.8-1.3 1.3-1.5 1.5-2.4 2.4-2.5 1.2-1.3 1.3-1.3 2.6-2.6 2.6-1.3 2.5-1.2 2.6-2.4 2.3-2.8 2.8-1.3 2.6-2.5 2.6-.9 2-1.7 1.8-1.3 2.6-2.5 2.5-1.3 2.6-.7 3-1.9 2.1-1.3 2.6-1.3 2.6-1.2 2.5-1.8 2.7-2.1 3.8 0 1.2-1.3 2.6-2.5 2.6-1.6 2.3-1 2.8-2.6 2.6 0 2.5-2.5 2.6-1.4 2-1.2 1.8-1.3 2.6-1.3 2.6-1.2 3.8-1.2 1.7-1.4 2.2-2.6 3.8-1 2.8-1.5-1.5-1.3-3.8-1.3-2.6-2.2-.9-1.7-3-1.2-1.2-1.3-3.9-2.6-1.3-.7-3.1-.6-2-2.5-3.9-1.3-2.5 0-1.3-1.3-3.9-1.8-1.4-.8-2.4-1.3-3.8-1.2-1.3 0-2.6-1.7-2.4-2.2-2.7 0-2.6-1.3-2.6-1.5-2.1-1-3-1.3-1.3-2.7-3.2-2.5-1.9-2-3.1-3-1.3-.1-2 1.3-3.9-1.3-2.5 0-1.3-1.3-2.6 1.3-2.6 1.3-3.8 0-1.3 0-3.8-1.3-1.3 0-3.9 1.3-2.5-1.3-2.6 0-2.6 0-3.8 0-1.3 1.3-3.8-1.3 0 0-3.9 0-2.6 0-2.5 0-2.6 1.3-2.6 0-2.5-1.3-2.6 0-3.8 0-1.3 0-3.9 0-2.5 0-2.6 0-1.3-1.3-2.6 2.6-3.8-1.3-2.6 1.3-1.3 0-3.8 0-3.8 0-1.3 0-2.6 0-2.6-1.3-3.8Z"/><path id="p4_12" d="M889.5 754l-2.5-4-.4-2-2.6-2.6-2-2.9-1.9-2.2-1.2-1.3-2.6-2.6-1.8-1.4-.8-3.7-2.5-1.3 0-1.3-1.7-3.7-.9-4 0-2.5 0-2.6-1.6-3.4 .3-3 0-2.6 0-3.8-1.3-2.6 1.3-2.5-.3-3 .3-3.5 1.3-2.5 1.3-2.6 0-2.6-.4-3.8 .4-2.6 1.3-2.5 2.5-2.6 0-2.6 .8-2.2 3.1-1.6 2.5-2.6 1.9-.8 2 .8 2.6 1.3 2.9 .4 2.2 .9 2.6 3.8 2.7 .3 2.4 2.3 1.3 2.6 2.5 0 2.6 3.8 1.2 1.3 2.6 1.3 0 2.5 2.6 2.6 2.6 2.6 2.2 1 2.9 1.5 2.6 2.6 1.3 1.3 3.2 2.1 3.2 1.7 3.8 0 3 .8 2.2 1.8 2.5 0 3.9 1.3 1.4 .7 2.4 .6 3.9 0 3.7 .6 4-.6 3.8 2.5 2.2 .6 2.9 .7 1.3 2.6 3.3 1.7 1.9 2.1 2.5 1.3 3.1 2.9 3.3 1 1.3 0 2.9 1.4 2.3-1.4 2.5-1.3 2.7-1 2.5-2.9 2.5 0 2.5-2.1 2.7-1.7 2.5-1.3 2.3-.3 2.9-1 3.8 1.3 3.3-.3 .6 2.9-1.3 1.2 1.3 2.6 0 5.1-1.3 2.6 0 1.3 1.3 2.6-1.3 3.8 1.3 1.3-1.3 3.8 1.3 2.6 0 1.3 0 3.8 0 2.6 0 2.6 0 2.5-1.3 2.6 1.3 2.6 0 2.5-1.3 3.9 0 1.3 1.3 2.5 0 2.6 0 3.8 0 2.6-1.3 1.3 1.3 2.6 0 3.8-1.3 1.3 1.3 3.8-1.3 1.3 0 3.9 1.3 2.5 0 2.6-1.3 1.3 0 3.8 0 2.6 .7 3-3.3-.4-2.6 0-4.1 .4-2.3 3.4-1.3 1.3-3.8 1.3-1.3 2.6-1.3 1.2-2.5 2.7-2.6 1.2-2.6 1.3-2.3 0-2.8-1.3-2.6-1.3-2.5-1.3-2.1-1.1-1.8-1.4-2.6-1.3-2.5-1.3-3.1-1-3.3-.3-2.6 0-4.1-.9-2.3-1.7-2.6 0-2.5-1.2-2.6-.9-2.6-1.7-2.5-1.3-2.6-1.3-2.3-.7-2.8-1.8-1.3-1.3-3.4-1.9-1.8-2-2.5-1.3-3.9-1.2-1.8-3-3.3-.9 0-3.8-1.3-1.3-2.9-1.5-2.2-1.1-1.3-2.6-2.6-1.2-1.4-2.6-2.4-2.6-1.3-1.3-1.3-1.2-2.5-2.4-1.3-2.8-2.6-2.5-1.3-2.6-2.3-2.1-1.5-1.7-1.3-2.6Z"/><path id="p4_13" d="M804.5 647.5l1.2-3.4 0-1.3 1.3-4 2.6-1.1 2.4-1.5 1.4 2.7 2.6 1.3 1 2.3 1.6 4.1 0 1.3 0 3.9 .4 3.2 .8 1.9-1.2 3.8 1.2 3.9 0 2.6 1.3 2.5-1.1 2.8-4.2 2.5-2.4-1.4-1.3-3.9-1.3-2.2-1.2-2.9-1.3-2.6-1.8-2 .5-3.1-1.3-2.6 0-3.8Z"/><path id="p4_14" d="M580 702.5l2.5 1.9 2.5 .6 0 3.2 1.3 2.6 1.3 1.3 1.3 2.5 2.3 2.9 .3 3.5 1.2 1.3 1.3 3.9 0 1.3 1.3 2.5 .9 2.5 .4 1.4 2.6 2.5 0 2.6 1.2 3.9 2.1 2.1 3.1 3 1.3 2.6 2.5 0 1.8 3.2 3.4 .6 1.2 1.3 3.9 1.3 2.8 .5 2.3-1.8 2.6-1.3 2.6-1.3 1.2-2.5 2.6-1.8 1.3-3.4 2.6 0 2.5-3.8 1.3-2.6 2.3-1.5 1.5-2.3 2.6-2.6 1.3-2.6 1.3-2.5 1.3-1.3 2-2.4 1.8-1.5 1.3-3.8 1.3-1.3 1.3-3.9 3.8-2.5 .5-.8 .8-1.8 2.6-3.8 1.2-1.3 1.3-2.6 1.5-3 2.4-2.1 0-2.6 1.3-1.3 2.5-3.8 1.3-1.3 1.3-2.6 1.3-2.5 2.5-2.6 2.4-2.5 4.1 2.5 2.2 1.3 2.9 0 2.6-1.3 2-1.2 4.4-.1 1.8 1.4 .7 2.5 0 2.5 1.3 3.9-.7 2.3 3.3 2.8 1.7 2.2-.4 1.7 0 5.1 0 2.6 0 2.5-.9 3.1-1.7 2.1-3.3 2.9 .7 2.2-1.3 5.1-.6 2.7-1.9 2.5-1.3 3.8-1.3 1.3-3 2.4-2.1 2.7-1.3 1.3-2.6 3.9-1.5 2.1-1 3-2.6 3.8-1.4 2.2-1.2 3-3.8 2.5-1.3 1.3-1.2 1.7-1.4 2.2-2.5 2.5-2.6 2.6-1 2.7-2.8 2.4-1.3 3.9-2.6 0-.8 3.7-.5 1.4-1.3 3.9-1.2 1.2-2 3.5-.6 1.7-2.6 2.5-1.3 3.9-1.2 1.3-1.8 3.1-.8 2 0 2.6-1.3 2.5-2.6 2.6-.3 2.8-.9 2.3-2.6 2.6 0 1.3-2.6 3.8-1.4 2.5-1.1 2.7-1.3 1.2-1.3 3.9-1.3 1.3-1.3 3.4-2.5 1.7 0 3.9-1.3 2.5-1.3 3.9-1.1 1.7-2.5 3.8-1.5-3-1.3-2.5-2.2-2-1.7-3.2-2.5-2.5 0-2.6-2.1-1.7-.5-3.4-2.6-2.6 0-1.3-2.5-2.5-.6-2.7-.7-2.5-1.3-2.5 0-2.6-1.3-2.6-.5-2.3-2-2.8 0-2.6-1.3-3.8-1.7-2.1-.9-3-1.3-2.6-2.5-3.9-1.5-1.7-2.4-2.1-2.6-1.3-2.5 0-2.5-1.6-.1-3.5 0-1.3-1.3-2.6 1.3-3.8 0-1.3 0-2.6 0-3.8 1.3-2.6-1.3-2.5 0-2.6 0-2.6-1.3-2.5 1.3-2.6 0-3.9 0-1.2 0-3.9-1.3-1.3 1.3-3.8 0-1.3 0-2.6 0-3.8 0-2.6 0-2.6 0-3.8 0-1.3 0-2.6 0-2.5 0-3.9 1.3-1.3-1.3-2.5 0-2.6 0-3.8Z"/><path id="p4_15" d="M912 754l-2.5-4-1.1-2-2.6-1.3-2.6-2.6-1.2-1.6-2.6-2.2-1.3-1.3-1.3-2.6-2.3-1.4-2.8-1.1-1.3-3.9-1.3 0-2.1-2.5-1.7-2.6-2.6-1.3-1.3-1.3-1.9-2.3-.6-4.1 0-1.3-1.3-3.8-.6-3.3 .6-3.1 0-3.9 0-2.5 .6-3 .7-3.5 0-2.5 0-2.6 .6-3.9 .6-3.8 1.3-2.6 .6-2.3 5 1.2 2.1 1.1 2.9 3.9 3.5-1.3 2.7 .1 1.2 2.5 2.5 1.3 1.3 2.5 1.3 2.4 2.6 2.8 2.5 2.5 2.4 1 2.8 1.6 2.5 2.6 1.3 0 3.4 3.2 4.3 .6 2.6 0 3.1 .7 2 1.9 2.6 2.5 1.3 1.3 2.5 1.3 1.6 3 3.6-.4 2.5 2.5 3.9 .4 2.6-1.7 1.2 0 3.7-.8 2.7 2.1 2.6-1.3 2.2 1.7 2.9 .9 1.3 2.6 3.3 1.5 3.1 1 2.6 2.6 1.8 1.4 3.3 1.2 1.3 0 2.9 1.3 2.3-2.6 2.5 1.3 2.7-2.4 2.5-.2 1.2-1.3 3.9-2.5 2.6-1.3 2.5 0 2.3-2.3 2.9-.3 3.8 0 3.3 .3 .6 2.3 0 3.8-1.3 1.3 1.3 2.6 0 3.8 0 2.6 0 2.6 0 2.5-1.3 1.3 1.3 3.9 0 1.2 0 3.9-1.3 1.3 0 3.8 1.3 1.3-1.3 3.9 1.3 2.5 0 3.9-1.3 0 1.3 3.8-1.3 3.9 1.3 1.2-1.3 2.6 1.3 1.3-1.3 3.8 0 2.6 1.3 2.6-1.3 2.5 0 3.9 0 1.3 0 2.5 1.3 2.6 0 3.9-.6 1.8-3.3-.6-3.8 1.3-2.9-.7-1 3.3-2.6 1.3-2.5 1.3-2.6 3.8-1.3 1.3-2.5 1.5-2.6 1.1-1.3 0-3.6 1.4-2.8-1.4-1.3 0-3.8-2.6-2.1-1-3.1-1.6-2.5-2.5-2.6-1.3-1.8-2.1-2.1-.5-3.8-2.6-1.3 0-2.8-1.9-2.3-1.9-2.6-1.3 0-2.6-2.6-1.7-2.5-.8-2.6-1.3-2.4-.4-2.7-2.2-2.6-1.3-2.2-1.5-1.6-2.3-1.3-2.6-1.3-1.3-3.3-1.3-1.8-2.5-2.6-1.3-2.6-3.8-.5-2.4-2-1.5-1.3-3.8-2.6-2.6-1.6-2.1-2.2-3 0-1.3Z"/><path id="p4_16" d="M580 715l2.5 .9 2.5 1.3 2.5 .3 1.4 2.3 0 2.5 2.6 2.6 0 2.6 1.2 2.5 1.1 2.5 .2 2.7 2.6 2.5-1.3 1.3 1.3 2.6 1.3 2.5 2.5 2.6-.4 3.3 1.7 1.8 2.6 3.9 1.3 2.6 1.9 1.7 1.9 2.1 1.3 2.6 2.6 0 1.7 2.8 2.1 1 2.6 1.3 2.8 1.4 1-2.7 3.9-1.3 1.3-1.2 1.3-2.2 1.2-3 2.6-1.3 1.3-2.5 2.4-2 2.7-1.9 1.3-2.5 2.6-1.3 .9-1.8 1.6-2.1 1.3-3.8 0-2.6 2.6-2.6 2.5-1.2 0-3.9 2-1.3 1.9-1.3 0-5.1 1.3 0 2.5-3.8 1.3-2.6 .5-2.2-.5-2.9 2.6-3.9 0-2.6 .4-3.1 2.2-3.3 1.2-2.5 2.6-1.3 1.5-2.9 2.4-2.2 2.5-2.6 2.6-1.5 2.6 2.8 2.5 1.3 2.4 2.2 2.8 1.6 2.5 1.3 2.2 2.1 1.7 1.7 2.1 3.3-.8 1.9-1.3 2.5-1.3 2.6-.4 3-.9 3.4-1.3 3.9-.3 2.7-2.2 2.4 0 2.6-2.6 2.5-.2 2.5-1.1 1.4-2.6 2.5-1.2 2.6-2.6 1-1.3 2.9-2.6 2.5-1.2 2.6-2.4 2-1.5 3.1-2.6 1.3-1.2 1.3-2.2 1.8-1.7 3.3-1.3 2.6 0 1.3-1.3 2.5-.7 2.8-1.8 2.4-2.6 2.5-1.3 2.6-1.8 2.5-.7 2.6-1.3 2.6-1.3 2.6 0 2.5-1.7 2.2-2.2 1.7 0 2.5-1.2 3.9-1.3 1.3-.3 3.1-1 2-1.3 3.9-2.5 1.2 0 2.6-1.5 2.8-1.1 3.6-1.3 1.3-1.3 2.6-1.3 3.8-1.2 1.2 0 2.7-2.6 2.5-1.3 2.6-1.3 1.3-1 3.4-3.8 0-1.6-3.4 0-1.3-1.3-2.6-2.1-2.7-.4-2.4-1.3-2.6-1.3-3.8-2-1.2-.6-2.7-1.3-2.5-2.5-1.3-.6-3.5-2-1.6 0-3.9-1.3-1.3-1.3-2.5-.4-3.2-.8-3.3-1.3-2.5-1.3-2.6-1.6-1.6-2.3-2.2-2.5-1.3-2.7-1.5-3.7 .2-3.8-1.4-.1-2.5 0-2.5 1.3-3.9 0-1.3-2.6-2.5 2.6-3.9-1.3-1.2 0-3.9 1.3-1.3-1.3-3.8 0-2.6 0-2.6-1.3-2.5 1.3-2.6 0-2.6 0-2.5 1.3-2.6-1.3-3.8 0-1.3 0-2.6 1.3-2.6-2.6-2.5 1.3-2.6 0-3.8 0-2.6Z"/><path id="p4_17" d="M922 754l-2.5-4-2.2-2-1.2-1.3-2.6-1.3-1.5-2.9-2.4-.9-1.2-2.6-2.6-2.6-1.3-1.4-1.3-2.4 0-2.6-2.5-2.5 .1-2.5-.1-1.4-1.3-3.8 0-2.6-1.3-2.6-1.1-2.1-1.5-1.7 0-2.6-1.2-3.8-1.1-1.9 2.3-2 2.6-1.3 1.4-1.7 2.4 .5 2.6 0 2.5 2 1.4 1.8 1.2 3.8 1.3 1.3 1.1 3.1 1.5 .8 3.8 3.8 2.2 .4 .4 2.2 2.1 2.8 3-.2 2.6 2.5 4.4 .2 2 1.1 5.2 0 2.8 1.4 3.6 1.2 2.5 0 3.9 1.3 2.6 1.2 2.5 1.3 2.4 2.5 1.5-2.5 2.5-2.5 2.3-2.5 4.1-.1 2.1 .1 3.1 1.2 2.5 1.3 1.9 2.5 3.3 1.3 1.3 1.3 2.9 1.2 3.5-1.2 1.3 0 2.7-1.4 2.4-1.2 2.6-2.5 2.5-1.3 2.6 0 2.6-2.6 2.5-1.3 2.3-.5 4.1-.8 2.6 1.3 3.3-.5 .6 1.8-1.3 3.9 0 1.2 1.3 3.9-1.3 2.6 1.3 2.5-1.3 2.6 0 1.3 0 3.8 1.3 2.6 0 1.3 0 3.8-1.3 2.6 0 2.6 1.3 2.5-1.3 2.6 1.3 2.6 0 2.5-1.3 2.6 0 3.8 0 1.3 1.3 2.6 0 2.5 0 2.6-1.3 2.6 0 3.8 0 1.3 1.3 3.9-1.3 2.5 .7 2-4.6 .6-2.5 0-2.9-.6-2.3 1.9-2.5 1.3-1.3 3.8-1.3 1.3-3.9 1.3-1.2 2.9-2.6 .9-2.6 1.3-2.3 .3-2.8-2.9-2.6 0-2.1-2.1-3-1.7-2.6-1.3-1.3 0-3.1-2-2-1.8-1.3-2.6-2.5-1.3-1.7-1.8-.9-2-3.9-1.3-1.2-2.6-1.5-1.6-1.1-2.2-1.3-2.6-1.3-2.6-1.3-2.6-2.5-2.5-1.3-1.3-3.7-1.2-4-.1-3.5 .1-1.6-1.4-2.6-3.8-1.3-1.3-2-3.5-1.8-2.9-1.3 0-2.6-3.8-1.8-.8Z"/><path id="p4_18" d="M661.2 730l2.1-2.5 1.3-2.6 1.6-2.4 2.2-2.7 2.6-1.3 1.5-1 2.4-1.6 2.6-.9-.1 3.5 1.3 2.5-.7 4-.6 3.7-1.2 2.5-3.9 1.4-2.3 1.2-1.6 2.6-2.2 2.4-3.2 2.4-1-3.5 0-1.3-1.3-3.8Z"/><path id="p4_19" d="M601.2 782.5l3.1 .1 3.2 2.4 1.9 1.5 2.6 1.3 3-.3 3.4-1 2.6 0 2.8-1.5 1-2.4 2.6-2.5 1.4-2.6 2.4 1.3 2.6 1.2 0 3.9 1.3 2.6-1.3 3.8 .7 2.2-.7 1.7-1.3 2.5-1.3 3.3-1.2 3.2-1.3 2.5-1.2 3.1-1.4-1.8-1.3-3.8-1-3.2-.3 3.2-1.2 2.5 0 2.6 0 2.6-1.3 3.8 0 1.3-1 4-1.6-2.7 0-2.6-.9-4.7-.4-1.7-2.5-2.6-.8-3.2-1.8-.6-4.5-1.9-3.2-3.3-1.8-1.7-.8-3.4-1.3-2.6 1.3-3.8Z"/><path id="p4_20" d="M580 712.5l3 0 3.3 .8 3.7 1.7 .2 2.2 1.3 3.8 0 2.6 0 2.6 1.2 2.5-.2 3.8 .2 2.7 0 2.5 0 2.6 1.3 3.8-1.3 2.6 1.3 2.6 0 2.5-.2 3.2-1.1 3.3 0 2.5 0 3.9-1.2 1.3 1 4 .2 3.6-1.2 1.3-1.3 3.9-.2 2.4-3.7 .1-3.3 1.2-3 0-.1-2.4 1.3-3.9-1.3-1.3-1.3-2.5 2.6-3.9-1.3-2.5 0-1.3 0-2.6 0-3.8 0-2.6 0-3.9 0-1.2 0-2.6 0-3.9 0-1.2 1.3-3.9 0-2.6 0-2.5-1.3-2.6 0-3.8 0-2.6-1.3-2.6 1.3-1.3 0-2.5 0-3.9Z"/><path id="p4_21" d="M962 760l1.5-4.3-1.3-1.3 1.3-3.8 0-3.9 1-1.7 1.6-2.1 0-2.6 2.1-2.8 1.7-1.1 4.6-2.6 3.1 .1 1.3 2.5 3.1 1.1 3.3 .2 4.2 1.1 2.3-2.4 2.5-1.2 2.7-.2 1.2-1.1 5.1-2.6 1.2-1.3 2.7-1.3 2.5-1.2 2.3-1 .3 2.2 0 2.6 0 3.9 0 2.5 0 2.6-1.3 2.6 1.3 2.5 0 2.6-1.3 1.3 1.3 5.1-1.3 1.3 1.3 1.3 0 5.1 0 1.3 0 2.6 0 3.8 0 1.3 0 3.8 0 2.6 0 1.3 0 2.5-1.3 3.9 1.3 1.3 0 3.8-.3 2.2-2.3 3-1.3 1.2-2.5 0-2.6 2.6-1.3 1.3-2.5 1.9-2.6 .7-1.3 1.2-3.6 1.8-2.8-.5-1.3-2.5-3.4-.7-1.7-1.9-2.6-1.3-1.3-2.6-1.9-1.7-.6-2.1-2.6-2.6-1.3-2.5-3-2.8-.8-3.7-1.3-1.2-1.3-2.6-1.3-1.3-.3-3.7-1-4 0-1.3 0-3.8Z"/><path id="p4_22" d="M580 720l3 0 2 1 3.8 2.8 .1 2.4 1.3 3.8-1.3 1.3 1.3 2.6 1.3 3.8-1.3 1.3 1.3 3.9-.3 2.1 .3 3 0 3.8 1.2 1.3-2.5 3.9 1.3 2.5-1.3 3.9 1 1.6-1 2.2-3.9 2.6-1.3 1.3-2 2.7-3 0-.1-4 0-5.1 0-2.6-1.3-2.6 1.3-1.2 0-3.9 0-2.6 0-2.5 0-2.6 0-2.6 0-2.5 0-2.6 0-2.6 0-2.5 0-3.9 0-2.5 0-2.6 0-2.6Z"/><path id="p4_23" d="M970.8 760l.4-1.7 1.3-2.6 0-3.9 2-1.8 3.1-.7 2.6-1.3 1.8-1.8 4.6 .5 2.9 .8 3.5-.8 2.6-1.3 1.4-.4 3.7-2.1 1.3-2.6 2.5-.3 2.7-2.3 1.2-1.3 3.6-1.4 .3 2.7 0 3.9-1.3 1.3 1.3 2.5 0 2.6 0 2.6-1.3 3.8 1.3 1.3 0 2.6-1.3 3.8 1.3 2.6 0 2.5 0 2.6 0 2.6 0 2.5-1.3 2.6 1.3 2.6-1.3 3.8 0 2.6 1.3 1.3-.3 3.4-2.3 .4-3.8 0-1.3 2.6-2.6 0-2.5 .8-1.3 .5-3.9 2.5-2.3 .8-2.8-2.1-2.2-1.7-2.9-2.1 0-2.6-2.6-2.5-2-2.8-.6-2.4-2.5-2.5-1.3-2.6 0-2.6-1.9-2.4-.7-4-1.3-1.3 1.3-5.1Z"/><path id="p4_24" d="M580 723.8l3 0 3.3 1.1 1.2 3.9 1.4 2.5-1.3 3.9 0 2.5 1.3 2.6 0 1.3-.1 3.4 .1 3-1.3 2.6 0 2.5 1.3 2.6-1.3 2.6 0 3.8 .4 2.9-3 1-2 1.5-3 0-.1-2.8 0-2.6 1.3-2.6 0-2.5 0-3.9-1.3-1.3-1.3-2.5 1.3-3.9-1.3-2.5 1.3-2.6 0-2.6 0-3.8 0-1.3 0-3.9 0-2.5Z"/><path id="p4_25" d="M979.5 762.5l.7-4.2 1.8-2.1 3.3 .8 4.2-.8 2.3-.5 2.5-1.3 2.7-.6 2.5-.7 2.5-2.5 2.5-1.8 2.7-2.1 2.5 0 2.3-2.7 .3 4 0 1.3 0 3.8 0 2.6 0 2.6 0 1.2-1.3 3.9 1.3 2.6-1.3 2.5 1.3 2.6 0 3.8-1.3 2.6 1 2.5-2.3-1.2-2.5 0-3.9-1.3-1.3-1.3-1.3 3.9 0 2.5-2.5 1.3-1.2 3.6-2.7 1.5-1.3 1.3-2.2 2.2-2.9-3.5-.9-1.5-.4-2.3-1.3-2.6 0-2.5-1.2-2.6-.9-2.5-1.7-2.6 0-2.6 0-1.3-1.3-3.8Z"/><path id="p4_26" d="M580 730l3 0 2.5 2.5-.5 2.7 1.3 3.8 0 2.6-1.3 1.3 0 3.8 0 3.9 0 1.2 .5 3.2-2.5 2.5-3 0-.1-3.1 0-3.8 0-5.2 0-1.3 1.3-2.5-1.3-3.9 0-2.5 0-1.3Z"/></defs>
<clipPath id="c4"><path d="M582.6 483l426.8 0 0 423.5-426.8 0Z"/></clipPath>
<g clip-path="url(#c4)">
<path d="M570 470l452 0 0 448-452 0Z" fill="#00009c"/>
<use href="#p4_1" fill="#0000d4"/>
<use href="#p4_2" fill="#00009c"/>
<use href="#p4_3" fill="#00009c"/>
<use href="#p4_4" fill="#00009c"/>
<use href="#p4_5" fill="#00009c"/>
<use href="#p4_6" fill="#0022ff"/>
<use href="#p4_7" fill="#0070ff"/>
<use href="#p4_8" fill="#00b0ff"/>
<use href="#p4_9" fill="#00ffff"/>
<use href="#p4_10" fill="#00ffff"/>
<use href="#p4_11" fill="#ffffe2"/>
<use href="#p4_12" fill="#ffffe2"/>
<use href="#p4_13" fill="#ffffe2"/>
<use href="#p4_14" fill="#ffffc4"/>
<use href="#p4_15" fill="#ffffc4"/>
<use href="#p4_16" fill="#ffff98"/>
<use href="#p4_17" fill="#ffff98"/>
<use href="#p4_18" fill="#fff200"/>
<use href="#p4_19" fill="#fff200"/>
<use href="#p4_20" fill="#fff200"/>
<use href="#p4_21" fill="#fff200"/>
<use href="#p4_22" fill="#ffb000"/>
<use href="#p4_23" fill="#ffb000"/>
<use href="#p4_24" fill="#ff7000"/>
<use href="#p4_25" fill="#ff7000"/>
<use href="#p4_26" fill="#ff3000"/>
<rect x="573.6" y="483" width="435.8" height="438.7" fill="url(#tex)"/>
<path d="M573.6 554.7H1009.4M573.6 583.9H1009.4M573.6 700.9H1009.4M573.6 847.1H1009.4M573.6 876.3H1009.4" stroke="#fff" stroke-opacity=".3" stroke-width="1" fill="none"/>
<g fill="none" stroke="#000" stroke-width="1.7" stroke-linejoin="round"><use href="#p4_1"/><use href="#p4_2"/><use href="#p4_3"/><use href="#p4_4"/><use href="#p4_5"/><use href="#p4_6"/><use href="#p4_7"/><use href="#p4_8"/><use href="#p4_9"/><use href="#p4_10"/><use href="#p4_11"/><use href="#p4_12"/><use href="#p4_13"/><use href="#p4_14"/><use href="#p4_15"/><use href="#p4_16"/><use href="#p4_17"/><use href="#p4_18"/><use href="#p4_19"/><use href="#p4_20"/><use href="#p4_21"/><use href="#p4_22"/><use href="#p4_23"/><use href="#p4_24"/><use href="#p4_25"/><use href="#p4_26"/><path d="M591.2 720l.3 2.3 0 2.6 0 2.6 0 2.5 0 2.6-1.3 3.8 1.3 2.6 0 2.6 0 1.3 0 3.8-1.3 1.3 1.3 3.8 0 2.6 1.2 1.3-1.2 2.6 0 3.8 0 2.6 0 2.5 1.2 1.3-1.2 3.9 0 2.5-1.3 2.6 1.3 2.6 0 3.8 0 2.6 0 2.5 0 1.3 0 3.9 0 2.5-1.3 1.3 1.3 3.9 0 2.5 1.2 2.6-1.2 2.6 0 2.5 0 2.6 0 2.6 0 1.3-1.3 2.5 2.5 3.9-1.2 2.5 0 2.5M995.8 760l2.4 2.1 1.3 2.6 0 1.3 2.5 2.5 1.3 2.6 2.6 2.5 2.5 1.3 1.1 2.6M996.5 760.5l1.7 1.6 1.3 2.6 2.5 1.3 1.3 2.5 1.3 2.6 2.6 1.3 1.2 3.8 1.6 1.8M592 720l.7 2.3 0 2.6 0 2.6-1.2 3.8 1.2 2.6-1.2 2.5 0 2.6 1.2 1.3 0 3.8-1.2 1.3 1.2 3.9 0 1.3 0 3.8-1.2 1.3 0 3.8 1.2 2.6 0 3.9-1.2 0 1.2 3.8-1.2 3.8 .7 1.4-.7 2.5 1.2 2.6 0 2.5 0 3.9-1.2 1.3 0 2.5 1.2 2.6-1.2 2.6 1.2 3.8-1.2 1.3 0 3.8 1.2 2.6-1.2 2.6 1.2 1.3 0 2.5-1.2 3.9 1.2 1.3 0 3.8 0 2.6-1.2 2.5 .5 2.5M590.5 810l-.3 3.4 1.3 1.3 0 3.9 0 2.5 0 2.6-1.3 3.8 0 1.3 1.3 2.6 0 3.8-1.3 1.3 0 2.6 1.3 3.8-.5 2.1 .5 3.1 0 2.5 1.2 2.6-1.2 2.6 1 4.2"/></g>
<g class="cl"><text transform="translate(750.6 546.5) rotate(-50)" text-anchor="middle" dy="2.9">0.02</text><text transform="translate(792.5 568.5) rotate(-10)" text-anchor="middle" dy="2.9">0.04</text><text transform="translate(779 597) rotate(-20)" text-anchor="middle" dy="2.9">0.06</text><text transform="translate(768 623.6) rotate(-60)" text-anchor="middle" dy="2.9">0.08</text><text transform="translate(768 652) rotate(-75)" text-anchor="middle" dy="2.9">0.1</text><text transform="translate(816.7 676.4) rotate(70)" text-anchor="middle" dy="2.9">0.12</text><text transform="translate(686.7 689.6) rotate(10)" text-anchor="middle" dy="2.9">0.16</text><text transform="translate(675.7 707) rotate(-70)" text-anchor="middle" dy="2.9">0.18</text><text transform="translate(704.4 731.5) rotate(-60)" text-anchor="middle" dy="2.9">0.14</text><text transform="translate(715.4 731.5) rotate(-60)" text-anchor="middle" dy="2.9">0.12</text><text transform="translate(739.6 755.7) rotate(-30)" text-anchor="middle" dy="2.9">0.1</text><text transform="translate(794.7 733.7) rotate(30)" text-anchor="middle" dy="2.9">0.1</text><text transform="translate(633.9 766.7) rotate(-70)" text-anchor="middle" dy="2.9">0.18</text><text transform="translate(622.9 798) rotate(0)" text-anchor="middle" dy="2.9">0.18</text><text transform="translate(810 769) rotate(-45)" text-anchor="middle" dy="2.9">0.08</text><text transform="translate(812 788.8) rotate(-50)" text-anchor="middle" dy="2.9">0.06</text><text transform="translate(814.5 804) rotate(-30)" text-anchor="middle" dy="2.9">0.04</text><text transform="translate(920 698.5) rotate(20)" text-anchor="middle" dy="2.9">0.14</text><text transform="translate(959.9 737) rotate(0)" text-anchor="middle" dy="2.9">0.16</text><text transform="translate(904.8 773.4) rotate(50)" text-anchor="middle" dy="2.9">0.12</text><text transform="translate(968.7 695) rotate(20)" text-anchor="middle" dy="2.9">0.1</text><text transform="translate(993 694) rotate(10)" text-anchor="middle" dy="2.9">0.08</text><text transform="translate(964.3 630) rotate(30)" text-anchor="middle" dy="2.9">0.02</text><text transform="translate(653.7 837) rotate(-60)" text-anchor="middle" dy="2.9">0.08</text><text transform="translate(644.9 870) rotate(-55)" text-anchor="middle" dy="2.9">0.06</text><text transform="translate(695.5 883) rotate(0)" text-anchor="middle" dy="2.9">0.02</text><text transform="translate(622.9 901) rotate(20)" text-anchor="middle" dy="2.9">0.04</text><text transform="translate(600.8 705) rotate(70)" text-anchor="middle" dy="2.9">0.1</text><text transform="translate(600 656.6) rotate(50)" text-anchor="middle" dy="2.9">0.02</text></g>

</g>
<path d="M573.6 483H1009.4V921.7H573.6ZM573.6 483v-4.6M573.6 921.7v3.4M585.1 483v-7.3M585.1 921.7v5.4M597.9 483v-4.6M597.9 921.7v3.4M610.8 483v-7.3M610.8 921.7v5.4M623.6 483v-4.6M623.6 921.7v3.4M636.4 483v-7.3M636.4 921.7v5.4M649.2 483v-4.6M649.2 921.7v3.4M662.1 483v-7.3M662.1 921.7v5.4M674.9 483v-4.6M674.9 921.7v3.4M687.7 483v-7.3M687.7 921.7v5.4M700.6 483v-4.6M700.6 921.7v3.4M713.4 483v-7.3M713.4 921.7v5.4M726.2 483v-4.6M726.2 921.7v3.4M739.1 483v-7.3M739.1 921.7v5.4M751.9 483v-4.6M751.9 921.7v3.4M764.7 483v-7.3M764.7 921.7v5.4M777.5 483v-4.6M777.5 921.7v3.4M790.4 483v-7.3M790.4 921.7v5.4M803.2 483v-4.6M803.2 921.7v3.4M816 483v-7.3M816 921.7v5.4M828.9 483v-4.6M828.9 921.7v3.4M841.7 483v-7.3M841.7 921.7v5.4M854.5 483v-4.6M854.5 921.7v3.4M867.4 483v-7.3M867.4 921.7v5.4M880.2 483v-4.6M880.2 921.7v3.4M893 483v-7.3M893 921.7v5.4M905.9 483v-4.6M905.9 921.7v3.4M918.7 483v-7.3M918.7 921.7v5.4M931.5 483v-4.6M931.5 921.7v3.4M944.3 483v-7.3M944.3 921.7v5.4M957.2 483v-4.6M957.2 921.7v3.4M970 483v-7.3M970 921.7v5.4M982.8 483v-4.6M982.8 921.7v3.4M995.7 483v-7.3M995.7 921.7v5.4M1009.4 483v-4.6M1009.4 921.7v3.4M573.6 921.7h-7M1009.4 921.7h5.6M573.6 892.4h-7M1009.4 892.4h5.6M573.6 863.2h-7M1009.4 863.2h5.6M573.6 833.9h-7M1009.4 833.9h5.6M573.6 804.7h-7M1009.4 804.7h5.6M573.6 775.5h-7M1009.4 775.5h5.6M573.6 746.2h-7M1009.4 746.2h5.6M573.6 717h-7M1009.4 717h5.6M573.6 687.7h-7M1009.4 687.7h5.6M573.6 658.5h-7M1009.4 658.5h5.6M573.6 629.2h-7M1009.4 629.2h5.6M573.6 600h-7M1009.4 600h5.6M573.6 570.7h-7M1009.4 570.7h5.6M573.6 541.5h-7M1009.4 541.5h5.6M573.6 512.2h-7M1009.4 512.2h5.6M573.6 483h-7M1009.4 483h5.6" fill="none" stroke="#000" stroke-width="1.4"/>
<g class="tk"><text x="561.3" y="924.4" text-anchor="end">1</text><text x="561.3" y="895.1" text-anchor="end">2</text><text x="561.3" y="865.9" text-anchor="end">3</text><text x="561.3" y="836.6" text-anchor="end">4</text><text x="561.3" y="807.4" text-anchor="end">5</text><text x="561.3" y="778.2" text-anchor="end">6</text><text x="561.3" y="748.9" text-anchor="end">7</text><text x="561.3" y="719.7" text-anchor="end">8</text><text x="561.3" y="690.4" text-anchor="end">9</text><text x="561.3" y="661.2" text-anchor="end">10</text><text x="561.3" y="631.9" text-anchor="end">11</text><text x="561.3" y="602.7" text-anchor="end">12</text><text x="561.3" y="573.4" text-anchor="end">13</text><text x="561.3" y="544.2" text-anchor="end">14</text><text x="561.3" y="514.9" text-anchor="end">15</text><text x="561.3" y="485.7" text-anchor="end">16</text><text x="585.1" y="939.7" text-anchor="middle">−80</text><text x="610.8" y="939.7" text-anchor="middle">−70</text><text x="636.4" y="939.7" text-anchor="middle">−60</text><text x="662.1" y="939.7" text-anchor="middle">−50</text><text x="687.7" y="939.7" text-anchor="middle">−40</text><text x="713.4" y="939.7" text-anchor="middle">−30</text><text x="739.1" y="939.7" text-anchor="middle">−20</text><text x="764.7" y="939.7" text-anchor="middle">−10</text><text x="790.4" y="939.7" text-anchor="middle">0</text><text x="816" y="939.7" text-anchor="middle">10</text><text x="841.7" y="939.7" text-anchor="middle">20</text><text x="867.4" y="939.7" text-anchor="middle">30</text><text x="893" y="939.7" text-anchor="middle">40</text><text x="918.7" y="939.7" text-anchor="middle">50</text><text x="944.3" y="939.7" text-anchor="middle">60</text><text x="970" y="939.7" text-anchor="middle">70</text><text x="995.7" y="939.7" text-anchor="middle">80</text></g>
</g>
<rect x="236.3" y="959.5" width="38.7" height="23.8" fill="#00009c"/>
<rect x="274.7" y="959.5" width="38.7" height="23.8" fill="#0000d4"/>
<rect x="313.1" y="959.5" width="38.7" height="23.8" fill="#0022ff"/>
<rect x="351.4" y="959.5" width="38.7" height="23.8" fill="#0070ff"/>
<rect x="389.8" y="959.5" width="38.7" height="23.8" fill="#00b0ff"/>
<rect x="428.2" y="959.5" width="38.7" height="23.8" fill="#00ffff"/>
<rect x="466.6" y="959.5" width="38.7" height="23.8" fill="#ffffe2"/>
<rect x="505" y="959.5" width="38.7" height="23.8" fill="#ffffc4"/>
<rect x="543.3" y="959.5" width="38.7" height="23.8" fill="#ffff98"/>
<rect x="581.7" y="959.5" width="38.7" height="23.8" fill="#fff200"/>
<rect x="620.1" y="959.5" width="38.7" height="23.8" fill="#ffb000"/>
<rect x="658.5" y="959.5" width="38.7" height="23.8" fill="#ff7000"/>
<rect x="696.9" y="959.5" width="38.7" height="23.8" fill="#ff3000"/>
<rect x="735.2" y="959.5" width="38.7" height="23.8" fill="#e00000"/>
<rect x="773.6" y="959.5" width="38.7" height="23.8" fill="#a00000"/>
<path d="M236.3 959.5H812V983.3H236.3ZM236.3 983.3v9M274.7 983.3v9M313.1 983.3v9M351.4 983.3v9M389.8 983.3v9M428.2 983.3v9M466.6 983.3v9M505 983.3v9M543.3 983.3v9M581.7 983.3v9M620.1 983.3v9M658.5 983.3v9M696.9 983.3v9M735.2 983.3v9M773.6 983.3v9M812 983.3v9" fill="none" stroke="#000" stroke-width="1.3"/>
<g class="cb"><text x="236.3" y="1007.3" text-anchor="middle">0.00</text><text x="274.7" y="1007.3" text-anchor="middle">0.02</text><text x="313.1" y="1007.3" text-anchor="middle">0.04</text><text x="351.4" y="1007.3" text-anchor="middle">0.06</text><text x="389.8" y="1007.3" text-anchor="middle">0.08</text><text x="428.2" y="1007.3" text-anchor="middle">0.10</text><text x="466.6" y="1007.3" text-anchor="middle">0.12</text><text x="505" y="1007.3" text-anchor="middle">0.14</text><text x="543.3" y="1007.3" text-anchor="middle">0.16</text><text x="581.7" y="1007.3" text-anchor="middle">0.18</text><text x="620.1" y="1007.3" text-anchor="middle">0.20</text><text x="658.5" y="1007.3" text-anchor="middle">0.22</text><text x="696.9" y="1007.3" text-anchor="middle">0.24</text><text x="735.2" y="1007.3" text-anchor="middle">0.26</text><text x="773.6" y="1007.3" text-anchor="middle">0.28</text><text x="812" y="1007.3" text-anchor="middle">0.30</text><text x="820.4" y="976.7">Prob. for cth</text></g>
</svg></body></html>
